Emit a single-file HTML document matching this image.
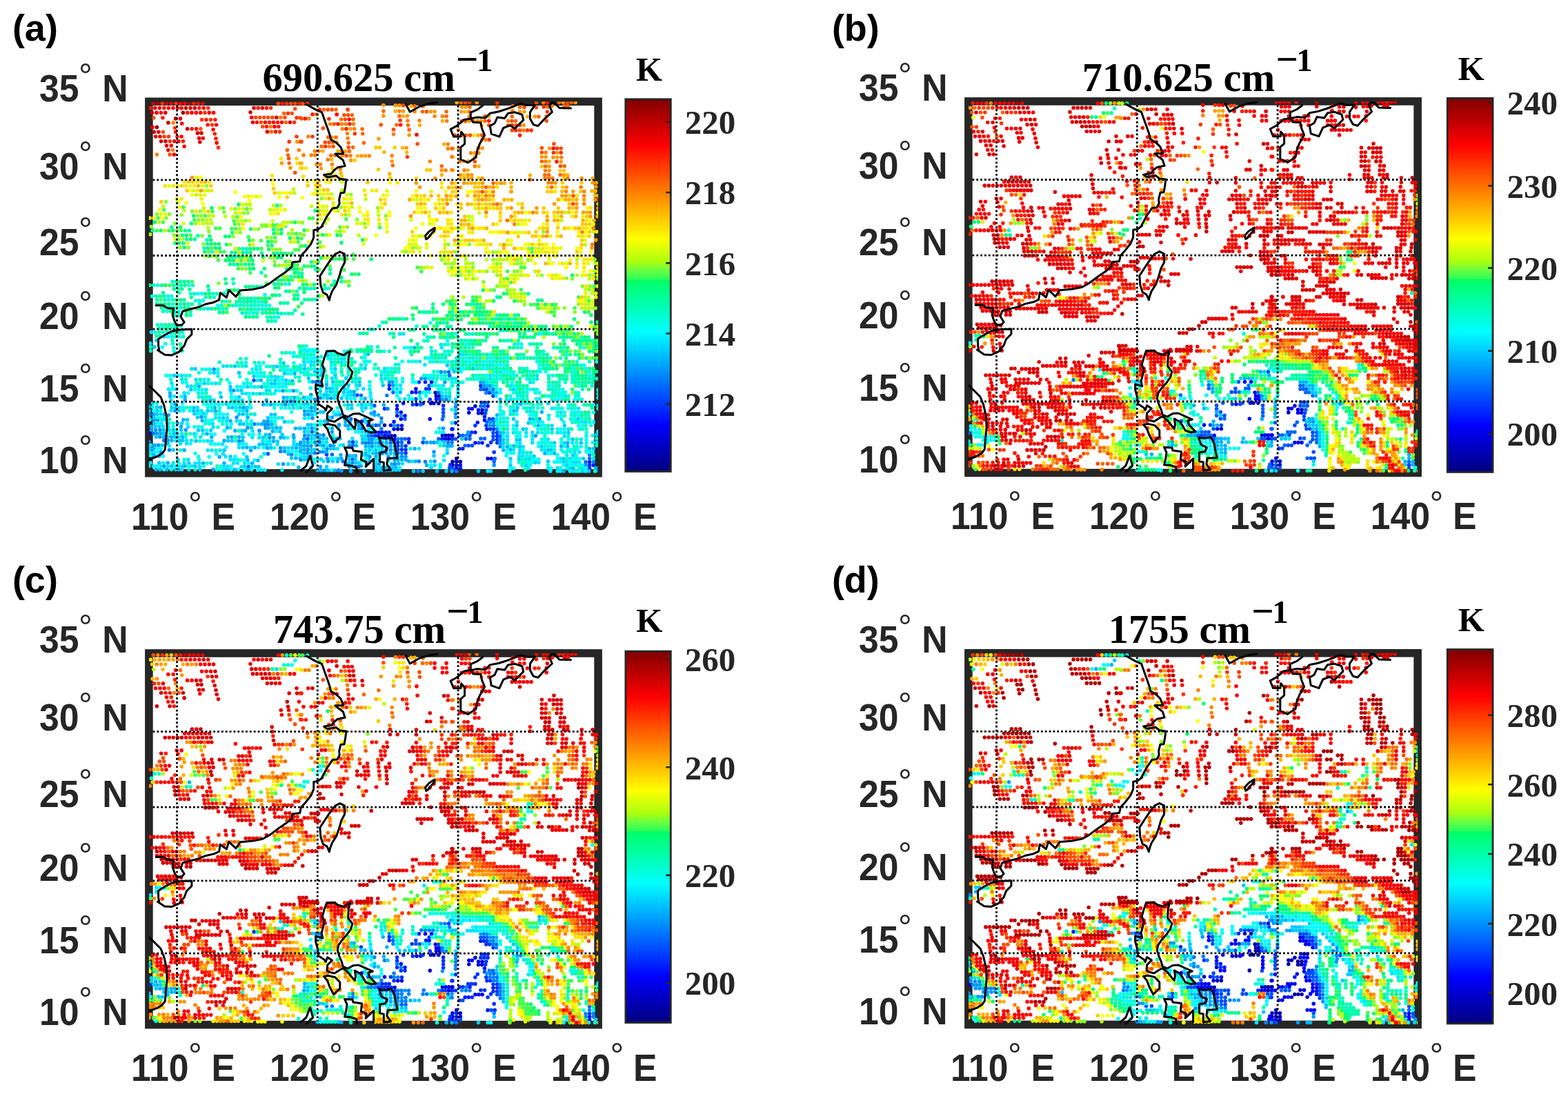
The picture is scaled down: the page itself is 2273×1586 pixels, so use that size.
<!DOCTYPE html>
<html lang="en"><head><meta charset="utf-8"><title>Brightness temperature maps</title>
<style>html,body{margin:0;padding:0;background:#fff}body{width:2273px;height:1586px;overflow:hidden}svg{display:block}.s{font-family:"Liberation Sans", Arial, Helvetica, sans-serif;font-weight:bold;font-size:52.5px;fill:#262626}.p{font-family:"Liberation Sans", Arial, Helvetica, sans-serif;font-weight:bold;font-size:54px;fill:#000}.t{font-family:"Liberation Serif", "Times New Roman", Times, serif;font-weight:bold;font-size:58.5px;fill:#000}.u{font-family:"Liberation Serif", "Times New Roman", Times, serif;font-weight:bold;font-size:46.8px;fill:#000}.k{font-family:"Liberation Serif", "Times New Roman", Times, serif;font-weight:bold;font-size:49px;fill:#000}.c{font-family:"Liberation Serif", "Times New Roman", Times, serif;font-weight:bold;font-size:49px;fill:#262626}.o{font-family:"Liberation Sans", Arial, Helvetica, sans-serif;font-weight:normal;font-size:49.5px;fill:#262626}.g{stroke:#000;stroke-width:2.8;stroke-dasharray:2.8 3.05;fill:none}.l{stroke:#000;stroke-width:3;fill:none;stroke-linejoin:round;stroke-linecap:round}.d{fill:none;stroke-width:5.6;stroke-linecap:round}</style></head><body>
<svg width="2273" height="1586" viewBox="0 0 2273 1586">
<defs><linearGradient id="jet" x1="0" y1="0" x2="0" y2="1"><stop offset="0" stop-color="#800000"/><stop offset="0.125" stop-color="#ff0000"/><stop offset="0.375" stop-color="#ffff00"/><stop offset="0.4373" stop-color="#aaff10"/><stop offset="0.46" stop-color="#69ff41"/><stop offset="0.485" stop-color="#28ff5a"/><stop offset="0.4851" stop-color="#00ff64"/><stop offset="0.625" stop-color="#00ffff"/><stop offset="0.875" stop-color="#0000ff"/><stop offset="1" stop-color="#000080"/></linearGradient>
<clipPath id="ax"><rect x="215.9" y="147.3" width="651.2" height="538.6"/></clipPath>
<g id="coast" class="l"><path d="M444.5 151.5L457.6 158.9L466.6 162.8L471.2 175.9L475.7 188.4L478.0 195.2L479.7 202.6L487.1 206.5L493.9 213.3L496.7 220.1L497.9 223.0L485.9 223.0L490.5 227.0L497.3 232.1L500.1 240.6L489.3 242.8L483.7 247.4L480.3 251.9L469.5 253.6L474.6 257.0L487.1 254.8L492.8 259.3L501.8 260.4L500.7 270.1L499.0 279.2L493.9 279.7L491.6 289.4L492.2 295.1L488.8 301.3L482.0 301.9L473.5 314.4L466.6 327.5M588.1 150.9L594.3 162.3L608.5 154.3L622.2 150.3L633.5 148.6M436.0 372.9L434.5 379.1L423.7 380.3L423.2 386.5L414.6 393.9L402.2 402.4L390.8 410.9L380.6 416.6L367.0 419.4L348.2 421.1L342.0 430.2L331.8 420.6L328.4 431.4L319.3 424.5L317.6 434.8L310.2 438.2L297.7 441.0L288.6 445.0L277.3 447.8L264.8 451.2L262.0 459.2L267.1 467.1L263.7 471.1L256.3 471.7L252.9 465.4L250.1 456.9L251.8 447.3L243.2 446.7L236.4 442.7L226.2 442.7M230.8 507.5L229.6 501.2L229.6 491.5L238.7 485.8L248.9 480.2L261.4 477.9L277.9 477.3L277.9 484.7L270.5 492.1L267.1 501.2L261.4 507.5M467.8 327.5L461.0 332.6L454.7 333.7L454.7 344.5L450.8 353.6L442.8 363.8L436.0 371.2M492.8 365.0L499.6 368.4L499.6 380.8L495.0 389.4L491.6 401.3L487.6 412.6L481.4 422.3L478.6 429.7L477.4 435.3L474.0 427.4L468.3 424.0L464.9 413.8L463.8 400.1L471.2 388.8L480.3 375.2L485.9 368.4L492.8 365.0M617.6 346.8L616.5 341.7L622.2 335.4L630.1 330.3L630.1 333.7L624.4 340.0L619.9 345.7L617.6 346.8M216.0 559.1L223.9 566.5L233.0 575.6L237.6 587.0L241.5 604.0L242.1 621.0L240.4 638.0L239.3 651.7L235.3 657.3L227.4 661.9L216.0 666.4M228.5 507.5L238.7 514.3L248.9 514.9L258.0 510.9L263.7 507.5M473.5 509.2L484.8 508.6L489.3 512.0L498.4 514.9L503.0 511.5L507.5 509.2L505.2 518.9L504.7 531.3L510.9 539.3L508.6 547.2L503.0 555.2L495.0 564.3L490.5 571.1L489.3 577.9L491.6 585.8L495.0 593.8L497.3 601.7L504.1 604.5L512.0 600.0L520.0 599.4L531.3 604.5L540.4 608.5L533.6 610.2L535.9 616.5L545.0 626.1L538.2 627.3L530.2 624.4L525.7 616.5L522.3 611.9L514.3 607.4L515.5 615.3L514.3 622.1L504.1 609.7L497.3 604.0M473.5 509.2L470.1 518.9L467.2 529.1L470.1 535.9L468.3 545.0L466.1 552.9L467.8 560.3L457.6 557.4L457.6 565.4L460.4 575.6L461.5 585.8L470.1 591.5L472.3 594.9L474.6 588.1L481.4 592.6L474.6 599.4L474.0 607.4L478.0 609.7L484.8 611.4L492.8 606.3L497.3 604.0M469.5 615.9L475.7 614.8L485.9 617.0L492.8 624.4L492.8 633.5L483.7 642.0L478.0 631.2L474.6 622.1L469.5 615.9M549.5 634.6L558.6 635.8L567.7 634.1L572.2 643.7L573.9 653.9L576.2 664.1L562.0 664.7L560.9 673.2L566.5 681.2L556.3 682.3L556.3 670.4L550.6 669.2L550.6 656.2L558.6 655.1L561.4 649.4L552.9 644.8L549.5 634.6M517.7 684.6L516.6 677.8L508.6 674.9L499.6 674.4L501.8 665.3L503.0 656.2L499.6 648.8L510.9 649.4L512.0 653.4L524.5 655.1L523.4 666.4L531.3 669.8L530.2 676.6L541.6 665.3L541.6 682.3M436.0 682.3L443.9 675.5L449.6 660.7L453.6 675.5L443.9 684.6M682.3 171.9L672.6 173.4L667.8 177.8L661.9 182.6L653.2 187.4L657.6 198.1L667.8 198.1L668.7 191.3L673.6 197.1L673.6 208.7L667.8 213.6L667.8 231.0L678.4 235.8L690.0 228.1L692.0 217.4L695.8 207.8L702.6 196.1L698.7 186.5L696.8 177.8L686.1 177.3L682.3 171.9M699.7 153.1L692.0 158.9L682.3 163.2L682.3 171.9L692.0 170.0L703.6 171.0L710.3 164.2L722.9 161.8L736.5 157.4L754.9 150.2L763.6 152.6L775.2 152.6L768.4 162.7L768.4 171.9L773.3 180.7L780.0 182.6L788.8 172.9L800.4 162.3L796.5 153.6L801.3 146.8L811.0 156.5L827.5 156.9M710.3 182.6L717.1 178.7L721.0 170.0L731.6 171.5L736.5 164.2L746.2 162.7L756.8 166.1L758.8 173.9L746.2 186.5L739.4 181.6L729.7 185.5L723.9 198.1L712.3 194.2L710.3 182.6"/></g>
<g id="grid" class="g">
<path d="M256.5 152.9V680.9"/>
<path d="M460.3 152.9V680.9"/>
<path d="M664.1 152.9V680.9"/>
<path d="M221.5 260.9H862.1"/>
<path d="M221.5 370.5H862.1"/>
<path d="M221.5 477.2H862.1"/>
<path d="M221.5 582.4H862.1"/>
</g>
</defs>
<rect width="2273" height="1586" fill="#fff"/>
<g transform="translate(0 0)">
<rect x="215.9" y="147.3" width="651.2" height="538.6" fill="none" stroke="#262626" stroke-width="11.6"/>
<g class="d" clip-path="url(#ax)"><path stroke="#000099" d="M698.6 598.9h0M557.5 616.5h0M576.7 622.1h0M582.4 622.1h0M661.7 664.7h0M656 669.2h0"/>
<path stroke="#0000b3" d="M632.4 574.5h0M646 631.2h0M572.2 631.8h0M667.4 669.2h0M656 674.4h0"/>
<path stroke="#0000cc" d="M631.2 569.4h0M636.9 574.5h0M635.8 584.7h0M688.9 588.7h0M699.1 594.3h0M641.4 631.2h0M650.5 631.2h0M655.1 631.2h0M650.2 636.3h0M655.1 636.3h0M707.1 664.7h0"/>
<path stroke="#0000e6" d="M625.6 554h0M624.4 584.7h0M679.8 598.3h0M581.3 607.4h0M623.3 607.4h0M656 631.2h0M712.2 664.7h0M661.7 669.2h0M661.7 678.9h0"/>
<path stroke="#0000ff" d="M602.9 563.7h0M629 584.7h0M604 586.4h0M575.6 593.2h0M581.3 597.7h0M575.6 602.8h0M587 602.8h0M702.5 609.1h0M566.5 616.5h0M571.1 622.1h0M655.1 622.1h0M554 626.7h0M216 628.4h0M557.7 631.8h0M567.4 631.8h0M645.4 636.3h0M592.6 641.4h0M688.9 642h0M656 682.9h0"/>
<path stroke="#0019ff" d="M616.5 554h0M564.3 563.7h0M597.2 568.8h0M602.9 568.8h0M632.4 579h0M584.7 584.7h0M613.1 584.7h0M575.6 588.1h0M707.1 588.7h0M679.8 592.6h0M684.4 592.6h0M693.5 594.3h0M693.5 598.9h0M702.5 604h0M524.5 610.8h0M571.1 611.4h0M692.3 612.5h0M660.5 613.1h0M533.6 616.5h0M582.4 617h0M656 622.1h0M705.9 622.1h0M549.5 626.7h0M559.2 626.7h0M688.9 626.7h0M548.1 631.8h0M562.6 631.8h0M640.6 636.3h0M572.2 636.9h0M699.1 642h0M670.8 650.5h0M854.6 669.8h0M661.7 674.4h0M667.4 674.4h0M860.3 674.4h0M667.4 678.9h0"/>
<path stroke="#0033ff" d="M607.4 554h0M564.3 558.6h0M696.9 559.4h0M617.6 563.7h0M622.2 563.7h0M709.7 569.4h0M715 574.1h0M623.3 579h0M636.9 579h0M642.6 588.1h0M557.5 592.6h0M688.9 617h0M704.8 617h0M710.9 622.1h0M715.8 622.1h0M564.3 626.7h0M683.8 626.7h0M720.7 627.3h0M543.3 631.8h0M720.7 632.4h0M592.6 636.3h0M656 636.3h0M566.2 636.9h0M720.7 637.5h0M511.5 640.9h0M576.7 641.4h0M711.6 641.4h0M720.7 642h0M707.1 646h0M576.7 646.5h0M588.1 646.5h0M666.2 650.5h0M582.4 651.7h0M588.1 651.7h0M716.2 655.6h0M588.1 656.8h0M473.5 659h0M652.8 673.8h0M854.6 674.4h0M854.6 678.9h0"/>
<path stroke="#004dff" d="M368.1 551.2h0M622.2 559.1h0M701.4 564.5h0M705.9 564.5h0M517.7 572.8h0M602.9 578.4h0M698 583.5h0M702.5 583.5h0M598.3 586.4h0M542.7 588.1h0M642.6 593.2h0M704.8 594.3h0M642.6 598.3h0M703.7 598.9h0M709.3 607.4h0M714.5 607.4h0M545 616.5h0M576.7 617h0M544.6 626.7h0M715 627.3h0M666.2 631.2h0M681 631.2h0M552.9 631.8h0M715 632.4h0M660.5 636.3h0M715 637.5h0M613.1 641.4h0M694 642h0M679.3 646h0M684.4 646h0M576.7 651.7h0M576.7 656.8h0M651.7 677.8h0M656 678.9h0"/>
<path stroke="#0066ff" d="M650.5 539.3h0M651.7 544.4h0M696.9 564.5h0M715 564.5h0M569.9 568.8h0M608.5 568.8h0M635.8 569.4h0M523.4 573.3h0M707.1 583.5h0M609.7 586.4h0M696.9 588.7h0M702 588.7h0M642.6 603.4h0M508.6 607.4h0M587 607.4h0M641.4 608h0M534.8 611.9h0M705.9 611.9h0M524.5 621.6h0M452.3 626.1h0M671.1 631.2h0M538.4 631.8h0M725.2 632.4h0M445.8 636.3h0M582 636.3h0M587.3 636.3h0M635.8 636.3h0M675.3 636.3h0M681 636.3h0M696.9 635.8h0M702.5 635.8h0M485.9 640.3h0M463.2 640.9h0M582.4 641.4h0M566.2 642h0M572.2 642h0M511.5 646h0M674.2 646h0M388.5 657.9h0M481.4 659h0M717.3 664.7h0M854.6 664.7h0M510.9 665.8h0M497.3 668.7h0M716.2 669.2h0M849 669.8h0M360.2 676.6h0"/>
<path stroke="#0080ff" d="M639.2 539.3h0M458.1 553.5h0M463.2 553.5h0M704.8 569.4h0M560.9 573.3h0M464.4 576.7h0M647.1 579h0M660.5 589.8h0M562 592.6h0M575.6 597.7h0M660.5 600h0M217.1 600.6h0M552.9 606.3h0M228.5 608.5h0M518.9 611.9h0M715.8 611.9h0M368.9 614.8h0M549.5 616.5h0M715.4 617h0M552.9 621.6h0M720.7 622.1h0M222.8 628.4h0M468.9 630.7h0M533.6 631.8h0M576.7 636.3h0M725.2 637.5h0M237.6 638.6h0M346.5 639.2h0M216 640.3h0M649.4 641.4h0M655.1 641.4h0M530.2 642h0M534.8 642h0M549.5 642h0M478.8 646h0M582.4 646.5h0M725.2 647.5h0M474 650.5h0M245.5 652.2h0M560.1 652.2h0M406.7 654.5h0M463.2 655.1h0M456.4 656.8h0M582.4 656.8h0M422.6 659h0M854.6 659.6h0M535.9 662.4h0M435.1 664.1h0M607.4 668.7h0M616.5 669.2h0M860.3 669.8h0M510.9 671h0M572.2 672.7h0M506.4 676.6h0M520 676.6h0M564.3 677.8h0M490.5 681.7h0M606.3 682.9h0M661.7 682.9h0"/>
<path stroke="#0099ff" d="M310.2 535.3h0M610.8 548.9h0M616.5 548.9h0M453 553.5h0M564.3 553.5h0M568.8 553.5h0M644.9 554h0M696.9 554.3h0M569.9 558.6h0M701.4 559.4h0M710.5 559.4h0M338.6 566h0M410.1 566.5h0M425.4 566.5h0M450.8 572.2h0M479.7 577.3h0M456.4 579h0M641.4 579h0M421.4 581.3h0M254.6 585.8h0M413.7 586.4h0M353 590.9h0M451.3 590.9h0M253.8 595.5h0M441.7 596h0M542.7 597.2h0M447 601.1h0M492.8 601.1h0M244.4 601.7h0M581.3 602.8h0M292 604.5h0M343.1 605.1h0M481.4 605.1h0M453 606.3h0M499.6 606.3h0M782 607.4h0M223.4 608.5h0M388.2 610.8h0M474.6 610.8h0M710.9 611.9h0M257.2 613.6h0M384 615.3h0M388.5 615.3h0M491.6 615.9h0M571.1 617h0M710.1 617h0M359 619.9h0M385.1 620.4h0M452.2 621h0M642.6 621h0M219.4 623.3h0M225.6 623.3h0M231.9 623.3h0M269.3 623.3h0M376 624.4h0M481.4 626.1h0M678.7 626.7h0M227.9 628.4h0M441.7 631.2h0M676.1 631.2h0M776.3 631.8h0M231.9 633.5h0M390.8 634.6h0M534.8 636.9h0M539.3 636.9h0M243.2 638.6h0M436 641.4h0M456.4 641.4h0M618.7 641.4h0M629 641.4h0M525.7 642h0M539.3 642h0M725.2 642.6h0M435.1 644.3h0M229.9 645.4h0M468.9 646h0M506.4 646h0M450.8 646.5h0M539.3 647.1h0M554 647.1h0M406.7 649.4h0M446.2 651.7h0M566.2 652.2h0M363.6 652.8h0M412.4 654.5h0M468.3 655.1h0M629 655.1h0M233 655.6h0M436 656.8h0M446.2 656.8h0M554 657.3h0M563.1 662.4h0M582.4 661.9h0M588.1 661.9h0M474.6 664.7h0M436 666.4h0M475.7 668.7h0M630.1 668.7h0M504.1 672.1h0M410.5 672.7h0M549.5 672.7h0M716.2 674.4h0M849 674.4h0M237.6 675.7h0M464.4 676.6h0M515.5 676.6h0M309.1 680.6h0M470.4 681.7h0M495 682.3h0M564.3 681.7h0M868.3 682.9h0"/>
<path stroke="#00b2ff" d="M601 504h0M533.6 513.2h0M456.4 538.1h0M644.9 539.3h0M427.1 541.6h0M378.3 551.2h0M423.7 552.3h0M701.4 554.3h0M473.5 557.4h0M465.5 558.6h0M705.9 559.4h0M288.6 559.9h0M379 560.8h0M473.5 563.1h0M513.2 567.7h0M580.2 568.8h0M714.6 569.4h0M719.6 569.4h0M246.6 569.9h0M513.2 572.8h0M246.6 574.5h0M268.2 575h0M411.2 576.2h0M426.6 576.2h0M440.5 576.2h0M529.1 577.9h0M725.2 579h0M268.2 579.6h0M386.3 580.1h0M426.6 581.3h0M660.5 584.7h0M381.7 586.4h0M392.4 586.4h0M754.8 585.8h0M556.3 587h0M216 589.2h0M233 590.4h0M311.3 590.9h0M357.9 595.5h0M744.5 595.5h0M312.5 596h0M451.5 596h0M785.4 597.2h0M538.2 599.4h0M223.4 600.6h0M238.1 600.6h0M441.7 601.1h0M542.7 601.7h0M548.4 601.7h0M720.7 601.7h0M359 605.1h0M660.5 605.1h0M216 605.7h0M768.4 607.4h0M265.9 608.5h0M293.2 609.7h0M334 610.2h0M382.9 610.8h0M500.7 611.4h0M507.5 611.9h0M552.9 611.9h0M379.5 614.8h0M393.6 615.3h0M500.7 616.5h0M520 616.5h0M524.5 616.5h0M540.4 616.5h0M505.2 617h0M780.3 617h0M219.4 618.2h0M262.5 618.2h0M329.5 619.9h0M389.7 620.4h0M401 620.4h0M428.3 621h0M441.4 621h0M481.4 621h0M520 621.6h0M340.9 624.4h0M355.6 624.4h0M395.3 625.5h0M534.8 626.7h0M539.7 626.7h0M725.2 627.3h0M233 628.4h0M300 629h0M390.8 630.1h0M425.4 630.7h0M447 631.2h0M457.6 631.2h0M463.2 630.7h0M237.6 633.5h0M248.2 633.5h0M264.8 633.5h0M306.8 633.5h0M335.9 633.5h0M346.5 633.5h0M396.5 634.6h0M406.7 634.6h0M426 634.6h0M440.5 636.3h0M463.2 635.8h0M488.2 635.8h0M492.8 635.8h0M614.2 635.8h0M560.1 636.9h0M248.9 638.6h0M325 638.9h0M351.6 639.2h0M396.5 639.7h0M446.2 641.4h0M506.4 640.9h0M624.4 641.4h0M554 642h0M560.1 642h0M822.9 642h0M243.2 643.1h0M224.5 645.4h0M458.7 645.4h0M483.7 646h0M516.6 646h0M436 646.5h0M440.9 646.5h0M445.8 646.5h0M530.2 647.1h0M566.2 647.1h0M572.2 647.1h0M648.3 646.5h0M651.7 646.5h0M655.1 646.5h0M735.5 647.5h0M744.5 646.5h0M813.8 647.1h0M822.9 647.1h0M357.9 648.8h0M369.2 648.8h0M387.4 649.4h0M429.4 649.4h0M222.4 650.5h0M601.2 650.5h0M854.6 650.5h0M436 651.7h0M441.1 651.7h0M572.2 652.2h0M740 651.7h0M267.1 652.6h0M729.8 652.6h0M435.1 654.5h0M473.5 655.1h0M530.2 657.3h0M545 657.3h0M549.5 657.3h0M560.1 657.3h0M572.2 657.3h0M789.9 657.3h0M803.6 657.3h0M418 657.9h0M223.9 660.2h0M493.9 659.6h0M531.3 659.6h0M230.8 661.3h0M506.4 660.7h0M515.5 660.7h0M318.2 662.4h0M450.8 661.9h0M545 662.4h0M428.8 664.1h0M495 664.7h0M446.2 666.4h0M576.7 666.4h0M582.4 666.4h0M588.1 666.4h0M359 667h0M373.8 667.5h0M572.2 667.5h0M489.3 668.7h0M592.6 668.7h0M602.5 668.7h0M535.9 669.8h0M243.2 671h0M294.3 671.5h0M325 671.5h0M365.8 671.5h0M577.9 672.1h0M567.7 672.7h0M618.7 674.4h0M523.4 675.5h0M268.2 675.7h0M432.8 677.2h0M450.8 677.8h0M554 677.8h0M573.9 677.8h0M863.7 678.3h0M830.8 678.9h0M226.2 680.6h0M242.1 680.6h0M259.1 680.6h0M340.2 680.6h0M359.6 680.6h0M460.4 681.7h0M465.4 681.7h0M485.5 681.7h0M543.8 681.7h0M554 681.7h0M508.6 682.9h0M527.9 682.9h0M633.5 682.9h0M655.1 682.9h0M817.2 682.9h0"/>
<path stroke="#00ccff" d="M226.8 493.2h0M223.9 502.9h0M666.2 514h0M475.2 514.9h0M411.2 526.2h0M648.3 529.6h0M340.3 530.8h0M401.6 531.3h0M529.1 534.2h0M656 534.4h0M686 534.4h0M283 534.7h0M441.4 534.7h0M465.5 534.7h0M485.9 534.7h0M658.3 538.7h0M310.2 540.4h0M346.5 540.4h0M412.4 541.6h0M252.3 544.4h0M465.5 543.8h0M485.9 543.8h0M368.1 545.5h0M447.4 548.4h0M501.8 548.4h0M399 551.2h0M414.6 551.2h0M482.5 553.5h0M521.1 553.5h0M296.2 555.7h0M393.4 556.3h0M398.6 556.3h0M460.4 558.6h0M505.2 558.6h0M521.1 558.6h0M555.2 558.6h0M663.9 559.7h0M334 560.8h0M358.9 560.8h0M478 563.1h0M255.7 564.3h0M499.6 563.7h0M710.5 564.5h0M744.5 564.5h0M276.7 564.8h0M334 565.4h0M349.9 566h0M464.4 567.1h0M479.1 567.7h0M508.6 567.7h0M498.4 568.8h0M377.2 570.8h0M470.1 572.2h0M474.6 572.8h0M641.4 574.5h0M646.6 574.5h0M651.7 574.5h0M320.4 575.6h0M346.5 575.6h0M416.3 576.2h0M474.6 577.3h0M495 577.3h0M449.6 579h0M304.9 580.1h0M411.2 581.3h0M794.5 584.7h0M328.4 585.8h0M424.4 586.4h0M441.1 585.8h0M446.2 585.8h0M456.4 585.8h0M524.5 586.4h0M538.2 586.4h0M504.7 587h0M509.8 587h0M227.4 590.4h0M248.9 590.9h0M254.3 590.9h0M281 590.9h0M336.9 590.9h0M347.7 590.9h0M358.3 590.9h0M436 590.9h0M456.4 590.9h0M530.2 591.5h0M750.2 590.9h0M509.8 592.1h0M216 595.5h0M227.9 595.5h0M259.9 595.5h0M280.7 595.5h0M286.4 595.5h0M301.1 595.5h0M660.5 594.9h0M749.1 594.9h0M446.6 596h0M456.4 596h0M464.4 597.2h0M468.9 597.2h0M294.9 599.4h0M281.8 600h0M227.9 600.6h0M346.5 600.6h0M352.2 600.6h0M393.1 601.1h0M398.7 601.1h0M452.3 601.1h0M485.9 601.1h0M489.3 601.1h0M286.4 605.1h0M223.4 605.7h0M323.8 605.7h0M388.5 605.7h0M504.1 607.4h0M529.1 607.4h0M744.5 607.4h0M772.9 607.4h0M838 607.4h0M271.6 608.5h0M412.4 611.4h0M470.1 610.8h0M766.1 613.1h0M223.9 613.6h0M263.7 613.6h0M347.7 614.8h0M353 614.8h0M374.2 614.8h0M446.2 615.9h0M451.1 615.9h0M749.1 617h0M818.3 617h0M225.1 618.2h0M230.8 618.2h0M364.7 619.9h0M395.3 620.4h0M406.7 620.4h0M433.9 621h0M436 621h0M505.2 621.6h0M758.2 622.1h0M800.2 622.1h0M237 623.3h0M251.2 623.3h0M262.5 623.3h0M287.5 623.8h0M293.6 623.8h0M305.7 623.8h0M351.1 624.4h0M405.6 625.5h0M441.7 626.1h0M530.2 626.1h0M729.8 627.3h0M824 627.3h0M237.6 628.4h0M251.8 628.4h0M256.9 628.4h0M281.8 629h0M385.1 630.1h0M409 630.1h0M864.9 630.1h0M452.3 631.2h0M226.2 633.5h0M242.9 633.5h0M253.5 633.5h0M330.6 633.5h0M352.2 634.1h0M381.7 634.4h0M411.8 634.6h0M451.1 636.3h0M468.3 635.8h0M473.5 635.8h0M483.7 635.8h0M669.6 636.3h0M525.7 636.9h0M549.5 636.9h0M729.8 637.5h0M749.1 637.5h0M753.6 637.5h0M830 636.9h0M260.3 638.6h0M264.8 638.6h0M284.1 639.2h0M330.6 638.9h0M336.3 638.9h0M402.2 639.7h0M441.1 641.4h0M633.5 641.4h0M643.7 640.9h0M544.4 642h0M803.6 642h0M818.3 642h0M842.2 642h0M729.8 642.6h0M376 644.3h0M381.3 644.3h0M386.6 644.3h0M430.5 644.3h0M235.3 645.4h0M464.4 645.4h0M497.3 645.4h0M643.7 646h0M534.8 647.1h0M549.5 647.1h0M560.1 647.1h0M753.6 647.5h0M785.4 647.1h0M352.2 648.8h0M392.5 649.4h0M412.4 649.4h0M423.7 649.4h0M435.1 649.4h0M217.1 650.5h0M479.1 650.5h0M484.2 650.5h0M860.3 650.5h0M251.2 652.2h0M451.3 651.7h0M456.4 651.7h0M535.9 652.2h0M545 652.2h0M554 652.2h0M794.5 652.2h0M799 652.2h0M325 652.8h0M441.1 656.8h0M451.3 656.8h0M540.4 657.3h0M566.2 657.3h0M648.3 656.8h0M830.8 660.2h0M510.9 660.7h0M629 660.7h0M774 661.3h0M334 661.9h0M357.9 662.4h0M445.8 661.9h0M572.2 662.4h0M422.6 664.1h0M489.9 664.7h0M534.8 664.7h0M740 664.7h0M817.2 664.7h0M845.6 664.7h0M258 666.4h0M441.1 666.4h0M465.5 665.8h0M506.4 665.8h0M515.5 665.8h0M752.5 665.8h0M766.6 665.8h0M549.5 667.5h0M482.5 668.7h0M794.5 668.7h0M817.2 669.2h0M776.1 670.4h0M230.8 671h0M506.4 671h0M515.5 671h0M520 671h0M273.9 671.5h0M545 672.7h0M821.7 674.4h0M740 674.9h0M762.7 674.9h0M248.9 675.7h0M264.8 675.7h0M283 676.1h0M354.5 676.6h0M369.8 676.6h0M374.9 676.6h0M473.5 676.6h0M510.9 676.6h0M545 677.8h0M559.7 677.8h0M568.8 677.8h0M625 677.8h0M826.3 678.9h0M231.9 680.6h0M254.6 680.6h0M289.8 680.6h0M329.8 680.6h0M568.8 681.2h0M573.9 681.2h0M579 681.2h0M475.4 681.7h0M548.9 681.7h0M599.5 682.9h0M613.1 682.9h0M647.1 682.9h0M693.5 682.9h0M711.6 682.9h0M844.4 682.9h0M853.5 682.9h0"/>
<path stroke="#00e5ff" d="M301.4 447.6h0M351.1 453.7h0M402.2 453.7h0M219.4 481.6h0M579.6 483.9h0M584.7 483.9h0M238.1 488.1h0M217.7 497.8h0M639.2 499.5h0M640.3 504h0M441.7 507.1h0M445.8 509.2h0M625.6 509.2h0M671.2 514h0M495 520h0M499.6 520h0M608.5 524h0M660.9 524.2h0M440.5 524.5h0M450.5 524.5h0M455.3 524.5h0M480.3 525.1h0M495 525.1h0M523.4 529.1h0M615.9 528.8h0M690.7 529.3h0M700.6 529.3h0M710.5 529.3h0M441.7 529.6h0M450.8 529.6h0M323.8 530.8h0M329.3 530.8h0M356.7 530.8h0M396.5 531.3h0M435.1 531.9h0M557.5 534.2h0M666 534.4h0M277.9 534.7h0M371.5 535.3h0M465.5 538.7h0M557.5 538.7h0M725.5 539.3h0M263.7 544.4h0M552.9 543.8h0M710.5 544.4h0M778.6 544.4h0M393.6 546.1h0M398.7 546.1h0M403.3 546.7h0M481.4 548.4h0M516 548.9h0M552.9 548.9h0M558.6 548.9h0M622.2 548.9h0M627.8 548.9h0M655.1 549.5h0M656 548.9h0M660.5 548.9h0M710.5 549.5h0M778.6 549.5h0M263.7 550.1h0M284.1 550.4h0M373.2 551.2h0M473.5 553.5h0M497.3 553.5h0M510.9 553.5h0M705.9 554.3h0M768.4 554.3h0M248.9 555.2h0M312.7 555.7h0M414.4 556.3h0M516.6 558.6h0M580.2 558.6h0M626.7 559.1h0M642.6 559.1h0M715 559.4h0M740 559.4h0M271.6 559.9h0M277.3 559.9h0M368.9 560.8h0M482.5 563.1h0M488.2 563.1h0M244.4 564.3h0M526.8 563.7h0M569.9 563.7h0M575.6 563.7h0M773.7 564.5h0M800.7 564.5h0M298.9 564.8h0M663.9 564.8h0M344.3 566h0M386.3 566h0M390.8 566h0M399.9 566.5h0M473.5 567.7h0M483.7 567.7h0M504.1 568.8h0M537 569.4h0M640.3 569.4h0M753.6 569.4h0M267.1 569.7h0M319.3 569.7h0M351.1 570.5h0M356.7 570.5h0M367 570.8h0M484.8 572.8h0M489.3 572.8h0M504.1 573.3h0M508.6 572.8h0M252.3 574.5h0M758.2 574.1h0M819.5 574.1h0M293.9 575.4h0M468.9 576.7h0M484.8 577.3h0M503 577.9h0M587 578.4h0M609.7 578.4h0M782 578.4h0M442.8 579h0M538.2 579h0M660.5 579h0M734.3 579h0M740 579h0M247.8 579.6h0M310.2 580.1h0M342 580.1h0M351.6 580.1h0M651.7 579.6h0M416.3 581.3h0M221.7 584.7h0M387.1 586.4h0M397.7 586.4h0M408.4 586.4h0M419.1 586.4h0M749.6 585.8h0M860.3 587h0M259.6 590.9h0M286.4 590.9h0M331.8 590.9h0M342 590.9h0M425.7 591.5h0M524.5 591.5h0M768.4 591.5h0M800.2 592.1h0M838.7 592.1h0M247.8 595.5h0M292 595.5h0M306.8 595.5h0M352.6 595.5h0M525.7 596h0M768.4 596.6h0M813.2 597.7h0M233 600.6h0M357.9 600.6h0M369.2 600.6h0M740 600.6h0M795.6 602.3h0M297.7 604.5h0M476.9 605.1h0M237.6 605.7h0M312.5 605.7h0M318.2 605.7h0M329.5 605.7h0M409 605.7h0M441.7 606.3h0M719.6 607.4h0M813.8 607.4h0M217.1 608.5h0M234.2 608.5h0M238.7 608.5h0M328.4 610.2h0M343.1 610.2h0M348.8 610.2h0M393.4 610.8h0M530.2 611.9h0M749.1 611.9h0M780.9 611.9h0M844.4 611.9h0M849 611.9h0M655.1 613.1h0M234.2 613.6h0M244.4 613.6h0M308.5 614.2h0M720.7 617h0M800.2 617h0M236.4 618.2h0M272.8 618.7h0M309.1 619.3h0M334 619.9h0M446.8 621h0M457.6 621h0M490.5 621h0M636.9 621h0M762.7 622.1h0M824 622.1h0M245.5 623.3h0M365.8 624.4h0M447 626.1h0M457.6 626.1h0M525.1 626.1h0M642.6 626.7h0M744.5 627.3h0M762.7 627.3h0M771.8 626.7h0M779.7 627.3h0M808.1 627.3h0M818.3 627.3h0M263.7 629h0M524.5 631.8h0M529.1 631.8h0M735.5 632.4h0M771.8 631.8h0M818.3 632.4h0M259.1 633.5h0M290.9 633.5h0M365.8 634.1h0M376 634.4h0M456.4 636.3h0M510.9 635.8h0M530.2 636.9h0M544.4 636.9h0M554 636.9h0M735.5 637.5h0M771.8 636.9h0M794.5 636.9h0M842.2 636.9h0M270.5 638.6h0M277.3 638.6h0M301.1 639.2h0M306.8 639.2h0M380.6 639.7h0M390.8 639.7h0M426 639.7h0M473.5 640.9h0M516.6 640.9h0M864.9 641.4h0M771.8 642h0M829.7 642h0M261.4 643.1h0M270.5 643.1h0M753.6 642.6h0M322.7 643.7h0M346.5 643.7h0M391.9 644.3h0M402.2 644.3h0M426 644.3h0M218.3 645.4h0M544.4 647.1h0M729.8 647.5h0M758.2 647.5h0M346.5 648.8h0M363.6 648.8h0M418 649.4h0M489.3 650.5h0M594.9 650.5h0M607.4 650.5h0M530.2 652.2h0M648.3 651.7h0M744.5 651.7h0M785.4 652.2h0M789.9 652.2h0M301.1 652.8h0M307.1 652.8h0M319 652.8h0M753.6 652.6h0M418 654.5h0M218.3 655.6h0M223.2 655.6h0M753.6 656.2h0M758.9 656.2h0M769.5 656.2h0M833.1 655.6h0M839.9 655.6h0M323.3 657.9h0M382.9 657.9h0M526.8 659.6h0M821.7 660.2h0M752.5 661.3h0M757.9 661.3h0M327.2 661.9h0M436 661.9h0M440.9 661.9h0M576.7 661.9h0M812.6 664.7h0M826.3 664.7h0M860.3 664.7h0M272.8 666.4h0M334 666.4h0M339.2 666.4h0M460.4 665.8h0M761.8 665.8h0M545 667.5h0M563.1 667.5h0M643.7 667.5h0M468.9 668.7h0M597.6 668.7h0M624.4 668.7h0M821.7 669.2h0M780.9 670.4h0M830.8 669.8h0M835.3 669.8h0M839.9 669.8h0M218.3 671h0M251.2 671h0M455.3 671h0M267.1 671.5h0M283 671.5h0M288.6 671.5h0M305.7 671.5h0M338.6 671.5h0M344.3 671.5h0M354.5 671.5h0M583.6 672.1h0M403.3 672.7h0M417.7 672.7h0M630.1 674.4h0M233 675.7h0M243.2 675.7h0M259.1 675.7h0M278.4 675.7h0M289.2 676.1h0M325 676.1h0M330.1 676.1h0M349.9 676.6h0M364.7 676.6h0M549.5 677.8h0M808.1 678.3h0M766.1 678.9h0M794.5 678.9h0M844.4 678.9h0M263.7 680.6h0M273.9 680.6h0M324.6 680.6h0M378.9 681.2h0M409 681.2h0M559.2 681.7h0M707.1 682.9h0M738.9 682.9h0M797.9 682.9h0M808.1 682.9h0M812.6 682.9h0M830.8 682.9h0"/>
<path stroke="#00ffff" d="M273.9 413.5h0M287 425.7h0M292.5 425.7h0M384 427.2h0M294.3 435.9h0M315.9 442.7h0M361.9 453.7h0M661.1 483.6h0M243.6 488.1h0M260.3 488.1h0M648.8 494.1h0M675.9 498.9h0M750.8 498.7h0M235.3 503.4h0M538.2 502.9h0M586.4 504h0M591.3 504h0M435.1 506.3h0M436 507.1h0M447.4 507.1h0M453 507.1h0M440.9 509.2h0M450.6 509.2h0M455.5 509.2h0M499.6 509.2h0M556.9 509.2h0M475.2 509.8h0M480 509.8h0M420.3 511.5h0M646.4 514.3h0M710.7 514h0M529.1 518.3h0M445.6 519.4h0M450.8 519.4h0M455.6 519.4h0M460.4 519.4h0M621.4 518.9h0M676.4 519.1h0M691.2 519.1h0M735.5 519.1h0M475.7 520h0M485.2 520h0M531.9 524h0M535.9 524h0M597.7 524h0M680.6 524.2h0M705.2 524.2h0M445.6 524.5h0M460.4 524.5h0M725.2 529.3h0M730.3 529.3h0M782 529.3h0M841.6 529.3h0M436 529.6h0M480.3 529.6h0M371.5 530.8h0M377.2 530.8h0M524.5 534.2h0M542.7 534.2h0M567.7 534.2h0M671 534.4h0M782 534.4h0M293.2 535.3h0M455.9 534.7h0M480.3 534.7h0M495 534.7h0M505.2 534.7h0M427.1 536.4h0M461.5 538.1h0M471.2 538.7h0M577.9 539.3h0M668.5 538.7h0M715.5 539.3h0M730.5 539.3h0M735.5 539.3h0M791.1 538.7h0M315.9 540.4h0M481.4 539.8h0M485.9 539.8h0M372.1 540.6h0M416.9 541.6h0M422 541.6h0M456.4 543.3h0M241 544.4h0M246.6 544.4h0M258 544.4h0M619.1 544.4h0M624 544.4h0M634.6 544.4h0M705.5 544.4h0M744.5 544.4h0M373.8 545.5h0M378.3 545.5h0M388.5 546.1h0M409 546.7h0M583.6 548.9h0M598.3 548.9h0M640.3 549.5h0M691.7 549.5h0M763.8 549.5h0M296.2 550.4h0M409.4 551.2h0M419.2 552.3h0M448.5 553.5h0M574.5 553.5h0M598.3 554h0M602.9 554h0M631.2 554h0M660.9 554.3h0M670.8 554.3h0M270.5 554.6h0M332.9 555.2h0M290.7 555.7h0M353.3 555.7h0M363.6 555.7h0M382.9 556.3h0M403.9 556.3h0M409.1 556.3h0M482.5 558.6h0M497.3 558.6h0M535.9 559.1h0M637.3 559.1h0M744.5 559.4h0M839.1 559.4h0M250.1 559.9h0M343.7 560.6h0M348.8 560.8h0M353.8 560.8h0M363.9 560.8h0M393.8 560.8h0M399 560.8h0M404.2 560.8h0M414.6 560.8h0M450.2 562.6h0M464.4 563.1h0M250.1 564.3h0M504.1 563.7h0M581.3 563.7h0M725.2 564.5h0M768.8 564.5h0M816 564.5h0M282.3 564.8h0M287.8 564.8h0M293.3 564.8h0M405 566.5h0M420.3 566.5h0M430.5 566.5h0M575.6 568.8h0M613.1 568.8h0M622.2 568.8h0M663.9 569.4h0M725.2 569.4h0M744.5 569.4h0M763.8 569.4h0M272.8 569.7h0M335.2 570.5h0M361.3 570.5h0M397.6 570.8h0M498.4 573.3h0M592.6 573.3h0M537 574.5h0M575.6 573.9h0M617.6 573.9h0M663.9 573.9h0M719.6 574.1h0M263.1 575h0M335.2 575.6h0M340.9 575.6h0M361.3 575.6h0M445.6 576.2h0M450.8 576.2h0M508.6 577.9h0M593.8 578.4h0M598.3 578.4h0M777.5 578.4h0M754.8 579h0M805.1 579h0M810 579h0M299.6 580.1h0M346.5 580.1h0M431.7 581.3h0M264.8 584.7h0M759.3 584.7h0M295.5 585.8h0M306.4 585.8h0M311.9 585.8h0M322.9 585.8h0M331.8 585.8h0M337.2 585.8h0M342.6 585.8h0M353.3 585.8h0M362.4 585.8h0M403.1 586.4h0M435.1 586.4h0M529.1 586.4h0M533.6 586.4h0M518.9 587h0M824 587h0M867.1 588.1h0M265 590.9h0M275.7 590.9h0M363.6 590.9h0M413.8 591.5h0M446.2 590.9h0M759.3 591.5h0M824 592.1h0M222.8 595.5h0M725.2 594.9h0M422.6 597.2h0M483.7 597.2h0M490.5 597.2h0M828.5 597.7h0M298.9 599.4h0M286.4 600h0M318.2 600.6h0M323.8 600.6h0M329.5 600.6h0M457.6 601.1h0M729.8 600.6h0M749.1 600.6h0M772.9 601.7h0M838.7 602.3h0M813.2 602.8h0M233 605.7h0M393.6 605.7h0M398.7 605.7h0M447.4 606.3h0M730.3 606.3h0M832.7 607.4h0M307.9 609.1h0M303.4 609.7h0M318.2 609.7h0M357.9 610.2h0M364.7 610.2h0M398.7 610.8h0M418 611.4h0M464.4 610.8h0M735.5 611.9h0M775.2 611.9h0M786.5 611.9h0M860.3 611.9h0M229.1 613.6h0M335.2 614.8h0M358.3 614.8h0M456.1 615.9h0M461 615.9h0M735.5 617h0M744.5 617h0M785.4 617h0M789.9 617h0M838.7 617h0M844.4 617h0M293.2 618.7h0M475.7 621h0M509.8 621.6h0M534.8 622.1h0M539.3 622.1h0M725.2 622.1h0M749.1 622.1h0M779.7 622.1h0M808.1 622.1h0M812.6 622.1h0M818.3 622.1h0M839.9 622.1h0M255.7 623.3h0M299.6 623.8h0M325.5 624.4h0M400.4 625.5h0M515.5 626.1h0M867.1 625.5h0M632.4 626.7h0M637.5 626.7h0M735.5 627.3h0M789.9 627.3h0M794.5 627.3h0M813.2 627.3h0M850.1 627.3h0M284.1 629h0M305.7 629.5h0M311.3 629.5h0M367 629.9h0M729.8 632.4h0M753.6 632.4h0M762.7 632.4h0M269.3 633.5h0M416.9 634.6h0M789.9 636.9h0M824 636.9h0M850.1 637.5h0M295.5 639.2h0M385.7 639.7h0M468.3 640.9h0M638 640.9h0M780.9 642h0M794.5 642h0M813.8 642h0M276.2 643.1h0M749.1 642.6h0M305.7 643.7h0M311.3 643.7h0M317 643.7h0M351.6 643.7h0M356.7 643.7h0M492.8 645.4h0M473.8 646h0M780.9 647.1h0M803.6 647.1h0M327.8 648.2h0M374.9 648.8h0M382.3 648.8h0M397.6 649.4h0M227.7 650.5h0M233 650.5h0M540.4 652.2h0M827.4 651.7h0M837.6 651.7h0M758.2 652.6h0M850.1 652.6h0M423.7 654.5h0M429.4 654.5h0M854.6 655.1h0M228.1 655.6h0M817.2 655.6h0M534.8 657.3h0M734.3 657.3h0M740 656.8h0M744.5 656.8h0M794.5 657.3h0M799 657.3h0M313.6 657.9h0M353.3 657.9h0M428.8 659h0M435.1 659h0M808.1 659.6h0M236.4 661.3h0M643.7 660.7h0M734.3 660.7h0M763.3 661.3h0M303.4 662.4h0M340.9 661.9h0M378.3 662.4h0M549.5 662.4h0M479.7 664.7h0M484.8 664.7h0M530.2 664.7h0M808.1 664.7h0M830.8 664.7h0M839.9 664.7h0M288.6 666.4h0M776.1 665.8h0M780.9 665.8h0M353.9 667h0M369.2 667h0M523.4 669.8h0M529.6 669.8h0M740 669.8h0M766.7 670.4h0M808.1 669.8h0M812.6 669.8h0M360.2 671.5h0M624.4 674.4h0M817.2 674.4h0M826.3 674.4h0M830.8 674.4h0M839.9 674.4h0M844.4 674.4h0M768.4 674.9h0M216 675.7h0M222.8 675.7h0M227.4 675.7h0M253.5 675.7h0M295.5 676.1h0M335.2 676.1h0M579 677.8h0M638 677.8h0M744.5 678.9h0M761.6 678.9h0M799 678.9h0M849 678.9h0M237.6 680.6h0M335 680.6h0M345.4 680.6h0M364.7 680.6h0M373.8 681.2h0M384 681.2h0M480.5 681.7h0M826.3 682.9h0M839.9 682.9h0M849 682.9h0"/>
<path stroke="#00ffe3" d="M300 347.9h0M421.7 401.1h0M250.1 408.3h0M413.8 411.7h0M228.5 413.5h0M256.9 413.5h0M445.6 418.3h0M276.2 425.7h0M243.2 429.4h0M248.9 429.4h0M283.5 435.9h0M327.5 437h0M375.1 437.4h0M250.1 440.8h0M342.6 442.7h0M374.7 442.7h0M385.5 442.7h0M390.8 442.7h0M262.1 446.1h0M323 447.6h0M369.6 448.4h0M242.1 451.2h0M413.1 454.6h0M720.1 456.9h0M403.3 459.7h0M584.2 462.3h0M399.3 465.4h0M623.9 468h0M643.3 468h0M262.5 472.2h0M550.1 472.6h0M604 473h0M710.5 473.4h0M247.8 475.6h0M535.9 477.6h0M643.7 478.5h0M730.4 479h0M242.1 479.6h0M225.1 481.6h0M264.8 481.9h0M648.4 484.1h0M685.3 484.1h0M781.3 483.9h0M786.3 483.9h0M249.1 488.1h0M614.8 494.1h0M239.8 498.3h0M250.6 498.3h0M649.4 499.5h0M755.9 498.7h0M443.9 501.7h0M656 504h0M679.6 504h0M755.9 504h0M846.7 504h0M517.7 507.1h0M538.2 507.1h0M252.3 509.2h0M264.2 508.6h0M436 509.2h0M644.9 509.2h0M426 511.5h0M529.1 513.2h0M436 514.3h0M445.6 514.3h0M455.3 514.3h0M820.6 514h0M485.1 514.9h0M495 514.9h0M504.1 514.9h0M425.4 516.6h0M435.1 516.6h0M465.5 517.1h0M626.3 518.9h0M641.1 518.9h0M671.5 519.1h0M710.9 519.1h0M715.8 519.1h0M753.6 519.1h0M527.9 524h0M583 524h0M592.6 524h0M685.5 524.2h0M700.3 524.2h0M710.1 524.2h0M778.6 524.2h0M836.5 524.2h0M500.1 525.1h0M514.3 525.1h0M623.3 524.5h0M628.6 524.5h0M639.2 524.5h0M644.5 524.5h0M649.8 524.5h0M655.1 524.5h0M356.7 525.7h0M381.7 525.7h0M426 526.2h0M577.9 528.5h0M530.2 529.1h0M665.9 529.3h0M675.8 529.3h0M720.1 529.3h0M816.4 529.3h0M846.7 529.3h0M485.4 529.6h0M345.8 530.8h0M386.3 531.3h0M406.7 531.3h0M416.9 531.3h0M430.5 531.9h0M562.6 534.2h0M700.9 534.4h0M705.9 534.4h0M763.8 534.4h0M833.1 534.4h0M298.9 535.3h0M304.5 535.3h0M315.9 535.3h0M365.8 535.3h0M377.2 535.3h0M450.8 534.7h0M470.1 534.7h0M514.3 534.7h0M652.8 534.7h0M411.8 536.4h0M416.9 536.4h0M422 536.4h0M435.1 536.4h0M552.9 538.7h0M634.6 538.7h0M768.1 538.7h0M783.1 538.7h0M828.5 539.3h0M288.6 540.2h0M304.5 540.4h0M436 539.8h0M441.1 539.8h0M446.2 539.8h0M366.7 540.6h0M377.5 540.6h0M382.9 540.6h0M441.7 543.3h0M451.5 543.3h0M269.3 544.4h0M275 544.4h0M460.4 543.8h0M496.2 543.8h0M505.2 543.8h0M545 543.8h0M558.6 543.8h0M640.3 544.4h0M690.5 544.4h0M720.5 544.4h0M740 544.4h0M768.4 544.4h0M801.3 544.4h0M821.7 544.4h0M854.9 544.4h0M315.9 545.5h0M347.7 546.1h0M428.3 546.7h0M473.5 548.9h0M563.1 548.9h0M568.5 548.9h0M677.6 549.5h0M705.8 549.5h0M715 549.5h0M724.9 549.5h0M729.8 549.5h0M773.5 549.5h0M302.3 550.4h0M329.5 550.6h0M357.9 550.6h0M393.8 551.2h0M404.2 551.2h0M583.6 553.5h0M655.1 554h0M656 554.3h0M742.3 554.3h0M829.7 554.3h0M264.8 554.6h0M301.7 555.7h0M307.2 555.7h0M388.1 556.3h0M492.4 558.6h0M656 559.4h0M795.6 559.4h0M800.7 559.4h0M388.5 560.8h0M409.4 560.8h0M517.7 563.7h0M635.8 564.3h0M640.3 564.3h0M646 564.3h0M651.7 564.3h0M719.6 564.5h0M749.1 564.5h0M763.8 564.5h0M778.6 564.5h0M867.1 565.4h0M646 569.4h0M782 569.4h0M805.8 569.4h0M810.4 569.4h0M814.9 569.4h0M819.5 568.8h0M838.7 569.4h0M293.2 569.9h0M382.3 570.8h0M608.5 573.9h0M740 574.1h0M750.2 574.1h0M796 574.1h0M810.2 574.1h0M814.9 574.1h0M834.2 574.1h0M304.5 575.4h0M431.7 576.2h0M867.1 576.7h0M514.3 577.9h0M523.4 577.9h0M579 578.4h0M744.5 579h0M750.2 579h0M814.9 579h0M833.1 579h0M838.2 579h0M843.3 579h0M336.3 580.1h0M362.4 580.1h0M227.4 584.7h0M763.8 584.7h0M248.9 585.8h0M300.9 585.8h0M317.4 585.8h0M436 585.8h0M499.6 587h0M221.7 590.4h0M301.1 590.4h0M306.8 590.4h0M725.2 589.8h0M740 590.4h0M318.2 590.9h0M397.6 591.5h0M407.8 591.5h0M419.7 591.5h0M431.7 591.5h0M441.1 590.9h0M489.3 591.5h0M538.2 591.5h0M744.5 590.9h0M779.7 591.5h0M786.5 591.5h0M805.1 592.1h0M810 592.1h0M814.9 592.1h0M833.8 592.1h0M655.1 593.8h0M275 595.5h0M342 595.5h0M347.3 595.5h0M740 595.5h0M318.2 596h0M729.8 597.2h0M818.3 597.7h0M833.1 597.7h0M837.6 597.7h0M842.9 597.7h0M860.3 597.7h0M290.9 599.4h0M725.2 600.6h0M768.4 601.7h0M848.6 602.3h0M808.1 602.8h0M228.5 605.7h0M403.9 605.7h0M725.2 606.3h0M795.6 607.4h0M827.4 607.4h0M843.3 607.4h0M298.3 609.7h0M322.7 610.2h0M720.7 611.9h0M817.2 611.9h0M271.6 614.2h0M297.7 614.2h0M303.4 614.2h0M322.7 614.8h0M328.9 614.8h0M398.7 615.3h0M465.5 615.3h0M725.2 617h0M730.3 617h0M775.2 617h0M856.9 617h0M244.4 618.2h0M251.2 618.2h0M281.8 618.7h0M287.5 618.7h0M315.9 619.3h0M744.5 622.1h0M520 626.1h0M749.1 627.3h0M753.6 627.3h0M785.4 627.3h0M294.3 629h0M351.1 629.5h0M361.3 629.9h0M376 629.5h0M482.5 631.2h0M859.2 631.2h0M749.1 632.4h0M283 633.5h0M785.4 636.9h0M813.8 636.9h0M254.6 638.6h0M859.2 641.4h0M785.4 642h0M789.9 642h0M850.1 642.6h0M245.5 646.5h0M740 646.5h0M789.9 647.1h0M794.5 647.1h0M799 647.1h0M818.3 647.1h0M836.5 647.1h0M842.2 647.5h0M468.9 650.5h0M549.5 652.2h0M803.6 652.2h0M813.8 652.2h0M822.9 652.2h0M735.5 652.6h0M850.1 655.1h0M859.2 655.1h0M827.4 655.6h0M283 657.3h0M218.3 660.2h0M835.3 660.2h0M287.5 661.9h0M835.3 664.7h0M344.3 666.4h0M455.3 665.8h0M771.3 665.8h0M348.8 667h0M826.3 669.2h0M752.5 670.4h0M771.4 670.4h0M803.6 669.8h0M237 671h0M424.9 672.7h0M638 673.8h0M794.5 673.8h0M835.3 674.4h0M273.3 675.7h0M320.4 675.7h0M812.6 678.3h0M740 678.9h0M821.7 678.9h0M248.3 680.6h0M314.3 680.6h0M319.5 680.6h0M354.5 680.6h0M835.3 682.9h0"/>
<path stroke="#00ffc8" d="M351.7 360.6h0M357.2 360.6h0M307.9 365h0M357.5 366.1h0M341.6 372.3h0M339 383.3h0M378.9 395.4h0M338.6 410.7h0M419.2 411.7h0M484.8 413.2h0M222.8 413.5h0M279.6 413.5h0M377.7 415.5h0M450.8 418.3h0M471.2 418.3h0M476.3 418.3h0M302.8 420.6h0M329.5 420.8h0M430.5 422.3h0M325 425.1h0M308.8 425.7h0M405 428h0M220.5 429.4h0M298.3 431h0M310.2 431h0M369 432.5h0M457.6 434.2h0M227.4 434.8h0M238.7 434.8h0M244.4 434.8h0M250.1 434.8h0M288.9 435.9h0M348.4 437.4h0M364.4 437.4h0M380.4 437.4h0M261.4 440.8h0M272.8 440.8h0M289.2 441h0M321.2 442.7h0M348 442.7h0M353.3 442.7h0M358.7 442.7h0M364 442.7h0M369.4 442.7h0M380.1 442.7h0M239.8 446.1h0M250.9 446.1h0M296 447.6h0M374.9 448.4h0M380.2 448.4h0M253.5 451.8h0M259.1 451.8h0M656 452.1h0M665.8 452.1h0M367.2 453.7h0M423.7 454.6h0M259.1 456.9h0M276.2 456.9h0M387.4 459.7h0M392.7 459.7h0M398 459.7h0M699.3 462.6h0M718.5 462.6h0M732.8 462.6h0M742.4 462.6h0M554.6 467.3h0M745.9 468.2h0M228.5 470.7h0M234.2 470.7h0M251.2 470.7h0M633.5 472.8h0M236.4 475.6h0M253.5 475.6h0M541 477.6h0M766.5 479h0M236.4 481.6h0M247.8 483h0M565.4 483.6h0M680.3 484.1h0M231.9 487h0M254.6 488.1h0M619.3 488.7h0M624.1 488.7h0M648.4 488.9h0M843 488.7h0M668.5 493.8h0M673.5 493.8h0M678.5 493.8h0M730.5 493.8h0M735.7 493.8h0M751.3 493.8h0M860 493.8h0M644.3 499.5h0M745.7 498.7h0M768.4 498.7h0M784.3 498.7h0M218.3 502.9h0M547.8 502.9h0M251.8 504h0M596.2 504h0M625 504h0M685.5 504h0M750.2 504h0M802.4 504h0M817.7 504h0M841 504h0M458.7 507.1h0M460.4 509.2h0M504.7 509.2h0M509.8 509.2h0M522.8 509.2h0M594.9 509.2h0M631.2 509.2h0M650 509.2h0M655.1 509.2h0M787.7 509.2h0M484.8 509.8h0M409 511.5h0M625.6 514.3h0M636 514.3h0M681.1 514h0M700.8 514h0M783.1 514h0M788.2 514h0M480.1 514.9h0M430.2 516.6h0M524.5 518.3h0M616.5 518.9h0M636.2 518.9h0M661.7 519.1h0M666.6 519.1h0M681.3 519.1h0M686.3 519.1h0M696.1 519.1h0M705.9 519.1h0M725.6 519.1h0M730.5 519.1h0M764.2 519.1h0M774 519.1h0M778.6 519.1h0M797.9 519.1h0M812.6 519.1h0M348.8 520h0M356.7 520h0M480.3 520h0M490.1 520h0M602.9 524h0M665.8 524.2h0M675.7 524.2h0M715 524.2h0M724.9 524.2h0M735.5 524.2h0M783.1 524.2h0M854.6 524.2h0M318.2 525.1h0M864.9 524.5h0M350.5 525.7h0M375.5 525.7h0M406.7 526.2h0M573.3 528.5h0M685.7 529.3h0M715 529.3h0M792.2 529.3h0M796.7 529.3h0M455.3 529.6h0M351.3 530.8h0M391.4 531.3h0M572.8 534.2h0M661 534.4h0M676 534.4h0M696 534.4h0M715.5 534.4h0M725.5 534.4h0M735.5 534.4h0M758.7 534.4h0M828.5 534.4h0M849 534.4h0M436 534.7h0M446.8 534.7h0M406.7 536.4h0M431.1 536.4h0M520 539.3h0M562 539.3h0M567.3 539.3h0M629 538.7h0M740 539.3h0M744.5 539.3h0M778.1 538.7h0M833.1 539.3h0M854.6 539.3h0M361.3 540.6h0M446.6 543.3h0M515.5 543.8h0M568.8 543.8h0M614.2 544.4h0M629 544.4h0M646 544.4h0M695.5 544.4h0M700.5 544.4h0M715.5 544.4h0M725.5 544.4h0M758.2 544.4h0M795.6 544.4h0M829.7 544.4h0M382.9 545.5h0M433.9 546.7h0M461.5 548.4h0M487.1 548.4h0M573.9 548.9h0M645.2 549.5h0M650.2 549.5h0M687 549.5h0M696.4 549.5h0M719.9 549.5h0M811.5 549.5h0M816.6 549.5h0M829.7 549.5h0M864.9 548.9h0M247.8 550.1h0M269.3 550.1h0M388.5 551.2h0M487.5 553.5h0M516 553.5h0M535.9 553.5h0M554 553.5h0M710.5 554.3h0M735.5 554.3h0M772.9 554.3h0M810.4 554.3h0M819.5 554.3h0M285.2 555.7h0M318.2 555.7h0M358.5 555.7h0M424.9 556.3h0M487.5 558.6h0M574.5 558.6h0M632 559.1h0M655.1 559.1h0M719.6 559.4h0M753.6 559.4h0M805.8 559.4h0M858 559.4h0M283 559.9h0M373.9 560.8h0M384 560.8h0M535.9 564.3h0M740 564.5h0M758.2 564.5h0M810.9 564.5h0M844.4 564.5h0M617.6 568.8h0M776.3 569.4h0M801.3 569.4h0M834.2 569.4h0M287.5 569.9h0M298.9 569.9h0M436 570.5h0M372.1 570.8h0M387.4 570.8h0M392.5 570.8h0M464.4 572.2h0M479.1 572.8h0M754.8 574.1h0M763.8 574.1h0M791.3 574.1h0M805.5 574.1h0M824 574.1h0M838.7 574.1h0M288.6 575.4h0M421.4 576.2h0M763.8 579h0M800.2 579h0M824 579h0M725.2 584.1h0M429.7 586.4h0M450.8 585.8h0M779.7 585.8h0M784.3 585.8h0M772.9 587h0M809.2 587h0M828.5 587h0M846.7 587h0M270.3 590.9h0M772.9 591.5h0M504.1 592.1h0M867.1 592.6h0M233 595.5h0M265.9 595.5h0M763.8 596.6h0M772.9 596.6h0M777.5 597.7h0M808.1 597.7h0M312.5 600.6h0M777.5 602.3h0M828.5 602.3h0M833.1 602.3h0M853.5 602.3h0M735.5 606.3h0M854.6 607.4h0M423.7 611.4h0M829.7 611.9h0M834.6 611.9h0M839.5 611.9h0M854.6 611.9h0M770.6 613.1h0M250.8 613.6h0M735.5 622.1h0M784.8 622.1h0M789.9 622.1h0M844.4 622.1h0M850.1 622.1h0M346.5 624.4h0M246.6 628.4h0M275.8 629h0M789.9 632.4h0M824 632.4h0M850.1 632.4h0M386.3 634.6h0M864.9 635.8h0M289.8 639.2h0M342 638.9h0M451.3 641.4h0M799 642h0M835.9 642h0M831.9 647.1h0M850.1 647.5h0M832.5 651.7h0M261.4 652.6h0M313 652.8h0M821.7 655.6h0M860.3 659.6h0M768.7 661.3h0M821.7 664.7h0M267.1 666.4h0M757.2 670.4h0M761.9 670.4h0M259.1 671h0M300 671.5h0M757 674.9h0M314.8 675.7h0M839.9 678.9h0M283 680.6h0M862.6 682.9h0"/>
<path stroke="#00ffac" d="M413.5 327.8h0M274.5 334.3h0M286.9 341.7h0M270.8 346.8h0M296 359.8h0M335.8 366.1h0M401.9 367.2h0M355.4 383.3h0M456.4 386h0M415.8 389.9h0M457.6 390.8h0M432.2 395.6h0M437.7 396.2h0M407.5 406h0M261.4 408.3h0M272.8 408.3h0M484.8 407.9h0M495 408.1h0M403 411.7h0M251.2 413.5h0M262.5 413.5h0M367 415.5h0M434.5 417.7h0M455.9 418.3h0M258 418.9h0M345.4 420.8h0M414.6 422.3h0M236.4 424.2h0M259.7 424.5h0M281.6 425.7h0M314.2 425.7h0M766.1 425.7h0M426.6 428h0M226.2 429.4h0M231.9 429.4h0M237.6 429.4h0M720.7 430.8h0M353 432.5h0M363.6 432.5h0M431.7 433.6h0M441.7 434.2h0M447 434.2h0M267.1 434.8h0M353.8 437.4h0M369.7 437.4h0M411.8 439.3h0M416.9 439.3h0M233 440.8h0M681.9 441.2h0M686.8 441.2h0M337.3 442.7h0M234.2 446.1h0M245.3 446.1h0M256.5 446.1h0M273.3 446.1h0M690.8 446.5h0M290.6 447.6h0M317.6 447.6h0M328.4 447.6h0M358.9 448.4h0M385.6 448.4h0M427.7 449.9h0M236.4 451.2h0M276.2 451.8h0M613 452.4h0M618 452.4h0M622.9 452.4h0M632.9 452.4h0M356.5 453.7h0M372.6 453.7h0M380.6 453.7h0M396.8 453.7h0M418.4 454.6h0M253.5 456.9h0M699.3 456.9h0M746.1 456.9h0M361.7 459.2h0M372.6 459.2h0M574.3 462.3h0M598.9 462.6h0M628.4 462.6h0M652.8 462.6h0M393.9 465.4h0M866 467.1h0M633.5 468h0M705.6 468.2h0M725.8 468.2h0M239.8 470.7h0M618.7 473.4h0M648.3 473.4h0M653.4 473.4h0M770.8 473.4h0M780.9 473.4h0M828.5 473.4h0M230.8 475.6h0M599.5 478.2h0M629 478.5h0M725.2 479h0M792.2 479h0M230.8 481.6h0M259.7 481.9h0M253.5 483h0M521.7 483.2h0M526.8 483.2h0M570.5 483.6h0M710.1 484.1h0M796.3 483.9h0M801.3 483.9h0M265.9 488.1h0M638.6 488.9h0M663.4 488.7h0M753.6 488.7h0M768.9 488.7h0M811.5 488.7h0M250.1 493.4h0M619.9 494.1h0M683.6 493.8h0M698.6 493.8h0M703.7 493.8h0M740.9 493.8h0M817.2 493.8h0M261.4 498.7h0M605.1 498.7h0M661 498.9h0M665.9 498.9h0M680.8 498.9h0M690.8 498.9h0M773.7 498.7h0M841.4 498.9h0M438.8 501.7h0M572.2 503.7h0M605.9 504h0M610.8 504h0M715.6 504h0M738.9 504h0M778.6 504h0M807.5 504h0M218.3 508.6h0M517.7 509.2h0M533 509.2h0M547.2 509.2h0M551.8 509.2h0M564.3 509.2h0M666.2 509.2h0M670.9 509.2h0M694.6 509.2h0M725.2 509.2h0M730.3 509.2h0M812.6 509.2h0M822.3 509.2h0M414.6 511.5h0M440.8 514.3h0M450.5 514.3h0M651.7 514.3h0M676.1 514h0M686 514h0M725.6 514h0M735.5 514h0M754.2 514h0M759.3 514h0M793.3 514h0M834.2 514h0M490.1 514.9h0M499.6 514.9h0M440.5 519.4h0M573.3 518.9h0M631.2 518.9h0M646 518.9h0M750.2 519.1h0M758.9 519.1h0M509.8 520h0M406.7 521.1h0M656 524.2h0M670.8 524.2h0M695.3 524.2h0M719.6 524.2h0M464.4 524.5h0M485.4 525.1h0M633.9 524.5h0M344.3 525.7h0M369.2 525.7h0M543.8 528.5h0M661 529.3h0M670.9 529.3h0M680.8 529.3h0M695.6 529.3h0M705.5 529.3h0M735.5 529.3h0M787.1 529.3h0M806.3 529.3h0M465.5 529.6h0M495 529.6h0M500.1 529.6h0M334.8 530.8h0M411.8 531.3h0M548.4 534.2h0M577.9 534.2h0M691 534.4h0M710.5 534.4h0M730.5 534.4h0M753.6 534.4h0M787.7 534.4h0M796.7 534.4h0M801.3 534.4h0M520 534.7h0M396.5 535.9h0M505.2 539.3h0M515.5 539.3h0M572.6 539.3h0M663.4 538.7h0M753.6 539.3h0M849 539.3h0M563.1 543.8h0M735.5 544.4h0M749.1 544.4h0M807 544.4h0M834.2 544.4h0M849.5 544.4h0M860.3 544.4h0M473.5 545h0M521.1 548.9h0M633.5 548.9h0M682.3 549.5h0M744.5 549.5h0M768.4 549.5h0M795.6 548.9h0M834.2 549.5h0M838.7 548.9h0M854.4 548.9h0M859.6 548.9h0M290.2 550.4h0M433.9 552.3h0M715 554.3h0M719.6 554.3h0M749.1 554.3h0M795.6 554.3h0M801.3 554.3h0M805.8 554.3h0M834.2 554.3h0M839.2 554.3h0M844.2 554.3h0M849.2 554.3h0M854.2 554.3h0M859.2 554.3h0M419.6 556.3h0M749.1 559.4h0M758.7 559.4h0M763.8 559.4h0M810.4 559.4h0M805.8 564.5h0M415.2 566.5h0M488.2 567.7h0M651.7 569.4h0M749.1 569.4h0M867.1 571.1h0M800.7 574.1h0M299.2 575.4h0M436 579h0M758.2 579h0M294.3 580.1h0M768.4 584.7h0M348 585.8h0M734.3 585.8h0M744.5 585.8h0M833.1 587h0M851.2 587h0M763.8 591.5h0M828.9 592.1h0M853.5 597.7h0M363.6 600.6h0M744.5 600.6h0M818.3 602.8h0M777.5 607.4h0M849 607.4h0M245.5 608h0M725.2 611.9h0M730.3 611.9h0M363.6 614.8h0M795 617h0M849 617h0M794.5 622.1h0M828.5 622.1h0M800.2 627.3h0M341.2 633.5h0M836.1 636.9h0M735.5 642.6h0M638 646h0M864.9 646h0M749.1 647.5h0M764.2 656.2h0M757 665.8h0M761.6 681.2h0"/>
<path stroke="#00ff90" d="M401.9 297.9h0M277.3 324h0M248.9 329.2h0M363.6 332h0M396.5 332.9h0M221.1 334.3h0M268.5 334.3h0M336.9 337.1h0M264.2 341.1h0M282.4 346.8h0M265.8 352.5h0M300.6 353.8h0M394.2 355.9h0M442.8 356.4h0M301.6 359.8h0M362.6 360.6h0M373.5 360.6h0M341.2 366.1h0M379.5 366.7h0M412.4 367.5h0M336.1 372.3h0M451.3 379.7h0M333.5 383.3h0M360.9 383.3h0M426 384.3h0M441.1 386h0M362 389.4h0M383.4 389.4h0M420.7 389.9h0M437.1 390.5h0M478.6 390.8h0M478.6 396.7h0M509.8 397.6h0M520 397.6h0M495 402.4h0M326.7 404.5h0M338 404.5h0M255.7 408.3h0M267.1 408.3h0M327.8 410.7h0M397.6 411.7h0M444.7 412.6h0M455.3 412.6h0M217.1 413.5h0M234.2 413.5h0M301.7 414.9h0M356.2 415.5h0M361.6 415.5h0M372.4 415.5h0M398.7 417.2h0M252.3 418.9h0M263.7 418.9h0M275 419.4h0M419.9 422.3h0M431.7 428h0M462.1 428.9h0M277.3 431h0M304.3 431h0M656 430.8h0M358.3 432.5h0M374.3 432.5h0M384.9 432.5h0M452.3 434.2h0M255.7 434.8h0M779.7 435.3h0M785.4 435.3h0M322.1 437h0M343.1 437.4h0M359.1 437.4h0M406.7 439.3h0M437.7 439.3h0M244.4 440.8h0M278.4 440.8h0M627.8 441h0M652.8 441h0M691.6 441.2h0M696.5 441.2h0M656 441.6h0M267.7 446.1h0M696.1 446.5h0M627.8 446.9h0M656 446.7h0M306.8 447.6h0M312.2 447.6h0M348.2 448.4h0M364.2 448.4h0M390.9 448.4h0M401.6 448.4h0M651.7 452.4h0M670.8 452.1h0M680.4 452.1h0M690.6 452.1h0M318.2 452.9h0M323.5 452.9h0M386 453.7h0M407.8 454.6h0M438.8 455.5h0M656 457.5h0M694.1 456.9h0M735.7 456.9h0M751.3 456.9h0M367.2 459.2h0M569.3 462.3h0M579.2 462.3h0M656 463.1h0M668.5 463.1h0M713.7 462.6h0M728 462.6h0M756.8 462.6h0M832.5 462.6h0M388.5 465.4h0M559.7 467.3h0M700.6 468.2h0M751 468.2h0M761.1 468.2h0M245.5 470.7h0M256.9 472.2h0M613.6 473.4h0M720.7 473.4h0M730.3 473.4h0M745.5 473.4h0M750.6 473.4h0M791.1 473.4h0M242.1 475.6h0M594.3 478.2h0M638.8 478.5h0M761.3 479h0M787.1 479h0M823.1 479h0M531.9 483.2h0M614.8 484.1h0M653.4 484.1h0M656 483.6h0M675.3 484.1h0M695.3 484.1h0M700.3 484.1h0M720.7 484.1h0M753.6 483.9h0M760.4 483.9h0M832.7 483.9h0M226.8 487h0M570.5 488.7h0M629 488.7h0M653.4 488.9h0M763.8 488.7h0M816.8 488.7h0M822 488.7h0M827.3 488.7h0M853.5 488.7h0M688.6 493.8h0M835.7 493.8h0M840.5 493.8h0M845.4 493.8h0M670.9 498.9h0M685.8 498.9h0M836.5 498.9h0M433.9 501.7h0M533 502.9h0M262.5 504h0M667.8 504h0M673.7 504h0M720.7 504h0M744.5 504h0M812.6 504h0M861.2 504h0M866 504h0M508.6 507.1h0M522.8 507.1h0M527.9 507.1h0M527.9 509.2h0M538.2 509.2h0M675.7 509.2h0M680.4 509.2h0M689.9 509.2h0M777.5 509.2h0M782.6 509.2h0M859.7 509.2h0M435.1 510.9h0M596.6 513.7h0M630.8 514.3h0M641.2 514.3h0M690.9 514h0M695.9 514h0M705.8 514h0M715.7 514h0M749.1 514h0M778.6 514h0M826.3 514h0M390.2 516h0M720.7 519.1h0M769.5 519.1h0M783.1 519.1h0M787.7 519.1h0M792.8 519.1h0M820.6 519.1h0M839.9 519.1h0M849.9 519.1h0M730.2 524.2h0M792.8 524.2h0M825.1 524.2h0M490.2 525.1h0M509.8 525.1h0M656 529.3h0M826.5 529.3h0M831.6 529.3h0M509.8 529.6h0M655.1 529.6h0M426 531.9h0M720.5 534.4h0M740 534.4h0M792.2 534.4h0M819.5 534.4h0M824 534.4h0M843.3 534.4h0M854.6 534.4h0M495 539.3h0M720.5 539.3h0M758.2 538.7h0M763.2 538.7h0M773.1 538.7h0M819.5 538.7h0M837.6 539.3h0M860.3 539.3h0M864.9 538.7h0M391.9 541h0M598.3 543.8h0M685.5 544.4h0M730.5 544.4h0M763.8 544.4h0M773.5 544.4h0M816.6 544.4h0M838.7 544.4h0M844.1 544.4h0M510.9 548.9h0M701.1 549.5h0M739.6 549.5h0M753.6 548.9h0M821.7 549.5h0M849.2 548.9h0M320.4 550.6h0M492.4 553.5h0M665.8 554.3h0M729.8 554.3h0M753.6 554.3h0M844 559.4h0M849 559.4h0M753.6 564.5h0M795.6 564.5h0M829.7 564.5h0M758.7 569.4h0M855.8 587h0M858 591.5h0M843.7 602.3h0M269.7 629h0"/>
<path stroke="#00ff75" d="M346 296.4h0M306.8 301.3h0M457 305.3h0M280.7 312.7h0M224.5 322.1h0M427.8 322.3h0M395.9 326.3h0M401.4 326.3h0M261.4 329.2h0M407.8 332.9h0M233 334.3h0M250.7 334.3h0M441.1 333.7h0M397 338.6h0M407.8 338.6h0M270.2 341.1h0M467.8 340.6h0M488.8 341.1h0M304 342.3h0M326.7 342.8h0M332.3 342.8h0M420.3 345.1h0M431.7 345.1h0M276.6 346.8h0M305.7 347.9h0M361.3 348.5h0M525.7 347.7h0M388.5 350.2h0M254 352.5h0M259.9 352.5h0M495 351.9h0M306.2 353.8h0M311.9 353.8h0M317.6 353.8h0M328.4 354.5h0M267.4 358.7h0M312.6 359.8h0M318.2 359.8h0M368 360.6h0M389.7 361.6h0M296.6 365h0M352.1 366.1h0M363 366.1h0M396.5 367.2h0M407.3 367.2h0M423.2 367.5h0M303.2 371.2h0M330.6 372.3h0M347.1 372.3h0M363.6 372.3h0M381.2 372.9h0M402.3 373.5h0M407.8 373.5h0M465.5 374h0M481.4 375.2h0M491.9 375.2h0M538.2 375.7h0M327.2 377.4h0M332.8 377.4h0M338.3 377.4h0M365.8 377.4h0M344.5 383.3h0M366.4 383.3h0M451.3 386h0M367.5 389.4h0M425.7 389.9h0M430.7 389.9h0M427.1 395.6h0M829.7 399h0M432.2 401.1h0M437.7 401.3h0M402.2 406h0M418.3 406h0M439.4 412.6h0M470.6 413.2h0M480.8 413.2h0M239.8 413.5h0M268.2 413.5h0M403.9 417.2h0M440.5 418.3h0M340.1 420.8h0M700.3 420.6h0M441.1 423.8h0M297.9 425.7h0M303.3 425.7h0M730.3 425.7h0M347.1 426.8h0M394.8 428h0M399.9 428h0M725.2 430.8h0M347.7 432.5h0M390.2 432.5h0M426.6 433.6h0M261.4 434.8h0M685.5 435.9h0M715.6 436.2h0M745.7 436.2h0M385.7 437.4h0M652.8 436.7h0M227.4 440.8h0M238.7 440.8h0M267.1 440.8h0M642.6 441h0M677 441.2h0M779.9 441.6h0M790.3 441.6h0M800.6 441.6h0M331.9 442.7h0M603.4 446.5h0M396.2 448.4h0M247.8 451.2h0M270.5 451.8h0M608 452.4h0M695.7 452.1h0M700.8 452.1h0M705.9 452.1h0M847.8 452.4h0M391.4 453.7h0M270.5 456.9h0M598.3 456.7h0M648.3 457.5h0M661.7 457.5h0M673 457.5h0M678.7 457.5h0M688.9 456.9h0M725.3 456.9h0M730.5 456.9h0M856.9 456.9h0M356.2 459.2h0M564.3 462.3h0M589.2 462.3h0M643 462.6h0M723.3 462.6h0M737.6 462.6h0M747.2 462.6h0M856.9 467.1h0M638.4 468h0M648.3 468h0M680.4 468.2h0M685.4 468.2h0M695.5 468.2h0M710.7 468.2h0M715.7 468.2h0M735.9 468.2h0M756 468.2h0M725.2 473.4h0M735.4 473.4h0M740.4 473.4h0M755.6 473.4h0M786 473.4h0M812.9 473.4h0M633.9 478.5h0M667.4 478.5h0M672.5 478.5h0M735.5 479h0M745.8 479h0M751 479h0M690.3 484.1h0M704.8 484.1h0M776.3 483.9h0M791.3 483.9h0M805.8 483.9h0M816.8 483.9h0M643.5 488.9h0M657.7 488.7h0M705.9 488.7h0M758.7 488.7h0M774 488.7h0M848.3 488.7h0M596 493.8h0M725.2 493.8h0M830.8 493.8h0M850.3 493.8h0M855.1 493.8h0M656 498.9h0M695.7 498.9h0M779 498.7h0M818.3 498.7h0M851.2 498.9h0M861.1 498.9h0M866 498.9h0M822.9 504h0M533 507.1h0M600.6 509.2h0M606.3 509.2h0M854.6 509.2h0M720.6 514h0M730.5 514h0M839.3 514h0M740 519.1h0M690.4 524.2h0M787.7 524.2h0M802.4 524.5h0M836.6 529.3h0M681 534.4h0M807 534.4h0M860.3 534.4h0M811.5 544.4h0M734.7 549.5h0M844 548.9h0M735.5 559.4h0M853.5 564.5h0M734.3 574.1h0M786.5 574.1h0M819.5 579h0M848.2 597.7h0M730.3 622.1h0"/>
<path stroke="#42ff50" d="M265.9 300.2h0M323.8 301.6h0M357.9 302.8h0M237.6 304.1h0M307.9 306.4h0M297.7 312.7h0M343.7 314.4h0M229.1 316.1h0M448.5 316.4h0M453.6 316.4h0M501.8 317.8h0M281.8 318.9h0M339.2 320h0M236.4 322.1h0M340.3 325.1h0M386.1 327.8h0M397 327.8h0M492.8 329.2h0M550.6 329.8h0M313 330.9h0M318.7 330.9h0M335.8 331.5h0M341.4 331.5h0M227 334.3h0M244.8 334.3h0M262.6 334.3h0M429.6 338.9h0M276.2 341.1h0M493.9 341.1h0M360.2 343.4h0M398.7 344.5h0M437.1 345.7h0M378.3 348.8h0M393.9 350.2h0M432.2 350.8h0M463.8 351.1h0M388.5 355.9h0M437.7 356.4h0M435.6 357h0M307.1 359.8h0M771.2 360.2h0M346.3 360.6h0M378.9 360.6h0M427.7 362.1h0M432.8 362.1h0M302.3 365h0M319.3 365h0M325 365h0M770.6 365.5h0M417.8 367.5h0M512 368.9h0M314.2 371.2h0M352.6 372.3h0M486.7 375.2h0M497.2 375.2h0M502.4 375.2h0M512.6 375.4h0M316.5 376.9h0M349.3 377.4h0M360.3 377.4h0M414.1 379.1h0M461.5 379.7h0M349.9 383.3h0M431.1 384.3h0M398.7 384.8h0M446.2 386h0M478 386h0M605.1 387.7h0M655.1 388.2h0M755.3 387.7h0M760.4 387.7h0M345.4 389.4h0M462.7 390.8h0M499 391.3h0M735.5 393.3h0M610.8 393.6h0M363 395.4h0M514.9 397.6h0M385.1 400.1h0M427 401.1h0M735.5 404.1h0M412.9 406h0M423.7 406h0M278.4 408.3h0M740.6 409.2h0M386.3 410.9h0M408.4 411.7h0M245.5 413.5h0M505.8 414h0M861.4 414.9h0M755.3 420h0M334.8 420.8h0M716.2 420.6h0M735.5 425.7h0M685.5 430.8h0M690.6 430.8h0M838.7 430.8h0M379.6 432.5h0M233 434.8h0M656 435.9h0M690.6 435.9h0M853.5 435.9h0M332.9 437h0M647.7 436.7h0M255.7 440.8h0M659.4 441.6h0M769.5 441.6h0M774.7 441.6h0M805.8 441.6h0M432.8 444.4h0M598.3 446.5h0M701.4 446.5h0M833.1 446.5h0M779.7 446.7h0M804.3 446.7h0M285.2 447.6h0M353.6 448.4h0M627.9 452.4h0M675.3 452.1h0M685.5 452.1h0M711.1 452.1h0M798.5 452.4h0M803.6 452.4h0M853.5 452.4h0M328.9 452.9h0M653.4 457.5h0M667.4 457.5h0M704.5 456.9h0M709.7 456.9h0M803.6 457.5h0M633.3 462.6h0M638.2 462.6h0M647.9 462.6h0M662.2 463.1h0M694.5 462.6h0M704.1 462.6h0M690.5 468.2h0M730.8 468.2h0M740.9 468.2h0M629 472.8h0M715.6 473.4h0M765.8 473.4h0M802.4 473.4h0M861.4 473.4h0M740.7 479h0M771.6 479h0M781.9 479h0M807 479h0M812.4 479h0M817.7 479h0M638.6 484.1h0M715.4 484.1h0M822.1 483.9h0M838 483.9h0M832.5 488.7h0M693.6 493.8h0M864.9 493.8h0M812.6 498.7h0M661.9 504h0M685.1 509.2h0M715 509.2h0M720.1 509.2h0M817.2 509.2h0M834.2 509.2h0M816 514h0M859.9 519.1h0M864.9 519.1h0M819.5 524.2h0M830.8 524.2h0M821.5 529.3h0M837.6 534.4h0M824 538.7h0M834.2 559.4h0"/>
<path stroke="#86ff2b" d="M299.6 269.5h0M508.6 282h0M466.1 287.7h0M240.4 292.6h0M493.9 300.2h0M547.8 301.3h0M340.9 302.8h0M462.5 305.3h0M278.4 306.4h0M290.2 306.4h0M325 307.5h0M353.2 308.7h0M359 308.7h0M227.4 310.4h0M245.5 310.4h0M263.1 311.5h0M501 311.5h0M286.4 312.7h0M292 312.7h0M559.2 312.7h0M241 316.1h0M517.7 318.3h0M287.8 318.9h0M293.8 318.9h0M356.2 320h0M422.3 322.3h0M438.3 322.9h0M253.5 324h0M283.2 324h0M528.7 324h0M346.2 325.1h0M379.5 326.3h0M384.9 326.3h0M406.9 326.3h0M380.6 327.8h0M219.4 328.6h0M503.5 329.2h0M347.1 331.5h0M374.9 332h0M402.2 332.9h0M256.7 334.3h0M302.8 335.4h0M493.3 335.2h0M787.7 336h0M348.2 337.1h0M402.4 338.6h0M418.6 338.9h0M424.1 338.9h0M435.1 338.9h0M252.3 341.1h0M440.5 340.6h0M472.9 340.6h0M293.2 341.7h0M338 342.8h0M387.4 344.5h0M393.1 344.5h0M259.2 346.8h0M367 348.5h0M664.5 348.5h0M399.3 350.2h0M294.9 353.8h0M680.4 354.2h0M334 354.5h0M361.9 354.7h0M650 354.5h0M463.8 357.6h0M261.4 358.7h0M273.3 358.7h0M598.3 359.1h0M766.1 360.2h0M400.6 361.6h0M406.1 361.6h0M588.7 364.7h0M659.4 365h0M715 365.5h0M644.3 371.2h0M358.1 372.3h0M391.4 373.5h0M396.9 373.5h0M862 376.3h0M640.3 376.5h0M715 376.5h0M750.2 376.5h0M765.5 376.9h0M398.2 379.1h0M419.7 379.1h0M645.4 382h0M655.1 382h0M685.5 382h0M750.2 382.2h0M755.9 382h0M720.7 382.6h0M404.1 384.8h0M420.3 384.8h0M610.2 387.7h0M685.5 387.7h0M350.9 389.4h0M356.5 389.4h0M435.6 389.9h0M665.8 393.3h0M680.6 393.3h0M705.9 393.3h0M745.7 393.3h0M750.2 393.3h0M661.9 398.8h0M667.8 398.8h0M720.7 399h0M785.4 399h0M855 399h0M411.2 401.1h0M416.5 401.1h0M685.9 404.1h0M730.6 404.1h0M821.2 403.5h0M829.7 404.1h0M866.6 404.1h0M438.3 407h0M500.4 408.1h0M505.8 408.1h0M700.8 408.7h0M317 410.7h0M720.7 414.9h0M844.4 414.9h0M855.8 414.9h0M735.5 420.3h0M854.1 420h0M710.9 420.6h0M425.2 422.3h0M755.9 425.7h0M761 425.7h0M695.7 430.8h0M661.1 435.9h0M750.6 436.2h0M755.5 436.2h0M701.4 441.2h0M838.7 441h0M760.4 441.6h0M818.3 446.5h0M863.2 446.7h0M833.1 452.4h0M684.9 462.6h0M708.9 462.6h0M752 462.6h0M761.6 462.6h0M720.7 468.2h0M837.6 467.7h0M760.7 473.4h0M823.3 473.4h0M861.4 478.5h0M756.1 479h0M828.5 479h0M866.6 479h0M643.5 484.1h0M811.5 483.9h0M827.4 483.9h0M866.6 484.1h0M837.8 488.7h0M802.4 498.7h0M846.3 498.9h0M856.2 498.9h0M851.5 504h0M856.3 504h0M735.5 509.2h0M763.8 509.2h0M827.4 509.2h0M839.9 509.2h0M864.9 509.2h0M844.4 514h0M701 519.1h0M745.1 519.1h0M805.8 519.1h0M844.9 519.1h0M854.9 519.1h0M797.9 524.2h0M801.3 529.3h0M811.4 529.3h0M710.5 539.3h0M844.4 539.3h0M829.7 569.4h0"/>
<path stroke="#bbff0d" d="M425.4 274.4h0M301.7 276.3h0M495.6 275.8h0M426.6 279.7h0M480.8 281.2h0M284.5 282.6h0M530.2 288.8h0M356.9 296.4h0M362.4 296.4h0M396.5 297.9h0M407.3 297.9h0M236.4 299h0M451.3 299h0M510.3 300.2h0M295.5 301.3h0M318.2 301.6h0M363.6 302.8h0M391.4 304.1h0M267.1 305.3h0M489.9 305.8h0M819.5 307.8h0M341.4 308.7h0M548.9 312.1h0M303.4 312.7h0M309.1 312.7h0M326.7 313.8h0M338 314.4h0M679 313.8h0M475.7 317.8h0M299.7 318.9h0M305.7 318.9h0M679.6 319.5h0M813.8 319.5h0M344.8 320h0M350.5 320h0M230.5 322.1h0M411.2 322.3h0M416.8 322.3h0M433.4 322.3h0M459.8 322.9h0M471.8 323.4h0M295 324h0M300.9 324h0M306.8 324h0M550.1 324.6h0M751.2 325.1h0M390.4 326.3h0M402.5 327.8h0M301.7 330.3h0M529.6 329.5h0M666.2 330.9h0M369.2 332h0M423.7 333.2h0M238.9 334.3h0M446.2 333.7h0M488.2 335.2h0M860.3 336h0M217.7 339.8h0M258.3 341.1h0M462.7 340.6h0M520 341.3h0M608.2 342.3h0M265 346.8h0M421.4 350.8h0M644.9 354.5h0M848.4 354.7h0M603.4 359.1h0M781.4 360.2h0M340.9 360.6h0M395.2 361.6h0M583.6 364.7h0M346.6 366.1h0M644.3 365.5h0M720.1 365.5h0M297.7 371.2h0M308.7 371.2h0M674.7 371.2h0M735.5 371.2h0M740.4 371.2h0M755.3 372.9h0M470.6 374h0M475.7 374h0M659.4 376.3h0M675.3 376.3h0M836.5 376.3h0M705.4 376.5h0M720.1 376.5h0M725.2 376.5h0M730.3 376.5h0M735.5 376.5h0M755.3 376.9h0M456.4 379.7h0M659.4 381.4h0M650.2 382h0M675.3 382h0M680.4 382h0M745.4 382.2h0M862.6 382h0M725.8 382.6h0M409.5 384.8h0M414.9 384.8h0M615.3 387.7h0M664.6 387.7h0M675.1 387.7h0M675.7 393.3h0M695.3 393.3h0M715.6 393.3h0M775.8 393.3h0M861.4 393.1h0M679.6 398.8h0M745.7 399h0M755.3 399h0M805.8 399h0M836.5 399h0M860.3 399h0M675.3 404.1h0M745.7 404.1h0M854.6 404.1h0M443.4 407h0M475.2 407.5h0M725.2 409.2h0M450 412.6h0M725.6 414.9h0M730.5 414.9h0M735.5 414.9h0M740.6 420.3h0M745.7 420.3h0M849 420h0M859.2 420h0M858.6 425.3h0M740.6 425.7h0M745.7 425.7h0M467.2 428.9h0M655.1 430.8h0M671.9 430.8h0M740.6 430.8h0M848.4 430.8h0M853.5 430.8h0M705.4 436.2h0M710.5 436.2h0M760.4 436.2h0M848.6 441h0M853.5 441h0M795.5 441.6h0M326.6 442.7h0M685.5 446.5h0M652.2 446.7h0M661.1 446.7h0M784.6 446.7h0M789.6 446.7h0M799.4 446.7h0M809.2 446.7h0M843.3 446.7h0M848.4 446.7h0M853.5 446.7h0M858.6 446.7h0M660.9 452.1h0M689.7 462.6h0M766.1 468.2h0M775.9 473.4h0M807.6 473.4h0M818.1 473.4h0M866.6 473.4h0M776.8 479h0M843.3 483.9h0M788.2 488.7h0M746.1 493.8h0"/>
<path stroke="#ddff06" d="M284.7 257.4h0M495 263.8h0M245.3 269.5h0M257.4 269.5h0M275.5 269.5h0M293.6 269.5h0M458.1 275.2h0M463.8 275.2h0M281.3 276.3h0M286.4 276.3h0M296.6 276.3h0M539.3 276.3h0M560.9 276.7h0M625 277.5h0M403.9 279.7h0M464.5 281.2h0M469.9 281.2h0M503 282h0M296.6 282.6h0M555.8 283.1h0M360.2 284.8h0M371.5 284.8h0M256.3 288.2h0M292 288.2h0M471.6 287.7h0M482.5 287.7h0M509.2 288.2h0M599.2 289.4h0M604.7 289.4h0M258 293.4h0M498.4 294.5h0M504.1 294.5h0M351.5 296.4h0M467.8 299.4h0M473.5 299.4h0M483.7 299h0M688.9 301.9h0M335.2 302.8h0M346.5 302.8h0M352.2 302.8h0M396.9 304.1h0M402.4 304.1h0M413.5 304.1h0M473.5 305.3h0M296.1 306.4h0M505.8 305.8h0M548.4 306.4h0M622.2 307.8h0M694.6 308.5h0M347.3 308.7h0M233.4 310.4h0M239.5 310.4h0M506.4 311.5h0M684.4 313.8h0M808.7 313.8h0M845 313.8h0M217.1 316.1h0M464.9 317.2h0M529.1 318.3h0M560.3 318.3h0M596 318.7h0M684.9 319.5h0M761.9 319.5h0M361.9 320h0M395.3 320.6h0M265.9 324h0M517.7 324h0M523.2 324h0M623.3 324.6h0M720.7 325.1h0M860.3 325.1h0M391.6 327.8h0M661.1 330.9h0M498.4 335.2h0M560.9 336h0M342.6 337.1h0M679.8 337.1h0M751.3 337.1h0M756.5 337.1h0M478 340.6h0M598.3 342.3h0M426 345.1h0M253.5 346.8h0M530.8 347h0M598.3 348.2h0M669.6 348.5h0M735.5 348.5h0M782 348.5h0M848.4 348.5h0M426.8 350.8h0M447.9 350.8h0M271.6 352.5h0M526.8 353.4h0M593.2 354.2h0M598.3 354.2h0M603.4 354.2h0M618.7 353.8h0M659.4 354.2h0M700.6 354.2h0M766.7 354.2h0M792.2 354.2h0M367 354.7h0M725.2 354.7h0M740.6 354.7h0M468.9 357.6h0M608.5 359.1h0M618.7 359.1h0M812.6 359.8h0M593.8 364.7h0M608.5 365h0M842.2 365h0M704.8 365.5h0M725.2 365.5h0M775.8 365.5h0M780.9 365.5h0M786 365.5h0M796.2 365.5h0M639.2 371.2h0M780.9 371.2h0M805.8 371.2h0M836.5 371.2h0M796.2 376.3h0M343.8 377.4h0M354.8 377.4h0M645.4 376.5h0M770.6 376.9h0M381.7 378h0M760.4 382h0M796.2 382h0M821.2 382h0M852.4 382h0M866.6 382h0M715.6 382.6h0M620.4 387.7h0M625.6 387.7h0M650.5 388.2h0M715.6 387.9h0M720.7 387.9h0M650.5 393.3h0M685.5 393.3h0M700.6 393.3h0M725.8 393.3h0M755.9 393.3h0M866.6 393.3h0M655.1 399h0M656 398.8h0M685.5 398.8h0M740.6 399h0M750.2 399h0M760.4 399h0M779.7 399h0M844.4 399h0M691.2 404.1h0M725.8 404.1h0M810.9 403.5h0M433.4 406.4h0M730.3 409.2h0M849 425.3h0M863.7 425.3h0M750.8 425.7h0M745.5 430.8h0M750.5 430.8h0M760.4 430.8h0M695.7 435.9h0M848.4 435.9h0M858.6 435.9h0M858.6 441h0M785.1 441.6h0M794.5 446.7h0M793.3 452.4h0M714.9 456.9h0M740.9 456.9h0"/>
<path stroke="#ffff00" d="M476.9 250.8h0M483.1 250.8h0M290.9 257.4h0M456.4 262.7h0M472.9 263.8h0M565.4 265h0M395.9 267.3h0M276.2 276.3h0M603.4 276.9h0M646 277.5h0M678.1 278h0M683.4 278h0M341.4 278.6h0M409.5 279.7h0M415.2 279.7h0M453.6 281.2h0M278.4 282.6h0M561.4 283.1h0M598.3 283.7h0M354.5 284.8h0M365.8 284.8h0M377.2 284.8h0M405 286h0M438.3 286.5h0M503.8 288.2h0M615.6 289.4h0M814.6 289.4h0M361.3 290.7h0M269.9 293.9h0M461.5 293.9h0M293.8 295.1h0M552.3 295.4h0M631.2 295.6h0M462.1 299.4h0M260.3 300.2h0M504.9 300.2h0M521.1 301h0M851.2 301.3h0M605.7 301.6h0M611.1 301.6h0M616.5 301.6h0M637.5 301.9h0M231.3 304.1h0M408 304.1h0M484.8 305.8h0M521.7 307h0M532.5 307h0M564.3 307.3h0M606 307.8h0M762.1 308.1h0M830 307.8h0M866.6 308.1h0M392.5 309.8h0M397.9 309.8h0M468.9 311h0M527.4 312.1h0M564.8 312.7h0M349.4 314.4h0M223.1 316.1h0M235 316.1h0M623.3 318.9h0M628.4 318.9h0M654.5 318.9h0M855.6 319.5h0M289.1 324h0M534.2 324h0M560.3 324.6h0M612.5 324.6h0M628.4 324.6h0M684.9 325.5h0M756.6 325.1h0M762.1 325.1h0M787.7 325.1h0M808.7 325.1h0M412.4 326.3h0M560.9 329.8h0M352.8 331.5h0M602.9 330.7h0M634.1 330.7h0M644.3 330.7h0M649.4 330.7h0M671.3 330.9h0M690.1 330.9h0M828.8 330.9h0M855.1 330.9h0M654.5 336h0M710.5 336.6h0M715.6 336.6h0M720.7 336.6h0M741.1 337.1h0M808.1 336.6h0M838.7 336.6h0M849 336.6h0M545.5 341.3h0M603.2 342.3h0M782 342.3h0M849 342.3h0M593.2 348.2h0M603.4 348.2h0M644.9 348.5h0M741.1 348.5h0M669.6 354.2h0M675 354.2h0M690.1 354.2h0M761.6 354.2h0M776.9 354.2h0M802.4 354.2h0M588.1 359.1h0M593.2 359.1h0M664.5 359.8h0M704.8 359.8h0M750.8 360.2h0M761 360.2h0M791.6 359.8h0M796.9 359.8h0M807.4 359.8h0M836.5 359.8h0M856.9 365h0M709.9 365.5h0M730.3 365.5h0M735.5 365.5h0M766.1 365.5h0M807 365.5h0M624.4 370.6h0M649.4 371.2h0M654.5 371.2h0M669.6 371.2h0M745.3 371.2h0M750.2 371.2h0M765.5 371.2h0M775.8 371.2h0M796.2 371.2h0M842.2 371.2h0M858.6 371.2h0M826.3 376.3h0M740.6 376.5h0M740.6 382.2h0M775.8 382h0M801.3 382h0M810.9 382h0M659.4 387.7h0M669.8 387.7h0M680.3 387.7h0M710.5 387.9h0M820.6 387.9h0M836.5 387.7h0M655.1 393.3h0M656 393.3h0M660.9 393.3h0M670.8 393.3h0M690.1 393.3h0M846.7 393.3h0M855.8 393.1h0M673.7 398.8h0M795.6 399h0M810.9 399h0M866.6 399h0M680.6 404.1h0M740.6 404.1h0M750.2 404.1h0M805.8 403.5h0M735.5 409.2h0M700.8 414.7h0M866.6 414.9h0M705.6 420.6h0M863.7 430.8h0M838.7 435.9h0M843.3 435.9h0M856.9 473.4h0"/>
<path stroke="#ffe500" d="M687.2 196.1h0M407.3 229.8h0M431.1 236.6h0M435.6 243.4h0M443.4 243.8h0M394.2 254.2h0M439.4 255.9h0M471.8 257h0M483.7 257h0M603.4 258.2h0M394.8 261h0M445.6 263.1h0M267.6 263.8h0M285.5 263.8h0M303.4 263.8h0M478.6 263.8h0M576.2 265h0M640.3 265.5h0M660 265.5h0M239.3 269.5h0M251.3 269.5h0M269.5 269.5h0M281.5 269.5h0M720.7 271.2h0M805.3 271.2h0M640.3 271.8h0M306.8 276.3h0M528.5 276h0M545.5 276.3h0M661.1 278h0M709.8 278h0M804.7 277.8h0M420.9 279.7h0M459 281.2h0M475.4 281.2h0M290.5 282.6h0M529.6 282.6h0M609.7 283.7h0M656 284.3h0M699 283.7h0M836.5 283.7h0M263.1 288.2h0M498.4 288.2h0M558 289.2h0M610.1 289.4h0M621 289.4h0M688.3 289.4h0M715 289.4h0M636.3 289.6h0M483.1 294.2h0M636.9 295.6h0M642.6 295.6h0M662.8 296h0M688.7 296h0M699.3 296h0M751.3 295.6h0M499.4 300.2h0M553.5 301.3h0M856.3 301.3h0M699.5 301.9h0M710 301.9h0M715.3 301.9h0M468 305.3h0M284.3 306.4h0M611.4 307.8h0M653.9 308.1h0M767.4 308.1h0M793.3 308.1h0M403.3 309.8h0M473.5 311h0M495.6 311.5h0M533 312.1h0M622.2 313.8h0M704.8 313.8h0M725.2 313.8h0M746.2 313.8h0M803.6 313.8h0M829.7 313.8h0M533.6 318.3h0M549.5 318.3h0M633.5 318.9h0M649.4 318.9h0M740.8 319.5h0M751.3 319.5h0M756.6 319.5h0M767.2 319.5h0M850.3 319.5h0M352.2 325.1h0M649.4 324.6h0M654.5 324.6h0M793.3 325.1h0M408 327.8h0M498.1 329.2h0M639.2 330.7h0M695.2 330.9h0M700.3 330.9h0M782 330.9h0M823.6 330.9h0M844.6 330.9h0M849.8 330.9h0M864.9 336h0M684.9 337.1h0M725.8 336.6h0M730.9 336.6h0M746.2 337.1h0M761.6 337.1h0M613.1 342.3h0M639.2 342.3h0M649.4 342.3h0M664.5 342.3h0M669.6 342.3h0M797.9 342.3h0M808.1 342.5h0M838.7 342.3h0M843.9 342.3h0M690.8 348.5h0M696.1 348.5h0M695.3 354.2h0M705.8 354.2h0M787.1 354.2h0M735.5 354.7h0M644.9 359.8h0M755.9 360.2h0M776.3 360.2h0M786.5 360.2h0M802.1 359.8h0M842.2 359.8h0M313.6 365h0M598.9 364.7h0M639.2 365.5h0M649.4 365.5h0M791.1 365.5h0M801.9 365.5h0M724.1 371.2h0M846.7 376.3h0M851.8 376.3h0M856.9 376.3h0M650.5 376.5h0M816 382h0M836.5 382h0M846.7 382h0M725.8 387.7h0M846.7 387.7h0M720.7 393.3h0M765.5 399h0M800.7 399h0M849.7 399h0M800.7 403.5h0M816 403.5h0M860.3 404.1h0M745.7 409.2h0M850.1 414.9h0M755.5 430.8h0M843.7 441h0M716.2 452.1h0"/>
<path stroke="#ffcc00" d="M545 213.9h0M550.6 213.9h0M572.2 213.9h0M656.6 227.5h0M430 229.8h0M514.3 232.4h0M785.4 241.1h0M437.7 243.8h0M482 244.2h0M548.4 245.7h0M618.7 246.3h0M623.9 246.3h0M812.1 247.2h0M817.7 247.2h0M672.8 253.6h0M495.6 255.3h0M565.4 257.8h0M667.4 258.2h0M693.5 258.2h0M817.2 258.2h0M462.1 262.7h0M273.6 263.8h0M279.6 263.8h0M291.5 263.8h0M533 264.4h0M815.5 265h0M843.3 265h0M694.3 265.5h0M446.2 269h0M457.6 269h0M263.4 269.5h0M305.7 269.5h0M688.3 271.2h0M693.7 271.2h0M793.9 271.2h0M815.5 271.5h0M656 271.8h0M396.5 273.5h0M469.5 275.2h0M475.2 275.2h0M271.1 276.3h0M841.6 277.5h0M656 278h0M688.7 278h0M793.9 277.8h0M799.3 277.8h0M398.2 279.7h0M604 283.7h0M615.3 283.7h0M635.8 283.7h0M652.8 283.7h0M678.1 283.7h0M825.7 283.7h0M867.1 283.7h0M416.3 286h0M551.8 289.2h0M709.7 289.4h0M830.6 289.4h0M642 289.6h0M653.4 289.6h0M736.3 289.6h0M233.6 292.6h0M558 295.4h0M605.1 295.6h0M615.9 295.6h0M668.5 296h0M683.4 296h0M704.6 296h0M709.9 296h0M757 295.6h0M825.1 295.6h0M867.1 295.6h0M631.8 301.9h0M643.2 301.9h0M668.5 301.9h0M694.2 301.9h0M720.5 301.9h0M725.8 301.9h0M735.5 301.6h0M788.2 301.6h0M809.2 301.6h0M830.5 301.6h0M302 306.4h0M500.1 305.8h0M600.6 307.8h0M643 308.1h0M725.2 308.1h0M746.2 308.1h0M788.2 308.1h0M803.6 307.8h0M824.7 307.8h0M835.3 307.8h0M463.2 311h0M673.6 313.8h0M850.4 313.8h0M746 319.5h0M725.2 319.8h0M674.4 325.5h0M715 325.1h0M844.4 325.1h0M849.7 325.1h0M855 325.1h0M808.7 330.3h0M654.5 330.7h0M656 330.9h0M679.8 330.9h0M787.7 330.9h0M793.3 330.9h0M818.3 330.9h0M834.1 330.9h0M597.7 336h0M644.3 336h0M649.4 336h0M776.9 336h0M854.6 336h0M629 336.6h0M766.7 337.1h0M623.3 342.3h0M644.3 342.3h0M771.8 342.3h0M776.9 342.3h0M854.1 342.3h0M751.3 342.8h0M674.9 348.5h0M680.2 348.5h0M685.5 348.5h0M843.3 348.5h0M664.5 354.2h0M711.1 354.2h0M771.8 354.2h0M782 354.2h0M843.3 354.7h0M836.5 365h0M654.5 365.5h0M770.6 371.2h0M745.4 376.5h0M866.6 387.7h0M780.9 393.3h0M725.8 399h0M843.3 430.8h0"/>
<path stroke="#ffb300" d="M662.2 148.4h0M596 153.7h0M573.3 161.1h0M674.7 162h0M584.7 168.2h0M708.8 168.5h0M764.4 169.1h0M641.4 175.3h0M608.5 181.6h0M698 182.1h0M692.9 196.1h0M643.7 209h0M583.6 214.2h0M467.8 219h0M489.9 219h0M556.9 220.5h0M589.8 220.7h0M518.3 226h0M480.8 231.3h0M672.5 233.8h0M796.2 234h0M435.6 236.6h0M437.1 236.6h0M694 241.1h0M656.6 246.8h0M678.1 246.8h0M493.9 250.8h0M564.8 251.9h0M640.3 253.6h0M768.4 254h0M822.9 253.6h0M477.7 257h0M672.8 258.2h0M678.3 258.2h0M859.2 258.2h0M297.4 263.8h0M741.1 265h0M677.9 265.5h0M683.4 265.5h0M688.8 265.5h0M720.5 265.5h0M731.5 265.5h0M463.2 269h0M287.6 269.5h0M699.1 271.2h0M709.9 271.2h0M741.1 271.5h0M650.5 271.8h0M814.9 277.5h0M858 276.9h0M863.2 276.9h0M693.9 278h0M704.5 278h0M862.6 283.1h0M625 283.7h0M693.7 283.7h0M709.7 283.7h0M477.1 287.7h0M593.8 289.4h0M693.7 289.4h0M704.4 289.4h0M809.2 289.4h0M819.9 289.4h0M825.2 289.4h0M835.9 289.4h0M647.7 289.6h0M730.9 289.6h0M741.7 289.6h0M509.8 294.5h0M610.5 295.6h0M678.1 296h0M694 296h0M725.8 296h0M757 301.3h0M704.7 301.9h0M825.1 301.6h0M616.8 307.8h0M637.5 308.1h0M648.4 308.1h0M751.5 308.1h0M756.8 308.1h0M778 308.1h0M808.9 307.8h0M814.2 307.8h0M850.7 307.8h0M793.3 313.8h0M813.8 313.8h0M834.8 313.8h0M866 313.8h0M669.1 319.5h0M674.4 319.5h0M803.6 319.5h0M808.7 319.5h0M845 319.5h0M860.9 319.5h0M669.1 325.5h0M679.6 325.5h0M705.4 330.9h0M839.3 330.9h0M787.1 342.3h0M813.2 342.5h0M701.4 348.5h0M730.3 359.8h0M745.7 360.2h0M791.1 382h0M826.3 382h0"/>
<path stroke="#ff9900" d="M691.2 148.4h0M816.3 148.4h0M834.2 148.4h0M555.8 152.6h0M573.3 152.9h0M579 152.9h0M669.6 155.2h0M675.3 155.2h0M584.7 161.1h0M624.2 161.7h0M630.1 161.7h0M669.1 162h0M753.6 162h0M759.9 162h0M555.8 167.9h0M590.4 168.2h0M775.2 169.1h0M691.8 175.3h0M697.4 175.3h0M680.4 175.6h0M759.3 181.6h0M507.9 186.7h0M593.2 195.7h0M481.4 199.1h0M548.9 201.1h0M698.6 202.6h0M430.5 205.4h0M488.2 206.3h0M589.2 214.2h0M656.6 215h0M699.1 214.7h0M796.7 215h0M495 219h0M500.7 219.2h0M807.8 221.3h0M688.3 221.8h0M496.2 225.8h0M524 226h0M529.6 226h0M785.4 227.5h0M791.1 227.5h0M801.9 228.1h0M807.8 228.1h0M508.6 232.4h0M568.2 233.8h0M678.1 233.8h0M813.2 234.3h0M408.4 236.6h0M458.7 238.3h0M796.2 241.1h0M420.9 243.4h0M465.5 244.2h0M640.3 246.8h0M796.2 247.2h0M667.4 253.6h0M678.3 253.6h0M683.8 253.6h0M817.5 253.6h0M278.4 257.4h0M683.8 258.2h0M699.1 258.2h0M843.3 258.2h0M630.7 258.5h0M603.4 265.3h0M805.3 265h0M859.2 265h0M864.3 265h0M655.1 265.5h0M672.5 265.5h0M699.7 265.5h0M726 265.5h0M608.5 271.5h0M715.3 271.2h0M821.2 271.5h0M863.7 270.7h0M661.7 271.8h0M667.4 271.8h0M291.5 276.3h0M830.8 277.5h0M741.1 277.8h0M647.1 283.7h0M661.7 284.3h0M688.3 283.7h0M715 283.7h0M814.9 283.7h0M820.3 283.7h0M699 289.4h0M846.7 289.4h0M862.6 289.4h0M715.2 296h0M803.6 295.6h0M835.9 295.6h0M741.1 301.6h0M778 301.6h0M835.9 301.6h0M867.1 301.9h0M845.6 307.8h0M855.8 307.8h0M595.5 313.2h0M741.1 313.8h0M855.8 313.8h0M793.3 319.5h0M684.9 330.9h0M793.3 336h0M736 337.1h0M792.2 342.3h0M659.4 348.5h0M863.7 347.9h0M730.3 354.7h0M858 359.3h0"/>
<path stroke="#ff8000" d="M787.7 148.4h0M613.1 154.3h0M743.4 153.7h0M800.2 153.7h0M579 161.1h0M742.8 160.6h0M601.2 161.7h0M630.1 168.5h0M641.4 168.5h0M680.4 168.8h0M406.9 170.2h0M447.9 171.9h0M590.9 175h0M608 174.7h0M647.7 175.3h0M686.1 175.3h0M736.6 175.3h0M251.2 177.9h0M478.6 179.8h0M495.6 179.8h0M501.3 179.8h0M512.6 179.8h0M392.2 183.6h0M496.2 186.7h0M513.8 186.7h0M759 188.9h0M503.5 193.5h0M570.5 194.6h0M670.2 196.1h0M446.8 198h0M504.1 200.3h0M704 202.6h0M649.4 209h0M477.4 212.2h0M649.4 215.4h0M665.1 215h0M250.6 217.6h0M433.4 217.6h0M456.4 219h0M462.1 219h0M791.1 221.1h0M682.7 221.8h0M694 221.8h0M227.4 224.1h0M440 224.9h0M451.3 224.9h0M457 224.9h0M485.4 225.3h0M508.1 225.8h0M535.3 226h0M568.2 225.8h0M655.1 227.3h0M688.3 228.1h0M813.8 228.1h0M475.2 231.3h0M623.3 234h0M790.8 234h0M464.4 238.3h0M481.4 238.3h0M688.3 241.1h0M493.3 244.9h0M655.1 246.5h0M646 246.8h0M673 246.8h0M790.5 247.2h0M789.9 258.2h0M795.3 258.2h0M800.7 258.2h0M822.9 258.2h0M795 265h0M800.2 265h0M842.2 271.2h0M820.6 277.5h0M846.7 277.5h0M715 278h0M704.4 283.7h0M846.7 283.7h0M648.3 295.6h0M846.7 295.6h0M704.8 307.8h0M772.7 308.1h0M745.7 325.1h0M860.3 330.9h0M843.9 336.6h0M858.6 354.2h0"/>
<path stroke="#ff6600" d="M668.3 148.4h0M810.4 148.4h0M828.2 148.4h0M601.2 153.7h0M818.3 153.7h0M823.4 153.7h0M681 155.2h0M720.7 154.9h0M753.6 155.4h0M793.9 154.9h0M469.2 158.9h0M487.1 158.9h0M555.8 161.1h0M612.5 161.7h0M647.1 161.7h0M680.4 162h0M411.8 164.3h0M458.7 165.7h0M510.3 166.8h0M579 168.2h0M647.1 168.5h0M792.2 168.5h0M742.3 168.8h0M780.9 169.1h0M494.5 173h0M512 173h0M703.1 175.3h0M747.4 175.3h0M414.5 177.2h0M575 181h0M591.5 181.6h0M736.6 181.6h0M525.1 187h0M593.2 188.1h0M664.5 188.6h0M393.4 190.9h0M525.7 193.8h0M675.9 196.1h0M475.7 199.1h0M487.1 199.1h0M482.5 206.3h0M505.2 207.1h0M527.4 207.1h0M466.1 212.2h0M511.5 213.6h0M655.1 215.4h0M416.3 217.6h0M506.4 219.2h0M417.5 224.7h0M479.7 225.3h0M666.8 233.8h0M785.4 234h0M419.2 236.6h0M569.4 239.7h0M640.3 240.8h0M790.8 241.1h0M818.3 240.8h0M789.9 253.6h0M795.6 253.6h0M812.1 253.6h0M768.4 260.4h0M715 265.5h0M704.5 271.2h0M799.6 271.2h0M720.5 296h0M735.5 319.5h0"/>
<path stroke="#ff4c00" d="M674.4 148.4h0M777.5 148.4h0M822.3 148.4h0M403.3 150h0M421.7 150h0M427.8 150h0M438.8 150.3h0M584.7 152.9h0M759.9 155.4h0M777.5 156h0M427.7 157.7h0M475.2 158.9h0M481.1 158.9h0M618.4 161.7h0M423.2 164.3h0M499 166.8h0M504.7 166.8h0M703.1 168.5h0M370.7 170.2h0M376.8 170.2h0M382.8 170.2h0M388.8 170.2h0M394.8 170.2h0M412.9 170.2h0M222.8 170.8h0M435.1 170.8h0M437.1 171.9h0M500.3 173h0M742 175.3h0M792.2 175.3h0M669.1 175.6h0M674.7 175.6h0M378.4 177.2h0M484.2 179.8h0M552.3 181h0M708.8 181.6h0M747.9 181.6h0M753.6 181.6h0M380.6 183.6h0M468.3 185.9h0M290.9 186.7h0M570.5 187.8h0M742.3 188.9h0M753.4 188.9h0M236.4 191.2h0M659.4 196.1h0M681.5 196.1h0M698.6 196.1h0M435.6 205.4h0M437.1 205.4h0M471.2 206.3h0M476.9 206.3h0M605.1 208.6h0M803 208.6h0M483.1 212.2h0M505.2 213.6h0M785.4 214.5h0M693.5 214.7h0M813.2 215h0M785.4 221.1h0M246.1 224.1h0M502.1 225.8h0M418.6 229.8h0M688.3 234.3h0M812.6 240.8h0M427.7 250.2h0M699.2 278h0M831.1 283.7h0M830.5 295.6h0"/>
<path stroke="#ff3300" d="M680.4 148.4h0M720.7 148.4h0M235.3 150h0M255.2 150h0M415.5 150h0M445.6 150.3h0M788.2 154.9h0M301.7 156.6h0M392.5 156.6h0M463.2 158.9h0M504.1 158.9h0M793.3 162h0M297 163.4h0M417.5 164.3h0M430 170.8h0M476.9 172.2h0M292.6 173.6h0M305.5 173.6h0M580.2 174.5h0M426.6 177.2h0M307.4 181h0M742.3 181.6h0M253.5 185.5h0M747.8 188.9h0M764.5 188.9h0M770.1 188.9h0M405.6 190.9h0M514.3 193.8h0M238.1 198h0M244.4 198h0M430 198h0M453 198h0M709.3 202.6h0M246.3 204.8h0M419.2 205.4h0M471.8 212.2h0M316.5 213.9h0M807.7 215h0M802.4 221.3h0M813.2 221.3h0M590.4 227.5h0M867.7 289.4h0"/>
<path stroke="#ff1a00" d="M793.3 148.4h0M280.9 150h0M409.4 150h0M433.9 150h0M218.3 156.6h0M237.9 156.6h0M288.8 156.6h0M374.2 156.6h0M386.4 156.6h0M271.7 163.4h0M453 165.7h0M235.9 170.8h0M442.5 171.9h0M299 173.6h0M311.9 173.6h0M708.8 175.3h0M390.5 177.2h0M402.5 177.2h0M489.9 179.8h0M506.9 179.8h0M301.1 181h0M580.7 181h0M386.4 183.6h0M403.9 183.6h0M278.1 186.7h0M502 186.7h0M254.6 191.2h0M399.5 190.9h0M311.3 194h0M753.6 196.1h0M256.9 198h0M313 200.8h0M265.4 204.8h0M807 234.3h0"/>
<path stroke="#ff0000" d="M261.6 150h0M268 150h0M287.3 150h0M244.4 156.6h0M250.9 156.6h0M257.4 156.6h0M263.1 156.6h0M295.3 156.6h0M233.4 163.4h0M278 163.4h0M284.3 163.4h0M290.7 163.4h0M303.3 163.4h0M309.6 163.4h0M488.2 165.9h0M364.7 170.2h0M506.2 173h0M372.4 177.2h0M384.4 177.2h0M396.5 177.2h0M408.5 177.2h0M263.7 179.1h0M313.6 181h0M221.1 184.4h0M398 183.6h0M284.5 186.7h0M309.1 187.8h0M604 195.2h0M263.1 198h0M294.3 200.3h0M259 204.8h0M314.2 207.1h0M248.3 211.1h0M267.1 212.2h0M802.2 215h0M252.3 224.1h0"/>
<path stroke="#e60000" d="M248.3 150h0M293.8 150h0M224.8 156.6h0M231.3 156.6h0M276 156.6h0M368.1 156.6h0M380.3 156.6h0M227 163.4h0M239.8 163.4h0M400.9 170.2h0M261.4 171.9h0M366.4 177.2h0M420.5 177.2h0M229.9 191.2h0M387.4 190.9h0M286.4 192.9h0M292 192.9h0M225.6 198h0M231.9 198h0M288.6 200.3h0M252.7 204.8h0M289.8 206h0M241.5 211.1h0M243.8 217.6h0"/>
<path stroke="#cc0000" d="M222.2 150h0M241.8 150h0M269.5 156.6h0M282.4 156.6h0M220.5 163.4h0M363 162.8h0M243.8 177.9h0M271.6 186.7h0M223.4 191.2h0M233.6 204.8h0M240 204.8h0"/>
<path stroke="#b30000" d="M228.8 150h0M274.5 150h0M254.6 171.9h0"/>
<path stroke="#990000" d="M265.4 163.4h0M227.4 184.4h0"/></g>
<use href="#grid"/><use href="#coast" clip-path="url(#ax)"/>
<text class="s" transform="translate(114.6 146.7) scale(0.985 1.045)" text-anchor="end">35</text>
<text class="o" x="114.1" y="126.8">°</text>
<text class="s" transform="translate(148.3 146.7) scale(0.985 1.045)">N</text>
<text class="s" transform="translate(114.6 259.7) scale(0.985 1.045)" text-anchor="end">30</text>
<text class="o" x="114.1" y="239.8">°</text>
<text class="s" transform="translate(148.3 259.7) scale(0.985 1.045)">N</text>
<text class="s" transform="translate(114.6 370) scale(0.985 1.045)" text-anchor="end">25</text>
<text class="o" x="114.1" y="350.1">°</text>
<text class="s" transform="translate(148.3 370) scale(0.985 1.045)">N</text>
<text class="s" transform="translate(114.6 476.8) scale(0.985 1.045)" text-anchor="end">20</text>
<text class="o" x="114.1" y="456.9">°</text>
<text class="s" transform="translate(148.3 476.8) scale(0.985 1.045)">N</text>
<text class="s" transform="translate(114.6 581.8) scale(0.985 1.045)" text-anchor="end">15</text>
<text class="o" x="114.1" y="561.9">°</text>
<text class="s" transform="translate(148.3 581.8) scale(0.985 1.045)">N</text>
<text class="s" transform="translate(114.6 685.8) scale(0.985 1.045)" text-anchor="end">10</text>
<text class="o" x="114.1" y="665.9">°</text>
<text class="s" transform="translate(148.3 685.8) scale(0.985 1.045)">N</text>
<text class="s" transform="translate(273.5 767.5) scale(0.985 1.045)" text-anchor="end">110</text>
<text class="o" x="273.1" y="747.6">°</text>
<text class="s" transform="translate(306.6 767.5) scale(0.985 1.045)">E</text>
<text class="s" transform="translate(477.3 767.5) scale(0.985 1.045)" text-anchor="end">120</text>
<text class="o" x="476.9" y="747.6">°</text>
<text class="s" transform="translate(510.4 767.5) scale(0.985 1.045)">E</text>
<text class="s" transform="translate(681.1 767.5) scale(0.985 1.045)" text-anchor="end">130</text>
<text class="o" x="680.7" y="747.6">°</text>
<text class="s" transform="translate(714.2 767.5) scale(0.985 1.045)">E</text>
<text class="s" transform="translate(884.9 767.5) scale(0.985 1.045)" text-anchor="end">140</text>
<text class="o" x="884.5" y="747.6">°</text>
<text class="s" transform="translate(918 767.5) scale(0.985 1.045)">E</text>
</g>
<text class="p" x="17.9" y="59.3">(a)</text>
<text class="t" x="547.4" y="132.2" text-anchor="middle">690.625 cm<tspan class="u" dy="-26.8" dx="1.2" style="font-size:57px">−</tspan><tspan class="u" dy="-2.3" dx="-2.6">1</tspan></text>
<rect x="906.8" y="143.8" width="65.5" height="539.7" fill="url(#jet)" stroke="#262626" stroke-width="2.8"/>
<path d="M972.3 177h-7M972.3 279h-7M972.3 381.4h-7M972.3 483.5h-7M972.3 585.9h-7" stroke="#262626" stroke-width="2.6" fill="none"/>
<text class="c" x="992.8" y="194.4">220</text>
<text class="c" x="992.8" y="296.4">218</text>
<text class="c" x="992.8" y="398.8">216</text>
<text class="c" x="992.8" y="500.9">214</text>
<text class="c" x="992.8" y="603.3">212</text>
<text class="k" x="941" y="116.5" text-anchor="middle">K</text>
<g transform="translate(1188 -0.4)">
<rect x="215.9" y="147.3" width="651.2" height="538.6" fill="none" stroke="#262626" stroke-width="11.6"/>
<g class="d" clip-path="url(#ax)"><path stroke="#0000cc" d="M679.8 598.3h0"/>
<path stroke="#0000e6" d="M636.9 574.5h0M624.4 584.7h0M629 584.7h0M635.8 584.7h0M688.9 588.7h0M679.8 592.6h0M684.4 592.6h0M693.5 594.3h0M699.1 594.3h0M693.5 598.9h0M698.6 598.9h0M557.5 616.5h0M576.7 622.1h0M582.4 622.1h0M641.4 631.2h0M646 631.2h0M655.1 631.2h0M656 631.2h0M650.2 636.3h0M655.1 636.3h0M688.9 642h0M694 642h0M699.1 642h0M667.4 669.2h0M667.4 674.4h0"/>
<path stroke="#0000ff" d="M616.5 554h0M625.6 554h0M631.2 569.4h0M632.4 574.5h0M632.4 579h0M636.9 579h0M604 586.4h0M623.3 607.4h0M655.1 622.1h0M650.5 631.2h0M572.2 631.8h0M661.7 664.7h0M656 669.2h0M656 674.4h0"/>
<path stroke="#0033ff" d="M666.2 650.5h0M854.6 674.4h0"/>
<path stroke="#004dff" d="M650.5 539.3h0M607.4 554h0M602.9 563.7h0M622.2 563.7h0M705.9 564.5h0M597.2 568.8h0M602.9 568.8h0M623.3 579h0M698 583.5h0M702.5 583.5h0M613.1 584.7h0M598.3 586.4h0M609.7 586.4h0M575.6 588.1h0M642.6 588.1h0M696.9 588.7h0M707.1 588.7h0M575.6 593.2h0M581.3 597.7h0M642.6 598.3h0M703.7 598.9h0M587 602.8h0M702.5 604h0M581.3 607.4h0M702.5 609.1h0M524.5 610.8h0M660.5 613.1h0M566.5 616.5h0M582.4 617h0M688.9 617h0M704.8 617h0M571.1 622.1h0M705.9 622.1h0M710.9 622.1h0M564.3 626.7h0M715 627.3h0M681 631.2h0M552.9 631.8h0M557.7 631.8h0M640.6 636.3h0M645.4 636.3h0M656 636.3h0M660.5 636.3h0M696.9 635.8h0M715 637.5h0M679.3 646h0M684.4 646h0M670.8 650.5h0M716.2 655.6h0M712.2 664.7h0M717.3 664.7h0M661.7 669.2h0M661.7 678.9h0M854.6 678.9h0M656 682.9h0"/>
<path stroke="#0066ff" d="M368.1 551.2h0M564.3 558.6h0M622.2 559.1h0M696.9 559.4h0M701.4 559.4h0M564.3 563.7h0M617.6 563.7h0M696.9 564.5h0M701.4 564.5h0M608.5 568.8h0M635.8 569.4h0M704.8 569.4h0M709.7 569.4h0M523.4 573.3h0M715 574.1h0M707.1 583.5h0M584.7 584.7h0M702 588.7h0M642.6 593.2h0M704.8 594.3h0M575.6 602.8h0M642.6 603.4h0M587 607.4h0M692.3 612.5h0M656 622.1h0M554 626.7h0M559.2 626.7h0M678.7 626.7h0M683.8 626.7h0M688.9 626.7h0M720.7 627.3h0M216 628.4h0M666.2 631.2h0M671.1 631.2h0M548.1 631.8h0M562.6 631.8h0M567.4 631.8h0M715 632.4h0M720.7 632.4h0M702.5 635.8h0M572.2 636.9h0M720.7 637.5h0M711.6 641.4h0M720.7 642h0M674.2 646h0M707.1 646h0M707.1 664.7h0M854.6 669.8h0M652.8 673.8h0M661.7 674.4h0M651.7 677.8h0M656 678.9h0M667.4 678.9h0"/>
<path stroke="#0099ff" d="M641.4 574.5h0M754.8 585.8h0M715.8 611.9h0"/>
<path stroke="#00b2ff" d="M639.2 539.3h0M651.7 544.4h0M616.5 548.9h0M622.2 548.9h0M655.1 549.5h0M463.2 553.5h0M696.9 554.3h0M701.4 554.3h0M705.9 554.3h0M710.5 559.4h0M715 559.4h0M569.9 563.7h0M715 564.5h0M569.9 568.8h0M719.6 574.1h0M641.4 579h0M542.7 588.1h0M660.5 589.8h0M557.5 592.6h0M660.5 594.9h0M575.6 597.7h0M660.5 600h0M709.3 607.4h0M714.5 607.4h0M641.4 608h0M571.1 611.4h0M710.9 611.9h0M571.1 617h0M576.7 617h0M720.7 622.1h0M544.6 626.7h0M549.5 626.7h0M676.1 631.2h0M533.6 631.8h0M538.4 631.8h0M543.3 631.8h0M576.7 636.3h0M582 636.3h0M566.2 636.9h0M511.5 640.9h0M576.7 641.4h0M582.4 641.4h0M613.1 641.4h0M655.1 641.4h0M572.2 642h0M511.5 646h0M576.7 646.5h0M588.1 646.5h0M651.7 646.5h0M655.1 646.5h0M725.2 647.5h0M588.1 651.7h0M588.1 656.8h0M481.4 659h0M854.6 659.6h0M854.6 664.7h0M849 669.8h0M860.3 669.8h0M860.3 674.4h0"/>
<path stroke="#00ccff" d="M644.9 539.3h0M610.8 548.9h0M627.8 548.9h0M458.1 553.5h0M564.3 553.5h0M569.9 558.6h0M705.9 559.4h0M710.5 564.5h0M714.6 569.4h0M719.6 569.4h0M602.9 578.4h0M647.1 579h0M660.5 584.7h0M581.3 602.8h0M660.5 605.1h0M705.9 611.9h0M533.6 616.5h0M710.1 617h0M715.4 617h0M720.7 617h0M552.9 621.6h0M715.8 622.1h0M725.2 627.3h0M725.2 632.4h0M587.3 636.3h0M592.6 636.3h0M614.2 635.8h0M635.8 636.3h0M669.6 636.3h0M675.3 636.3h0M725.2 637.5h0M592.6 641.4h0M618.7 641.4h0M725.2 642.6h0M582.4 646.5h0M576.7 651.7h0M582.4 651.7h0M582.4 656.8h0M473.5 659h0M716.2 669.2h0M849 674.4h0M661.7 682.9h0"/>
<path stroke="#00e5ff" d="M681 636.3h0M649.4 641.4h0M506.4 646h0M647.1 682.9h0"/>
<path stroke="#00ffff" d="M217.7 497.8h0M656 534.4h0M782 534.4h0M658.3 538.7h0M663.4 538.7h0M660.5 548.9h0M460.4 558.6h0M555.2 558.6h0M508.6 567.7h0M744.5 569.4h0M450.8 572.2h0M750.2 574.1h0M450.8 576.2h0M523.4 577.9h0M529.1 577.9h0M579 578.4h0M538.2 579h0M744.5 579h0M750.2 579h0M749.6 585.8h0M750.2 590.9h0M562 592.6h0M749.1 594.9h0M542.7 597.2h0M217.1 600.6h0M223.4 608.5h0M534.8 611.9h0M720.7 611.9h0M540.4 616.5h0M545 616.5h0M549.5 616.5h0M219.4 623.3h0M441.7 626.1h0M222.8 628.4h0M441.7 631.2h0M729.8 632.4h0M226.2 633.5h0M237.6 633.5h0M242.9 633.5h0M440.5 636.3h0M560.1 636.9h0M729.8 637.5h0M243.2 638.6h0M248.9 638.6h0M254.6 638.6h0M216 640.3h0M554 642h0M560.1 642h0M566.2 642h0M229.9 645.4h0M458.7 645.4h0M464.4 645.4h0M560.1 647.1h0M601.2 650.5h0M566.2 652.2h0M572.2 652.2h0M729.8 652.6h0M463.2 655.1h0M566.2 657.3h0M545 662.4h0M582.4 661.9h0M504.1 672.1h0M490.5 681.7h0M693.5 682.9h0"/>
<path stroke="#00ffe3" d="M274.5 334.3h0M782 529.3h0M652.8 534.7h0M406.7 536.4h0M456.4 538.1h0M656 548.9h0M453 553.5h0M710.5 554.3h0M465.5 558.6h0M719.6 559.4h0M464.4 563.1h0M719.6 564.5h0M513.2 567.7h0M622.2 568.8h0M560.9 573.3h0M663.9 573.9h0M587 578.4h0M593.8 578.4h0M556.3 587h0M542.7 601.7h0M548.4 601.7h0M720.7 601.7h0M719.6 607.4h0M219.4 618.2h0M225.6 623.3h0M231.9 623.3h0M729.8 627.3h0M227.9 628.4h0M233 628.4h0M447 631.2h0M231.9 633.5h0M248.2 633.5h0M445.8 636.3h0M554 636.9h0M237.6 638.6h0M549.5 642h0M243.2 643.1h0M729.8 642.6h0M235.3 645.4h0M554 647.1h0M566.2 647.1h0M572.2 647.1h0M729.8 647.5h0M594.9 650.5h0M607.4 650.5h0M468.3 655.1h0M572.2 657.3h0M576.7 656.8h0M588.1 661.9h0M716.2 674.4h0M863.7 678.3h0M460.4 681.7h0M495 682.3h0M655.1 682.9h0"/>
<path stroke="#00ffc8" d="M427.7 157.7h0M858.6 425.3h0M614.8 484.1h0M665.9 529.3h0M655.1 529.6h0M666 534.4h0M558.6 543.8h0M640.3 544.4h0M646 544.4h0M685.5 544.4h0M700.5 544.4h0M487.1 548.4h0M501.8 548.4h0M558.6 548.9h0M633.5 548.9h0M677.6 549.5h0M701.1 549.5h0M705.8 549.5h0M554 553.5h0M602.9 554h0M626.7 559.1h0M735.5 559.4h0M450.2 562.6h0M725.2 564.5h0M740 564.5h0M613.1 568.8h0M592.6 573.3h0M537 574.5h0M456.4 579h0M660.5 579h0M725.2 579h0M533.6 586.4h0M538.2 591.5h0M538.2 599.4h0M552.9 611.9h0M770.6 613.1h0M725.2 622.1h0M758.2 622.1h0M253.5 633.5h0M451.1 636.3h0M351.6 639.2h0M539.3 642h0M544.4 642h0M554 652.2h0M560.1 652.2h0M734.3 660.7h0M484.8 664.7h0M845.6 664.7h0M862.6 682.9h0"/>
<path stroke="#00ffac" d="M423.2 164.3h0M400.9 170.2h0M464.9 317.2h0M765.5 376.9h0M226.8 487h0M231.9 487h0M226.8 493.2h0M656 529.3h0M661 529.3h0M670.9 529.3h0M648.3 529.6h0M661 534.4h0M671 534.4h0M676 534.4h0M681 534.4h0M686 534.4h0M455.9 534.7h0M461.5 538.1h0M668.5 538.7h0M710.5 539.3h0M695.5 544.4h0M552.9 548.9h0M650.2 549.5h0M682.3 549.5h0M687 549.5h0M691.7 549.5h0M696.4 549.5h0M568.8 553.5h0M729.8 554.3h0M537 569.4h0M617.6 568.8h0M640.3 569.4h0M663.9 569.4h0M725.2 569.4h0M575.6 573.9h0M646.6 574.5h0M464.4 576.7h0M598.3 578.4h0M456.4 585.8h0M529.1 586.4h0M538.2 586.4h0M456.4 590.9h0M530.2 591.5h0M759.3 591.5h0M768.4 601.7h0M768.4 607.4h0M772.9 607.4h0M228.5 608.5h0M518.9 611.9h0M530.2 611.9h0M655.1 613.1h0M766.1 613.1h0M524.5 616.5h0M725.2 617h0M539.7 626.7h0M529.1 631.8h0M549.5 636.9h0M218.3 645.4h0M544.4 647.1h0M549.5 647.1h0M735.5 647.5h0M549.5 657.3h0M554 657.3h0M560.1 657.3h0M734.3 657.3h0M549.5 662.4h0M576.7 661.9h0M479.7 664.7h0M588.1 666.4h0M643.7 667.5h0M821.7 678.9h0M465.4 681.7h0M470.4 681.7h0M707.1 682.9h0M711.6 682.9h0"/>
<path stroke="#00ff90" d="M276.2 341.1h0M770.6 365.5h0M665.8 524.2h0M633.9 524.5h0M639.2 524.5h0M649.8 524.5h0M685.7 529.3h0M690.7 529.3h0M705.9 534.4h0M787.7 534.4h0M725.5 539.3h0M690.5 544.4h0M705.5 544.4h0M778.6 544.4h0M409 546.7h0M583.6 548.9h0M710.5 549.5h0M729.8 549.5h0M656 554.3h0M535.9 564.3h0M575.6 563.7h0M744.5 564.5h0M646 569.4h0M805.5 574.1h0M725.2 584.1h0M809.2 587h0M772.9 596.6h0M772.9 601.7h0M552.9 606.3h0M838.7 617h0M867.1 625.5h0M779.7 627.3h0M785.4 636.9h0M842.2 636.9h0M436 641.4h0M624.4 641.4h0M780.9 642h0M648.3 646.5h0M850.1 652.6h0M850.1 655.1h0M474.6 664.7h0M460.4 665.8h0M633.5 682.9h0"/>
<path stroke="#00ff75" d="M415.5 150h0M445.6 150.3h0M411.8 164.3h0M394.8 170.2h0M463.2 311h0M468.9 311h0M453.6 316.4h0M224.5 322.1h0M230.5 322.1h0M459.8 322.9h0M219.4 328.6h0M441.1 333.7h0M446.2 333.7h0M435.1 338.9h0M270.2 341.1h0M440.5 340.6h0M766.1 365.5h0M755.3 387.7h0M633.9 478.5h0M238.1 488.1h0M656 524.2h0M660.9 524.2h0M440.5 524.5h0M623.3 524.5h0M644.5 524.5h0M655.1 524.5h0M615.9 528.8h0M675.8 529.3h0M680.8 529.3h0M700.6 529.3h0M705.5 529.3h0M710.5 529.3h0M787.1 529.3h0M441.7 529.6h0M691 534.4h0M696 534.4h0M700.9 534.4h0M710.5 534.4h0M792.2 534.4h0M450.8 534.7h0M505.2 539.3h0M552.9 538.7h0M557.5 538.7h0M634.6 538.7h0M715.5 539.3h0M720.5 539.3h0M791.1 538.7h0M412.4 541.6h0M456.4 543.3h0M552.9 543.8h0M598.3 543.8h0M614.2 544.4h0M619.1 544.4h0M629 544.4h0M710.5 544.4h0M715.5 544.4h0M735.5 544.4h0M768.4 544.4h0M773.5 544.4h0M403.3 546.7h0M598.3 548.9h0M640.3 549.5h0M715 549.5h0M734.7 549.5h0M419.2 552.3h0M583.6 553.5h0M598.3 554h0M631.2 554h0M660.9 554.3h0M665.8 554.3h0M670.8 554.3h0M715 554.3h0M742.3 554.3h0M535.9 559.1h0M580.2 558.6h0M632 559.1h0M637.3 559.1h0M642.6 559.1h0M740 559.4h0M581.3 563.7h0M646 564.3h0M663.9 564.8h0M575.6 568.8h0M580.2 568.8h0M651.7 569.4h0M749.1 569.4h0M508.6 572.8h0M734.3 574.1h0M740 574.1h0M754.8 574.1h0M479.7 577.3h0M609.7 578.4h0M734.3 579h0M800.2 579h0M805.1 579h0M810 579h0M759.3 584.7h0M794.5 584.7h0M744.5 585.8h0M768.4 591.5h0M725.2 594.9h0M763.8 596.6h0M768.4 596.6h0M749.1 600.6h0M504.1 607.4h0M508.6 607.4h0M832.7 607.4h0M838 607.4h0M725.2 611.9h0M749.1 611.9h0M829.7 611.9h0M520 616.5h0M730.3 617h0M749.1 617h0M780.3 617h0M844.4 617h0M225.1 618.2h0M636.9 621h0M524.5 621.6h0M730.3 622.1h0M749.1 622.1h0M779.7 622.1h0M447 626.1h0M452.3 626.1h0M632.4 626.7h0M637.5 626.7h0M642.6 626.7h0M524.5 631.8h0M735.5 632.4h0M259.1 633.5h0M456.4 636.3h0M539.3 636.9h0M544.4 636.9h0M735.5 637.5h0M260.3 638.6h0M506.4 640.9h0M629 641.4h0M822.9 642h0M735.5 642.6h0M516.6 646h0M436 646.5h0M450.8 646.5h0M539.3 647.1h0M780.9 647.1h0M822.9 647.1h0M451.3 651.7h0M540.4 652.2h0M545 652.2h0M549.5 652.2h0M648.3 651.7h0M789.9 652.2h0M735.5 652.6h0M473.5 655.1h0M540.4 657.3h0M545 657.3h0M648.3 656.8h0M493.9 659.6h0M506.4 660.7h0M450.8 661.9h0M563.1 662.4h0M572.2 662.4h0M489.9 664.7h0M495 664.7h0M455.3 665.8h0M465.5 665.8h0M576.7 666.4h0M582.4 666.4h0M572.2 667.5h0M455.3 671h0M506.4 671h0M821.7 674.4h0M432.8 677.2h0M464.4 676.6h0M450.8 677.8h0M475.4 681.7h0M480.5 681.7h0M485.5 681.7h0M508.6 682.9h0M853.5 682.9h0"/>
<path stroke="#42ff50" d="M417.5 164.3h0M765.5 371.2h0M770.6 376.9h0M760.4 387.7h0M629 478.5h0M628.6 524.5h0M695.6 529.3h0M629 538.7h0M783.1 538.7h0M416.9 541.6h0M624 544.4h0M634.6 544.4h0M720.5 544.4h0M725.5 544.4h0M730.5 544.4h0M645.2 549.5h0M719.9 549.5h0M724.9 549.5h0M719.6 554.3h0M735.5 554.3h0M663.9 559.7h0M651.7 564.3h0M617.6 573.9h0M800.7 574.1h0M754.8 579h0M725.2 589.8h0M451.3 590.9h0M763.8 591.5h0M529.1 607.4h0M827.4 607.4h0M834.6 611.9h0M844.4 611.9h0M520 621.6h0M457.6 626.1h0M534.8 626.7h0M735.5 627.3h0M864.9 630.1h0M452.3 631.2h0M776.3 631.8h0M446.2 641.4h0M261.4 643.1h0M435.1 644.3h0M440.9 646.5h0M441.1 651.7h0M446.2 651.7h0M785.4 652.2h0M769.5 656.2h0M456.4 656.8h0M789.9 657.3h0M860.3 664.7h0M473.5 676.6h0M226.2 680.6h0M817.2 682.9h0"/>
<path stroke="#86ff2b" d="M421.7 150h0M867.1 283.7h0M867.7 289.4h0M793.3 313.8h0M761.9 319.5h0M793.3 319.5h0M283.2 324h0M289.1 324h0M423.7 333.2h0M751.3 342.8h0M307.1 359.8h0M312.6 359.8h0M755.3 372.9h0M755.3 376.9h0M750.2 399h0M403.9 417.2h0M643.3 468h0M648.3 468h0M596 493.8h0M614.8 494.1h0M218.3 502.9h0M586.4 504h0M631.2 509.2h0M676.1 514h0M646 518.9h0M602.9 524h0M670.8 524.2h0M675.7 524.2h0M715 529.3h0M557.5 534.2h0M505.2 534.7h0M730.5 539.3h0M735.5 539.3h0M515.5 543.8h0M545 543.8h0M739.6 549.5h0M535.9 553.5h0M655.1 554h0M487.5 558.6h0M574.5 558.6h0M744.5 559.4h0M479.1 567.7h0M513.2 572.8h0M517.7 572.8h0M786.5 574.1h0M810.2 574.1h0M440.5 576.2h0M442.8 579h0M758.2 579h0M819.5 579h0M779.7 585.8h0M779.7 591.5h0M786.5 591.5h0M785.4 597.2h0M818.3 597.7h0M744.5 600.6h0M843.3 607.4h0M507.5 611.9h0M730.3 611.9h0M735.5 611.9h0M775.2 611.9h0M839.5 611.9h0M849 617h0M534.8 622.1h0M539.3 622.1h0M762.7 622.1h0M839.9 622.1h0M844.4 622.1h0M753.6 632.4h0M836.1 636.9h0M451.3 641.4h0M525.7 642h0M785.4 642h0M430.5 644.3h0M224.5 645.4h0M483.7 646h0M753.6 647.5h0M758.2 647.5h0M456.4 651.7h0M794.5 652.2h0M758.2 652.6h0M839.9 655.6h0M436 656.8h0M435.1 659h0M860.3 659.6h0M643.7 660.7h0M545 667.5h0M549.5 667.5h0M497.3 668.7h0M602.5 668.7h0M766.7 670.4h0M780.9 670.4h0M638 673.8h0M222.8 675.7h0M510.9 676.6h0"/>
<path stroke="#bbff0d" d="M433.9 150h0M438.8 150.3h0M463.2 158.9h0M475.2 231.3h0M467.8 299.4h0M468 305.3h0M281.8 318.9h0M756.6 319.5h0M471.8 323.4h0M295 324h0M787.7 325.1h0M407.8 338.6h0M797.9 342.3h0M378.3 348.8h0M399.3 350.2h0M362.6 360.6h0M368 360.6h0M760.4 382h0M750.2 393.3h0M755.9 393.3h0M755.3 399h0M398.7 417.2h0M638.2 462.6h0M715.6 473.4h0M638.8 478.5h0M619.3 488.7h0M638.6 488.9h0M643.5 488.9h0M648.4 488.9h0M653.4 488.9h0M605.1 498.7h0M591.3 504h0M601 504h0M625 504h0M625.6 509.2h0M625.6 514.3h0M651.7 514.3h0M816 514h0M573.3 518.9h0M616.5 518.9h0M626.3 518.9h0M631.2 518.9h0M636.2 518.9h0M661.7 519.1h0M608.5 524h0M680.6 524.2h0M685.5 524.2h0M690.4 524.2h0M695.3 524.2h0M700.3 524.2h0M705.2 524.2h0M710.1 524.2h0M445.6 524.5h0M500.1 529.6h0M562.6 534.2h0M715.5 534.4h0M763.2 538.7h0M768.1 538.7h0M773.1 538.7h0M778.1 538.7h0M819.5 538.7h0M824 538.7h0M485.9 543.8h0M740 544.4h0M393.6 546.1h0M516 548.9h0M568.5 548.9h0M744.5 549.5h0M357.9 550.6h0M373.2 551.2h0M644.9 554h0M749.1 554.3h0M516.6 558.6h0M749.1 559.4h0M749.1 564.5h0M473.5 567.7h0M753.6 569.4h0M470.1 572.2h0M608.5 573.9h0M651.7 574.5h0M791.3 574.1h0M796 574.1h0M814.9 574.1h0M445.6 576.2h0M468.9 576.7h0M474.6 577.3h0M495 577.3h0M777.5 578.4h0M782 578.4h0M449.6 579h0M740 579h0M814.9 579h0M351.6 580.1h0M446.2 585.8h0M450.8 585.8h0M524.5 586.4h0M784.3 585.8h0M489.3 591.5h0M744.5 590.9h0M810 592.1h0M814.9 592.1h0M824 592.1h0M655.1 593.8h0M744.5 595.5h0M451.5 596h0M456.4 596h0M525.7 596h0M828.5 602.3h0M833.1 602.3h0M223.4 605.7h0M499.6 606.3h0M725.2 606.3h0M730.3 606.3h0M735.5 617h0M744.5 617h0M775.2 617h0M856.9 617h0M230.8 618.2h0M385.1 620.4h0M735.5 622.1h0M784.8 622.1h0M824 622.1h0M237 623.3h0M376 624.4h0M520 626.1h0M749.1 627.3h0M753.6 627.3h0M762.7 627.3h0M785.4 627.3h0M824 627.3h0M237.6 628.4h0M294.3 629h0M457.6 631.2h0M762.7 632.4h0M850.1 632.4h0M473.5 635.8h0M864.9 635.8h0M525.7 636.9h0M534.8 636.9h0M753.6 637.5h0M824 636.9h0M830 636.9h0M850.1 637.5h0M456.4 641.4h0M463.2 640.9h0M468.3 640.9h0M633.5 641.4h0M534.8 642h0M842.2 642h0M426 644.3h0M492.8 645.4h0M497.3 645.4h0M445.8 646.5h0M534.8 647.1h0M785.4 647.1h0M842.2 647.5h0M429.4 649.4h0M435.1 649.4h0M222.4 650.5h0M233 650.5h0M436 651.7h0M822.9 652.2h0M753.6 652.6h0M429.4 654.5h0M435.1 654.5h0M753.6 656.2h0M758.9 656.2h0M764.2 656.2h0M446.2 656.8h0M451.3 656.8h0M794.5 657.3h0M510.9 660.7h0M515.5 660.7h0M757.9 661.3h0M763.3 661.3h0M768.7 661.3h0M774 661.3h0M440.9 661.9h0M445.8 661.9h0M334 666.4h0M446.2 666.4h0M506.4 665.8h0M761.8 665.8h0M766.6 665.8h0M771.3 665.8h0M776.1 665.8h0M780.9 665.8h0M563.1 667.5h0M592.6 668.7h0M597.6 668.7h0M761.9 670.4h0M771.4 670.4h0M776.1 670.4h0M510.9 671h0M817.2 674.4h0M839.9 674.4h0M349.9 676.6h0M506.4 676.6h0M740 678.9h0M849 678.9h0"/>
<path stroke="#ddff06" d="M429.6 338.9h0M347.7 432.5h0M596.2 504h0M621.4 518.9h0M641.1 518.9h0M792.2 529.3h0M548.4 534.2h0M428.3 546.7h0M505.2 558.6h0M640.3 564.3h0M479.1 572.8h0M216 595.5h0M725.2 600.6h0M729.8 600.6h0M744.5 607.4h0M786.5 611.9h0M818.3 617h0M441.4 621h0M828.5 622.1h0M525.1 626.1h0M749.1 632.4h0M824 632.4h0M441.1 641.4h0M473.5 640.9h0M217.1 650.5h0M441.1 656.8h0M436 661.9h0M830.8 664.7h0M510.9 665.8h0M762.7 674.9h0M826.3 682.9h0"/>
<path stroke="#ffff00" d="M412.9 170.2h0M222.8 170.8h0M496.2 186.7h0M556.9 220.5h0M867.1 295.6h0M402.4 338.6h0M393.9 350.2h0M775.8 382h0M775.8 393.3h0M353 432.5h0M661.1 483.6h0M639.2 499.5h0M649.4 499.5h0M529.1 513.2h0M646.4 514.3h0M676.4 519.1h0M597.7 524h0M720.1 529.3h0M796.7 534.4h0M572.6 539.3h0M773.5 549.5h0M778.6 549.5h0M795.6 554.3h0M478 563.1h0M517.7 563.7h0M768.8 564.5h0M758.7 569.4h0M758.2 574.1h0M763.8 584.7h0M768.4 584.7h0M740 590.4h0M795.6 602.3h0M817.2 611.9h0M481.4 621h0M744.5 622.1h0M789.9 622.1h0M355.6 624.4h0M530.2 626.1h0M771.8 631.8h0M818.3 632.4h0M749.1 637.5h0M530.2 642h0M835.9 642h0M468.9 646h0M245.5 646.5h0M740 646.5h0M744.5 646.5h0M850.1 647.5h0M423.7 649.4h0M227.7 650.5h0M251.2 652.2h0M740 651.7h0M799 652.2h0M827.4 651.7h0M423.7 654.5h0M744.5 656.8h0M428.8 659h0M482.5 668.7h0M607.4 668.7h0M740 669.8h0M803.6 669.8h0M835.3 669.8h0M577.9 672.1h0M740 674.9h0M227.4 675.7h0M808.1 678.3h0M761.6 678.9h0M766.1 678.9h0M231.9 680.6h0"/>
<path stroke="#ffe500" d="M533 264.4h0M290.5 282.6h0M684.4 313.8h0M236.4 322.1h0M808.7 330.3h0M766.7 337.1h0M326.7 342.8h0M393.1 344.5h0M672.5 478.5h0M243.6 488.1h0M644.3 499.5h0M640.3 504h0M641.2 514.3h0M666.2 514h0M671.2 514h0M778.6 514h0M666.6 519.1h0M671.5 519.1h0M681.3 519.1h0M436 529.6h0M435.1 531.9h0M720.5 534.4h0M725.5 534.4h0M758.7 534.4h0M763.8 534.4h0M758.2 538.7h0M451.5 543.3h0M763.8 544.4h0M510.9 548.9h0M423.7 552.3h0M516 553.5h0M574.5 553.5h0M358.5 555.7h0M753.6 559.4h0M473.5 563.1h0M753.6 564.5h0M758.2 564.5h0M805.8 564.5h0M763.8 569.4h0M801.3 569.4h0M834.2 569.4h0M838.7 569.4h0M651.7 579.6h0M301.1 590.4h0M524.5 591.5h0M772.9 591.5h0M828.9 592.1h0M740 595.5h0M464.4 597.2h0M729.8 597.2h0M740 600.6h0M216 605.7h0M735.5 606.3h0M777.5 607.4h0M780.9 611.9h0M384 615.3h0M785.4 617h0M428.3 621h0M433.9 621h0M642.6 621h0M481.4 626.1h0M744.5 627.3h0M396.5 634.6h0M426 634.6h0M468.3 635.8h0M771.8 636.9h0M426 639.7h0M516.6 640.9h0M771.8 642h0M818.3 642h0M749.1 642.6h0M850.1 642.6h0M478.8 646h0M749.1 647.5h0M789.9 647.1h0M818.3 647.1h0M740 656.8h0M752.5 661.3h0M740 664.7h0M839.9 664.7h0M441.1 666.4h0M515.5 665.8h0M757 665.8h0M468.9 668.7h0M475.7 668.7h0M489.3 668.7h0M794.5 668.7h0M325 671.5h0M572.2 672.7h0M794.5 673.8h0M768.4 674.9h0M638 677.8h0M812.6 678.3h0M794.5 678.9h0M283 680.6h0M289.8 680.6h0M738.9 682.9h0"/>
<path stroke="#ffcc00" d="M406.9 170.2h0M662.2 463.1h0M710.5 473.4h0M216 589.2h0M828.5 597.7h0M771.8 626.7h0M829.7 642h0M753.6 642.6h0M799 657.3h0M435.1 664.1h0"/>
<path stroke="#ffb300" d="M579 161.1h0M580.2 174.5h0M481.4 199.1h0M495.6 255.3h0M471.8 257h0M463.8 275.2h0M503 282h0M416.3 286h0M503.8 288.2h0M269.9 293.9h0M483.1 294.2h0M855.8 313.8h0M767.2 319.5h0M803.6 319.5h0M339.2 320h0M427.8 322.3h0M432.2 350.8h0M318.2 359.8h0M761 360.2h0M786 365.5h0M854.1 420h0M358.3 432.5h0M648.3 473.4h0M648.4 484.1h0M657.7 488.7h0M685.8 498.9h0M695.7 498.9h0M750.8 498.7h0M755.9 498.7h0M605.9 504h0M670.9 509.2h0M630.8 514.3h0M705.8 514h0M686.3 519.1h0M750.2 519.1h0M778.6 519.1h0M725.2 529.3h0M735.5 529.3h0M735.5 534.4h0M495 534.7h0M740 539.3h0M568.8 543.8h0M829.7 544.4h0M563.1 548.9h0M487.5 553.5h0M510.9 553.5h0M772.9 554.3h0M829.7 554.3h0M353.3 555.7h0M521.1 558.6h0M656 559.4h0M526.8 563.7h0M773.7 564.5h0M844.4 564.5h0M776.3 569.4h0M782 569.4h0M810.4 569.4h0M464.4 572.2h0M474.6 572.8h0M800.2 592.1h0M782 607.4h0M849 607.4h0M347.7 614.8h0M353 614.8h0M491.6 615.9h0M236.4 618.2h0M359 619.9h0M457.6 621h0M490.5 621h0M365.8 624.4h0M789.9 627.3h0M376 634.4h0M530.2 636.9h0M396.5 639.7h0M402.2 639.7h0M473.8 646h0M836.5 647.1h0M418 649.4h0M468.9 650.5h0M530.2 652.2h0M744.5 651.7h0M412.4 654.5h0M418 654.5h0M821.7 655.6h0M808.1 659.6h0M835.3 660.2h0M422.6 664.1h0M428.8 664.1h0M812.6 669.8h0M583.6 672.1h0M549.5 672.7h0M567.7 672.7h0M757 674.9h0M325 676.1h0M515.5 676.6h0M559.7 677.8h0M579 677.8h0M744.5 678.9h0M799 678.9h0M573.9 681.2h0"/>
<path stroke="#ff9900" d="M427.8 150h0M218.3 156.6h0M469.2 158.9h0M573.3 161.1h0M584.7 161.1h0M579 168.2h0M584.7 168.2h0M430 170.8h0M435.1 170.8h0M437.1 171.9h0M550.6 213.9h0M535.3 226h0M431.1 236.6h0M465.5 244.2h0M472.9 263.8h0M495 263.8h0M495.6 275.8h0M528.5 276h0M508.6 282h0M862.6 289.4h0M483.7 299h0M688.9 301.9h0M694.2 301.9h0M867.1 301.9h0M462.5 305.3h0M694.6 308.5h0M855.8 307.8h0M280.7 312.7h0M679 313.8h0M803.6 313.8h0M448.5 316.4h0M433.4 322.3h0M277.3 324h0M374.9 332h0M407.8 332.9h0M268.5 334.3h0M336.9 337.1h0M397 338.6h0M424.1 338.9h0M264.2 341.1h0M854.1 342.3h0M332.3 342.8h0M398.7 344.5h0M431.7 345.1h0M437.1 345.7h0M317.6 353.8h0M328.4 354.5h0M367 354.7h0M755.9 360.2h0M357.2 360.6h0M735.5 365.5h0M780.9 365.5h0M791.1 365.5h0M363.6 372.3h0M755.9 382h0M740.6 399h0M403 411.7h0M408.4 411.7h0M413.8 411.7h0M384 427.2h0M394.8 428h0M379.6 432.5h0M294.3 435.9h0M656 463.1h0M629 472.8h0M633.5 472.8h0M230.8 481.6h0M653.4 484.1h0M249.1 488.1h0M624.1 488.7h0M629 488.7h0M774 488.7h0M698.6 493.8h0M239.8 498.3h0M675.9 498.9h0M680.8 498.9h0M690.8 498.9h0M768.4 498.7h0M661.9 504h0M556.9 509.2h0M650 509.2h0M655.1 509.2h0M666.2 509.2h0M812.6 509.2h0M636 514.3h0M681.1 514h0M686 514h0M445.6 519.4h0M691.2 519.1h0M696.1 519.1h0M745.1 519.1h0M783.1 519.1h0M715 524.2h0M778.6 524.2h0M730.3 529.3h0M542.7 534.2h0M567.7 534.2h0M730.5 534.4h0M753.6 534.4h0M801.3 534.4h0M807 534.4h0M819.5 534.4h0M446.8 534.7h0M396.5 535.9h0M562 539.3h0M567.3 539.3h0M422 541.6h0M744.5 544.4h0M758.2 544.4h0M801.3 544.4h0M368.1 545.5h0M433.9 546.7h0M461.5 548.4h0M481.4 548.4h0M768.4 549.5h0M393.8 551.2h0M768.4 554.3h0M801.3 554.3h0M363.6 555.7h0M655.1 559.1h0M758.7 559.4h0M763.8 559.4h0M795.6 559.4h0M800.7 559.4h0M805.8 559.4h0M834.2 559.4h0M839.1 559.4h0M858 559.4h0M635.8 564.3h0M763.8 564.5h0M778.6 564.5h0M800.7 564.5h0M810.9 564.5h0M816 564.5h0M829.7 564.5h0M464.4 567.1h0M805.8 569.4h0M361.3 570.5h0M436 570.5h0M763.8 574.1h0M436 579h0M763.8 579h0M734.3 585.8h0M504.7 587h0M509.8 587h0M824 587h0M358.3 590.9h0M504.1 592.1h0M805.1 592.1h0M446.6 596h0M468.9 597.2h0M813.2 597.7h0M818.3 602.8h0M217.1 608.5h0M234.2 608.5h0M860.3 611.9h0M223.9 613.6h0M436 621h0M446.8 621h0M509.8 621.6h0M812.6 622.1h0M850.1 622.1h0M515.5 626.1h0M813.2 627.3h0M818.3 627.3h0M850.1 627.3h0M246.6 628.4h0M482.5 631.2h0M859.2 631.2h0M789.9 632.4h0M813.8 636.9h0M402.2 644.3h0M530.2 647.1h0M794.5 647.1h0M813.8 647.1h0M484.2 650.5h0M489.3 650.5h0M803.6 652.2h0M813.8 652.2h0M827.4 655.6h0M833.1 655.6h0M803.6 657.3h0M422.6 659h0M830.8 660.2h0M835.3 664.7h0M339.2 666.4h0M436 666.4h0M752.5 665.8h0M752.5 670.4h0M830.8 669.8h0M515.5 671h0M338.6 671.5h0M545 672.7h0M330.1 676.1h0M354.5 676.6h0M564.3 677.8h0M844.4 678.9h0M354.5 680.6h0M364.7 680.6h0M373.8 681.2h0M378.9 681.2h0M384 681.2h0M568.8 681.2h0M579 681.2h0M761.6 681.2h0M797.9 682.9h0M812.6 682.9h0M844.4 682.9h0M868.3 682.9h0"/>
<path stroke="#ff8000" d="M248.3 150h0M555.8 167.9h0M469.5 275.2h0M643 308.1h0M866 313.8h0M340.3 325.1h0M793.3 325.1h0M782 330.9h0M396.5 332.9h0M761.6 337.1h0M367 348.5h0M426.8 350.8h0M633.3 462.6h0M643 462.6h0M668.5 463.1h0M695.5 468.2h0M720.7 473.4h0M643.5 484.1h0M665.9 498.9h0M656 504h0M675.7 509.2h0M774 519.1h0M783.1 524.2h0M500.1 525.1h0M426 526.2h0M401.6 531.3h0M430.5 531.9h0M391.9 541h0M573.9 548.9h0M821.7 549.5h0M753.6 554.3h0M473.5 557.4h0M499.6 563.7h0M795.6 564.5h0M430.5 566.5h0M829.7 569.4h0M819.5 574.1h0M431.7 581.3h0M509.8 592.1h0M833.8 592.1h0M223.4 600.6h0M457.6 601.1h0M228.5 605.7h0M441.7 606.3h0M849 611.9h0M800.2 627.3h0M813.8 642h0M392.5 649.4h0M388.5 657.9h0M236.4 661.3h0M808.1 664.7h0M757.2 670.4h0M808.1 669.8h0M844.4 674.4h0M233 675.7h0M309.1 680.6h0M409 681.2h0"/>
<path stroke="#ff6600" d="M224.8 156.6h0M265.4 163.4h0M453 165.7h0M570.5 187.8h0M256.9 198h0M466.1 212.2h0M495 219h0M485.4 225.3h0M508.1 225.8h0M529.6 226h0M480.8 231.3h0M481.4 238.3h0M548.4 245.7h0M493.9 250.8h0M630.7 258.5h0M463.2 269h0M688.3 271.2h0M453.6 281.2h0M284.5 282.6h0M529.6 282.6h0M482.5 287.7h0M509.2 288.2h0M401.9 297.9h0M462.1 299.4h0M402.4 304.1h0M484.8 305.8h0M866.6 308.1h0M229.1 316.1h0M293.8 318.9h0M679.6 319.5h0M684.9 319.5h0M860.3 325.1h0M412.4 326.3h0M386.1 327.8h0M221.1 334.3h0M388.5 350.2h0M388.5 355.9h0M437.7 356.4h0M745.7 360.2h0M750.8 360.2h0M766.1 360.2h0M776.3 360.2h0M863.7 425.3h0M853.5 435.9h0M322.1 437h0M652.8 462.6h0M633.5 468h0M690.5 468.2h0M667.4 478.5h0M638.6 484.1h0M254.6 488.1h0M648.8 494.1h0M673.5 493.8h0M678.5 493.8h0M693.6 493.8h0M703.7 493.8h0M250.6 498.3h0M661 498.9h0M670.9 498.9h0M745.7 498.7h0M673.7 504h0M679.6 504h0M720.7 504h0M564.3 509.2h0M680.4 509.2h0M689.9 509.2h0M700.8 514h0M710.7 514h0M701 519.1h0M710.9 519.1h0M715.8 519.1h0M820.6 519.1h0M475.7 520h0M730.2 524.2h0M735.5 524.2h0M796.7 529.3h0M426 531.9h0M744.5 539.3h0M753.6 539.3h0M460.4 543.8h0M563.1 543.8h0M807 544.4h0M521.1 548.9h0M763.8 549.5h0M816.6 549.5h0M492.4 553.5h0M834.2 554.3h0M810.4 559.4h0M844 559.4h0M343.7 560.6h0M338.6 566h0M410.1 566.5h0M484.8 572.8h0M833.1 579h0M499.6 587h0M772.9 587h0M860.3 587h0M867.1 588.1h0M446.2 590.9h0M306.8 595.5h0M777.5 597.7h0M833.1 597.7h0M447 601.1h0M452.3 601.1h0M447.4 606.3h0M453 606.3h0M379.5 614.8h0M465.5 615.3h0M364.7 619.9h0M389.7 620.4h0M395.3 625.5h0M794.5 627.3h0M256.9 628.4h0M365.8 634.1h0M390.8 634.6h0M406.7 634.6h0M483.7 635.8h0M789.9 636.9h0M485.9 640.3h0M794.5 642h0M270.5 643.1h0M406.7 649.4h0M412.4 649.4h0M406.7 654.5h0M534.8 657.3h0M230.8 661.3h0M318.2 662.4h0M535.9 662.4h0M344.3 666.4h0M373.8 667.5h0M616.5 669.2h0M344.3 671.5h0M410.5 672.7h0M424.9 672.7h0M554 677.8h0M839.9 678.9h0M335 680.6h0M340.2 680.6h0M345.4 680.6h0M359.6 680.6h0M543.8 681.7h0M527.9 682.9h0M808.1 682.9h0M830.8 682.9h0"/>
<path stroke="#ff4c00" d="M409.4 150h0M601.2 153.7h0M237.9 156.6h0M244.4 156.6h0M220.5 163.4h0M233.4 163.4h0M235.9 170.8h0M414.5 177.2h0M495.6 179.8h0M580.7 181h0M698 182.1h0M221.1 184.4h0M670.2 196.1h0M687.2 196.1h0M524 226h0M514.3 232.4h0M462.1 262.7h0M478.6 263.8h0M446.2 269h0M608.5 271.5h0M688.7 278h0M480.8 281.2h0M278.4 282.6h0M615.3 283.7h0M825.2 289.4h0M498.4 294.5h0M683.4 296h0M699.3 296h0M265.9 300.2h0M267.1 305.3h0M803.6 307.8h0M473.5 311h0M628.4 318.9h0M633.5 318.9h0M855.6 319.5h0M344.8 320h0M422.3 322.3h0M335.8 331.5h0M787.7 330.9h0M369.2 332h0M402.2 332.9h0M854.6 336h0M418.6 338.9h0M387.4 344.5h0M525.7 347.7h0M766.7 354.2h0M361.9 354.7h0M394.2 355.9h0M512 368.9h0M735.5 371.2h0M750.2 371.2h0M780.9 371.2h0M796.2 371.2h0M502.4 375.2h0M735.5 376.5h0M499 391.3h0M745.7 399h0M866.6 399h0M740.6 404.1h0M297.9 425.7h0M310.2 431h0M374.3 432.5h0M288.9 435.9h0M327.5 437h0M332.9 437h0M661.7 457.5h0M647.9 462.6h0M704.1 462.6h0M866 467.1h0M623.9 468h0M638.4 468h0M680.4 468.2h0M685.4 468.2h0M700.6 468.2h0M613.6 473.4h0M618.7 473.4h0M594.3 478.2h0M599.5 478.2h0M725.2 479h0M225.1 481.6h0M715.4 484.1h0M720.7 484.1h0M760.4 483.9h0M805.8 483.9h0M753.6 488.7h0M758.7 488.7h0M788.2 488.7h0M619.9 494.1h0M688.6 493.8h0M730.5 493.8h0M735.7 493.8h0M572.2 503.7h0M610.8 504h0M667.8 504h0M715.6 504h0M841 504h0M594.9 509.2h0M644.9 509.2h0M685.1 509.2h0M694.6 509.2h0M455.3 514.3h0M690.9 514h0M715.7 514h0M430.2 516.6h0M524.5 518.3h0M440.5 519.4h0M705.9 519.1h0M730.5 519.1h0M740 519.1h0M787.7 524.2h0M577.9 534.2h0M740 534.4h0M828.5 539.3h0M505.2 543.8h0M821.7 544.4h0M473.5 545h0M373.8 545.5h0M388.5 546.1h0M795.6 548.9h0M829.7 549.5h0M473.5 553.5h0M521.1 553.5h0M849.2 554.3h0M854.2 554.3h0M849 559.4h0M504.1 563.7h0M867.1 565.4h0M344.3 566h0M483.7 567.7h0M814.9 569.4h0M867.1 571.1h0M838.7 574.1h0M484.8 577.3h0M867.1 576.7h0M441.1 585.8h0M828.5 587h0M867.1 592.6h0M290.9 599.4h0M777.5 602.3h0M838.7 602.3h0M297.7 604.5h0M813.8 607.4h0M464.4 610.8h0M854.6 611.9h0M388.5 615.3h0M505.2 617h0M452.2 621h0M475.7 621h0M818.3 622.1h0M245.5 623.3h0M255.7 623.3h0M251.8 628.4h0M376 629.5h0M409 630.1h0M386.3 634.6h0M411.8 634.6h0M463.2 635.8h0M803.6 642h0M831.9 647.1h0M397.6 649.4h0M245.5 652.2h0M535.9 652.2h0M837.6 651.7h0M353.3 657.9h0M382.9 657.9h0M418 657.9h0M357.9 662.4h0M534.8 664.7h0M348.8 667h0M624.4 668.7h0M817.2 669.2h0M821.7 669.2h0M839.9 669.8h0M230.8 671h0M237 671h0M403.3 672.7h0M417.7 672.7h0M624.4 674.4h0M216 675.7h0M335.2 676.1h0M360.2 676.6h0M545 677.8h0M549.5 677.8h0M573.9 677.8h0M237.6 680.6h0M242.1 680.6h0M314.3 680.6h0M548.9 681.7h0M554 681.7h0M564.3 681.7h0"/>
<path stroke="#ff3300" d="M241.8 150h0M573.3 152.9h0M596 153.7h0M613.1 154.3h0M231.3 156.6h0M250.9 156.6h0M239.8 163.4h0M278 163.4h0M284.3 163.4h0M408.5 177.2h0M263.7 179.1h0M501.3 179.8h0M552.3 181h0M591.5 181.6h0M227.4 184.4h0M254.6 191.2h0M570.5 194.6h0M471.2 206.3h0M572.2 213.9h0M655.1 215.4h0M456.4 219h0M489.9 219h0M518.3 226h0M508.6 232.4h0M568.2 233.8h0M796.2 234h0M437.1 236.6h0M672.8 258.2h0M805.3 265h0M457.6 269h0M709.9 271.2h0M805.3 271.2h0M458.1 275.2h0M475.2 275.2h0M271.1 276.3h0M683.4 278h0M459 281.2h0M464.5 281.2h0M475.4 281.2h0M862.6 283.1h0M625 283.7h0M699 283.7h0M292 288.2h0M477.1 287.7h0M498.4 288.2h0M819.9 289.4h0M688.7 296h0M694 296h0M704.6 296h0M709.9 296h0M803.6 295.6h0M510.3 300.2h0M643.2 301.9h0M668.5 301.9h0M699.5 301.9h0M704.7 301.9h0M809.2 301.6h0M825.1 301.6h0M830.5 301.6h0M408 304.1h0M278.4 306.4h0M637.5 308.1h0M648.4 308.1h0M704.8 307.8h0M746.2 308.1h0M778 308.1h0M824.7 307.8h0M845.6 307.8h0M341.4 308.7h0M263.1 311.5h0M338 314.4h0M349.4 314.4h0M673.6 313.8h0M808.7 313.8h0M813.8 313.8h0M223.1 316.1h0M299.7 318.9h0M654.5 318.9h0M669.1 319.5h0M674.4 319.5h0M860.9 319.5h0M395.3 320.6h0M416.8 322.3h0M438.3 322.9h0M628.4 324.6h0M674.4 325.5h0M679.6 325.5h0M849.7 325.1h0M855 325.1h0M384.9 326.3h0M390.4 326.3h0M380.6 327.8h0M391.6 327.8h0M413.5 327.8h0M550.6 329.8h0M341.4 331.5h0M352.8 331.5h0M776.9 336h0M787.7 336h0M736 337.1h0M741.1 337.1h0M746.2 337.1h0M756.5 337.1h0M613.1 342.3h0M776.9 342.3h0M787.1 342.3h0M338 342.8h0M360.2 343.4h0M735.5 348.5h0M741.1 348.5h0M447.9 350.8h0M311.9 353.8h0M761.6 354.2h0M442.8 356.4h0M435.6 357h0M301.6 359.8h0M664.5 359.8h0M704.8 359.8h0M351.7 360.6h0M389.7 361.6h0M659.4 365h0M346.6 366.1h0M352.1 366.1h0M357.5 366.1h0M654.5 365.5h0M730.3 365.5h0M775.8 365.5h0M796.2 365.5h0M379.5 366.7h0M724.1 371.2h0M740.4 371.2h0M770.6 371.2h0M775.8 371.2h0M680.4 382h0M685.5 382h0M720.7 382.6h0M725.8 382.6h0M866.6 393.3h0M760.4 399h0M432.2 401.1h0M730.6 404.1h0M745.7 404.1h0M484.8 407.9h0M397.6 411.7h0M419.2 411.7h0M455.3 412.6h0M434.5 417.7h0M440.5 418.3h0M455.9 418.3h0M471.2 418.3h0M252.3 418.9h0M414.6 422.3h0M430.5 422.3h0M441.1 423.8h0M303.3 425.7h0M347.1 426.8h0M431.7 428h0M248.9 429.4h0M298.3 431h0M848.4 430.8h0M363.6 432.5h0M384.9 432.5h0M390.2 432.5h0M431.7 433.6h0M441.7 434.2h0M283.5 435.9h0M715.6 436.2h0M375.1 437.4h0M267.1 440.8h0M272.8 440.8h0M385.5 442.7h0M696.1 446.5h0M401.6 448.4h0M680.4 452.1h0M396.8 453.7h0M402.2 453.7h0M678.7 457.5h0M628.4 462.6h0M684.9 462.6h0M705.6 468.2h0M710.7 468.2h0M715.7 468.2h0M720.7 468.2h0M604 473h0M653.4 473.4h0M725.2 473.4h0M730.4 479h0M656 483.6h0M704.8 484.1h0M710.1 484.1h0M753.6 483.9h0M705.9 488.7h0M683.6 493.8h0M740.9 493.8h0M746.1 493.8h0M656 498.9h0M807.5 504h0M846.7 504h0M606.3 509.2h0M725.2 509.2h0M834.2 509.2h0M533.6 513.2h0M720.6 514h0M783.1 514h0M435.1 516.6h0M450.8 519.4h0M720.7 519.1h0M769.5 519.1h0M499.6 520h0M724.9 524.2h0M543.8 528.5h0M573.3 528.5h0M480.3 529.6h0M524.5 534.2h0M529.1 534.2h0M572.8 534.2h0M824 534.4h0M371.5 535.3h0M441.4 534.7h0M520 539.3h0M577.9 539.3h0M446.2 539.8h0M481.4 539.8h0M485.9 539.8h0M427.1 541.6h0M496.2 543.8h0M834.2 544.4h0M811.5 549.5h0M378.3 551.2h0M810.4 554.3h0M839.2 554.3h0M844.2 554.3h0M482.5 563.1h0M488.2 563.1h0M287.8 564.8h0M415.2 566.5h0M425.4 566.5h0M488.2 567.7h0M504.1 568.8h0M819.5 568.8h0M834.2 574.1h0M346.5 575.6h0M361.3 575.6h0M416.3 576.2h0M426.6 576.2h0M431.7 576.2h0M508.6 577.9h0M514.3 577.9h0M346.5 580.1h0M426.6 581.3h0M435.1 586.4h0M846.7 587h0M838.7 592.1h0M301.1 595.5h0M441.7 596h0M294.9 599.4h0M298.9 599.4h0M318.2 600.6h0M441.7 601.1h0M485.9 601.1h0M489.3 601.1h0M292 604.5h0M795.6 607.4h0M854.6 607.4h0M307.9 609.1h0M382.9 610.8h0M470.1 610.8h0M229.1 613.6h0M308.5 614.2h0M398.7 615.3h0M446.2 615.9h0M395.3 620.4h0M505.2 621.6h0M794.5 622.1h0M808.1 622.1h0M325.5 624.4h0M351.1 624.4h0M400.4 625.5h0M405.6 625.5h0M300 629h0M351.1 629.5h0M390.8 630.1h0M425.4 630.7h0M463.2 630.7h0M381.7 634.4h0M416.9 634.6h0M492.8 635.8h0M510.9 635.8h0M859.2 641.4h0M864.9 641.4h0M356.7 643.7h0M799 647.1h0M346.5 648.8h0M363.6 648.8h0M387.4 649.4h0M474 650.5h0M479.1 650.5h0M860.3 650.5h0M832.5 651.7h0M261.4 652.6h0M267.1 652.6h0M629 655.1h0M854.6 655.1h0M859.2 655.1h0M218.3 655.6h0M228.1 655.6h0M233 655.6h0M817.2 655.6h0M526.8 659.6h0M629 660.7h0M327.2 661.9h0M378.3 662.4h0M530.2 664.7h0M826.3 664.7h0M258 666.4h0M630.1 668.7h0M535.9 669.8h0M218.3 671h0M243.2 671h0M520 671h0M618.7 674.4h0M630.1 674.4h0M835.3 674.4h0M278.4 675.7h0M314.8 675.7h0M320.4 675.7h0M568.8 677.8h0M248.3 680.6h0M273.9 680.6h0M319.5 680.6h0M559.2 681.7h0"/>
<path stroke="#ff1a00" d="M691.2 148.4h0M822.3 148.4h0M222.2 150h0M579 152.9h0M257.4 156.6h0M555.8 161.1h0M612.5 161.7h0M618.4 161.7h0M624.2 161.7h0M271.7 163.4h0M590.4 168.2h0M703.1 168.5h0M780.9 169.1h0M388.8 170.2h0M261.4 171.9h0M442.5 171.9h0M447.9 171.9h0M494.5 173h0M500.3 173h0M697.4 175.3h0M792.2 175.3h0M396.5 177.2h0M489.9 179.8h0M575 181h0M753.6 181.6h0M502 186.7h0M593.2 188.1h0M229.9 191.2h0M503.5 193.5h0M593.2 195.7h0M692.9 196.1h0M244.4 198h0M475.7 199.1h0M487.1 199.1h0M548.9 201.1h0M252.7 204.8h0M527.4 207.1h0M477.4 212.2h0M483.1 212.2h0M545 213.9h0M656.6 215h0M665.1 215h0M250.6 217.6h0M682.7 221.8h0M451.3 224.9h0M479.7 225.3h0M568.2 225.8h0M590.4 227.5h0M801.9 228.1h0M435.6 236.6h0M464.4 238.3h0M569.4 239.7h0M437.7 243.8h0M493.3 244.9h0M655.1 246.5h0M656.6 246.8h0M427.7 250.2h0M564.8 251.9h0M667.4 253.6h0M439.4 255.9h0M477.7 257h0M483.7 257h0M667.4 258.2h0M394.8 261h0M456.4 262.7h0M677.9 265.5h0M656 271.8h0M667.4 271.8h0M276.2 276.3h0M625 277.5h0M858 276.9h0M863.2 276.9h0M699.2 278h0M704.5 278h0M709.8 278h0M804.7 277.8h0M415.2 279.7h0M426.6 279.7h0M469.9 281.2h0M296.6 282.6h0M678.1 283.7h0M693.7 283.7h0M704.4 283.7h0M709.7 283.7h0M836.5 283.7h0M405 286h0M615.6 289.4h0M688.3 289.4h0M699 289.4h0M814.6 289.4h0M830.6 289.4h0M504.1 294.5h0M356.9 296.4h0M610.5 295.6h0M615.9 295.6h0M631.2 295.6h0M662.8 296h0M678.1 296h0M715.2 296h0M830.5 295.6h0M396.5 297.9h0M407.3 297.9h0M451.3 299h0M473.5 299.4h0M493.9 300.2h0M499.4 300.2h0M521.1 301h0M547.8 301.3h0M851.2 301.3h0M856.3 301.3h0M611.1 301.6h0M637.5 301.9h0M710 301.9h0M715.3 301.9h0M335.2 302.8h0M237.6 304.1h0M413.5 304.1h0M457 305.3h0M473.5 305.3h0M290.2 306.4h0M505.8 305.8h0M606 307.8h0M622.2 307.8h0M793.3 308.1h0M808.9 307.8h0M814.2 307.8h0M830 307.8h0M347.3 308.7h0M353.2 308.7h0M227.4 310.4h0M403.3 309.8h0M292 312.7h0M297.7 312.7h0M343.7 314.4h0M622.2 313.8h0M829.7 313.8h0M834.8 313.8h0M850.4 313.8h0M217.1 316.1h0M501.8 317.8h0M287.8 318.9h0M649.4 318.9h0M751.3 319.5h0M808.7 319.5h0M813.8 319.5h0M350.5 320h0M725.2 319.8h0M411.2 322.3h0M265.9 324h0M300.9 324h0M654.5 324.6h0M684.9 325.5h0M808.7 325.1h0M379.5 326.3h0M395.9 326.3h0M401.4 326.3h0M397 327.8h0M402.5 327.8h0M408 327.8h0M492.8 329.2h0M318.7 330.9h0M602.9 330.7h0M634.1 330.7h0M649.4 330.7h0M654.5 330.7h0M656 330.9h0M793.3 330.9h0M860.3 330.9h0M227 334.3h0M256.7 334.3h0M597.7 336h0M860.3 336h0M342.6 337.1h0M348.2 337.1h0M751.3 337.1h0M808.1 336.6h0M217.7 339.8h0M603.2 342.3h0M608.2 342.3h0M782 342.3h0M792.2 342.3h0M813.2 342.5h0M426 345.1h0M265 346.8h0M270.8 346.8h0M361.3 348.5h0M659.4 348.5h0M664.5 348.5h0M782 348.5h0M526.8 353.4h0M593.2 354.2h0M598.3 354.2h0M659.4 354.2h0M664.5 354.2h0M680.4 354.2h0M690.1 354.2h0M695.3 354.2h0M771.8 354.2h0M782 354.2h0M787.1 354.2h0M334 354.5h0M650 354.5h0M593.2 359.1h0M644.9 359.8h0M771.2 360.2h0M781.4 360.2h0M786.5 360.2h0M373.5 360.6h0M378.9 360.6h0M395.2 361.6h0M313.6 365h0M319.3 365h0M608.5 365h0M363 366.1h0M704.8 365.5h0M709.9 365.5h0M715 365.5h0M720.1 365.5h0M314.2 371.2h0M745.3 371.2h0M352.6 372.3h0M358.1 372.3h0M491.9 375.2h0M497.2 375.2h0M659.4 376.3h0M796.2 376.3h0M846.7 376.3h0M360.3 377.4h0M715 376.5h0M730.3 376.5h0M745.4 376.5h0M750.2 376.5h0M750.2 382.2h0M366.4 383.3h0M478 386h0M675.1 387.7h0M680.3 387.7h0M685.5 387.7h0M725.8 387.7h0M415.8 389.9h0M478.6 390.8h0M685.5 393.3h0M695.3 393.3h0M700.6 393.3h0M725.8 393.3h0M745.7 393.3h0M861.4 393.1h0M432.2 395.6h0M478.6 396.7h0M725.8 399h0M411.2 401.1h0M416.5 401.1h0M427 401.1h0M437.7 401.3h0M725.8 404.1h0M407.5 406h0M438.3 407h0M475.2 407.5h0M317 410.7h0M470.6 413.2h0M480.8 413.2h0M377.7 415.5h0M445.6 418.3h0M450.8 418.3h0M859.2 420h0M419.9 422.3h0M849 425.3h0M276.2 425.7h0M287 425.7h0M314.2 425.7h0M399.9 428h0M426.6 428h0M277.3 431h0M304.3 431h0M750.5 430.8h0M853.5 430.8h0M863.7 430.8h0M369 432.5h0M261.4 434.8h0M267.1 434.8h0M710.5 436.2h0M745.7 436.2h0M858.6 435.9h0M343.1 437.4h0M369.7 437.4h0M380.4 437.4h0M406.7 439.3h0M411.8 439.3h0M261.4 440.8h0M278.4 440.8h0M652.8 441h0M858.6 441h0M659.4 441.6h0M331.9 442.7h0M390.8 442.7h0M262.1 446.1h0M685.5 446.5h0M652.2 446.7h0M369.6 448.4h0M618 452.4h0M651.7 452.4h0M665.8 452.1h0M670.8 452.1h0M675.3 452.1h0M685.5 452.1h0M690.6 452.1h0M695.7 452.1h0M700.8 452.1h0M705.9 452.1h0M798.5 452.4h0M386 453.7h0M407.8 454.6h0M413.1 454.6h0M648.3 457.5h0M656 457.5h0M688.9 456.9h0M694.1 456.9h0M709.7 456.9h0M714.9 456.9h0M689.7 462.6h0M699.3 462.6h0M708.9 462.6h0M713.7 462.6h0M742.4 462.6h0M747.2 462.6h0M752 462.6h0M730.8 468.2h0M735.9 468.2h0M740.9 468.2h0M751 468.2h0M766.1 468.2h0M730.3 473.4h0M735.4 473.4h0M740.4 473.4h0M750.6 473.4h0M755.6 473.4h0M760.7 473.4h0M765.8 473.4h0M643.7 478.5h0M735.5 479h0M740.7 479h0M745.8 479h0M751 479h0M771.6 479h0M823.1 479h0M219.4 481.6h0M236.4 481.6h0M247.8 483h0M565.4 483.6h0M584.7 483.9h0M675.3 484.1h0M700.3 484.1h0M786.3 483.9h0M791.3 483.9h0M796.3 483.9h0M801.3 483.9h0M811.5 483.9h0M570.5 488.7h0M663.4 488.7h0M763.8 488.7h0M768.9 488.7h0M811.5 488.7h0M816.8 488.7h0M250.1 493.4h0M668.5 493.8h0M725.2 493.8h0M751.3 493.8h0M830.8 493.8h0M773.7 498.7h0M779 498.7h0M836.5 498.9h0M223.9 502.9h0M235.3 503.4h0M685.5 504h0M755.9 504h0M778.6 504h0M551.8 509.2h0M600.6 509.2h0M715 509.2h0M720.1 509.2h0M782.6 509.2h0M787.7 509.2h0M817.2 509.2h0M864.9 509.2h0M450.5 514.3h0M695.9 514h0M725.6 514h0M788.2 514h0M820.6 514h0M425.4 516.6h0M529.1 518.3h0M735.5 519.1h0M753.6 519.1h0M764.2 519.1h0M787.7 519.1h0M792.8 519.1h0M719.6 524.2h0M797.9 524.2h0M450.5 524.5h0M480.3 525.1h0M577.9 528.5h0M530.2 529.1h0M455.3 529.6h0M345.8 530.8h0M828.5 534.4h0M833.1 534.4h0M837.6 534.4h0M365.8 535.3h0M436 534.7h0M480.3 534.7h0M514.3 534.7h0M520 534.7h0M427.1 536.4h0M431.1 536.4h0M465.5 538.7h0M495 539.3h0M833.1 539.3h0M361.3 540.6h0M441.7 543.3h0M465.5 543.8h0M749.1 544.4h0M795.6 544.4h0M811.5 544.4h0M816.6 544.4h0M838.7 544.4h0M854.9 544.4h0M398.7 546.1h0M473.5 548.9h0M753.6 548.9h0M834.2 549.5h0M844 548.9h0M854.4 548.9h0M859.6 548.9h0M864.9 548.9h0M482.5 553.5h0M805.8 554.3h0M819.5 554.3h0M859.2 554.3h0M482.5 558.6h0M348.8 560.8h0M414.6 560.8h0M255.7 564.3h0M293.3 564.8h0M349.9 566h0M405 566.5h0M420.3 566.5h0M498.4 568.8h0M272.8 569.7h0M287.5 569.9h0M293.2 569.9h0M372.1 570.8h0M489.3 572.8h0M498.4 573.3h0M246.6 574.5h0M824 574.1h0M268.2 575h0M320.4 575.6h0M411.2 576.2h0M421.4 576.2h0M503 577.9h0M843.3 579h0M416.3 581.3h0M421.4 581.3h0M264.8 584.7h0M353.3 585.8h0M387.1 586.4h0M419.1 586.4h0M429.7 586.4h0M518.9 587h0M833.1 587h0M851.2 587h0M221.7 590.4h0M306.8 590.4h0M353 590.9h0M419.7 591.5h0M431.7 591.5h0M436 590.9h0M441.1 590.9h0M222.8 595.5h0M292 595.5h0M357.9 595.5h0M483.7 597.2h0M490.5 597.2h0M853.5 597.7h0M398.7 601.1h0M843.7 602.3h0M813.2 602.8h0M476.9 605.1h0M388.5 605.7h0M398.7 605.7h0M318.2 609.7h0M393.4 610.8h0M398.7 610.8h0M412.4 611.4h0M418 611.4h0M423.7 611.4h0M474.6 610.8h0M500.7 611.4h0M358.3 614.8h0M393.6 615.3h0M456.1 615.9h0M461 615.9h0M500.7 616.5h0M800.2 617h0M281.8 618.7h0M287.5 618.7h0M401 620.4h0M406.7 620.4h0M800.2 622.1h0M340.9 624.4h0M808.1 627.3h0M284.1 629h0M361.3 629.9h0M367 629.9h0M385.1 630.1h0M468.9 630.7h0M283 633.5h0M306.8 633.5h0M352.2 634.1h0M488.2 635.8h0M794.5 636.9h0M264.8 638.6h0M284.1 639.2h0M289.8 639.2h0M301.1 639.2h0M306.8 639.2h0M325 638.9h0M346.5 639.2h0M380.6 639.7h0M643.7 640.9h0M789.9 642h0M351.6 643.7h0M376 644.3h0M386.6 644.3h0M391.9 644.3h0M864.9 646h0M803.6 647.1h0M357.9 648.8h0M369.2 648.8h0M374.9 648.8h0M854.6 650.5h0M283 657.3h0M530.2 657.3h0M323.3 657.9h0M218.3 660.2h0M223.9 660.2h0M531.3 659.6h0M821.7 660.2h0M287.5 661.9h0M334 661.9h0M812.6 664.7h0M353.9 667h0M529.6 669.8h0M251.2 671h0M259.1 671h0M273.9 671.5h0M354.5 671.5h0M826.3 674.4h0M237.6 675.7h0M243.2 675.7h0M248.9 675.7h0M273.3 675.7h0M374.9 676.6h0M520 676.6h0M826.3 678.9h0M324.6 680.6h0M329.8 680.6h0M599.5 682.9h0M606.3 682.9h0M613.1 682.9h0M849 682.9h0"/>
<path stroke="#ff0000" d="M668.3 148.4h0M674.4 148.4h0M680.4 148.4h0M787.7 148.4h0M816.3 148.4h0M828.2 148.4h0M228.8 150h0M235.3 150h0M255.2 150h0M261.6 150h0M403.3 150h0M555.8 152.6h0M584.7 152.9h0M818.3 153.7h0M823.4 153.7h0M675.3 155.2h0M681 155.2h0M753.6 155.4h0M788.2 154.9h0M793.9 154.9h0M263.1 156.6h0M269.5 156.6h0M276 156.6h0M282.4 156.6h0M475.2 158.9h0M487.1 158.9h0M504.1 158.9h0M742.8 160.6h0M601.2 161.7h0M630.1 161.7h0M669.1 162h0M674.7 162h0M753.6 162h0M297 163.4h0M458.7 165.7h0M499 166.8h0M630.1 168.5h0M641.4 168.5h0M792.2 168.5h0M742.3 168.8h0M775.2 169.1h0M254.6 171.9h0M506.2 173h0M512 173h0M292.6 173.6h0M299 173.6h0M590.9 175h0M608 174.7h0M641.4 175.3h0M647.7 175.3h0M691.8 175.3h0M703.1 175.3h0M708.8 175.3h0M736.6 175.3h0M742 175.3h0M747.4 175.3h0M669.1 175.6h0M674.7 175.6h0M680.4 175.6h0M402.5 177.2h0M420.5 177.2h0M426.6 177.2h0M243.8 177.9h0M478.6 179.8h0M484.2 179.8h0M506.9 179.8h0M608.5 181.6h0M708.8 181.6h0M736.6 181.6h0M742.3 181.6h0M747.9 181.6h0M403.9 183.6h0M253.5 185.5h0M468.3 185.9h0M271.6 186.7h0M278.1 186.7h0M507.9 186.7h0M309.1 187.8h0M747.8 188.9h0M759 188.9h0M292 192.9h0M514.3 193.8h0M525.7 193.8h0M659.4 196.1h0M681.5 196.1h0M238.1 198h0M263.1 198h0M504.1 200.3h0M313 200.8h0M698.6 202.6h0M709.3 202.6h0M240 204.8h0M246.3 204.8h0M259 204.8h0M435.6 205.4h0M437.1 205.4h0M476.9 206.3h0M505.2 207.1h0M605.1 208.6h0M511.5 213.6h0M583.6 214.2h0M589.2 214.2h0M693.5 214.7h0M243.8 217.6h0M467.8 219h0M506.4 219.2h0M589.8 220.7h0M791.1 221.1h0M688.3 221.8h0M694 221.8h0M440 224.9h0M496.2 225.8h0M502.1 225.8h0M655.1 227.3h0M656.6 227.5h0M407.3 229.8h0M418.6 229.8h0M430 229.8h0M666.8 233.8h0M672.5 233.8h0M678.1 233.8h0M688.3 234.3h0M419.2 236.6h0M688.3 241.1h0M694 241.1h0M796.2 241.1h0M420.9 243.4h0M482 244.2h0M640.3 246.8h0M646 246.8h0M476.9 250.8h0M640.3 253.6h0M672.8 253.6h0M683.8 253.6h0M768.4 254h0M817.5 253.6h0M284.7 257.4h0M678.3 258.2h0M693.5 258.2h0M699.1 258.2h0M800.7 258.2h0M843.3 258.2h0M768.4 260.4h0M445.6 263.1h0M267.6 263.8h0M741.1 265h0M815.5 265h0M640.3 265.5h0M660 265.5h0M672.5 265.5h0M688.8 265.5h0M699.7 265.5h0M726 265.5h0M269.5 269.5h0M281.5 269.5h0M293.6 269.5h0M720.7 271.2h0M815.5 271.5h0M640.3 271.8h0M650.5 271.8h0M425.4 274.4h0M281.3 276.3h0M296.6 276.3h0M539.3 276.3h0M545.5 276.3h0M560.9 276.7h0M846.7 277.5h0M661.1 278h0M678.1 278h0M693.9 278h0M715 278h0M403.9 279.7h0M409.5 279.7h0M420.9 279.7h0M555.8 283.1h0M604 283.7h0M635.8 283.7h0M661.7 284.3h0M688.3 283.7h0M814.9 283.7h0M820.3 283.7h0M825.7 283.7h0M831.1 283.7h0M846.7 283.7h0M354.5 284.8h0M360.2 284.8h0M365.8 284.8h0M371.5 284.8h0M438.3 286.5h0M471.6 287.7h0M558 289.2h0M621 289.4h0M693.7 289.4h0M715 289.4h0M809.2 289.4h0M846.7 289.4h0M636.3 289.6h0M642 289.6h0M647.7 289.6h0M240.4 292.6h0M509.8 294.5h0M293.8 295.1h0M552.3 295.4h0M558 295.4h0M351.5 296.4h0M668.5 296h0M720.5 296h0M825.1 295.6h0M846.7 295.6h0M236.4 299h0M260.3 300.2h0M504.9 300.2h0M295.5 301.3h0M318.2 301.6h0M605.7 301.6h0M788.2 301.6h0M835.9 301.6h0M340.9 302.8h0M346.5 302.8h0M352.2 302.8h0M357.9 302.8h0M231.3 304.1h0M396.9 304.1h0M284.3 306.4h0M296.1 306.4h0M489.9 305.8h0M532.5 307h0M325 307.5h0M611.4 307.8h0M653.9 308.1h0M725.2 308.1h0M767.4 308.1h0M772.7 308.1h0M788.2 308.1h0M819.5 307.8h0M835.3 307.8h0M850.7 307.8h0M233.4 310.4h0M245.5 310.4h0M397.9 309.8h0M506.4 311.5h0M533 312.1h0M548.9 312.1h0M286.4 312.7h0M326.7 313.8h0M704.8 313.8h0M725.2 313.8h0M746.2 313.8h0M235 316.1h0M475.7 317.8h0M529.1 318.3h0M533.6 318.3h0M549.5 318.3h0M623.3 318.9h0M735.5 319.5h0M746 319.5h0M845 319.5h0M850.3 319.5h0M356.2 320h0M253.5 324h0M528.7 324h0M534.2 324h0M352.2 325.1h0M550.1 324.6h0M612.5 324.6h0M623.3 324.6h0M669.1 325.5h0M715 325.1h0M720.7 325.1h0M745.7 325.1h0M751.2 325.1h0M756.6 325.1h0M762.1 325.1h0M406.9 326.3h0M248.9 329.2h0M261.4 329.2h0M529.6 329.5h0M313 330.9h0M347.1 331.5h0M639.2 330.7h0M679.8 330.9h0M690.1 330.9h0M700.3 330.9h0M705.4 330.9h0M834.1 330.9h0M844.6 330.9h0M849.8 330.9h0M363.6 332h0M233 334.3h0M238.9 334.3h0M262.6 334.3h0M488.2 335.2h0M493.3 335.2h0M644.3 336h0M649.4 336h0M654.5 336h0M793.3 336h0M864.9 336h0M715.6 336.6h0M725.8 336.6h0M849 336.6h0M462.7 340.6h0M520 341.3h0M286.9 341.7h0M598.3 342.3h0M669.6 342.3h0M771.8 342.3h0M849 342.3h0M420.3 345.1h0M259.2 346.8h0M282.4 346.8h0M530.8 347h0M305.7 347.9h0M603.4 348.2h0M669.6 348.5h0M696.1 348.5h0M848.4 348.5h0M421.4 350.8h0M271.6 352.5h0M306.2 353.8h0M603.4 354.2h0M705.8 354.2h0M711.1 354.2h0M776.9 354.2h0M735.5 354.7h0M740.6 354.7h0M848.4 354.7h0M588.1 359.1h0M598.3 359.1h0M603.4 359.1h0M608.5 359.1h0M618.7 359.1h0M730.3 359.8h0M791.6 359.8h0M796.9 359.8h0M807.4 359.8h0M812.6 359.8h0M346.3 360.6h0M400.6 361.6h0M406.1 361.6h0M432.8 362.1h0M842.2 365h0M341.2 366.1h0M649.4 365.5h0M725.2 365.5h0M807 365.5h0M401.9 367.2h0M407.3 367.2h0M412.4 367.5h0M644.3 371.2h0M649.4 371.2h0M654.5 371.2h0M842.2 371.2h0M336.1 372.3h0M341.6 372.3h0M381.2 372.9h0M391.4 373.5h0M396.9 373.5h0M407.8 373.5h0M470.6 374h0M475.7 374h0M486.7 375.2h0M512.6 375.4h0M675.3 376.3h0M836.5 376.3h0M856.9 376.3h0M316.5 376.9h0M332.8 377.4h0M338.3 377.4h0M343.8 377.4h0M354.8 377.4h0M365.8 377.4h0M650.5 376.5h0M705.4 376.5h0M720.1 376.5h0M725.2 376.5h0M740.6 376.5h0M381.7 378h0M398.2 379.1h0M650.2 382h0M675.3 382h0M745.4 382.2h0M791.1 382h0M796.2 382h0M810.9 382h0M826.3 382h0M852.4 382h0M866.6 382h0M339 383.3h0M355.4 383.3h0M715.6 382.6h0M398.7 384.8h0M404.1 384.8h0M414.9 384.8h0M420.3 384.8h0M451.3 386h0M659.4 387.7h0M669.8 387.7h0M720.7 387.9h0M820.6 387.9h0M846.7 387.7h0M866.6 387.7h0M362 389.4h0M367.5 389.4h0M383.4 389.4h0M420.7 389.9h0M425.7 389.9h0M437.1 390.5h0M457.6 390.8h0M462.7 390.8h0M670.8 393.3h0M675.7 393.3h0M680.6 393.3h0M690.1 393.3h0M735.5 393.3h0M780.9 393.3h0M846.7 393.3h0M427.1 395.6h0M437.7 396.2h0M667.8 398.8h0M673.7 398.8h0M765.5 399h0M805.8 399h0M810.9 399h0M829.7 399h0M385.1 400.1h0M421.7 401.1h0M735.5 404.1h0M750.2 404.1h0M829.7 404.1h0M866.6 404.1h0M412.9 406h0M418.3 406h0M423.7 406h0M433.4 406.4h0M443.4 407h0M272.8 408.3h0M495 408.1h0M725.2 409.2h0M730.3 409.2h0M735.5 409.2h0M386.3 410.9h0M439.4 412.6h0M484.8 413.2h0M222.8 413.5h0M228.5 413.5h0M234.2 413.5h0M239.8 413.5h0M251.2 413.5h0M268.2 413.5h0M273.9 413.5h0M361.6 415.5h0M372.4 415.5h0M844.4 414.9h0M850.1 414.9h0M476.3 418.3h0M258 418.9h0M263.7 418.9h0M275 419.4h0M745.7 420.3h0M849 420h0M302.8 420.6h0M329.5 420.8h0M334.8 420.8h0M340.1 420.8h0M345.4 420.8h0M425.2 422.3h0M236.4 424.2h0M259.7 424.5h0M325 425.1h0M281.6 425.7h0M292.5 425.7h0M766.1 425.7h0M405 428h0M220.5 429.4h0M231.9 429.4h0M237.6 429.4h0M243.2 429.4h0M462.1 428.9h0M740.6 430.8h0M745.5 430.8h0M843.3 430.8h0M426.6 433.6h0M457.6 434.2h0M238.7 434.8h0M244.4 434.8h0M690.6 435.9h0M750.6 436.2h0M760.4 436.2h0M838.7 435.9h0M848.4 435.9h0M348.4 437.4h0M353.8 437.4h0M359.1 437.4h0M364.4 437.4h0M385.7 437.4h0M647.7 436.7h0M416.9 439.3h0M437.7 439.3h0M244.4 440.8h0M255.7 440.8h0M289.2 441h0M686.8 441.2h0M696.5 441.2h0M701.4 441.2h0M769.5 441.6h0M774.7 441.6h0M790.3 441.6h0M795.5 441.6h0M315.9 442.7h0M321.2 442.7h0M326.6 442.7h0M342.6 442.7h0M348 442.7h0M353.3 442.7h0M364 442.7h0M369.4 442.7h0M374.7 442.7h0M380.1 442.7h0M432.8 444.4h0M250.9 446.1h0M267.7 446.1h0M690.8 446.5h0M701.4 446.5h0M627.8 446.9h0M656 446.7h0M784.6 446.7h0M794.5 446.7h0M804.3 446.7h0M809.2 446.7h0M863.2 446.7h0M290.6 447.6h0M323 447.6h0M353.6 448.4h0M358.9 448.4h0M364.2 448.4h0M374.9 448.4h0M380.2 448.4h0M385.6 448.4h0M390.9 448.4h0M396.2 448.4h0M427.7 449.9h0M242.1 451.2h0M253.5 451.8h0M608 452.4h0M613 452.4h0M632.9 452.4h0M656 452.1h0M660.9 452.1h0M711.1 452.1h0M716.2 452.1h0M793.3 452.4h0M361.9 453.7h0M367.2 453.7h0M372.6 453.7h0M391.4 453.7h0M418.4 454.6h0M423.7 454.6h0M653.4 457.5h0M667.4 457.5h0M673 457.5h0M699.3 456.9h0M704.5 456.9h0M725.3 456.9h0M730.5 456.9h0M735.7 456.9h0M740.9 456.9h0M746.1 456.9h0M751.3 456.9h0M803.6 457.5h0M584.2 462.3h0M589.2 462.3h0M598.9 462.6h0M694.5 462.6h0M718.5 462.6h0M723.3 462.6h0M728 462.6h0M732.8 462.6h0M737.6 462.6h0M756.8 462.6h0M388.5 465.4h0M725.8 468.2h0M745.9 468.2h0M756 468.2h0M761.1 468.2h0M239.8 470.7h0M262.5 472.2h0M745.5 473.4h0M770.8 473.4h0M775.9 473.4h0M780.9 473.4h0M807.6 473.4h0M812.9 473.4h0M818.1 473.4h0M828.5 473.4h0M866.6 473.4h0M861.4 478.5h0M756.1 479h0M761.3 479h0M766.5 479h0M781.9 479h0M787.1 479h0M792.2 479h0M817.7 479h0M866.6 479h0M259.7 481.9h0M253.5 483h0M570.5 483.6h0M579.6 483.9h0M680.3 484.1h0M690.3 484.1h0M695.3 484.1h0M776.3 483.9h0M781.3 483.9h0M816.8 483.9h0M827.4 483.9h0M832.7 483.9h0M838 483.9h0M843.3 483.9h0M260.3 488.1h0M265.9 488.1h0M832.5 488.7h0M817.2 493.8h0M860 493.8h0M261.4 498.7h0M784.3 498.7h0M802.4 498.7h0M841.4 498.9h0M846.3 498.9h0M851.2 498.9h0M251.8 504h0M262.5 504h0M738.9 504h0M744.5 504h0M750.2 504h0M802.4 504h0M812.6 504h0M817.7 504h0M822.9 504h0M851.5 504h0M861.2 504h0M447.4 507.1h0M499.6 509.2h0M527.9 509.2h0M533 509.2h0M538.2 509.2h0M730.3 509.2h0M735.5 509.2h0M777.5 509.2h0M827.4 509.2h0M839.9 509.2h0M859.7 509.2h0M475.2 509.8h0M480 509.8h0M484.8 509.8h0M436 514.3h0M440.8 514.3h0M445.6 514.3h0M730.5 514h0M735.5 514h0M749.1 514h0M754.2 514h0M759.3 514h0M793.3 514h0M826.3 514h0M834.2 514h0M844.4 514h0M480.1 514.9h0M490.1 514.9h0M499.6 514.9h0M504.1 514.9h0M465.5 517.1h0M455.6 519.4h0M725.6 519.1h0M758.9 519.1h0M797.9 519.1h0M805.8 519.1h0M812.6 519.1h0M839.9 519.1h0M844.9 519.1h0M849.9 519.1h0M859.9 519.1h0M864.9 519.1h0M485.2 520h0M490.1 520h0M495 520h0M406.7 521.1h0M583 524h0M592.6 524h0M792.8 524.2h0M819.5 524.2h0M830.8 524.2h0M836.5 524.2h0M854.6 524.2h0M455.3 524.5h0M460.4 524.5h0M464.4 524.5h0M495 525.1h0M509.8 525.1h0M514.3 525.1h0M802.4 524.5h0M344.3 525.7h0M406.7 526.2h0M411.2 526.2h0M523.4 529.1h0M801.3 529.3h0M806.3 529.3h0M811.4 529.3h0M821.5 529.3h0M831.6 529.3h0M836.6 529.3h0M846.7 529.3h0M450.8 529.6h0M485.4 529.6h0M495 529.6h0M509.8 529.6h0M334.8 530.8h0M351.3 530.8h0M356.7 530.8h0M406.7 531.3h0M411.8 531.3h0M843.3 534.4h0M854.6 534.4h0M377.2 535.3h0M485.9 534.7h0M411.8 536.4h0M422 536.4h0M435.1 536.4h0M471.2 538.7h0M515.5 539.3h0M837.6 539.3h0M844.4 539.3h0M864.9 538.7h0M346.5 540.4h0M436 539.8h0M441.1 539.8h0M366.7 540.6h0M372.1 540.6h0M382.9 540.6h0M446.6 543.3h0M844.1 544.4h0M860.3 544.4h0M347.7 546.1h0M447.4 548.4h0M838.7 548.9h0M849.2 548.9h0M247.8 550.1h0M263.7 550.1h0M269.3 550.1h0M290.2 550.4h0M296.2 550.4h0M302.3 550.4h0M329.5 550.6h0M388.5 551.2h0M399 551.2h0M404.2 551.2h0M409.4 551.2h0M414.6 551.2h0M433.9 552.3h0M448.5 553.5h0M264.8 554.6h0M270.5 554.6h0M332.9 555.2h0M414.4 556.3h0M492.4 558.6h0M497.3 558.6h0M271.6 559.9h0M277.3 559.9h0M288.6 559.9h0M334 560.8h0M353.8 560.8h0M358.9 560.8h0M368.9 560.8h0M379 560.8h0M388.5 560.8h0M399 560.8h0M404.2 560.8h0M244.4 564.3h0M853.5 564.5h0M276.7 564.8h0M386.3 566h0M390.8 566h0M399.9 566.5h0M267.1 569.7h0M319.3 569.7h0M351.1 570.5h0M356.7 570.5h0M367 570.8h0M377.2 570.8h0M392.5 570.8h0M397.6 570.8h0M504.1 573.3h0M252.3 574.5h0M288.6 575.4h0M293.9 575.4h0M335.2 575.6h0M340.9 575.6h0M824 579h0M838.2 579h0M247.8 579.6h0M268.2 579.6h0M299.6 580.1h0M310.2 580.1h0M336.3 580.1h0M342 580.1h0M362.4 580.1h0M386.3 580.1h0M411.2 581.3h0M221.7 584.7h0M248.9 585.8h0M295.5 585.8h0M300.9 585.8h0M311.9 585.8h0M328.4 585.8h0M331.8 585.8h0M337.2 585.8h0M342.6 585.8h0M348 585.8h0M362.4 585.8h0M392.4 586.4h0M413.7 586.4h0M424.4 586.4h0M436 585.8h0M855.8 587h0M227.4 590.4h0M233 590.4h0M248.9 590.9h0M254.3 590.9h0M270.3 590.9h0M275.7 590.9h0M281 590.9h0M286.4 590.9h0M331.8 590.9h0M347.7 590.9h0M363.6 590.9h0M425.7 591.5h0M858 591.5h0M227.9 595.5h0M265.9 595.5h0M275 595.5h0M280.7 595.5h0M286.4 595.5h0M347.3 595.5h0M318.2 596h0M808.1 597.7h0M837.6 597.7h0M848.2 597.7h0M860.3 597.7h0M281.8 600h0M286.4 600h0M227.9 600.6h0M233 600.6h0M238.1 600.6h0M393.1 601.1h0M492.8 601.1h0M244.4 601.7h0M848.6 602.3h0M808.1 602.8h0M343.1 605.1h0M359 605.1h0M481.4 605.1h0M233 605.7h0M237.6 605.7h0M318.2 605.7h0M329.5 605.7h0M393.6 605.7h0M403.9 605.7h0M409 605.7h0M265.9 608.5h0M293.2 609.7h0M298.3 609.7h0M303.4 609.7h0M322.7 610.2h0M328.4 610.2h0M388.2 610.8h0M234.2 613.6h0M257.2 613.6h0M263.7 613.6h0M271.6 614.2h0M297.7 614.2h0M328.9 614.8h0M363.6 614.8h0M368.9 614.8h0M374.2 614.8h0M451.1 615.9h0M789.9 617h0M795 617h0M244.4 618.2h0M262.5 618.2h0M272.8 618.7h0M293.2 618.7h0M309.1 619.3h0M315.9 619.3h0M251.2 623.3h0M262.5 623.3h0M287.5 623.8h0M293.6 623.8h0M346.5 624.4h0M275.8 629h0M305.7 629.5h0M311.3 629.5h0M264.8 633.5h0M290.9 633.5h0M346.5 633.5h0M295.5 639.2h0M330.6 638.9h0M342 638.9h0M385.7 639.7h0M390.8 639.7h0M638 640.9h0M799 642h0M276.2 643.1h0M311.3 643.7h0M322.7 643.7h0M346.5 643.7h0M381.3 644.3h0M643.7 646h0M352.2 648.8h0M382.3 648.8h0M363.6 652.8h0M223.2 655.6h0M303.4 662.4h0M340.9 661.9h0M817.2 664.7h0M821.7 664.7h0M267.1 666.4h0M272.8 666.4h0M359 667h0M369.2 667h0M826.3 669.2h0M523.4 669.8h0M283 671.5h0M288.6 671.5h0M294.3 671.5h0M305.7 671.5h0M523.4 675.5h0M259.1 675.7h0M264.8 675.7h0M364.7 676.6h0M625 677.8h0M830.8 678.9h0M254.6 680.6h0M263.7 680.6h0M835.3 682.9h0M839.9 682.9h0"/>
<path stroke="#e60000" d="M662.2 148.4h0M777.5 148.4h0M793.3 148.4h0M810.4 148.4h0M834.2 148.4h0M268 150h0M274.5 150h0M280.9 150h0M293.8 150h0M743.4 153.7h0M800.2 153.7h0M669.6 155.2h0M720.7 154.9h0M759.9 155.4h0M777.5 156h0M368.1 156.6h0M374.2 156.6h0M392.5 156.6h0M647.1 161.7h0M680.4 162h0M759.9 162h0M793.3 162h0M227 163.4h0M290.7 163.4h0M303.3 163.4h0M309.6 163.4h0M363 162.8h0M504.7 166.8h0M510.3 166.8h0M647.1 168.5h0M708.8 168.5h0M680.4 168.8h0M764.4 169.1h0M364.7 170.2h0M370.7 170.2h0M376.8 170.2h0M382.8 170.2h0M476.9 172.2h0M311.9 173.6h0M686.1 175.3h0M366.4 177.2h0M390.5 177.2h0M251.2 177.9h0M301.1 181h0M307.4 181h0M313.6 181h0M759.3 181.6h0M398 183.6h0M284.5 186.7h0M290.9 186.7h0M513.8 186.7h0M664.5 188.6h0M742.3 188.9h0M753.4 188.9h0M764.5 188.9h0M770.1 188.9h0M223.4 191.2h0M236.4 191.2h0M387.4 190.9h0M393.4 190.9h0M399.5 190.9h0M405.6 190.9h0M286.4 192.9h0M311.3 194h0M604 195.2h0M675.9 196.1h0M698.6 196.1h0M753.6 196.1h0M225.6 198h0M231.9 198h0M430 198h0M446.8 198h0M453 198h0M288.6 200.3h0M294.3 200.3h0M704 202.6h0M233.6 204.8h0M265.4 204.8h0M289.8 206h0M482.5 206.3h0M488.2 206.3h0M314.2 207.1h0M649.4 209h0M803 208.6h0M241.5 211.1h0M248.3 211.1h0M267.1 212.2h0M471.8 212.2h0M316.5 213.9h0M505.2 213.6h0M785.4 214.5h0M649.4 215.4h0M699.1 214.7h0M796.7 215h0M802.2 215h0M416.3 217.6h0M433.4 217.6h0M462.1 219h0M500.7 219.2h0M785.4 221.1h0M807.8 221.3h0M813.2 221.3h0M227.4 224.1h0M252.3 224.1h0M417.5 224.7h0M457 224.9h0M688.3 228.1h0M791.1 227.5h0M807.8 228.1h0M813.8 228.1h0M623.3 234h0M785.4 234h0M813.2 234.3h0M458.7 238.3h0M640.3 240.8h0M812.6 240.8h0M818.3 240.8h0M435.6 243.4h0M443.4 243.8h0M618.7 246.3h0M623.9 246.3h0M673 246.8h0M678.1 246.8h0M790.5 247.2h0M796.2 247.2h0M812.1 247.2h0M817.7 247.2h0M483.1 250.8h0M394.2 254.2h0M678.3 253.6h0M789.9 253.6h0M795.6 253.6h0M812.1 253.6h0M278.4 257.4h0M290.9 257.4h0M565.4 257.8h0M603.4 258.2h0M683.8 258.2h0M789.9 258.2h0M817.2 258.2h0M285.5 263.8h0M291.5 263.8h0M297.4 263.8h0M303.4 263.8h0M565.4 265h0M603.4 265.3h0M795 265h0M800.2 265h0M843.3 265h0M859.2 265h0M864.3 265h0M655.1 265.5h0M683.4 265.5h0M694.3 265.5h0M715 265.5h0M720.5 265.5h0M731.5 265.5h0M395.9 267.3h0M239.3 269.5h0M251.3 269.5h0M263.4 269.5h0M275.5 269.5h0M287.6 269.5h0M299.6 269.5h0M305.7 269.5h0M693.7 271.2h0M704.5 271.2h0M715.3 271.2h0M741.1 271.5h0M793.9 271.2h0M821.2 271.5h0M842.2 271.2h0M863.7 270.7h0M661.7 271.8h0M396.5 273.5h0M286.4 276.3h0M291.5 276.3h0M301.7 276.3h0M306.8 276.3h0M603.4 276.9h0M646 277.5h0M814.9 277.5h0M820.6 277.5h0M830.8 277.5h0M841.6 277.5h0M656 278h0M741.1 277.8h0M793.9 277.8h0M799.3 277.8h0M341.4 278.6h0M398.2 279.7h0M561.4 283.1h0M598.3 283.7h0M609.7 283.7h0M647.1 283.7h0M652.8 283.7h0M656 284.3h0M715 283.7h0M377.2 284.8h0M256.3 288.2h0M263.1 288.2h0M466.1 287.7h0M530.2 288.8h0M551.8 289.2h0M593.8 289.4h0M599.2 289.4h0M604.7 289.4h0M610.1 289.4h0M704.4 289.4h0M709.7 289.4h0M835.9 289.4h0M653.4 289.6h0M730.9 289.6h0M736.3 289.6h0M741.7 289.6h0M361.3 290.7h0M233.6 292.6h0M258 293.4h0M461.5 293.9h0M346 296.4h0M362.4 296.4h0M605.1 295.6h0M636.9 295.6h0M642.6 295.6h0M648.3 295.6h0M725.8 296h0M751.3 295.6h0M757 295.6h0M835.9 295.6h0M306.8 301.3h0M553.5 301.3h0M757 301.3h0M323.8 301.6h0M616.5 301.6h0M631.8 301.9h0M720.5 301.9h0M725.8 301.9h0M741.1 301.6h0M778 301.6h0M363.6 302.8h0M391.4 304.1h0M500.1 305.8h0M548.4 306.4h0M521.7 307h0M564.3 307.3h0M616.8 307.8h0M751.5 308.1h0M756.8 308.1h0M762.1 308.1h0M359 308.7h0M239.5 310.4h0M392.5 309.8h0M495.6 311.5h0M501 311.5h0M303.4 312.7h0M309.1 312.7h0M559.2 312.7h0M564.8 312.7h0M741.1 313.8h0M845 313.8h0M241 316.1h0M517.7 318.3h0M560.3 318.3h0M305.7 318.9h0M596 318.7h0M361.9 320h0M306.8 324h0M523.2 324h0M346.2 325.1h0M560.3 324.6h0M649.4 324.6h0M844.4 325.1h0M498.1 329.2h0M503.5 329.2h0M301.7 330.3h0M560.9 329.8h0M644.3 330.7h0M661.1 330.9h0M666.2 330.9h0M671.3 330.9h0M684.9 330.9h0M695.2 330.9h0M818.3 330.9h0M823.6 330.9h0M839.3 330.9h0M855.1 330.9h0M244.8 334.3h0M250.7 334.3h0M302.8 335.4h0M498.4 335.2h0M720.7 336.6h0M838.7 336.6h0M843.9 336.6h0M252.3 341.1h0M258.3 341.1h0M467.8 340.6h0M472.9 340.6h0M478 340.6h0M493.9 341.1h0M545.5 341.3h0M293.2 341.7h0M304 342.3h0M623.3 342.3h0M808.1 342.5h0M838.7 342.3h0M843.9 342.3h0M276.6 346.8h0M300 347.9h0M593.2 348.2h0M598.3 348.2h0M644.9 348.5h0M674.9 348.5h0M680.2 348.5h0M685.5 348.5h0M690.8 348.5h0M701.4 348.5h0M843.3 348.5h0M863.7 347.9h0M463.8 351.1h0M254 352.5h0M259.9 352.5h0M265.8 352.5h0M495 351.9h0M618.7 353.8h0M669.6 354.2h0M675 354.2h0M700.6 354.2h0M792.2 354.2h0M802.4 354.2h0M644.9 354.5h0M730.3 354.7h0M843.3 354.7h0M273.3 358.7h0M296 359.8h0M802.1 359.8h0M836.5 359.8h0M842.2 359.8h0M340.9 360.6h0M427.7 362.1h0M296.6 365h0M302.3 365h0M325 365h0M583.6 364.7h0M588.7 364.7h0M598.9 364.7h0M335.8 366.1h0M639.2 365.5h0M644.3 365.5h0M801.9 365.5h0M396.5 367.2h0M423.2 367.5h0M297.7 371.2h0M303.2 371.2h0M308.7 371.2h0M639.2 371.2h0M669.6 371.2h0M674.7 371.2h0M805.8 371.2h0M836.5 371.2h0M858.6 371.2h0M330.6 372.3h0M347.1 372.3h0M402.3 373.5h0M465.5 374h0M481.4 375.2h0M538.2 375.7h0M826.3 376.3h0M851.8 376.3h0M862 376.3h0M327.2 377.4h0M349.3 377.4h0M414.1 379.1h0M419.7 379.1h0M461.5 379.7h0M659.4 381.4h0M645.4 382h0M655.1 382h0M740.6 382.2h0M801.3 382h0M821.2 382h0M836.5 382h0M846.7 382h0M862.6 382h0M344.5 383.3h0M349.9 383.3h0M360.9 383.3h0M426 384.3h0M431.1 384.3h0M409.5 384.8h0M441.1 386h0M446.2 386h0M456.4 386h0M605.1 387.7h0M610.2 387.7h0M620.4 387.7h0M650.5 388.2h0M655.1 388.2h0M664.6 387.7h0M710.5 387.9h0M836.5 387.7h0M345.4 389.4h0M356.5 389.4h0M430.7 389.9h0M650.5 393.3h0M655.1 393.3h0M656 393.3h0M660.9 393.3h0M665.8 393.3h0M705.9 393.3h0M715.6 393.3h0M720.7 393.3h0M855.8 393.1h0M610.8 393.6h0M363 395.4h0M378.9 395.4h0M509.8 397.6h0M514.9 397.6h0M520 397.6h0M655.1 399h0M679.6 398.8h0M685.5 398.8h0M720.7 399h0M779.7 399h0M785.4 399h0M795.6 399h0M800.7 399h0M836.5 399h0M849.7 399h0M855 399h0M860.3 399h0M495 402.4h0M338 404.5h0M675.3 404.1h0M691.2 404.1h0M805.8 403.5h0M810.9 403.5h0M816 403.5h0M402.2 406h0M261.4 408.3h0M278.4 408.3h0M505.8 408.1h0M700.8 408.7h0M740.6 409.2h0M745.7 409.2h0M327.8 410.7h0M338.6 410.7h0M444.7 412.6h0M450 412.6h0M217.1 413.5h0M245.5 413.5h0M256.9 413.5h0M262.5 413.5h0M279.6 413.5h0M301.7 414.9h0M367 415.5h0M700.8 414.7h0M720.7 414.9h0M725.6 414.9h0M730.5 414.9h0M855.8 414.9h0M861.4 414.9h0M866.6 414.9h0M735.5 420.3h0M740.6 420.3h0M755.3 420h0M700.3 420.6h0M710.9 420.6h0M308.8 425.7h0M730.3 425.7h0M735.5 425.7h0M740.6 425.7h0M745.7 425.7h0M750.8 425.7h0M226.2 429.4h0M467.2 428.9h0M656 430.8h0M671.9 430.8h0M685.5 430.8h0M690.6 430.8h0M695.7 430.8h0M720.7 430.8h0M725.2 430.8h0M755.5 430.8h0M760.4 430.8h0M447 434.2h0M452.3 434.2h0M227.4 434.8h0M233 434.8h0M250.1 434.8h0M255.7 434.8h0M779.7 435.3h0M785.4 435.3h0M656 435.9h0M661.1 435.9h0M685.5 435.9h0M695.7 435.9h0M705.4 436.2h0M755.5 436.2h0M843.3 435.9h0M652.8 436.7h0M227.4 440.8h0M233 440.8h0M238.7 440.8h0M250.1 440.8h0M642.6 441h0M677 441.2h0M681.9 441.2h0M691.6 441.2h0M843.7 441h0M848.6 441h0M853.5 441h0M656 441.6h0M760.4 441.6h0M779.9 441.6h0M785.1 441.6h0M800.6 441.6h0M337.3 442.7h0M358.7 442.7h0M234.2 446.1h0M239.8 446.1h0M245.3 446.1h0M256.5 446.1h0M273.3 446.1h0M598.3 446.5h0M603.4 446.5h0M818.3 446.5h0M833.1 446.5h0M661.1 446.7h0M789.6 446.7h0M799.4 446.7h0M843.3 446.7h0M848.4 446.7h0M858.6 446.7h0M285.2 447.6h0M296 447.6h0M301.4 447.6h0M306.8 447.6h0M312.2 447.6h0M317.6 447.6h0M328.4 447.6h0M348.2 448.4h0M236.4 451.2h0M259.1 451.8h0M270.5 451.8h0M276.2 451.8h0M622.9 452.4h0M627.9 452.4h0M803.6 452.4h0M833.1 452.4h0M847.8 452.4h0M853.5 452.4h0M318.2 452.9h0M328.9 452.9h0M351.1 453.7h0M380.6 453.7h0M253.5 456.9h0M259.1 456.9h0M270.5 456.9h0M598.3 456.7h0M720.1 456.9h0M856.9 456.9h0M356.2 459.2h0M361.7 459.2h0M367.2 459.2h0M372.6 459.2h0M387.4 459.7h0M398 459.7h0M403.3 459.7h0M564.3 462.3h0M569.3 462.3h0M574.3 462.3h0M579.2 462.3h0M761.6 462.6h0M832.5 462.6h0M393.9 465.4h0M399.3 465.4h0M554.6 467.3h0M837.6 467.7h0M234.2 470.7h0M245.5 470.7h0M251.2 470.7h0M786 473.4h0M791.1 473.4h0M802.4 473.4h0M823.3 473.4h0M856.9 473.4h0M236.4 475.6h0M242.1 475.6h0M253.5 475.6h0M535.9 477.6h0M776.8 479h0M807 479h0M812.4 479h0M828.5 479h0M242.1 479.6h0M526.8 483.2h0M531.9 483.2h0M685.3 484.1h0M866.6 484.1h0M822 488.7h0M827.3 488.7h0M837.8 488.7h0M835.7 493.8h0M840.5 493.8h0M845.4 493.8h0M864.9 493.8h0M812.6 498.7h0M818.3 498.7h0M856.2 498.9h0M861.1 498.9h0M866 498.9h0M438.8 501.7h0M443.9 501.7h0M533 502.9h0M538.2 502.9h0M547.8 502.9h0M856.3 504h0M866 504h0M435.1 506.3h0M436 507.1h0M458.7 507.1h0M508.6 507.1h0M522.8 507.1h0M533 507.1h0M218.3 508.6h0M264.2 508.6h0M440.9 509.2h0M445.8 509.2h0M450.6 509.2h0M455.5 509.2h0M460.4 509.2h0M504.7 509.2h0M509.8 509.2h0M517.7 509.2h0M522.8 509.2h0M547.2 509.2h0M763.8 509.2h0M822.3 509.2h0M414.6 511.5h0M420.3 511.5h0M435.1 510.9h0M596.6 513.7h0M839.3 514h0M475.2 514.9h0M485.1 514.9h0M495 514.9h0M390.2 516h0M460.4 519.4h0M854.9 519.1h0M348.8 520h0M356.7 520h0M480.3 520h0M509.8 520h0M527.9 524h0M531.9 524h0M535.9 524h0M825.1 524.2h0M318.2 525.1h0M485.4 525.1h0M490.2 525.1h0M864.9 524.5h0M350.5 525.7h0M369.2 525.7h0M375.5 525.7h0M381.7 525.7h0M816.4 529.3h0M826.5 529.3h0M841.6 529.3h0M465.5 529.6h0M323.8 530.8h0M329.3 530.8h0M340.3 530.8h0M371.5 530.8h0M377.2 530.8h0M386.3 531.3h0M391.4 531.3h0M416.9 531.3h0M849 534.4h0M860.3 534.4h0M283 534.7h0M293.2 535.3h0M298.9 535.3h0M304.5 535.3h0M315.9 535.3h0M465.5 534.7h0M470.1 534.7h0M416.9 536.4h0M849 539.3h0M854.6 539.3h0M860.3 539.3h0M288.6 540.2h0M304.5 540.4h0M310.2 540.4h0M315.9 540.4h0M377.5 540.6h0M241 544.4h0M246.6 544.4h0M252.3 544.4h0M258 544.4h0M263.7 544.4h0M269.3 544.4h0M275 544.4h0M849.5 544.4h0M315.9 545.5h0M378.3 545.5h0M382.9 545.5h0M284.1 550.4h0M320.4 550.6h0M497.3 553.5h0M248.9 555.2h0M285.2 555.7h0M290.7 555.7h0M296.2 555.7h0M301.7 555.7h0M307.2 555.7h0M312.7 555.7h0M318.2 555.7h0M382.9 556.3h0M388.1 556.3h0M393.4 556.3h0M398.6 556.3h0M403.9 556.3h0M409.1 556.3h0M419.6 556.3h0M250.1 559.9h0M283 559.9h0M363.9 560.8h0M373.9 560.8h0M384 560.8h0M393.8 560.8h0M409.4 560.8h0M250.1 564.3h0M282.3 564.8h0M298.9 564.8h0M334 565.4h0M246.6 569.9h0M298.9 569.9h0M335.2 570.5h0M382.3 570.8h0M387.4 570.8h0M263.1 575h0M299.2 575.4h0M304.5 575.4h0M294.3 580.1h0M304.9 580.1h0M227.4 584.7h0M254.6 585.8h0M306.4 585.8h0M317.4 585.8h0M381.7 586.4h0M397.7 586.4h0M403.1 586.4h0M408.4 586.4h0M259.6 590.9h0M265 590.9h0M318.2 590.9h0M336.9 590.9h0M342 590.9h0M397.6 591.5h0M407.8 591.5h0M413.8 591.5h0M233 595.5h0M247.8 595.5h0M253.8 595.5h0M259.9 595.5h0M342 595.5h0M352.6 595.5h0M312.5 596h0M422.6 597.2h0M842.9 597.7h0M312.5 600.6h0M323.8 600.6h0M329.5 600.6h0M352.2 600.6h0M357.9 600.6h0M369.2 600.6h0M853.5 602.3h0M286.4 605.1h0M312.5 605.7h0M323.8 605.7h0M245.5 608h0M238.7 608.5h0M334 610.2h0M364.7 610.2h0M244.4 613.6h0M250.8 613.6h0M303.4 614.2h0M322.7 614.8h0M335.2 614.8h0M251.2 618.2h0M329.5 619.9h0M334 619.9h0M269.3 623.3h0M305.7 623.8h0M263.7 629h0M269.7 629h0M281.8 629h0M269.3 633.5h0M330.6 633.5h0M335.9 633.5h0M270.5 638.6h0M277.3 638.6h0M336.3 638.9h0M305.7 643.7h0M317 643.7h0M638 646h0M301.1 652.8h0M307.1 652.8h0M313 652.8h0M319 652.8h0M313.6 657.9h0M288.6 666.4h0M267.1 671.5h0M300 671.5h0M360.2 671.5h0M365.8 671.5h0M830.8 674.4h0M253.5 675.7h0M283 676.1h0M289.2 676.1h0M369.8 676.6h0M259.1 680.6h0"/>
<path stroke="#cc0000" d="M720.7 148.4h0M288.8 156.6h0M295.3 156.6h0M301.7 156.6h0M380.3 156.6h0M386.4 156.6h0M481.1 158.9h0M488.2 165.9h0M305.5 173.6h0M372.4 177.2h0M378.4 177.2h0M384.4 177.2h0M512.6 179.8h0M380.6 183.6h0M386.4 183.6h0M525.1 187h0M419.2 205.4h0M430.5 205.4h0M643.7 209h0M807.7 215h0M813.2 215h0M802.4 221.3h0M246.1 224.1h0M785.4 227.5h0M790.8 234h0M807 234.3h0M408.4 236.6h0M785.4 241.1h0M790.8 241.1h0M822.9 253.6h0M795.3 258.2h0M822.9 258.2h0M859.2 258.2h0M273.6 263.8h0M279.6 263.8h0M576.2 265h0M245.3 269.5h0M257.4 269.5h0M699.1 271.2h0M799.6 271.2h0M735.5 301.6h0M302 306.4h0M307.9 306.4h0M600.6 307.8h0M527.4 312.1h0M595.5 313.2h0M740.8 319.5h0M517.7 324h0M828.8 330.9h0M560.9 336h0M629 336.6h0M679.8 337.1h0M684.9 337.1h0M710.5 336.6h0M730.9 336.6h0M488.8 341.1h0M639.2 342.3h0M644.3 342.3h0M649.4 342.3h0M664.5 342.3h0M253.5 346.8h0M294.9 353.8h0M300.6 353.8h0M858.6 354.2h0M725.2 354.7h0M463.8 357.6h0M468.9 357.6h0M261.4 358.7h0M267.4 358.7h0M858 359.3h0M307.9 365h0M593.8 364.7h0M836.5 365h0M856.9 365h0M417.8 367.5h0M624.4 370.6h0M640.3 376.5h0M645.4 376.5h0M451.3 379.7h0M456.4 379.7h0M816 382h0M333.5 383.3h0M615.3 387.7h0M625.6 387.7h0M715.6 387.9h0M350.9 389.4h0M435.6 389.9h0M656 398.8h0M661.9 398.8h0M844.4 399h0M326.7 404.5h0M680.6 404.1h0M685.9 404.1h0M800.7 403.5h0M821.2 403.5h0M854.6 404.1h0M860.3 404.1h0M250.1 408.3h0M255.7 408.3h0M267.1 408.3h0M500.4 408.1h0M505.8 414h0M356.2 415.5h0M735.5 414.9h0M705.6 420.6h0M716.2 420.6h0M755.9 425.7h0M761 425.7h0M655.1 430.8h0M838.7 430.8h0M627.8 441h0M838.7 441h0M805.8 441.6h0M779.7 446.7h0M853.5 446.7h0M247.8 451.2h0M323.5 452.9h0M356.5 453.7h0M438.8 455.5h0M276.2 456.9h0M392.7 459.7h0M559.7 467.3h0M856.9 467.1h0M228.5 470.7h0M256.9 472.2h0M550.1 472.6h0M861.4 473.4h0M230.8 475.6h0M247.8 475.6h0M541 477.6h0M264.8 481.9h0M521.7 483.2h0M822.1 483.9h0M843 488.7h0M848.3 488.7h0M853.5 488.7h0M850.3 493.8h0M855.1 493.8h0M433.9 501.7h0M441.7 507.1h0M453 507.1h0M517.7 507.1h0M527.9 507.1h0M538.2 507.1h0M252.3 509.2h0M436 509.2h0M854.6 509.2h0M409 511.5h0M426 511.5h0M356.7 525.7h0M396.5 531.3h0M277.9 534.7h0M310.2 535.3h0M424.9 556.3h0M322.9 585.8h0M311.3 590.9h0M346.5 600.6h0M363.6 600.6h0M271.6 608.5h0M343.1 610.2h0M348.8 610.2h0M357.9 610.2h0M299.6 623.8h0M327.8 648.2h0M325 652.8h0M268.2 675.7h0M295.5 676.1h0"/>
<path stroke="#b30000" d="M287.3 150h0M392.2 183.6h0M341.2 633.5h0"/></g>
<use href="#grid"/><use href="#coast" clip-path="url(#ax)"/>
<text class="s" transform="translate(114.6 146.7) scale(0.985 1.045)" text-anchor="end">35</text>
<text class="o" x="114.1" y="126.8">°</text>
<text class="s" transform="translate(148.3 146.7) scale(0.985 1.045)">N</text>
<text class="s" transform="translate(114.6 259.7) scale(0.985 1.045)" text-anchor="end">30</text>
<text class="o" x="114.1" y="239.8">°</text>
<text class="s" transform="translate(148.3 259.7) scale(0.985 1.045)">N</text>
<text class="s" transform="translate(114.6 370) scale(0.985 1.045)" text-anchor="end">25</text>
<text class="o" x="114.1" y="350.1">°</text>
<text class="s" transform="translate(148.3 370) scale(0.985 1.045)">N</text>
<text class="s" transform="translate(114.6 476.8) scale(0.985 1.045)" text-anchor="end">20</text>
<text class="o" x="114.1" y="456.9">°</text>
<text class="s" transform="translate(148.3 476.8) scale(0.985 1.045)">N</text>
<text class="s" transform="translate(114.6 581.8) scale(0.985 1.045)" text-anchor="end">15</text>
<text class="o" x="114.1" y="561.9">°</text>
<text class="s" transform="translate(148.3 581.8) scale(0.985 1.045)">N</text>
<text class="s" transform="translate(114.6 685.8) scale(0.985 1.045)" text-anchor="end">10</text>
<text class="o" x="114.1" y="665.9">°</text>
<text class="s" transform="translate(148.3 685.8) scale(0.985 1.045)">N</text>
<text class="s" transform="translate(273.5 767.5) scale(0.985 1.045)" text-anchor="end">110</text>
<text class="o" x="273.1" y="747.6">°</text>
<text class="s" transform="translate(306.6 767.5) scale(0.985 1.045)">E</text>
<text class="s" transform="translate(477.3 767.5) scale(0.985 1.045)" text-anchor="end">120</text>
<text class="o" x="476.9" y="747.6">°</text>
<text class="s" transform="translate(510.4 767.5) scale(0.985 1.045)">E</text>
<text class="s" transform="translate(681.1 767.5) scale(0.985 1.045)" text-anchor="end">130</text>
<text class="o" x="680.7" y="747.6">°</text>
<text class="s" transform="translate(714.2 767.5) scale(0.985 1.045)">E</text>
<text class="s" transform="translate(884.9 767.5) scale(0.985 1.045)" text-anchor="end">140</text>
<text class="o" x="884.5" y="747.6">°</text>
<text class="s" transform="translate(918 767.5) scale(0.985 1.045)">E</text>
</g>
<text class="p" x="1205.9" y="58.9">(b)</text>
<text class="t" x="1735.7" y="131.8" text-anchor="middle">710.625 cm<tspan class="u" dy="-26.8" dx="1.2" style="font-size:57px">−</tspan><tspan class="u" dy="-2.3" dx="-2.6">1</tspan></text>
<rect x="2098.2" y="142.4" width="65.8" height="542" fill="url(#jet)" stroke="#262626" stroke-width="2.8"/>
<path d="M2164 148.7h-7M2164 269.2h-7M2164 388.5h-7M2164 508.6h-7M2164 628.8h-7" stroke="#262626" stroke-width="2.6" fill="none"/>
<text class="c" x="2184.5" y="166.1">240</text>
<text class="c" x="2184.5" y="286.6">230</text>
<text class="c" x="2184.5" y="405.9">220</text>
<text class="c" x="2184.5" y="526">210</text>
<text class="c" x="2184.5" y="646.2">200</text>
<text class="k" x="2132.6" y="115.5" text-anchor="middle">K</text>
<g transform="translate(0 799.7)">
<rect x="215.9" y="147.3" width="651.2" height="538.6" fill="none" stroke="#262626" stroke-width="11.6"/>
<g class="d" clip-path="url(#ax)"><path stroke="#0000cc" d="M636.9 579h0M629 584.7h0M623.3 607.4h0M656 669.2h0"/>
<path stroke="#0000e6" d="M616.5 554h0M632.4 574.5h0M636.9 574.5h0M632.4 579h0M624.4 584.7h0M604 586.4h0M688.9 588.7h0M679.8 592.6h0M693.5 594.3h0M699.1 594.3h0M679.8 598.3h0M693.5 598.9h0M698.6 598.9h0M557.5 616.5h0M576.7 622.1h0M582.4 622.1h0M655.1 622.1h0M641.4 631.2h0M650.5 631.2h0M655.1 631.2h0M656 631.2h0M572.2 631.8h0M650.2 636.3h0M655.1 636.3h0M688.9 642h0M694 642h0M699.1 642h0M661.7 664.7h0M667.4 669.2h0M656 674.4h0M667.4 674.4h0"/>
<path stroke="#0000ff" d="M625.6 554h0M631.2 569.4h0M635.8 584.7h0M684.4 592.6h0M646 631.2h0"/>
<path stroke="#0019ff" d="M607.4 554h0M617.6 563.7h0M622.2 563.7h0M696.9 564.5h0M609.7 586.4h0M642.6 588.1h0M581.3 597.7h0M587 602.8h0M702.5 604h0M524.5 610.8h0M554 626.7h0M681 631.2h0M562.6 631.8h0M715 632.4h0M674.2 646h0M679.3 646h0M707.1 664.7h0M661.7 674.4h0M854.6 674.4h0M656 678.9h0M854.6 678.9h0M656 682.9h0"/>
<path stroke="#0033ff" d="M650.5 539.3h0M368.1 551.2h0M564.3 558.6h0M622.2 559.1h0M564.3 563.7h0M701.4 564.5h0M705.9 564.5h0M597.2 568.8h0M635.8 569.4h0M704.8 569.4h0M709.7 569.4h0M523.4 573.3h0M715 574.1h0M623.3 579h0M698 583.5h0M702.5 583.5h0M707.1 583.5h0M584.7 584.7h0M613.1 584.7h0M598.3 586.4h0M575.6 588.1h0M696.9 588.7h0M702 588.7h0M707.1 588.7h0M575.6 593.2h0M642.6 593.2h0M704.8 594.3h0M642.6 598.3h0M703.7 598.9h0M575.6 602.8h0M642.6 603.4h0M581.3 607.4h0M587 607.4h0M692.3 612.5h0M660.5 613.1h0M566.5 616.5h0M582.4 617h0M688.9 617h0M704.8 617h0M571.1 622.1h0M656 622.1h0M705.9 622.1h0M710.9 622.1h0M559.2 626.7h0M564.3 626.7h0M678.7 626.7h0M683.8 626.7h0M688.9 626.7h0M715 627.3h0M720.7 627.3h0M216 628.4h0M666.2 631.2h0M671.1 631.2h0M548.1 631.8h0M552.9 631.8h0M557.7 631.8h0M567.4 631.8h0M720.7 632.4h0M640.6 636.3h0M645.4 636.3h0M656 636.3h0M660.5 636.3h0M696.9 635.8h0M702.5 635.8h0M572.2 636.9h0M715 637.5h0M720.7 637.5h0M711.6 641.4h0M684.4 646h0M707.1 646h0M666.2 650.5h0M716.2 655.6h0M717.3 664.7h0M661.7 669.2h0M854.6 669.8h0M652.8 673.8h0M651.7 677.8h0M661.7 678.9h0"/>
<path stroke="#004dff" d="M696.9 559.4h0M701.4 559.4h0M602.9 563.7h0M602.9 568.8h0M608.5 568.8h0M702.5 609.1h0M720.7 642h0M670.8 650.5h0M712.2 664.7h0M667.4 678.9h0"/>
<path stroke="#0066ff" d="M705.9 559.4h0M569.9 563.7h0M719.6 569.4h0M714.5 607.4h0M715.8 611.9h0M533.6 616.5h0M720.7 617h0M725.2 632.4h0M649.4 641.4h0M576.7 646.5h0M582.4 656.8h0M588.1 656.8h0M854.6 659.6h0"/>
<path stroke="#0080ff" d="M644.9 539.3h0M651.7 544.4h0M610.8 548.9h0M616.5 548.9h0M622.2 548.9h0M627.8 548.9h0M655.1 549.5h0M458.1 553.5h0M463.2 553.5h0M564.3 553.5h0M701.4 554.3h0M705.9 554.3h0M715 559.4h0M715 564.5h0M569.9 568.8h0M714.6 569.4h0M641.4 574.5h0M719.6 574.1h0M602.9 578.4h0M641.4 579h0M647.1 579h0M660.5 584.7h0M754.8 585.8h0M542.7 588.1h0M660.5 589.8h0M557.5 592.6h0M660.5 594.9h0M575.6 597.7h0M660.5 600h0M581.3 602.8h0M660.5 605.1h0M709.3 607.4h0M571.1 611.4h0M710.9 611.9h0M571.1 617h0M576.7 617h0M710.1 617h0M715.4 617h0M552.9 621.6h0M715.8 622.1h0M720.7 622.1h0M544.6 626.7h0M549.5 626.7h0M725.2 627.3h0M676.1 631.2h0M533.6 631.8h0M538.4 631.8h0M543.3 631.8h0M576.7 636.3h0M582 636.3h0M592.6 636.3h0M614.2 635.8h0M635.8 636.3h0M675.3 636.3h0M681 636.3h0M566.2 636.9h0M725.2 637.5h0M511.5 640.9h0M576.7 641.4h0M582.4 641.4h0M592.6 641.4h0M613.1 641.4h0M618.7 641.4h0M572.2 642h0M725.2 642.6h0M511.5 646h0M588.1 646.5h0M655.1 646.5h0M725.2 647.5h0M582.4 651.7h0M588.1 651.7h0M473.5 659h0M481.4 659h0M854.6 664.7h0M716.2 669.2h0M849 669.8h0M860.3 669.8h0M849 674.4h0M860.3 674.4h0M661.7 682.9h0"/>
<path stroke="#0099ff" d="M639.2 539.3h0M696.9 554.3h0M569.9 558.6h0M710.5 559.4h0M710.5 564.5h0M641.4 608h0M705.9 611.9h0M587.3 636.3h0M669.6 636.3h0M655.1 641.4h0M582.4 646.5h0M651.7 646.5h0M576.7 651.7h0"/>
<path stroke="#00b2ff" d="M274.5 334.3h0M782 529.3h0M652.8 534.7h0M456.4 538.1h0M465.5 558.6h0M555.2 558.6h0M719.6 559.4h0M513.2 567.7h0M560.9 573.3h0M529.1 577.9h0M538.2 579h0M750.2 579h0M749.6 585.8h0M556.3 587h0M749.1 594.9h0M217.1 600.6h0M542.7 601.7h0M720.7 611.9h0M540.4 616.5h0M225.6 623.3h0M441.7 626.1h0M227.9 628.4h0M231.9 633.5h0M237.6 633.5h0M248.2 633.5h0M253.5 633.5h0M440.5 636.3h0M560.1 636.9h0M729.8 637.5h0M248.9 638.6h0M254.6 638.6h0M549.5 642h0M243.2 643.1h0M464.4 645.4h0M506.4 646h0M566.2 647.1h0M729.8 647.5h0M594.9 650.5h0M566.2 652.2h0M576.7 656.8h0M495 682.3h0M647.1 682.9h0M655.1 682.9h0"/>
<path stroke="#00ccff" d="M217.7 497.8h0M656 534.4h0M782 534.4h0M406.7 536.4h0M663.4 538.7h0M656 548.9h0M660.5 548.9h0M453 553.5h0M710.5 554.3h0M464.4 563.1h0M719.6 564.5h0M508.6 567.7h0M622.2 568.8h0M744.5 569.4h0M450.8 572.2h0M663.9 573.9h0M750.2 574.1h0M450.8 576.2h0M523.4 577.9h0M579 578.4h0M587 578.4h0M593.8 578.4h0M744.5 579h0M750.2 590.9h0M562 592.6h0M542.7 597.2h0M548.4 601.7h0M720.7 601.7h0M719.6 607.4h0M223.4 608.5h0M545 616.5h0M549.5 616.5h0M219.4 618.2h0M219.4 623.3h0M231.9 623.3h0M729.8 627.3h0M222.8 628.4h0M233 628.4h0M441.7 631.2h0M447 631.2h0M729.8 632.4h0M226.2 633.5h0M242.9 633.5h0M445.8 636.3h0M554 636.9h0M237.6 638.6h0M243.2 638.6h0M216 640.3h0M554 642h0M566.2 642h0M729.8 642.6h0M229.9 645.4h0M235.3 645.4h0M458.7 645.4h0M554 647.1h0M560.1 647.1h0M572.2 647.1h0M601.2 650.5h0M607.4 650.5h0M560.1 652.2h0M572.2 652.2h0M729.8 652.6h0M463.2 655.1h0M468.3 655.1h0M572.2 657.3h0M545 662.4h0M582.4 661.9h0M588.1 661.9h0M504.1 672.1h0M716.2 674.4h0M863.7 678.3h0M460.4 681.7h0M490.5 681.7h0M693.5 682.9h0"/>
<path stroke="#00e5ff" d="M400.9 170.2h0M614.8 484.1h0M226.8 487h0M226.8 493.2h0M665.9 529.3h0M671 534.4h0M681 534.4h0M787.7 534.4h0M455.9 534.7h0M461.5 538.1h0M658.3 538.7h0M710.5 539.3h0M558.6 543.8h0M690.5 544.4h0M487.1 548.4h0M501.8 548.4h0M552.9 548.9h0M633.5 548.9h0M650.2 549.5h0M677.6 549.5h0M682.3 549.5h0M687 549.5h0M691.7 549.5h0M701.1 549.5h0M602.9 554h0M460.4 558.6h0M735.5 559.4h0M740 564.5h0M537 569.4h0M613.1 568.8h0M464.4 576.7h0M456.4 579h0M660.5 579h0M725.2 579h0M538.2 586.4h0M456.4 590.9h0M759.3 591.5h0M772.9 607.4h0M518.9 611.9h0M534.8 611.9h0M766.1 613.1h0M539.7 626.7h0M529.1 631.8h0M560.1 642h0M549.5 647.1h0M566.2 657.3h0M588.1 666.4h0"/>
<path stroke="#00ffff" d="M427.7 157.7h0M423.2 164.3h0M464.9 317.2h0M765.5 376.9h0M858.6 425.3h0M231.9 487h0M656 529.3h0M661 529.3h0M670.9 529.3h0M648.3 529.6h0M655.1 529.6h0M661 534.4h0M666 534.4h0M676 534.4h0M686 534.4h0M691 534.4h0M668.5 538.7h0M640.3 544.4h0M646 544.4h0M685.5 544.4h0M695.5 544.4h0M700.5 544.4h0M558.6 548.9h0M696.4 549.5h0M705.8 549.5h0M554 553.5h0M729.8 554.3h0M626.7 559.1h0M450.2 562.6h0M617.6 568.8h0M640.3 569.4h0M725.2 569.4h0M592.6 573.3h0M537 574.5h0M575.6 573.9h0M598.3 578.4h0M456.4 585.8h0M529.1 586.4h0M533.6 586.4h0M530.2 591.5h0M538.2 591.5h0M538.2 599.4h0M768.4 601.7h0M772.9 601.7h0M552.9 606.3h0M768.4 607.4h0M228.5 608.5h0M530.2 611.9h0M552.9 611.9h0M655.1 613.1h0M770.6 613.1h0M725.2 617h0M725.2 622.1h0M758.2 622.1h0M451.1 636.3h0M549.5 636.9h0M351.6 639.2h0M539.3 642h0M544.4 642h0M218.3 645.4h0M544.4 647.1h0M735.5 647.5h0M554 652.2h0M549.5 657.3h0M554 657.3h0M560.1 657.3h0M734.3 657.3h0M734.3 660.7h0M549.5 662.4h0M474.6 664.7h0M479.7 664.7h0M484.8 664.7h0M845.6 664.7h0M643.7 667.5h0M821.7 678.9h0M465.4 681.7h0M707.1 682.9h0M711.6 682.9h0M862.6 682.9h0"/>
<path stroke="#00ffe3" d="M463.2 311h0M453.6 316.4h0M459.8 322.9h0M441.1 333.7h0M446.2 333.7h0M623.3 524.5h0M628.6 524.5h0M633.9 524.5h0M644.5 524.5h0M615.9 528.8h0M680.8 529.3h0M705.9 534.4h0M505.2 539.3h0M783.1 538.7h0M456.4 543.3h0M624 544.4h0M710.5 544.4h0M715.5 544.4h0M720.5 544.4h0M773.5 544.4h0M640.3 549.5h0M710.5 549.5h0M715 549.5h0M724.9 549.5h0M734.7 549.5h0M568.8 553.5h0M583.6 553.5h0M598.3 554h0M631.2 554h0M670.8 554.3h0M535.9 559.1h0M642.6 559.1h0M535.9 564.3h0M575.6 563.7h0M725.2 564.5h0M663.9 569.4h0M508.6 572.8h0M646.6 574.5h0M734.3 574.1h0M800.7 574.1h0M479.7 577.3h0M734.3 579h0M744.5 585.8h0M809.2 587h0M768.4 591.5h0M749.1 600.6h0M827.4 607.4h0M832.7 607.4h0M524.5 616.5h0M520 621.6h0M730.3 622.1h0M779.7 622.1h0M447 626.1h0M452.3 626.1h0M632.4 626.7h0M779.7 627.3h0M776.3 631.8h0M259.1 633.5h0M456.4 636.3h0M544.4 636.9h0M785.4 636.9h0M822.9 642h0M735.5 642.6h0M435.1 644.3h0M516.6 646h0M436 646.5h0M545 652.2h0M473.5 655.1h0M545 657.3h0M493.9 659.6h0M506.4 660.7h0M572.2 662.4h0M576.7 661.9h0M860.3 664.7h0M460.4 665.8h0M465.5 665.8h0M582.4 666.4h0M506.4 671h0M821.7 674.4h0M464.4 676.6h0M226.2 680.6h0M470.4 681.7h0M480.5 681.7h0M633.5 682.9h0M817.2 682.9h0"/>
<path stroke="#00ffc8" d="M415.5 150h0M445.6 150.3h0M411.8 164.3h0M417.5 164.3h0M468.9 311h0M224.5 322.1h0M230.5 322.1h0M219.4 328.6h0M435.1 338.9h0M276.2 341.1h0M440.5 340.6h0M766.1 365.5h0M770.6 365.5h0M765.5 371.2h0M770.6 376.9h0M755.3 387.7h0M760.4 387.7h0M629 478.5h0M633.9 478.5h0M238.1 488.1h0M656 524.2h0M660.9 524.2h0M665.8 524.2h0M440.5 524.5h0M639.2 524.5h0M649.8 524.5h0M655.1 524.5h0M675.8 529.3h0M685.7 529.3h0M690.7 529.3h0M695.6 529.3h0M700.6 529.3h0M705.5 529.3h0M710.5 529.3h0M441.7 529.6h0M696 534.4h0M700.9 534.4h0M710.5 534.4h0M792.2 534.4h0M450.8 534.7h0M552.9 538.7h0M557.5 538.7h0M629 538.7h0M715.5 539.3h0M720.5 539.3h0M725.5 539.3h0M791.1 538.7h0M412.4 541.6h0M416.9 541.6h0M552.9 543.8h0M598.3 543.8h0M614.2 544.4h0M619.1 544.4h0M629 544.4h0M634.6 544.4h0M705.5 544.4h0M725.5 544.4h0M730.5 544.4h0M768.4 544.4h0M778.6 544.4h0M403.3 546.7h0M409 546.7h0M583.6 548.9h0M598.3 548.9h0M645.2 549.5h0M719.9 549.5h0M729.8 549.5h0M419.2 552.3h0M656 554.3h0M660.9 554.3h0M665.8 554.3h0M715 554.3h0M719.6 554.3h0M735.5 554.3h0M580.2 558.6h0M637.3 559.1h0M740 559.4h0M663.9 559.7h0M581.3 563.7h0M646 564.3h0M651.7 564.3h0M744.5 564.5h0M663.9 564.8h0M575.6 568.8h0M580.2 568.8h0M646 569.4h0M651.7 569.4h0M749.1 569.4h0M617.6 573.9h0M740 574.1h0M754.8 574.1h0M805.5 574.1h0M609.7 578.4h0M754.8 579h0M800.2 579h0M805.1 579h0M810 579h0M725.2 584.1h0M794.5 584.7h0M763.8 591.5h0M725.2 594.9h0M763.8 596.6h0M768.4 596.6h0M772.9 596.6h0M504.1 607.4h0M508.6 607.4h0M529.1 607.4h0M838 607.4h0M725.2 611.9h0M749.1 611.9h0M829.7 611.9h0M834.6 611.9h0M520 616.5h0M730.3 617h0M749.1 617h0M780.3 617h0M838.7 617h0M844.4 617h0M225.1 618.2h0M636.9 621h0M524.5 621.6h0M749.1 622.1h0M457.6 626.1h0M867.1 625.5h0M534.8 626.7h0M637.5 626.7h0M642.6 626.7h0M735.5 627.3h0M864.9 630.1h0M452.3 631.2h0M524.5 631.8h0M735.5 632.4h0M539.3 636.9h0M735.5 637.5h0M260.3 638.6h0M436 641.4h0M446.2 641.4h0M506.4 640.9h0M624.4 641.4h0M629 641.4h0M780.9 642h0M261.4 643.1h0M440.9 646.5h0M450.8 646.5h0M539.3 647.1h0M648.3 646.5h0M780.9 647.1h0M822.9 647.1h0M441.1 651.7h0M446.2 651.7h0M451.3 651.7h0M540.4 652.2h0M549.5 652.2h0M648.3 651.7h0M785.4 652.2h0M789.9 652.2h0M735.5 652.6h0M850.1 652.6h0M456.4 656.8h0M540.4 657.3h0M789.9 657.3h0M450.8 661.9h0M563.1 662.4h0M489.9 664.7h0M495 664.7h0M455.3 665.8h0M576.7 666.4h0M572.2 667.5h0M432.8 677.2h0M473.5 676.6h0M450.8 677.8h0M475.4 681.7h0M485.5 681.7h0M508.6 682.9h0M853.5 682.9h0"/>
<path stroke="#00ffac" d="M394.8 170.2h0M270.2 341.1h0M787.1 529.3h0M634.6 538.7h0M735.5 544.4h0M742.3 554.3h0M632 559.1h0M759.3 584.7h0M725.2 589.8h0M844.4 611.9h0M842.2 636.9h0M850.1 655.1h0M648.3 656.8h0M455.3 671h0"/>
<path stroke="#00ff75" d="M475.2 231.3h0M867.7 289.4h0M407.8 338.6h0M750.2 393.3h0M750.2 399h0M755.3 399h0M347.7 432.5h0M638.8 478.5h0M626.3 518.9h0M631.2 518.9h0M636.2 518.9h0M715 529.3h0M548.4 534.2h0M715.5 534.4h0M819.5 538.7h0M545 543.8h0M568.5 548.9h0M373.2 551.2h0M535.9 553.5h0M644.9 554h0M655.1 554h0M513.2 572.8h0M786.5 574.1h0M796 574.1h0M468.9 576.7h0M442.8 579h0M740 579h0M758.2 579h0M814.9 579h0M819.5 579h0M450.8 585.8h0M524.5 586.4h0M489.3 591.5h0M744.5 590.9h0M779.7 591.5h0M216 595.5h0M525.7 596h0M785.4 597.2h0M828.5 602.3h0M833.1 602.3h0M735.5 611.9h0M775.2 611.9h0M735.5 617h0M818.3 617h0M762.7 622.1h0M237 623.3h0M753.6 627.3h0M785.4 627.3h0M294.3 629h0M753.6 632.4h0M824 632.4h0M824 636.9h0M850.1 637.5h0M441.1 641.4h0M456.4 641.4h0M468.3 640.9h0M534.8 642h0M785.4 642h0M426 644.3h0M430.5 644.3h0M492.8 645.4h0M785.4 647.1h0M842.2 647.5h0M436 651.7h0M456.4 651.7h0M769.5 656.2h0M794.5 657.3h0M860.3 659.6h0M510.9 660.7h0M643.7 660.7h0M774 661.3h0M771.3 665.8h0M780.9 665.8h0M549.5 667.5h0M497.3 668.7h0M602.5 668.7h0M780.9 670.4h0M638 673.8h0M506.4 676.6h0M740 678.9h0M849 678.9h0"/>
<path stroke="#42ff50" d="M421.7 150h0M433.9 150h0M438.8 150.3h0M463.2 158.9h0M867.1 283.7h0M467.8 299.4h0M468 305.3h0M793.3 313.8h0M281.8 318.9h0M756.6 319.5h0M761.9 319.5h0M793.3 319.5h0M471.8 323.4h0M283.2 324h0M295 324h0M787.7 325.1h0M423.7 333.2h0M429.6 338.9h0M797.9 342.3h0M751.3 342.8h0M378.3 348.8h0M399.3 350.2h0M307.1 359.8h0M312.6 359.8h0M362.6 360.6h0M368 360.6h0M755.3 372.9h0M755.3 376.9h0M760.4 382h0M755.9 393.3h0M398.7 417.2h0M403.9 417.2h0M638.2 462.6h0M643.3 468h0M648.3 468h0M715.6 473.4h0M619.3 488.7h0M638.6 488.9h0M643.5 488.9h0M648.4 488.9h0M653.4 488.9h0M596 493.8h0M614.8 494.1h0M605.1 498.7h0M218.3 502.9h0M586.4 504h0M591.3 504h0M601 504h0M625 504h0M631.2 509.2h0M651.7 514.3h0M816 514h0M573.3 518.9h0M616.5 518.9h0M621.4 518.9h0M641.1 518.9h0M646 518.9h0M661.7 519.1h0M602.9 524h0M608.5 524h0M670.8 524.2h0M675.7 524.2h0M680.6 524.2h0M685.5 524.2h0M690.4 524.2h0M695.3 524.2h0M700.3 524.2h0M705.2 524.2h0M445.6 524.5h0M792.2 529.3h0M557.5 534.2h0M562.6 534.2h0M505.2 534.7h0M730.5 539.3h0M735.5 539.3h0M763.2 538.7h0M768.1 538.7h0M773.1 538.7h0M778.1 538.7h0M824 538.7h0M485.9 543.8h0M515.5 543.8h0M740 544.4h0M428.3 546.7h0M516 548.9h0M739.6 549.5h0M744.5 549.5h0M357.9 550.6h0M749.1 554.3h0M487.5 558.6h0M505.2 558.6h0M516.6 558.6h0M574.5 558.6h0M749.1 559.4h0M640.3 564.3h0M749.1 564.5h0M473.5 567.7h0M479.1 567.7h0M753.6 569.4h0M470.1 572.2h0M479.1 572.8h0M517.7 572.8h0M608.5 573.9h0M651.7 574.5h0M791.3 574.1h0M810.2 574.1h0M814.9 574.1h0M440.5 576.2h0M445.6 576.2h0M474.6 577.3h0M495 577.3h0M777.5 578.4h0M782 578.4h0M449.6 579h0M351.6 580.1h0M446.2 585.8h0M779.7 585.8h0M784.3 585.8h0M786.5 591.5h0M810 592.1h0M814.9 592.1h0M824 592.1h0M655.1 593.8h0M744.5 595.5h0M451.5 596h0M456.4 596h0M818.3 597.7h0M725.2 600.6h0M729.8 600.6h0M223.4 605.7h0M725.2 606.3h0M730.3 606.3h0M744.5 607.4h0M843.3 607.4h0M507.5 611.9h0M730.3 611.9h0M839.5 611.9h0M744.5 617h0M775.2 617h0M849 617h0M856.9 617h0M230.8 618.2h0M385.1 620.4h0M534.8 622.1h0M539.3 622.1h0M735.5 622.1h0M784.8 622.1h0M824 622.1h0M828.5 622.1h0M839.9 622.1h0M376 624.4h0M520 626.1h0M525.1 626.1h0M749.1 627.3h0M762.7 627.3h0M824 627.3h0M237.6 628.4h0M457.6 631.2h0M762.7 632.4h0M850.1 632.4h0M473.5 635.8h0M864.9 635.8h0M525.7 636.9h0M534.8 636.9h0M749.1 637.5h0M753.6 637.5h0M830 636.9h0M451.3 641.4h0M463.2 640.9h0M473.5 640.9h0M633.5 641.4h0M525.7 642h0M842.2 642h0M497.3 645.4h0M483.7 646h0M445.8 646.5h0M534.8 647.1h0M753.6 647.5h0M758.2 647.5h0M429.4 649.4h0M435.1 649.4h0M217.1 650.5h0M222.4 650.5h0M233 650.5h0M822.9 652.2h0M753.6 652.6h0M758.2 652.6h0M429.4 654.5h0M435.1 654.5h0M753.6 656.2h0M758.9 656.2h0M764.2 656.2h0M839.9 655.6h0M436 656.8h0M441.1 656.8h0M446.2 656.8h0M435.1 659h0M757.9 661.3h0M763.3 661.3h0M768.7 661.3h0M440.9 661.9h0M445.8 661.9h0M830.8 664.7h0M334 666.4h0M446.2 666.4h0M506.4 665.8h0M510.9 665.8h0M761.8 665.8h0M766.6 665.8h0M776.1 665.8h0M563.1 667.5h0M592.6 668.7h0M597.6 668.7h0M761.9 670.4h0M766.7 670.4h0M771.4 670.4h0M776.1 670.4h0M510.9 671h0M817.2 674.4h0M839.9 674.4h0M222.8 675.7h0M349.9 676.6h0M510.9 676.6h0M826.3 682.9h0"/>
<path stroke="#86ff2b" d="M406.9 170.2h0M412.9 170.2h0M533 264.4h0M290.5 282.6h0M684.4 313.8h0M289.1 324h0M393.9 350.2h0M775.8 382h0M353 432.5h0M243.6 488.1h0M639.2 499.5h0M625.6 509.2h0M625.6 514.3h0M641.2 514.3h0M646.4 514.3h0M666.2 514h0M676.1 514h0M778.6 514h0M666.6 519.1h0M676.4 519.1h0M681.3 519.1h0M710.1 524.2h0M436 529.6h0M500.1 529.6h0M758.7 534.4h0M763.8 534.4h0M796.7 534.4h0M763.8 544.4h0M393.6 546.1h0M744.5 559.4h0M517.7 563.7h0M753.6 564.5h0M801.3 569.4h0M758.2 574.1h0M651.7 579.6h0M763.8 584.7h0M451.3 590.9h0M744.5 600.6h0M795.6 602.3h0M499.6 606.3h0M384 615.3h0M433.9 621h0M744.5 622.1h0M844.4 622.1h0M744.5 627.3h0M749.1 632.4h0M771.8 631.8h0M396.5 634.6h0M771.8 636.9h0M836.1 636.9h0M835.9 642h0M850.1 642.6h0M224.5 645.4h0M478.8 646h0M245.5 646.5h0M789.9 647.1h0M818.3 647.1h0M423.7 649.4h0M794.5 652.2h0M799 652.2h0M451.3 656.8h0M744.5 656.8h0M515.5 660.7h0M441.1 666.4h0M545 667.5h0M468.9 668.7h0M489.3 668.7h0M638 677.8h0M794.5 678.9h0M283 680.6h0M738.9 682.9h0"/>
<path stroke="#bbff0d" d="M222.8 170.8h0M496.2 186.7h0M556.9 220.5h0M867.1 295.6h0M236.4 322.1h0M808.7 330.3h0M766.7 337.1h0M402.4 338.6h0M326.7 342.8h0M393.1 344.5h0M775.8 393.3h0M662.2 463.1h0M672.5 478.5h0M661.1 483.6h0M644.3 499.5h0M649.4 499.5h0M596.2 504h0M640.3 504h0M529.1 513.2h0M671.2 514h0M671.5 519.1h0M597.7 524h0M720.1 529.3h0M435.1 531.9h0M725.5 534.4h0M572.6 539.3h0M451.5 543.3h0M510.9 548.9h0M773.5 549.5h0M778.6 549.5h0M423.7 552.3h0M516 553.5h0M574.5 553.5h0M795.6 554.3h0M358.5 555.7h0M753.6 559.4h0M473.5 563.1h0M478 563.1h0M768.8 564.5h0M805.8 564.5h0M758.7 569.4h0M763.8 569.4h0M834.2 569.4h0M838.7 569.4h0M768.4 584.7h0M216 589.2h0M301.1 590.4h0M740 590.4h0M524.5 591.5h0M740 595.5h0M464.4 597.2h0M729.8 597.2h0M740 600.6h0M216 605.7h0M735.5 606.3h0M777.5 607.4h0M780.9 611.9h0M786.5 611.9h0M817.2 611.9h0M785.4 617h0M428.3 621h0M441.4 621h0M481.4 621h0M642.6 621h0M355.6 624.4h0M481.4 626.1h0M530.2 626.1h0M771.8 626.7h0M818.3 632.4h0M426 634.6h0M468.3 635.8h0M426 639.7h0M516.6 640.9h0M530.2 642h0M818.3 642h0M829.7 642h0M749.1 642.6h0M753.6 642.6h0M468.9 646h0M740 646.5h0M744.5 646.5h0M749.1 647.5h0M850.1 647.5h0M227.7 650.5h0M251.2 652.2h0M740 651.7h0M827.4 651.7h0M423.7 654.5h0M740 656.8h0M799 657.3h0M428.8 659h0M752.5 661.3h0M436 661.9h0M435.1 664.1h0M740 664.7h0M839.9 664.7h0M515.5 665.8h0M482.5 668.7h0M607.4 668.7h0M794.5 668.7h0M740 669.8h0M803.6 669.8h0M835.3 669.8h0M325 671.5h0M577.9 672.1h0M572.2 672.7h0M794.5 673.8h0M740 674.9h0M762.7 674.9h0M768.4 674.9h0M227.4 675.7h0M808.1 678.3h0M812.6 678.3h0M761.6 678.9h0M766.1 678.9h0M231.9 680.6h0M289.8 680.6h0"/>
<path stroke="#ddff06" d="M535.3 226h0M528.5 276h0M277.3 324h0M340.3 325.1h0M374.9 332h0M317.6 353.8h0M363.6 372.3h0M740.6 399h0M384 427.2h0M294.3 435.9h0M629 472.8h0M648.4 484.1h0M695.7 498.9h0M750.8 498.7h0M655.1 509.2h0M445.6 519.4h0M720.5 534.4h0M807 534.4h0M567.3 539.3h0M758.2 538.7h0M393.8 551.2h0M510.9 553.5h0M526.8 563.7h0M758.2 564.5h0M800.7 564.5h0M844.4 564.5h0M772.9 591.5h0M828.9 592.1h0M828.5 597.7h0M789.9 622.1h0M771.8 642h0M436 666.4h0M757 665.8h0M475.7 668.7h0M549.5 672.7h0M515.5 676.6h0M354.5 680.6h0M761.6 681.2h0M797.9 682.9h0M812.6 682.9h0"/>
<path stroke="#ffff00" d="M427.8 150h0M469.2 158.9h0M573.3 161.1h0M579 168.2h0M430 170.8h0M435.1 170.8h0M481.4 199.1h0M550.6 213.9h0M431.1 236.6h0M471.8 257h0M495 263.8h0M463.8 275.2h0M469.5 275.2h0M495.6 275.8h0M503 282h0M503.8 288.2h0M862.6 289.4h0M269.9 293.9h0M483.1 294.2h0M483.7 299h0M694.2 301.9h0M867.1 301.9h0M462.5 305.3h0M694.6 308.5h0M679 313.8h0M448.5 316.4h0M767.2 319.5h0M427.8 322.3h0M433.4 322.3h0M793.3 325.1h0M407.8 332.9h0M268.5 334.3h0M336.9 337.1h0M761.6 337.1h0M397 338.6h0M424.1 338.9h0M854.1 342.3h0M332.3 342.8h0M398.7 344.5h0M431.7 345.1h0M437.1 345.7h0M367 348.5h0M426.8 350.8h0M432.2 350.8h0M328.4 354.5h0M367 354.7h0M357.2 360.6h0M735.5 365.5h0M780.9 365.5h0M786 365.5h0M791.1 365.5h0M755.9 382h0M413.8 411.7h0M854.1 420h0M394.8 428h0M358.3 432.5h0M379.6 432.5h0M643 462.6h0M633.5 472.8h0M710.5 473.4h0M720.7 473.4h0M230.8 481.6h0M643.5 484.1h0M653.4 484.1h0M624.1 488.7h0M629 488.7h0M657.7 488.7h0M774 488.7h0M239.8 498.3h0M685.8 498.9h0M768.4 498.7h0M605.9 504h0M656 504h0M650 509.2h0M666.2 509.2h0M670.9 509.2h0M812.6 509.2h0M681.1 514h0M686 514h0M705.8 514h0M686.3 519.1h0M696.1 519.1h0M745.1 519.1h0M750.2 519.1h0M783.1 519.1h0M778.6 524.2h0M783.1 524.2h0M500.1 525.1h0M725.2 529.3h0M730.3 529.3h0M735.5 529.3h0M430.5 531.9h0M567.7 534.2h0M735.5 534.4h0M753.6 534.4h0M819.5 534.4h0M495 534.7h0M562 539.3h0M740 539.3h0M568.8 543.8h0M758.2 544.4h0M801.3 544.4h0M829.7 544.4h0M461.5 548.4h0M573.9 548.9h0M753.6 554.3h0M772.9 554.3h0M829.7 554.3h0M353.3 555.7h0M521.1 558.6h0M655.1 559.1h0M795.6 559.4h0M800.7 559.4h0M805.8 559.4h0M858 559.4h0M499.6 563.7h0M635.8 564.3h0M773.7 564.5h0M795.6 564.5h0M810.9 564.5h0M776.3 569.4h0M782 569.4h0M810.4 569.4h0M361.3 570.5h0M436 570.5h0M464.4 572.2h0M474.6 572.8h0M763.8 574.1h0M819.5 574.1h0M436 579h0M763.8 579h0M504.7 587h0M509.8 587h0M358.3 590.9h0M504.1 592.1h0M509.8 592.1h0M800.2 592.1h0M446.6 596h0M813.2 597.7h0M818.3 602.8h0M441.7 606.3h0M849 607.4h0M217.1 608.5h0M234.2 608.5h0M849 611.9h0M223.9 613.6h0M347.7 614.8h0M353 614.8h0M359 619.9h0M446.8 621h0M457.6 621h0M490.5 621h0M509.8 621.6h0M812.6 622.1h0M850.1 622.1h0M365.8 624.4h0M515.5 626.1h0M789.9 627.3h0M818.3 627.3h0M850.1 627.3h0M789.9 632.4h0M376 634.4h0M813.8 636.9h0M402.2 639.7h0M402.2 644.3h0M473.8 646h0M530.2 647.1h0M794.5 647.1h0M813.8 647.1h0M836.5 647.1h0M418 649.4h0M468.9 650.5h0M484.2 650.5h0M744.5 651.7h0M803.6 652.2h0M813.8 652.2h0M412.4 654.5h0M418 654.5h0M821.7 655.6h0M827.4 655.6h0M833.1 655.6h0M803.6 657.3h0M422.6 659h0M808.1 659.6h0M835.3 660.2h0M422.6 664.1h0M428.8 664.1h0M808.1 664.7h0M835.3 664.7h0M339.2 666.4h0M752.5 665.8h0M752.5 670.4h0M757.2 670.4h0M812.6 669.8h0M515.5 671h0M338.6 671.5h0M583.6 672.1h0M545 672.7h0M567.7 672.7h0M233 675.7h0M325 676.1h0M330.1 676.1h0M354.5 676.6h0M564.3 677.8h0M579 677.8h0M744.5 678.9h0M799 678.9h0M309.1 680.6h0M364.7 680.6h0M373.8 681.2h0M378.9 681.2h0M384 681.2h0M409 681.2h0M573.9 681.2h0M579 681.2h0M844.4 682.9h0"/>
<path stroke="#ffe500" d="M218.3 156.6h0M579 161.1h0M584.7 161.1h0M584.7 168.2h0M437.1 171.9h0M580.2 174.5h0M570.5 187.8h0M465.5 244.2h0M495.6 255.3h0M472.9 263.8h0M463.2 269h0M508.6 282h0M416.3 286h0M688.9 301.9h0M402.4 304.1h0M855.8 307.8h0M866.6 308.1h0M280.7 312.7h0M803.6 313.8h0M855.8 313.8h0M803.6 319.5h0M339.2 320h0M782 330.9h0M396.5 332.9h0M264.2 341.1h0M318.2 359.8h0M755.9 360.2h0M761 360.2h0M403 411.7h0M408.4 411.7h0M656 463.1h0M648.3 473.4h0M715.4 484.1h0M720.7 484.1h0M249.1 488.1h0M698.6 493.8h0M703.7 493.8h0M675.9 498.9h0M680.8 498.9h0M745.7 498.7h0M755.9 498.7h0M661.9 504h0M556.9 509.2h0M630.8 514.3h0M636 514.3h0M691.2 519.1h0M778.6 519.1h0M715 524.2h0M542.7 534.2h0M730.5 534.4h0M801.3 534.4h0M446.8 534.7h0M396.5 535.9h0M422 541.6h0M744.5 544.4h0M368.1 545.5h0M433.9 546.7h0M481.4 548.4h0M563.1 548.9h0M768.4 549.5h0M795.6 548.9h0M768.4 554.3h0M801.3 554.3h0M363.6 555.7h0M473.5 557.4h0M656 559.4h0M758.7 559.4h0M763.8 559.4h0M834.2 559.4h0M839.1 559.4h0M844 559.4h0M763.8 564.5h0M778.6 564.5h0M816 564.5h0M829.7 564.5h0M464.4 567.1h0M805.8 569.4h0M829.7 569.4h0M734.3 585.8h0M824 587h0M446.2 590.9h0M805.1 592.1h0M468.9 597.2h0M223.4 600.6h0M457.6 601.1h0M782 607.4h0M464.4 610.8h0M860.3 611.9h0M491.6 615.9h0M236.4 618.2h0M436 621h0M813.2 627.3h0M246.6 628.4h0M482.5 631.2h0M859.2 631.2h0M530.2 636.9h0M396.5 639.7h0M813.8 642h0M489.3 650.5h0M530.2 652.2h0M830.8 660.2h0M808.1 669.8h0M830.8 669.8h0M844.4 674.4h0M757 674.9h0M559.7 677.8h0M844.4 678.9h0M568.8 681.2h0M868.3 682.9h0"/>
<path stroke="#ffcc00" d="M248.3 150h0M220.5 163.4h0M555.8 167.9h0M495.6 179.8h0M670.2 196.1h0M466.1 212.2h0M495 219h0M485.4 225.3h0M508.1 225.8h0M514.3 232.4h0M548.4 245.7h0M493.9 250.8h0M630.7 258.5h0M462.1 262.7h0M688.3 271.2h0M688.7 278h0M480.8 281.2h0M278.4 282.6h0M482.5 287.7h0M401.9 297.9h0M462.1 299.4h0M484.8 305.8h0M293.8 318.9h0M679.6 319.5h0M422.3 322.3h0M860.3 325.1h0M412.4 326.3h0M386.1 327.8h0M369.2 332h0M221.1 334.3h0M387.4 344.5h0M437.7 356.4h0M745.7 360.2h0M750.8 360.2h0M766.1 360.2h0M776.3 360.2h0M512 368.9h0M796.2 371.2h0M499 391.3h0M745.7 399h0M484.8 407.9h0M863.7 425.3h0M374.3 432.5h0M853.5 435.9h0M633.3 462.6h0M647.9 462.6h0M652.8 462.6h0M668.5 463.1h0M633.5 468h0M638.4 468h0M690.5 468.2h0M667.4 478.5h0M725.2 479h0M638.6 484.1h0M254.6 488.1h0M678.5 493.8h0M693.6 493.8h0M250.6 498.3h0M661 498.9h0M665.9 498.9h0M670.9 498.9h0M690.8 498.9h0M667.8 504h0M679.6 504h0M715.6 504h0M720.7 504h0M841 504h0M564.3 509.2h0M594.9 509.2h0M644.9 509.2h0M675.7 509.2h0M689.9 509.2h0M694.6 509.2h0M700.8 514h0M710.7 514h0M701 519.1h0M705.9 519.1h0M715.8 519.1h0M740 519.1h0M774 519.1h0M475.7 520h0M730.2 524.2h0M787.7 524.2h0M426 526.2h0M401.6 531.3h0M740 534.4h0M744.5 539.3h0M391.9 541h0M505.2 543.8h0M563.1 543.8h0M807 544.4h0M521.1 548.9h0M816.6 549.5h0M487.5 553.5h0M492.4 553.5h0M521.1 553.5h0M834.2 554.3h0M810.4 559.4h0M343.7 560.6h0M338.6 566h0M344.3 566h0M410.1 566.5h0M430.5 566.5h0M483.7 567.7h0M838.7 574.1h0M484.8 577.3h0M499.6 587h0M860.3 587h0M867.1 588.1h0M867.1 592.6h0M306.8 595.5h0M777.5 597.7h0M833.1 597.7h0M447 601.1h0M452.3 601.1h0M453 606.3h0M854.6 611.9h0M379.5 614.8h0M465.5 615.3h0M505.2 617h0M452.2 621h0M475.7 621h0M818.3 622.1h0M395.3 625.5h0M794.5 627.3h0M256.9 628.4h0M376 629.5h0M409 630.1h0M386.3 634.6h0M390.8 634.6h0M411.8 634.6h0M463.2 635.8h0M483.7 635.8h0M789.9 636.9h0M485.9 640.3h0M794.5 642h0M392.5 649.4h0M412.4 649.4h0M535.9 652.2h0M534.8 657.3h0M418 657.9h0M230.8 661.3h0M236.4 661.3h0M318.2 662.4h0M535.9 662.4h0M344.3 666.4h0M373.8 667.5h0M616.5 669.2h0M821.7 669.2h0M839.9 669.8h0M520 671h0M410.5 672.7h0M417.7 672.7h0M424.9 672.7h0M624.4 674.4h0M545 677.8h0M314.3 680.6h0M335 680.6h0M340.2 680.6h0M345.4 680.6h0M359.6 680.6h0M543.8 681.7h0M527.9 682.9h0M808.1 682.9h0M830.8 682.9h0"/>
<path stroke="#ffb300" d="M596 153.7h0M601.2 153.7h0M224.8 156.6h0M237.9 156.6h0M239.8 163.4h0M265.4 163.4h0M453 165.7h0M235.9 170.8h0M414.5 177.2h0M221.1 184.4h0M256.9 198h0M545 213.9h0M572.2 213.9h0M529.6 226h0M480.8 231.3h0M481.4 238.3h0M805.3 271.2h0M458.1 275.2h0M683.4 278h0M453.6 281.2h0M459 281.2h0M475.4 281.2h0M284.5 282.6h0M529.6 282.6h0M292 288.2h0M477.1 287.7h0M498.4 288.2h0M509.2 288.2h0M825.2 289.4h0M683.4 296h0M704.6 296h0M709.9 296h0M265.9 300.2h0M637.5 308.1h0M643 308.1h0M673.6 313.8h0M866 313.8h0M223.1 316.1h0M229.1 316.1h0M674.4 319.5h0M684.9 319.5h0M860.9 319.5h0M344.8 320h0M265.9 324h0M679.6 325.5h0M855 325.1h0M787.7 330.9h0M402.2 332.9h0M741.1 337.1h0M746.2 337.1h0M756.5 337.1h0M388.5 350.2h0M761.6 354.2h0M361.9 354.7h0M388.5 355.9h0M704.8 365.5h0M730.3 365.5h0M750.2 371.2h0M775.8 371.2h0M735.5 376.5h0M725.8 382.6h0M450.8 418.3h0M384.9 432.5h0M431.7 433.6h0M322.1 437h0M327.5 437h0M272.8 440.8h0M680.4 452.1h0M695.5 468.2h0M613.6 473.4h0M653.4 473.4h0M725.2 473.4h0M599.5 478.2h0M704.8 484.1h0M710.1 484.1h0M805.8 483.9h0M788.2 488.7h0M648.8 494.1h0M683.6 493.8h0M673.7 504h0M685.5 504h0M606.3 509.2h0M680.4 509.2h0M685.1 509.2h0M715.7 514h0M783.1 514h0M440.5 519.4h0M710.9 519.1h0M730.5 519.1h0M820.6 519.1h0M735.5 524.2h0M796.7 529.3h0M426 531.9h0M572.8 534.2h0M824 534.4h0M441.4 534.7h0M520 539.3h0M753.6 539.3h0M481.4 539.8h0M427.1 541.6h0M460.4 543.8h0M373.8 545.5h0M763.8 549.5h0M821.7 549.5h0M473.5 553.5h0M839.2 554.3h0M844.2 554.3h0M849.2 554.3h0M504.1 563.7h0M867.1 565.4h0M425.4 566.5h0M814.9 569.4h0M484.8 572.8h0M833.1 579h0M431.7 581.3h0M851.2 587h0M294.9 599.4h0M489.3 601.1h0M228.5 605.7h0M447.4 606.3h0M813.8 607.4h0M364.7 619.9h0M389.7 620.4h0M400.4 625.5h0M800.2 627.3h0M300 629h0M351.1 629.5h0M385.1 630.1h0M390.8 630.1h0M365.8 634.1h0M406.7 634.6h0M789.9 642h0M270.5 643.1h0M356.7 643.7h0M406.7 649.4h0M245.5 652.2h0M832.5 651.7h0M837.6 651.7h0M406.7 654.5h0M854.6 655.1h0M859.2 655.1h0M353.3 657.9h0M388.5 657.9h0M378.3 662.4h0M624.4 668.7h0M243.2 671h0M344.3 671.5h0M630.1 674.4h0M320.4 675.7h0M335.2 676.1h0M360.2 676.6h0M554 677.8h0M573.9 677.8h0M839.9 678.9h0M237.6 680.6h0M548.9 681.7h0M554 681.7h0M559.2 681.7h0M564.3 681.7h0"/>
<path stroke="#ff9900" d="M241.8 150h0M409.4 150h0M231.3 156.6h0M244.4 156.6h0M250.9 156.6h0M233.4 163.4h0M278 163.4h0M408.5 177.2h0M263.7 179.1h0M552.3 181h0M580.7 181h0M591.5 181.6h0M698 182.1h0M227.4 184.4h0M593.2 188.1h0M570.5 194.6h0M687.2 196.1h0M475.7 199.1h0M471.2 206.3h0M456.4 219h0M489.9 219h0M682.7 221.8h0M479.7 225.3h0M524 226h0M508.6 232.4h0M483.7 257h0M456.4 262.7h0M805.3 265h0M446.2 269h0M457.6 269h0M608.5 271.5h0M475.2 275.2h0M271.1 276.3h0M625 277.5h0M426.6 279.7h0M464.5 281.2h0M469.9 281.2h0M296.6 282.6h0M862.6 283.1h0M615.3 283.7h0M625 283.7h0M678.1 283.7h0M699 283.7h0M836.5 283.7h0M819.9 289.4h0M498.4 294.5h0M615.9 295.6h0M688.7 296h0M699.3 296h0M803.6 295.6h0M407.3 297.9h0M510.3 300.2h0M856.3 301.3h0M643.2 301.9h0M668.5 301.9h0M699.5 301.9h0M704.7 301.9h0M710 301.9h0M809.2 301.6h0M408 304.1h0M267.1 305.3h0M278.4 306.4h0M648.4 308.1h0M746.2 308.1h0M778 308.1h0M793.3 308.1h0M803.6 307.8h0M814.2 307.8h0M824.7 307.8h0M341.4 308.7h0M473.5 311h0M263.1 311.5h0M338 314.4h0M808.7 313.8h0M834.8 313.8h0M299.7 318.9h0M628.4 318.9h0M633.5 318.9h0M654.5 318.9h0M669.1 319.5h0M855.6 319.5h0M395.3 320.6h0M416.8 322.3h0M438.3 322.9h0M628.4 324.6h0M384.9 326.3h0M390.4 326.3h0M380.6 327.8h0M391.6 327.8h0M335.8 331.5h0M341.4 331.5h0M776.9 336h0M854.6 336h0M342.6 337.1h0M418.6 338.9h0M613.1 342.3h0M776.9 342.3h0M338 342.8h0M426 345.1h0M525.7 347.7h0M735.5 348.5h0M741.1 348.5h0M447.9 350.8h0M766.7 354.2h0M394.2 355.9h0M442.8 356.4h0M435.6 357h0M351.7 360.6h0M389.7 361.6h0M379.5 366.7h0M724.1 371.2h0M735.5 371.2h0M740.4 371.2h0M770.6 371.2h0M780.9 371.2h0M502.4 375.2h0M685.5 382h0M720.7 382.6h0M478.6 390.8h0M866.6 399h0M437.7 401.3h0M730.6 404.1h0M740.6 404.1h0M745.7 404.1h0M397.6 411.7h0M439.4 412.6h0M434.5 417.7h0M440.5 418.3h0M455.9 418.3h0M329.5 420.8h0M414.6 422.3h0M430.5 422.3h0M441.1 423.8h0M297.9 425.7h0M431.7 428h0M248.9 429.4h0M298.3 431h0M310.2 431h0M848.4 430.8h0M363.6 432.5h0M369 432.5h0M390.2 432.5h0M441.7 434.2h0M283.5 435.9h0M288.9 435.9h0M332.9 437h0M375.1 437.4h0M411.8 439.3h0M267.1 440.8h0M401.6 448.4h0M402.2 453.7h0M661.7 457.5h0M628.4 462.6h0M704.1 462.6h0M866 467.1h0M623.9 468h0M680.4 468.2h0M685.4 468.2h0M700.6 468.2h0M705.6 468.2h0M710.7 468.2h0M715.7 468.2h0M618.7 473.4h0M594.3 478.2h0M730.4 479h0M225.1 481.6h0M656 483.6h0M753.6 483.9h0M760.4 483.9h0M705.9 488.7h0M753.6 488.7h0M619.9 494.1h0M673.5 493.8h0M688.6 493.8h0M725.2 493.8h0M730.5 493.8h0M735.7 493.8h0M740.9 493.8h0M746.1 493.8h0M656 498.9h0M223.9 502.9h0M572.2 503.7h0M610.8 504h0M725.2 509.2h0M834.2 509.2h0M533.6 513.2h0M455.3 514.3h0M690.9 514h0M695.9 514h0M430.2 516.6h0M435.1 516.6h0M524.5 518.3h0M720.7 519.1h0M499.6 520h0M719.6 524.2h0M724.9 524.2h0M543.8 528.5h0M573.3 528.5h0M480.3 529.6h0M577.9 534.2h0M577.9 539.3h0M828.5 539.3h0M361.3 540.6h0M496.2 543.8h0M821.7 544.4h0M834.2 544.4h0M473.5 545h0M388.5 546.1h0M398.7 546.1h0M811.5 549.5h0M378.3 551.2h0M399 551.2h0M805.8 554.3h0M810.4 554.3h0M854.2 554.3h0M849 559.4h0M482.5 563.1h0M488.2 567.7h0M504.1 568.8h0M819.5 568.8h0M293.2 569.9h0M867.1 571.1h0M834.2 574.1h0M346.5 575.6h0M426.6 576.2h0M431.7 576.2h0M867.1 576.7h0M508.6 577.9h0M514.3 577.9h0M426.6 581.3h0M441.1 585.8h0M772.9 587h0M828.5 587h0M846.7 587h0M363.6 590.9h0M833.8 592.1h0M838.7 592.1h0M290.9 599.4h0M298.9 599.4h0M441.7 601.1h0M485.9 601.1h0M777.5 602.3h0M838.7 602.3h0M292 604.5h0M297.7 604.5h0M795.6 607.4h0M854.6 607.4h0M307.9 609.1h0M382.9 610.8h0M412.4 611.4h0M470.1 610.8h0M229.1 613.6h0M358.3 614.8h0M388.5 615.3h0M456.1 615.9h0M500.7 616.5h0M395.3 620.4h0M505.2 621.6h0M794.5 622.1h0M245.5 623.3h0M255.7 623.3h0M351.1 624.4h0M251.8 628.4h0M425.4 630.7h0M463.2 630.7h0M492.8 635.8h0M510.9 635.8h0M643.7 640.9h0M859.2 641.4h0M803.6 642h0M346.5 643.7h0M799 647.1h0M803.6 647.1h0M346.5 648.8h0M357.9 648.8h0M363.6 648.8h0M387.4 649.4h0M397.6 649.4h0M479.1 650.5h0M261.4 652.6h0M267.1 652.6h0M218.3 655.6h0M228.1 655.6h0M817.2 655.6h0M382.9 657.9h0M629 660.7h0M327.2 661.9h0M357.9 662.4h0M534.8 664.7h0M826.3 664.7h0M348.8 667h0M630.1 668.7h0M817.2 669.2h0M230.8 671h0M259.1 671h0M403.3 672.7h0M618.7 674.4h0M835.3 674.4h0M216 675.7h0M278.4 675.7h0M314.8 675.7h0M549.5 677.8h0M568.8 677.8h0M242.1 680.6h0M248.3 680.6h0M254.6 680.6h0M273.9 680.6h0M319.5 680.6h0M324.6 680.6h0M599.5 682.9h0M849 682.9h0"/>
<path stroke="#ff8000" d="M228.8 150h0M573.3 152.9h0M257.4 156.6h0M618.4 161.7h0M227 163.4h0M271.7 163.4h0M284.3 163.4h0M458.7 165.7h0M590.4 168.2h0M442.5 171.9h0M447.9 171.9h0M396.5 177.2h0M489.9 179.8h0M501.3 179.8h0M575 181h0M502 186.7h0M254.6 191.2h0M503.5 193.5h0M593.2 195.7h0M692.9 196.1h0M487.1 199.1h0M252.7 204.8h0M477.4 212.2h0M483.1 212.2h0M655.1 215.4h0M656.6 215h0M665.1 215h0M496.2 225.8h0M518.3 226h0M568.2 225.8h0M801.9 228.1h0M796.2 234h0M435.6 236.6h0M437.1 236.6h0M464.4 238.3h0M569.4 239.7h0M564.8 251.9h0M640.3 253.6h0M667.4 253.6h0M477.7 257h0M667.4 258.2h0M672.8 258.2h0M478.6 263.8h0M656 271.8h0M276.2 276.3h0M863.2 276.9h0M704.5 278h0M415.2 279.7h0M688.3 283.7h0M693.7 283.7h0M825.7 283.7h0M405 286h0M621 289.4h0M693.7 289.4h0M814.6 289.4h0M830.6 289.4h0M678.1 296h0M694 296h0M715.2 296h0M396.5 297.9h0M451.3 299h0M473.5 299.4h0M499.4 300.2h0M851.2 301.3h0M825.1 301.6h0M335.2 302.8h0M340.9 302.8h0M457 305.3h0M473.5 305.3h0M505.8 305.8h0M622.2 307.8h0M704.8 307.8h0M808.9 307.8h0M835.3 307.8h0M845.6 307.8h0M850.7 307.8h0M347.3 308.7h0M353.2 308.7h0M227.4 310.4h0M403.3 309.8h0M506.4 311.5h0M286.4 312.7h0M297.7 312.7h0M343.7 314.4h0M349.4 314.4h0M622.2 313.8h0M829.7 313.8h0M623.3 318.9h0M813.8 319.5h0M300.9 324h0M654.5 324.6h0M684.9 325.5h0M395.9 326.3h0M406.9 326.3h0M397 327.8h0M413.5 327.8h0M492.8 329.2h0M550.6 329.8h0M352.8 331.5h0M634.1 330.7h0M654.5 330.7h0M656 330.9h0M787.7 336h0M860.3 336h0M348.2 337.1h0M736 337.1h0M751.3 337.1h0M217.7 339.8h0M608.2 342.3h0M782 342.3h0M787.1 342.3h0M360.2 343.4h0M361.3 348.5h0M664.5 348.5h0M782 348.5h0M421.4 350.8h0M311.9 353.8h0M664.5 354.2h0M690.1 354.2h0M771.8 354.2h0M787.1 354.2h0M650 354.5h0M771.2 360.2h0M781.4 360.2h0M346.3 360.6h0M373.5 360.6h0M378.9 360.6h0M395.2 361.6h0M319.3 365h0M659.4 365h0M352.1 366.1h0M363 366.1h0M654.5 365.5h0M709.9 365.5h0M715 365.5h0M775.8 365.5h0M796.2 365.5h0M745.3 371.2h0M358.1 372.3h0M512.6 375.4h0M796.2 376.3h0M360.3 377.4h0M715 376.5h0M680.4 382h0M366.4 383.3h0M478 386h0M675.1 387.7h0M680.3 387.7h0M685.5 387.7h0M725.8 387.7h0M695.3 393.3h0M725.8 393.3h0M745.7 393.3h0M866.6 393.3h0M760.4 399h0M421.7 401.1h0M432.2 401.1h0M433.4 406.4h0M419.2 411.7h0M455.3 412.6h0M480.8 413.2h0M252.3 418.9h0M859.2 420h0M334.8 420.8h0M345.4 420.8h0M419.9 422.3h0M303.3 425.7h0M347.1 426.8h0M426.6 428h0M304.3 431h0M853.5 430.8h0M426.6 433.6h0M261.4 434.8h0M267.1 434.8h0M715.6 436.2h0M343.1 437.4h0M369.7 437.4h0M380.4 437.4h0M406.7 439.3h0M416.9 439.3h0M278.4 440.8h0M659.4 441.6h0M374.7 442.7h0M385.5 442.7h0M390.8 442.7h0M670.8 452.1h0M675.3 452.1h0M685.5 452.1h0M690.6 452.1h0M695.7 452.1h0M653.4 457.5h0M656 457.5h0M673 457.5h0M678.7 457.5h0M688.9 456.9h0M694.1 456.9h0M684.9 462.6h0M689.7 462.6h0M694.5 462.6h0M699.3 462.6h0M708.9 462.6h0M713.7 462.6h0M720.7 468.2h0M725.8 468.2h0M735.9 468.2h0M740.9 468.2h0M745.9 468.2h0M604 473h0M745.5 473.4h0M750.6 473.4h0M755.6 473.4h0M760.7 473.4h0M643.7 478.5h0M735.5 479h0M740.7 479h0M745.8 479h0M236.4 481.6h0M247.8 483h0M700.3 484.1h0M663.4 488.7h0M758.7 488.7h0M768.9 488.7h0M250.1 493.4h0M668.5 493.8h0M830.8 493.8h0M755.9 504h0M778.6 504h0M846.7 504h0M551.8 509.2h0M600.6 509.2h0M720.1 509.2h0M839.9 509.2h0M864.9 509.2h0M450.5 514.3h0M720.6 514h0M788.2 514h0M425.4 516.6h0M450.8 519.4h0M725.6 519.1h0M735.5 519.1h0M764.2 519.1h0M769.5 519.1h0M450.5 524.5h0M480.3 525.1h0M577.9 528.5h0M524.5 534.2h0M529.1 534.2h0M828.5 534.4h0M833.1 534.4h0M371.5 535.3h0M436 534.7h0M431.1 536.4h0M495 539.3h0M811.5 544.4h0M473.5 548.9h0M753.6 548.9h0M829.7 549.5h0M834.2 549.5h0M859.6 548.9h0M388.5 551.2h0M819.5 554.3h0M859.2 554.3h0M482.5 558.6h0M492.4 558.6h0M287.8 564.8h0M293.3 564.8h0M415.2 566.5h0M420.3 566.5h0M287.5 569.9h0M489.3 572.8h0M498.4 573.3h0M824 574.1h0M361.3 575.6h0M416.3 576.2h0M421.4 576.2h0M503 577.9h0M416.3 581.3h0M421.4 581.3h0M264.8 584.7h0M353.3 585.8h0M429.7 586.4h0M435.1 586.4h0M518.9 587h0M833.1 587h0M221.7 590.4h0M347.7 590.9h0M222.8 595.5h0M357.9 595.5h0M483.7 597.2h0M843.7 602.3h0M813.2 602.8h0M476.9 605.1h0M388.5 605.7h0M388.2 610.8h0M393.4 610.8h0M398.7 610.8h0M423.7 611.4h0M474.6 610.8h0M500.7 611.4h0M308.5 614.2h0M393.6 615.3h0M446.2 615.9h0M800.2 617h0M401 620.4h0M800.2 622.1h0M808.1 622.1h0M251.2 623.3h0M808.1 627.3h0M361.3 629.9h0M290.9 633.5h0M306.8 633.5h0M352.2 634.1h0M381.7 634.4h0M416.9 634.6h0M488.2 635.8h0M794.5 636.9h0M284.1 639.2h0M301.1 639.2h0M306.8 639.2h0M380.6 639.7h0M864.9 641.4h0M799 642h0M376 644.3h0M391.9 644.3h0M864.9 646h0M831.9 647.1h0M352.2 648.8h0M369.2 648.8h0M374.9 648.8h0M474 650.5h0M860.3 650.5h0M629 655.1h0M223.2 655.6h0M283 657.3h0M218.3 660.2h0M223.9 660.2h0M526.8 659.6h0M531.3 659.6h0M340.9 661.9h0M530.2 664.7h0M812.6 664.7h0M258 666.4h0M369.2 667h0M218.3 671h0M237 671h0M354.5 671.5h0M826.3 674.4h0M237.6 675.7h0M243.2 675.7h0M248.9 675.7h0M273.3 675.7h0M826.3 678.9h0M606.3 682.9h0"/>
<path stroke="#ff6600" d="M691.2 148.4h0M613.1 154.3h0M612.5 161.7h0M261.4 171.9h0M500.3 173h0M697.4 175.3h0M244.4 198h0M548.9 201.1h0M527.4 207.1h0M568.2 233.8h0M493.3 244.9h0M656.6 246.8h0M667.4 271.8h0M296.6 276.3h0M858 276.9h0M709.8 278h0M709.7 283.7h0M688.3 289.4h0M504.1 294.5h0M509.8 294.5h0M610.5 295.6h0M631.2 295.6h0M668.5 296h0M825.1 295.6h0M830.5 301.6h0M413.5 304.1h0M606 307.8h0M830 307.8h0M704.8 313.8h0M813.8 313.8h0M287.8 318.9h0M649.4 318.9h0M808.7 319.5h0M411.2 322.3h0M674.4 325.5h0M849.7 325.1h0M379.5 326.3h0M408 327.8h0M261.4 329.2h0M318.7 330.9h0M679.8 330.9h0M793.3 330.9h0M860.3 330.9h0M363.6 332h0M793.3 336h0M771.8 342.3h0M420.3 345.1h0M270.8 346.8h0M598.3 354.2h0M659.4 354.2h0M776.9 354.2h0M334 354.5h0M664.5 359.8h0M704.8 359.8h0M730.3 359.8h0M400.6 361.6h0M346.6 366.1h0M357.5 366.1h0M649.4 365.5h0M725.2 365.5h0M407.3 367.2h0M491.9 375.2h0M497.2 375.2h0M354.8 377.4h0M730.3 376.5h0M750.2 376.5h0M750.2 382.2h0M820.6 387.9h0M432.2 395.6h0M427 401.1h0M725.8 404.1h0M475.2 407.5h0M445.6 418.3h0M471.2 418.3h0M340.1 420.8h0M287 425.7h0M292.5 425.7h0M399.9 428h0M243.2 429.4h0M250.1 440.8h0M261.4 440.8h0M858.6 441h0M696.1 446.5h0M652.2 446.7h0M396.2 448.4h0M396.8 453.7h0M648.3 457.5h0M667.4 457.5h0M718.5 462.6h0M730.8 468.2h0M730.3 473.4h0M735.4 473.4h0M219.4 481.6h0M253.5 483h0M579.6 483.9h0M796.3 483.9h0M801.3 483.9h0M763.8 488.7h0M811.5 488.7h0M816.8 488.7h0M751.3 493.8h0M773.7 498.7h0M836.5 498.9h0M802.4 504h0M807.5 504h0M715 509.2h0M730.3 509.2h0M787.7 509.2h0M725.6 514h0M820.6 514h0M787.7 519.1h0M859.9 519.1h0M792.8 524.2h0M455.3 524.5h0M523.4 529.1h0M345.8 530.8h0M365.8 535.3h0M520 534.7h0M427.1 536.4h0M833.1 539.3h0M446.2 539.8h0M485.9 539.8h0M749.1 544.4h0M795.6 544.4h0M482.5 553.5h0M488.2 563.1h0M498.4 568.8h0M351.1 570.5h0M356.7 570.5h0M824 579h0M843.3 579h0M346.5 580.1h0M411.2 581.3h0M353 590.9h0M419.7 591.5h0M436 590.9h0M292 595.5h0M301.1 595.5h0M441.7 596h0M490.5 597.2h0M398.7 601.1h0M492.8 601.1h0M398.7 605.7h0M318.2 609.7h0M418 611.4h0M398.7 615.3h0M451.1 615.9h0M789.9 617h0M406.7 620.4h0M325.5 624.4h0M405.6 625.5h0M284.1 629h0M367 629.9h0M468.9 630.7h0M283 633.5h0M289.8 639.2h0M346.5 639.2h0M638 640.9h0M854.6 650.5h0M233 655.6h0M530.2 657.3h0M821.7 660.2h0M287.5 661.9h0M334 661.9h0M535.9 669.8h0M273.9 671.5h0M520 676.6h0M329.8 680.6h0M613.1 682.9h0"/>
<path stroke="#ff4c00" d="M680.4 148.4h0M222.2 150h0M255.2 150h0M681 155.2h0M555.8 161.1h0M624.2 161.7h0M494.5 173h0M590.9 175h0M608 174.7h0M484.2 179.8h0M608.5 181.6h0M753.6 181.6h0M468.3 185.9h0M229.9 191.2h0M681.5 196.1h0M504.1 200.3h0M259 204.8h0M476.9 206.3h0M589.2 214.2h0M655.1 227.3h0M430 229.8h0M420.9 243.4h0M655.1 246.5h0M646 246.8h0M427.7 250.2h0M445.6 263.1h0M660 265.5h0M709.9 271.2h0M640.3 271.8h0M650.5 271.8h0M661.7 271.8h0M425.4 274.4h0M286.4 276.3h0M715 278h0M635.8 283.7h0M831.1 283.7h0M530.2 288.8h0M615.6 289.4h0M636.3 289.6h0M293.8 295.1h0M662.8 296h0M830.5 295.6h0M236.4 299h0M260.3 300.2h0M521.1 301h0M547.8 301.3h0M231.3 304.1h0M237.6 304.1h0M290.2 306.4h0M325 307.5h0M767.4 308.1h0M292 312.7h0M326.7 313.8h0M746.2 313.8h0M235 316.1h0M475.7 317.8h0M501.8 317.8h0M356.2 320h0M808.7 325.1h0M401.4 326.3h0M402.5 327.8h0M503.5 329.2h0M347.1 331.5h0M602.9 330.7h0M649.4 330.7h0M671.3 330.9h0M262.6 334.3h0M286.9 341.7h0M603.2 342.3h0M265 346.8h0M603.4 348.2h0M848.4 348.5h0M695.3 354.2h0M782 354.2h0M740.6 354.7h0M848.4 354.7h0M593.2 359.1h0M301.6 359.8h0M786.5 360.2h0M720.1 365.5h0M401.9 367.2h0M352.6 372.3h0M659.4 376.3h0M343.8 377.4h0M365.8 377.4h0M720.1 376.5h0M745.4 376.5h0M451.3 386h0M659.4 387.7h0M415.8 389.9h0M685.5 393.3h0M700.6 393.3h0M861.4 393.1h0M427.1 395.6h0M478.6 396.7h0M805.8 399h0M411.2 401.1h0M416.5 401.1h0M412.9 406h0M418.3 406h0M423.7 406h0M438.3 407h0M470.6 413.2h0M258 418.9h0M276.2 425.7h0M314.2 425.7h0M277.3 431h0M750.5 430.8h0M863.7 430.8h0M244.4 434.8h0M685.5 435.9h0M750.6 436.2h0M359.1 437.4h0M385.7 437.4h0M289.2 441h0M652.8 441h0M686.8 441.2h0M364 442.7h0M369.4 442.7h0M685.5 446.5h0M690.8 446.5h0M627.8 446.9h0M364.2 448.4h0M374.9 448.4h0M380.2 448.4h0M390.9 448.4h0M660.9 452.1h0M700.8 452.1h0M407.8 454.6h0M699.3 456.9h0M704.5 456.9h0M709.7 456.9h0M728 462.6h0M732.8 462.6h0M756 468.2h0M761.1 468.2h0M766.1 468.2h0M740.4 473.4h0M770.8 473.4h0M751 479h0M756.1 479h0M771.6 479h0M675.3 484.1h0M781.3 483.9h0M786.3 483.9h0M570.5 488.7h0M779 498.7h0M784.3 498.7h0M738.9 504h0M777.5 509.2h0M859.7 509.2h0M730.5 514h0M759.3 514h0M793.3 514h0M529.1 518.3h0M792.8 519.1h0M797.9 519.1h0M812.6 519.1h0M797.9 524.2h0M801.3 529.3h0M450.8 529.6h0M837.6 534.4h0M480.3 534.7h0M485.9 534.7h0M514.3 534.7h0M435.1 536.4h0M465.5 538.7h0M515.5 539.3h0M864.9 538.7h0M346.5 540.4h0M366.7 540.6h0M372.1 540.6h0M441.7 543.3h0M838.7 544.4h0M844.1 544.4h0M849.5 544.4h0M860.3 544.4h0M447.4 548.4h0M838.7 548.9h0M844 548.9h0M864.9 548.9h0M296.2 550.4h0M302.3 550.4h0M448.5 553.5h0M264.8 554.6h0M497.3 558.6h0M368.9 560.8h0M853.5 564.5h0M276.7 564.8h0M405 566.5h0M267.1 569.7h0M272.8 569.7h0M367 570.8h0M504.1 573.3h0M246.6 574.5h0M335.2 575.6h0M838.2 579h0M268.2 579.6h0M342 580.1h0M331.8 585.8h0M413.7 586.4h0M436 585.8h0M855.8 587h0M306.8 590.4h0M441.1 590.9h0M858 591.5h0M808.1 597.7h0M318.2 600.6h0M393.1 601.1h0M808.1 602.8h0M481.4 605.1h0M393.6 605.7h0M461 615.9h0M264.8 638.6h0M295.5 639.2h0M325 638.9h0M385.7 639.7h0M351.6 643.7h0M381.3 644.3h0M386.6 644.3h0M643.7 646h0M353.9 667h0M251.2 671h0M523.4 675.5h0M374.9 676.6h0M839.9 682.9h0"/>
<path stroke="#ff3300" d="M235.3 150h0M579 152.9h0M584.7 152.9h0M675.3 155.2h0M788.2 154.9h0M601.2 161.7h0M742.3 168.8h0M780.9 169.1h0M388.8 170.2h0M747.4 175.3h0M402.5 177.2h0M301.1 181h0M656.6 227.5h0M678.1 233.8h0M419.2 236.6h0M435.6 243.4h0M437.7 243.8h0M640.3 246.8h0M476.9 250.8h0M672.8 253.6h0M439.4 255.9h0M640.3 265.5h0M672.5 265.5h0M699.7 265.5h0M281.5 269.5h0M804.7 277.8h0M403.9 279.7h0M409.5 279.7h0M420.9 279.7h0M604 283.7h0M438.3 286.5h0M699 289.4h0M356.9 296.4h0M846.7 295.6h0M493.9 300.2h0M631.8 301.9h0M637.5 301.9h0M715.3 301.9h0M489.9 305.8h0M233.4 310.4h0M850.4 313.8h0M217.1 316.1h0M350.5 320h0M253.5 324h0M623.3 324.6h0M313 330.9h0M639.2 330.7h0M661.1 330.9h0M705.4 330.9h0M227 334.3h0M808.1 336.6h0M462.7 340.6h0M792.2 342.3h0M276.6 346.8h0M306.2 353.8h0M680.4 354.2h0M644.9 359.8h0M406.1 361.6h0M846.7 376.3h0M801.3 382h0M866.6 387.7h0M367.5 389.4h0M735.5 393.3h0M725.8 399h0M407.5 406h0M317 410.7h0M377.7 415.5h0M476.3 418.3h0M275 419.4h0M425.2 422.3h0M236.4 424.2h0M259.7 424.5h0M325 425.1h0M849 425.3h0M710.5 436.2h0M745.7 436.2h0M348.4 437.4h0M364.4 437.4h0M255.7 440.8h0M331.9 442.7h0M358.7 442.7h0M262.1 446.1h0M369.6 448.4h0M385.6 448.4h0M613 452.4h0M651.7 452.4h0M665.8 452.1h0M705.9 452.1h0M711.1 452.1h0M716.2 452.1h0M714.9 456.9h0M723.3 462.6h0M737.6 462.6h0M742.4 462.6h0M747.2 462.6h0M752 462.6h0M751 468.2h0M765.8 473.4h0M761.3 479h0M766.5 479h0M584.7 483.9h0M695.3 484.1h0M776.3 483.9h0M791.3 483.9h0M811.5 483.9h0M841.4 498.9h0M235.3 503.4h0M538.2 509.2h0M782.6 509.2h0M817.2 509.2h0M436 514.3h0M749.1 514h0M754.2 514h0M844.4 514h0M753.6 519.1h0M758.9 519.1h0M805.8 519.1h0M583 524h0M592.6 524h0M802.4 524.5h0M455.3 529.6h0M495 529.6h0M843.3 534.4h0M411.8 536.4h0M837.6 539.3h0M436 539.8h0M465.5 543.8h0M816.6 544.4h0M854.9 544.4h0M849.2 548.9h0M497.3 553.5h0M270.5 554.6h0M271.6 559.9h0M349.9 566h0M268.2 575h0M411.2 576.2h0M386.3 580.1h0M348 585.8h0M419.1 586.4h0M424.4 586.4h0M425.7 591.5h0M431.7 591.5h0M303.4 609.7h0M234.2 613.6h0M374.2 614.8h0M244.4 618.2h0M281.8 618.7h0M287.5 618.7h0M340.9 624.4h0M263.7 629h0M264.8 633.5h0M363.6 652.8h0M821.7 664.7h0M523.4 669.8h0M529.6 669.8h0M364.7 676.6h0M625 677.8h0"/>
<path stroke="#ff1a00" d="M810.4 148.4h0M816.3 148.4h0M261.6 150h0M800.2 153.7h0M823.4 153.7h0M777.5 156h0M263.1 156.6h0M269.5 156.6h0M487.1 158.9h0M680.4 162h0M753.6 162h0M641.4 168.5h0M647.1 168.5h0M708.8 168.5h0M792.2 168.5h0M775.2 169.1h0M376.8 170.2h0M382.8 170.2h0M691.8 175.3h0M674.7 175.6h0M708.8 181.6h0M742.3 181.6h0M759.3 181.6h0M403.9 183.6h0M253.5 185.5h0M513.8 186.7h0M309.1 187.8h0M664.5 188.6h0M223.4 191.2h0M525.7 193.8h0M675.9 196.1h0M698.6 196.1h0M263.1 198h0M698.6 202.6h0M240 204.8h0M246.3 204.8h0M435.6 205.4h0M437.1 205.4h0M505.2 207.1h0M248.3 211.1h0M505.2 213.6h0M583.6 214.2h0M243.8 217.6h0M506.4 219.2h0M589.8 220.7h0M252.3 224.1h0M502.1 225.8h0M791.1 227.5h0M458.7 238.3h0M443.4 243.8h0M482 244.2h0M673 246.8h0M483.1 250.8h0M768.4 254h0M817.5 253.6h0M699.1 258.2h0M741.1 265h0M677.9 265.5h0M688.8 265.5h0M726 265.5h0M731.5 265.5h0M395.9 267.3h0M275.5 269.5h0M693.7 271.2h0M863.7 270.7h0M545.5 276.3h0M560.9 276.7h0M656 278h0M661.1 278h0M678.1 278h0M365.8 284.8h0M551.8 289.2h0M704.4 289.4h0M240.4 292.6h0M258 293.4h0M642.6 295.6h0M720.5 301.9h0M788.2 301.6h0M835.9 301.6h0M363.6 302.8h0M396.9 304.1h0M521.7 307h0M616.8 307.8h0M653.9 308.1h0M772.7 308.1h0M392.5 309.8h0M533 312.1h0M548.9 312.1h0M596 318.7h0M845 319.5h0M745.7 325.1h0M529.6 329.5h0M700.3 330.9h0M828.8 330.9h0M302.8 335.4h0M498.4 335.2h0M644.3 336h0M258.3 341.1h0M478 340.6h0M623.3 342.3h0M813.2 342.5h0M659.4 348.5h0M259.9 352.5h0M265.8 352.5h0M526.8 353.4h0M603.4 354.2h0M730.3 354.7h0M735.5 354.7h0M598.3 359.1h0M608.5 359.1h0M802.1 359.8h0M812.6 359.8h0M340.9 360.6h0M427.7 362.1h0M432.8 362.1h0M302.3 365h0M313.6 365h0M608.5 365h0M639.2 365.5h0M417.8 367.5h0M423.2 367.5h0M314.2 371.2h0M644.3 371.2h0M669.6 371.2h0M407.8 373.5h0M481.4 375.2h0M349.3 377.4h0M740.6 376.5h0M659.4 381.4h0M655.1 382h0M740.6 382.2h0M745.4 382.2h0M791.1 382h0M810.9 382h0M846.7 382h0M344.5 383.3h0M431.1 384.3h0M414.9 384.8h0M420.3 384.8h0M446.2 386h0M836.5 387.7h0M383.4 389.4h0M437.1 390.5h0M690.1 393.3h0M715.6 393.3h0M720.7 393.3h0M667.8 398.8h0M765.5 399h0M860.3 399h0M735.5 404.1h0M750.2 404.1h0M450 412.6h0M217.1 413.5h0M228.5 413.5h0M239.8 413.5h0M245.5 413.5h0M251.2 413.5h0M268.2 413.5h0M301.7 414.9h0M855.8 414.9h0M866.6 414.9h0M263.7 418.9h0M281.6 425.7h0M308.8 425.7h0M730.3 425.7h0M735.5 425.7h0M766.1 425.7h0M720.7 430.8h0M447 434.2h0M238.7 434.8h0M677 441.2h0M681.9 441.2h0M691.6 441.2h0M701.4 441.2h0M853.5 441h0M656 441.6h0M315.9 442.7h0M353.3 442.7h0M432.8 444.4h0M250.9 446.1h0M656 446.7h0M784.6 446.7h0M799.4 446.7h0M285.2 447.6h0M290.6 447.6h0M427.7 449.9h0M608 452.4h0M632.9 452.4h0M656 452.1h0M798.5 452.4h0M803.6 452.4h0M598.3 456.7h0M725.3 456.9h0M740.9 456.9h0M761.6 462.6h0M828.5 473.4h0M776.8 479h0M787.1 479h0M828.5 479h0M866.6 479h0M259.7 481.9h0M680.3 484.1h0M827.4 483.9h0M822 488.7h0M827.3 488.7h0M835.7 493.8h0M864.9 493.8h0M818.3 498.7h0M262.5 504h0M750.2 504h0M822.9 504h0M499.6 509.2h0M527.9 509.2h0M484.8 509.8h0M735.5 514h0M839.3 514h0M480.1 514.9h0M499.6 514.9h0M495 520h0M836.5 524.2h0M460.4 524.5h0M509.8 525.1h0M864.9 524.5h0M816.4 529.3h0M826.5 529.3h0M831.6 529.3h0M841.6 529.3h0M485.4 529.6h0M351.3 530.8h0M422 536.4h0M844.4 539.3h0M849 539.3h0M382.9 540.6h0M378.3 545.5h0M854.4 548.9h0M409.4 551.2h0M414.6 551.2h0M433.9 552.3h0M332.9 555.2h0M250.1 559.9h0M277.3 559.9h0M358.9 560.8h0M384 560.8h0M246.6 569.9h0M372.1 570.8h0M382.3 570.8h0M293.9 575.4h0M299.2 575.4h0M294.3 580.1h0M304.9 580.1h0M310.2 580.1h0M227.4 584.7h0M295.5 585.8h0M328.4 585.8h0M342.6 585.8h0M403.1 586.4h0M254.3 590.9h0M275.7 590.9h0M281 590.9h0M331.8 590.9h0M336.9 590.9h0M342 590.9h0M407.8 591.5h0M265.9 595.5h0M352.6 595.5h0M422.6 597.2h0M837.6 597.7h0M842.9 597.7h0M848.2 597.7h0M312.5 600.6h0M323.8 600.6h0M853.5 602.3h0M312.5 605.7h0M323.8 605.7h0M329.5 605.7h0M238.7 608.5h0M265.9 608.5h0M271.6 608.5h0M298.3 609.7h0M322.7 610.2h0M328.4 610.2h0M244.4 613.6h0M250.8 613.6h0M335.2 614.8h0M363.6 614.8h0M251.2 618.2h0M262.5 618.2h0M272.8 618.7h0M293.2 618.7h0M309.1 619.3h0M287.5 623.8h0M293.6 623.8h0M305.7 623.8h0M275.8 629h0M270.5 638.6h0M330.6 638.9h0M336.3 638.9h0M390.8 639.7h0M305.7 643.7h0M322.7 643.7h0M301.1 652.8h0M307.1 652.8h0M359 667h0M300 671.5h0M365.8 671.5h0M289.2 676.1h0M295.5 676.1h0M369.8 676.6h0M263.7 680.6h0"/>
<path stroke="#ff0000" d="M662.2 148.4h0M668.3 148.4h0M720.7 148.4h0M777.5 148.4h0M787.7 148.4h0M793.3 148.4h0M822.3 148.4h0M828.2 148.4h0M834.2 148.4h0M274.5 150h0M403.3 150h0M555.8 152.6h0M743.4 153.7h0M818.3 153.7h0M669.6 155.2h0M720.7 154.9h0M753.6 155.4h0M759.9 155.4h0M793.9 154.9h0M276 156.6h0M282.4 156.6h0M368.1 156.6h0M380.3 156.6h0M475.2 158.9h0M504.1 158.9h0M742.8 160.6h0M630.1 161.7h0M647.1 161.7h0M669.1 162h0M674.7 162h0M759.9 162h0M290.7 163.4h0M297 163.4h0M499 166.8h0M504.7 166.8h0M510.3 166.8h0M630.1 168.5h0M703.1 168.5h0M680.4 168.8h0M764.4 169.1h0M254.6 171.9h0M506.2 173h0M512 173h0M292.6 173.6h0M299 173.6h0M647.7 175.3h0M686.1 175.3h0M703.1 175.3h0M708.8 175.3h0M736.6 175.3h0M742 175.3h0M792.2 175.3h0M669.1 175.6h0M680.4 175.6h0M390.5 177.2h0M420.5 177.2h0M426.6 177.2h0M243.8 177.9h0M251.2 177.9h0M478.6 179.8h0M736.6 181.6h0M747.9 181.6h0M398 183.6h0M271.6 186.7h0M278.1 186.7h0M747.8 188.9h0M753.4 188.9h0M759 188.9h0M764.5 188.9h0M770.1 188.9h0M514.3 193.8h0M604 195.2h0M659.4 196.1h0M225.6 198h0M231.9 198h0M238.1 198h0M446.8 198h0M709.3 202.6h0M289.8 206h0M482.5 206.3h0M488.2 206.3h0M605.1 208.6h0M649.4 209h0M241.5 211.1h0M471.8 212.2h0M649.4 215.4h0M693.5 214.7h0M796.7 215h0M250.6 217.6h0M433.4 217.6h0M462.1 219h0M467.8 219h0M500.7 219.2h0M791.1 221.1h0M688.3 221.8h0M694 221.8h0M440 224.9h0M451.3 224.9h0M457 224.9h0M590.4 227.5h0M688.3 228.1h0M418.6 229.8h0M666.8 233.8h0M672.5 233.8h0M688.3 234.3h0M688.3 241.1h0M694 241.1h0M796.2 241.1h0M623.9 246.3h0M678.3 253.6h0M683.8 253.6h0M822.9 253.6h0M678.3 258.2h0M693.5 258.2h0M843.3 258.2h0M768.4 260.4h0M815.5 265h0M843.3 265h0M864.3 265h0M655.1 265.5h0M683.4 265.5h0M694.3 265.5h0M269.5 269.5h0M704.5 271.2h0M715.3 271.2h0M720.7 271.2h0M741.1 271.5h0M815.5 271.5h0M821.2 271.5h0M842.2 271.2h0M281.3 276.3h0M291.5 276.3h0M301.7 276.3h0M539.3 276.3h0M603.4 276.9h0M646 277.5h0M841.6 277.5h0M846.7 277.5h0M693.9 278h0M699.2 278h0M741.1 277.8h0M341.4 278.6h0M398.2 279.7h0M555.8 283.1h0M609.7 283.7h0M656 284.3h0M661.7 284.3h0M704.4 283.7h0M715 283.7h0M820.3 283.7h0M846.7 283.7h0M354.5 284.8h0M360.2 284.8h0M371.5 284.8h0M377.2 284.8h0M256.3 288.2h0M263.1 288.2h0M466.1 287.7h0M471.6 287.7h0M558 289.2h0M604.7 289.4h0M610.1 289.4h0M709.7 289.4h0M715 289.4h0M809.2 289.4h0M835.9 289.4h0M846.7 289.4h0M642 289.6h0M647.7 289.6h0M361.3 290.7h0M461.5 293.9h0M552.3 295.4h0M558 295.4h0M346 296.4h0M351.5 296.4h0M362.4 296.4h0M605.1 295.6h0M636.9 295.6h0M648.3 295.6h0M720.5 296h0M835.9 295.6h0M504.9 300.2h0M295.5 301.3h0M605.7 301.6h0M616.5 301.6h0M725.8 301.9h0M741.1 301.6h0M778 301.6h0M346.5 302.8h0M352.2 302.8h0M357.9 302.8h0M391.4 304.1h0M284.3 306.4h0M296.1 306.4h0M500.1 305.8h0M532.5 307h0M600.6 307.8h0M725.2 308.1h0M751.5 308.1h0M762.1 308.1h0M788.2 308.1h0M819.5 307.8h0M359 308.7h0M239.5 310.4h0M397.9 309.8h0M495.6 311.5h0M501 311.5h0M741.1 313.8h0M845 313.8h0M241 316.1h0M549.5 318.3h0M746 319.5h0M751.3 319.5h0M850.3 319.5h0M361.9 320h0M725.2 319.8h0M528.7 324h0M534.2 324h0M346.2 325.1h0M352.2 325.1h0M550.1 324.6h0M612.5 324.6h0M649.4 324.6h0M669.1 325.5h0M715 325.1h0M720.7 325.1h0M751.2 325.1h0M762.1 325.1h0M844.4 325.1h0M248.9 329.2h0M498.1 329.2h0M644.3 330.7h0M666.2 330.9h0M684.9 330.9h0M690.1 330.9h0M823.6 330.9h0M844.6 330.9h0M849.8 330.9h0M855.1 330.9h0M233 334.3h0M238.9 334.3h0M244.8 334.3h0M250.7 334.3h0M256.7 334.3h0M493.3 335.2h0M597.7 336h0M654.5 336h0M864.9 336h0M725.8 336.6h0M843.9 336.6h0M849 336.6h0M472.9 340.6h0M545.5 341.3h0M293.2 341.7h0M304 342.3h0M598.3 342.3h0M669.6 342.3h0M808.1 342.5h0M849 342.3h0M259.2 346.8h0M282.4 346.8h0M530.8 347h0M300 347.9h0M305.7 347.9h0M598.3 348.2h0M669.6 348.5h0M271.6 352.5h0M593.2 354.2h0M618.7 353.8h0M669.6 354.2h0M675 354.2h0M700.6 354.2h0M705.8 354.2h0M711.1 354.2h0M792.2 354.2h0M588.1 359.1h0M603.4 359.1h0M296 359.8h0M791.6 359.8h0M796.9 359.8h0M807.4 359.8h0M296.6 365h0M325 365h0M842.2 365h0M335.8 366.1h0M341.2 366.1h0M644.3 365.5h0M801.9 365.5h0M807 365.5h0M396.5 367.2h0M412.4 367.5h0M639.2 371.2h0M649.4 371.2h0M674.7 371.2h0M805.8 371.2h0M842.2 371.2h0M336.1 372.3h0M341.6 372.3h0M347.1 372.3h0M381.2 372.9h0M402.3 373.5h0M465.5 374h0M470.6 374h0M475.7 374h0M486.7 375.2h0M675.3 376.3h0M836.5 376.3h0M851.8 376.3h0M338.3 377.4h0M705.4 376.5h0M725.2 376.5h0M381.7 378h0M398.2 379.1h0M650.2 382h0M796.2 382h0M826.3 382h0M852.4 382h0M862.6 382h0M866.6 382h0M339 383.3h0M349.9 383.3h0M355.4 383.3h0M360.9 383.3h0M715.6 382.6h0M426 384.3h0M398.7 384.8h0M409.5 384.8h0M456.4 386h0M655.1 388.2h0M664.6 387.7h0M720.7 387.9h0M356.5 389.4h0M362 389.4h0M420.7 389.9h0M425.7 389.9h0M457.6 390.8h0M462.7 390.8h0M670.8 393.3h0M675.7 393.3h0M680.6 393.3h0M705.9 393.3h0M846.7 393.3h0M437.7 396.2h0M673.7 398.8h0M720.7 399h0M810.9 399h0M829.7 399h0M836.5 399h0M849.7 399h0M385.1 400.1h0M495 402.4h0M675.3 404.1h0M805.8 403.5h0M810.9 403.5h0M816 403.5h0M829.7 404.1h0M866.6 404.1h0M402.2 406h0M443.4 407h0M495 408.1h0M725.2 409.2h0M730.3 409.2h0M735.5 409.2h0M745.7 409.2h0M327.8 410.7h0M338.6 410.7h0M386.3 410.9h0M444.7 412.6h0M484.8 413.2h0M234.2 413.5h0M256.9 413.5h0M262.5 413.5h0M273.9 413.5h0M279.6 413.5h0M356.2 415.5h0M361.6 415.5h0M367 415.5h0M372.4 415.5h0M730.5 414.9h0M850.1 414.9h0M861.4 414.9h0M745.7 420.3h0M849 420h0M302.8 420.6h0M745.7 425.7h0M405 428h0M231.9 429.4h0M237.6 429.4h0M462.1 428.9h0M467.2 428.9h0M725.2 430.8h0M740.6 430.8h0M745.5 430.8h0M755.5 430.8h0M457.6 434.2h0M233 434.8h0M250.1 434.8h0M690.6 435.9h0M705.4 436.2h0M755.5 436.2h0M760.4 436.2h0M848.4 435.9h0M858.6 435.9h0M353.8 437.4h0M437.7 439.3h0M238.7 440.8h0M696.5 441.2h0M760.4 441.6h0M769.5 441.6h0M774.7 441.6h0M779.9 441.6h0M790.3 441.6h0M795.5 441.6h0M321.2 442.7h0M326.6 442.7h0M337.3 442.7h0M342.6 442.7h0M348 442.7h0M256.5 446.1h0M267.7 446.1h0M273.3 446.1h0M701.4 446.5h0M661.1 446.7h0M779.7 446.7h0M789.6 446.7h0M794.5 446.7h0M863.2 446.7h0M317.6 447.6h0M328.4 447.6h0M358.9 448.4h0M253.5 451.8h0M259.1 451.8h0M618 452.4h0M622.9 452.4h0M627.9 452.4h0M328.9 452.9h0M361.9 453.7h0M367.2 453.7h0M372.6 453.7h0M380.6 453.7h0M386 453.7h0M391.4 453.7h0M413.1 454.6h0M720.1 456.9h0M730.5 456.9h0M735.7 456.9h0M746.1 456.9h0M751.3 456.9h0M803.6 457.5h0M367.2 459.2h0M579.2 462.3h0M584.2 462.3h0M589.2 462.3h0M598.9 462.6h0M756.8 462.6h0M234.2 470.7h0M251.2 470.7h0M775.9 473.4h0M780.9 473.4h0M786 473.4h0M791.1 473.4h0M802.4 473.4h0M807.6 473.4h0M812.9 473.4h0M818.1 473.4h0M866.6 473.4h0M781.9 479h0M792.2 479h0M807 479h0M823.1 479h0M242.1 479.6h0M264.8 481.9h0M565.4 483.6h0M570.5 483.6h0M685.3 484.1h0M690.3 484.1h0M816.8 483.9h0M822.1 483.9h0M832.7 483.9h0M838 483.9h0M843.3 483.9h0M866.6 484.1h0M260.3 488.1h0M265.9 488.1h0M832.5 488.7h0M837.8 488.7h0M817.2 493.8h0M840.5 493.8h0M860 493.8h0M261.4 498.7h0M802.4 498.7h0M812.6 498.7h0M846.3 498.9h0M851.2 498.9h0M861.1 498.9h0M866 498.9h0M251.8 504h0M744.5 504h0M812.6 504h0M817.7 504h0M851.5 504h0M856.3 504h0M861.2 504h0M866 504h0M218.3 508.6h0M264.2 508.6h0M460.4 509.2h0M504.7 509.2h0M517.7 509.2h0M533 509.2h0M735.5 509.2h0M763.8 509.2h0M822.3 509.2h0M827.4 509.2h0M854.6 509.2h0M475.2 509.8h0M445.6 514.3h0M596.6 513.7h0M826.3 514h0M834.2 514h0M475.2 514.9h0M485.1 514.9h0M490.1 514.9h0M495 514.9h0M504.1 514.9h0M465.5 517.1h0M839.9 519.1h0M844.9 519.1h0M849.9 519.1h0M854.9 519.1h0M864.9 519.1h0M480.3 520h0M485.2 520h0M406.7 521.1h0M527.9 524h0M531.9 524h0M535.9 524h0M819.5 524.2h0M825.1 524.2h0M830.8 524.2h0M854.6 524.2h0M464.4 524.5h0M485.4 525.1h0M490.2 525.1h0M514.3 525.1h0M344.3 525.7h0M406.7 526.2h0M411.2 526.2h0M530.2 529.1h0M806.3 529.3h0M811.4 529.3h0M836.6 529.3h0M846.7 529.3h0M465.5 529.6h0M509.8 529.6h0M329.3 530.8h0M334.8 530.8h0M340.3 530.8h0M356.7 530.8h0M377.2 530.8h0M406.7 531.3h0M411.8 531.3h0M416.9 531.3h0M849 534.4h0M854.6 534.4h0M860.3 534.4h0M304.5 535.3h0M315.9 535.3h0M377.2 535.3h0M465.5 534.7h0M470.1 534.7h0M416.9 536.4h0M471.2 538.7h0M854.6 539.3h0M860.3 539.3h0M315.9 540.4h0M441.1 539.8h0M377.5 540.6h0M446.6 543.3h0M347.7 546.1h0M382.9 545.5h0M247.8 550.1h0M263.7 550.1h0M269.3 550.1h0M284.1 550.4h0M290.2 550.4h0M404.2 551.2h0M248.9 555.2h0M307.2 555.7h0M424.9 556.3h0M283 559.9h0M288.6 559.9h0M334 560.8h0M348.8 560.8h0M353.8 560.8h0M363.9 560.8h0M373.9 560.8h0M379 560.8h0M388.5 560.8h0M393.8 560.8h0M399 560.8h0M404.2 560.8h0M409.4 560.8h0M414.6 560.8h0M244.4 564.3h0M250.1 564.3h0M255.7 564.3h0M282.3 564.8h0M298.9 564.8h0M334 565.4h0M390.8 566h0M399.9 566.5h0M298.9 569.9h0M319.3 569.7h0M377.2 570.8h0M387.4 570.8h0M392.5 570.8h0M397.6 570.8h0M252.3 574.5h0M263.1 575h0M288.6 575.4h0M320.4 575.6h0M340.9 575.6h0M247.8 579.6h0M336.3 580.1h0M362.4 580.1h0M300.9 585.8h0M337.2 585.8h0M362.4 585.8h0M381.7 586.4h0M387.1 586.4h0M392.4 586.4h0M397.7 586.4h0M408.4 586.4h0M227.4 590.4h0M233 590.4h0M248.9 590.9h0M265 590.9h0M270.3 590.9h0M286.4 590.9h0M397.6 591.5h0M413.8 591.5h0M227.9 595.5h0M233 595.5h0M247.8 595.5h0M253.8 595.5h0M259.9 595.5h0M275 595.5h0M280.7 595.5h0M286.4 595.5h0M347.3 595.5h0M312.5 596h0M318.2 596h0M853.5 597.7h0M860.3 597.7h0M281.8 600h0M286.4 600h0M227.9 600.6h0M233 600.6h0M238.1 600.6h0M244.4 601.7h0M848.6 602.3h0M286.4 605.1h0M343.1 605.1h0M359 605.1h0M233 605.7h0M237.6 605.7h0M318.2 605.7h0M403.9 605.7h0M409 605.7h0M293.2 609.7h0M334 610.2h0M257.2 613.6h0M263.7 613.6h0M271.6 614.2h0M297.7 614.2h0M303.4 614.2h0M322.7 614.8h0M328.9 614.8h0M368.9 614.8h0M795 617h0M315.9 619.3h0M329.5 619.9h0M269.3 623.3h0M299.6 623.8h0M346.5 624.4h0M281.8 629h0M305.7 629.5h0M311.3 629.5h0M346.5 633.5h0M277.3 638.6h0M276.2 643.1h0M311.3 643.7h0M317 643.7h0M638 646h0M382.3 648.8h0M313.6 657.9h0M323.3 657.9h0M303.4 662.4h0M817.2 664.7h0M267.1 666.4h0M272.8 666.4h0M288.6 666.4h0M826.3 669.2h0M267.1 671.5h0M288.6 671.5h0M294.3 671.5h0M305.7 671.5h0M360.2 671.5h0M830.8 674.4h0M259.1 675.7h0M264.8 675.7h0M268.2 675.7h0M835.3 682.9h0"/>
<path stroke="#e60000" d="M674.4 148.4h0M280.9 150h0M287.3 150h0M293.8 150h0M288.8 156.6h0M301.7 156.6h0M386.4 156.6h0M392.5 156.6h0M481.1 158.9h0M793.3 162h0M303.3 163.4h0M309.6 163.4h0M363 162.8h0M364.7 170.2h0M370.7 170.2h0M476.9 172.2h0M305.5 173.6h0M641.4 175.3h0M366.4 177.2h0M378.4 177.2h0M506.9 179.8h0M313.6 181h0M380.6 183.6h0M386.4 183.6h0M392.2 183.6h0M290.9 186.7h0M507.9 186.7h0M742.3 188.9h0M236.4 191.2h0M387.4 190.9h0M399.5 190.9h0M405.6 190.9h0M286.4 192.9h0M311.3 194h0M430 198h0M294.3 200.3h0M419.2 205.4h0M430.5 205.4h0M314.2 207.1h0M803 208.6h0M316.5 213.9h0M511.5 213.6h0M785.4 214.5h0M699.1 214.7h0M802.2 215h0M813.2 215h0M785.4 221.1h0M807.8 221.3h0M813.2 221.3h0M246.1 224.1h0M813.8 228.1h0M407.3 229.8h0M623.3 234h0M785.4 234h0M790.8 234h0M813.2 234.3h0M408.4 236.6h0M640.3 240.8h0M785.4 241.1h0M678.1 246.8h0M812.1 247.2h0M817.7 247.2h0M394.2 254.2h0M789.9 253.6h0M795.6 253.6h0M812.1 253.6h0M284.7 257.4h0M565.4 257.8h0M603.4 258.2h0M683.8 258.2h0M795.3 258.2h0M822.9 258.2h0M394.8 261h0M267.6 263.8h0M273.6 263.8h0M279.6 263.8h0M285.5 263.8h0M291.5 263.8h0M297.4 263.8h0M303.4 263.8h0M576.2 265h0M795 265h0M859.2 265h0M720.5 265.5h0M245.3 269.5h0M251.3 269.5h0M293.6 269.5h0M299.6 269.5h0M699.1 271.2h0M793.9 271.2h0M396.5 273.5h0M306.8 276.3h0M814.9 277.5h0M830.8 277.5h0M793.9 277.8h0M647.1 283.7h0M814.9 283.7h0M593.8 289.4h0M730.9 289.6h0M741.7 289.6h0M233.6 292.6h0M751.3 295.6h0M757 295.6h0M306.8 301.3h0M553.5 301.3h0M757 301.3h0M611.1 301.6h0M735.5 301.6h0M307.9 306.4h0M548.4 306.4h0M564.3 307.3h0M611.4 307.8h0M245.5 310.4h0M527.4 312.1h0M303.4 312.7h0M309.1 312.7h0M559.2 312.7h0M564.8 312.7h0M595.5 313.2h0M725.2 313.8h0M529.1 318.3h0M533.6 318.3h0M735.5 319.5h0M517.7 324h0M523.2 324h0M560.3 324.6h0M756.6 325.1h0M301.7 330.3h0M560.9 329.8h0M695.2 330.9h0M818.3 330.9h0M834.1 330.9h0M839.3 330.9h0M560.9 336h0M649.4 336h0M629 336.6h0M684.9 337.1h0M710.5 336.6h0M715.6 336.6h0M720.7 336.6h0M730.9 336.6h0M838.7 336.6h0M252.3 341.1h0M488.8 341.1h0M493.9 341.1h0M520 341.3h0M644.3 342.3h0M649.4 342.3h0M593.2 348.2h0M674.9 348.5h0M685.5 348.5h0M863.7 347.9h0M495 351.9h0M294.9 353.8h0M802.4 354.2h0M858.6 354.2h0M261.4 358.7h0M267.4 358.7h0M618.7 359.1h0M858 359.3h0M836.5 359.8h0M307.9 365h0M583.6 364.7h0M598.9 364.7h0M836.5 365h0M308.7 371.2h0M654.5 371.2h0M858.6 371.2h0M330.6 372.3h0M391.4 373.5h0M396.9 373.5h0M826.3 376.3h0M316.5 376.9h0M327.2 377.4h0M332.8 377.4h0M650.5 376.5h0M414.1 379.1h0M419.7 379.1h0M456.4 379.7h0M675.3 382h0M816 382h0M836.5 382h0M404.1 384.8h0M441.1 386h0M610.2 387.7h0M615.3 387.7h0M620.4 387.7h0M625.6 387.7h0M650.5 388.2h0M669.8 387.7h0M710.5 387.9h0M715.6 387.9h0M846.7 387.7h0M345.4 389.4h0M435.6 389.9h0M650.5 393.3h0M656 393.3h0M665.8 393.3h0M610.8 393.6h0M363 395.4h0M378.9 395.4h0M509.8 397.6h0M520 397.6h0M679.6 398.8h0M685.5 398.8h0M779.7 399h0M785.4 399h0M800.7 399h0M326.7 404.5h0M338 404.5h0M691.2 404.1h0M800.7 403.5h0M854.6 404.1h0M272.8 408.3h0M505.8 408.1h0M700.8 408.7h0M222.8 413.5h0M505.8 414h0M700.8 414.7h0M720.7 414.9h0M725.6 414.9h0M844.4 414.9h0M755.3 420h0M700.3 420.6h0M705.6 420.6h0M710.9 420.6h0M716.2 420.6h0M740.6 425.7h0M755.9 425.7h0M761 425.7h0M220.5 429.4h0M655.1 430.8h0M671.9 430.8h0M695.7 430.8h0M760.4 430.8h0M255.7 434.8h0M785.4 435.3h0M695.7 435.9h0M647.7 436.7h0M652.8 436.7h0M227.4 440.8h0M244.4 440.8h0M627.8 441h0M642.6 441h0M848.6 441h0M800.6 441.6h0M805.8 441.6h0M380.1 442.7h0M239.8 446.1h0M245.3 446.1h0M598.3 446.5h0M603.4 446.5h0M818.3 446.5h0M833.1 446.5h0M809.2 446.7h0M843.3 446.7h0M848.4 446.7h0M853.5 446.7h0M858.6 446.7h0M306.8 447.6h0M323 447.6h0M353.6 448.4h0M247.8 451.2h0M270.5 451.8h0M276.2 451.8h0M793.3 452.4h0M318.2 452.9h0M323.5 452.9h0M418.4 454.6h0M270.5 456.9h0M387.4 459.7h0M398 459.7h0M403.3 459.7h0M564.3 462.3h0M569.3 462.3h0M388.5 465.4h0M393.9 465.4h0M554.6 467.3h0M559.7 467.3h0M228.5 470.7h0M239.8 470.7h0M245.5 470.7h0M256.9 472.2h0M823.3 473.4h0M861.4 473.4h0M230.8 475.6h0M247.8 475.6h0M861.4 478.5h0M812.4 479h0M817.7 479h0M531.9 483.2h0M848.3 488.7h0M845.4 493.8h0M850.3 493.8h0M855.1 493.8h0M856.2 498.9h0M433.9 501.7h0M438.8 501.7h0M538.2 502.9h0M547.8 502.9h0M436 507.1h0M447.4 507.1h0M458.7 507.1h0M508.6 507.1h0M538.2 507.1h0M252.3 509.2h0M436 509.2h0M445.8 509.2h0M450.6 509.2h0M522.8 509.2h0M547.2 509.2h0M480 509.8h0M414.6 511.5h0M420.3 511.5h0M435.1 510.9h0M440.8 514.3h0M390.2 516h0M455.6 519.4h0M460.4 519.4h0M490.1 520h0M495 525.1h0M350.5 525.7h0M369.2 525.7h0M381.7 525.7h0M821.5 529.3h0M371.5 530.8h0M391.4 531.3h0M396.5 531.3h0M293.2 535.3h0M298.9 535.3h0M310.2 535.3h0M288.6 540.2h0M304.5 540.4h0M310.2 540.4h0M246.6 544.4h0M252.3 544.4h0M258 544.4h0M263.7 544.4h0M275 544.4h0M315.9 545.5h0M320.4 550.6h0M290.7 555.7h0M296.2 555.7h0M312.7 555.7h0M318.2 555.7h0M382.9 556.3h0M398.6 556.3h0M409.1 556.3h0M419.6 556.3h0M386.3 566h0M304.5 575.4h0M299.6 580.1h0M221.7 584.7h0M306.4 585.8h0M322.9 585.8h0M259.6 590.9h0M318.2 590.9h0M342 595.5h0M346.5 600.6h0M352.2 600.6h0M363.6 600.6h0M245.5 608h0M348.8 610.2h0M364.7 610.2h0M334 619.9h0M262.5 623.3h0M330.6 633.5h0M335.9 633.5h0M341.2 633.5h0M342 638.9h0M327.8 648.2h0M283 671.5h0M283 676.1h0M830.8 678.9h0M259.1 680.6h0"/>
<path stroke="#cc0000" d="M268 150h0M295.3 156.6h0M374.2 156.6h0M488.2 165.9h0M311.9 173.6h0M372.4 177.2h0M384.4 177.2h0M512.6 179.8h0M307.4 181h0M284.5 186.7h0M525.1 187h0M393.4 190.9h0M292 192.9h0M753.6 196.1h0M453 198h0M288.6 200.3h0M313 200.8h0M704 202.6h0M233.6 204.8h0M265.4 204.8h0M643.7 209h0M267.1 212.2h0M807.7 215h0M416.3 217.6h0M802.4 221.3h0M227.4 224.1h0M417.5 224.7h0M785.4 227.5h0M807.8 228.1h0M807 234.3h0M790.8 241.1h0M812.6 240.8h0M818.3 240.8h0M618.7 246.3h0M790.5 247.2h0M796.2 247.2h0M278.4 257.4h0M290.9 257.4h0M789.9 258.2h0M800.7 258.2h0M817.2 258.2h0M859.2 258.2h0M565.4 265h0M603.4 265.3h0M800.2 265h0M715 265.5h0M239.3 269.5h0M257.4 269.5h0M263.4 269.5h0M287.6 269.5h0M305.7 269.5h0M799.6 271.2h0M820.6 277.5h0M799.3 277.8h0M561.4 283.1h0M598.3 283.7h0M652.8 283.7h0M599.2 289.4h0M653.4 289.6h0M736.3 289.6h0M725.8 296h0M318.2 301.6h0M323.8 301.6h0M302 306.4h0M756.8 308.1h0M517.7 318.3h0M560.3 318.3h0M305.7 318.9h0M740.8 319.5h0M306.8 324h0M488.2 335.2h0M679.8 337.1h0M467.8 340.6h0M639.2 342.3h0M664.5 342.3h0M843.9 342.3h0M253.5 346.8h0M644.9 348.5h0M680.2 348.5h0M690.8 348.5h0M696.1 348.5h0M701.4 348.5h0M843.3 348.5h0M463.8 351.1h0M254 352.5h0M300.6 353.8h0M644.9 354.5h0M725.2 354.7h0M843.3 354.7h0M463.8 357.6h0M468.9 357.6h0M273.3 358.7h0M842.2 359.8h0M588.7 364.7h0M593.8 364.7h0M856.9 365h0M297.7 371.2h0M303.2 371.2h0M624.4 370.6h0M836.5 371.2h0M538.2 375.7h0M856.9 376.3h0M862 376.3h0M640.3 376.5h0M645.4 376.5h0M451.3 379.7h0M461.5 379.7h0M645.4 382h0M821.2 382h0M333.5 383.3h0M605.1 387.7h0M350.9 389.4h0M430.7 389.9h0M655.1 393.3h0M780.9 393.3h0M855.8 393.1h0M514.9 397.6h0M655.1 399h0M656 398.8h0M661.9 398.8h0M795.6 399h0M844.4 399h0M855 399h0M680.6 404.1h0M685.9 404.1h0M821.2 403.5h0M860.3 404.1h0M250.1 408.3h0M255.7 408.3h0M261.4 408.3h0M267.1 408.3h0M278.4 408.3h0M500.4 408.1h0M740.6 409.2h0M735.5 414.9h0M735.5 420.3h0M740.6 420.3h0M750.8 425.7h0M226.2 429.4h0M656 430.8h0M685.5 430.8h0M690.6 430.8h0M838.7 430.8h0M843.3 430.8h0M452.3 434.2h0M227.4 434.8h0M779.7 435.3h0M661.1 435.9h0M838.7 435.9h0M843.3 435.9h0M233 440.8h0M838.7 441h0M785.1 441.6h0M234.2 446.1h0M804.3 446.7h0M296 447.6h0M301.4 447.6h0M312.2 447.6h0M348.2 448.4h0M236.4 451.2h0M242.1 451.2h0M833.1 452.4h0M847.8 452.4h0M853.5 452.4h0M351.1 453.7h0M356.5 453.7h0M423.7 454.6h0M438.8 455.5h0M253.5 456.9h0M259.1 456.9h0M856.9 456.9h0M356.2 459.2h0M361.7 459.2h0M372.6 459.2h0M392.7 459.7h0M832.5 462.6h0M399.3 465.4h0M856.9 467.1h0M837.6 467.7h0M262.5 472.2h0M550.1 472.6h0M856.9 473.4h0M236.4 475.6h0M242.1 475.6h0M253.5 475.6h0M535.9 477.6h0M541 477.6h0M521.7 483.2h0M526.8 483.2h0M843 488.7h0M853.5 488.7h0M443.9 501.7h0M533 502.9h0M435.1 506.3h0M441.7 507.1h0M453 507.1h0M517.7 507.1h0M522.8 507.1h0M527.9 507.1h0M533 507.1h0M440.9 509.2h0M455.5 509.2h0M509.8 509.2h0M409 511.5h0M426 511.5h0M348.8 520h0M356.7 520h0M509.8 520h0M318.2 525.1h0M356.7 525.7h0M375.5 525.7h0M323.8 530.8h0M386.3 531.3h0M277.9 534.7h0M283 534.7h0M241 544.4h0M269.3 544.4h0M329.5 550.6h0M285.2 555.7h0M301.7 555.7h0M388.1 556.3h0M393.4 556.3h0M403.9 556.3h0M414.4 556.3h0M335.2 570.5h0M248.9 585.8h0M254.6 585.8h0M317.4 585.8h0M311.3 590.9h0M329.5 600.6h0M357.9 600.6h0M369.2 600.6h0M343.1 610.2h0M357.9 610.2h0M269.7 629h0M269.3 633.5h0M313 652.8h0M319 652.8h0M325 652.8h0M253.5 675.7h0"/>
<path stroke="#b30000" d="M838.7 342.3h0M660.9 393.3h0M656 435.9h0M843.7 441h0M276.2 456.9h0M574.3 462.3h0M311.9 585.8h0"/></g>
<use href="#grid"/><use href="#coast" clip-path="url(#ax)"/>
<text class="s" transform="translate(114.6 146.7) scale(0.985 1.045)" text-anchor="end">35</text>
<text class="o" x="114.1" y="126.8">°</text>
<text class="s" transform="translate(148.3 146.7) scale(0.985 1.045)">N</text>
<text class="s" transform="translate(114.6 259.7) scale(0.985 1.045)" text-anchor="end">30</text>
<text class="o" x="114.1" y="239.8">°</text>
<text class="s" transform="translate(148.3 259.7) scale(0.985 1.045)">N</text>
<text class="s" transform="translate(114.6 370) scale(0.985 1.045)" text-anchor="end">25</text>
<text class="o" x="114.1" y="350.1">°</text>
<text class="s" transform="translate(148.3 370) scale(0.985 1.045)">N</text>
<text class="s" transform="translate(114.6 476.8) scale(0.985 1.045)" text-anchor="end">20</text>
<text class="o" x="114.1" y="456.9">°</text>
<text class="s" transform="translate(148.3 476.8) scale(0.985 1.045)">N</text>
<text class="s" transform="translate(114.6 581.8) scale(0.985 1.045)" text-anchor="end">15</text>
<text class="o" x="114.1" y="561.9">°</text>
<text class="s" transform="translate(148.3 581.8) scale(0.985 1.045)">N</text>
<text class="s" transform="translate(114.6 685.8) scale(0.985 1.045)" text-anchor="end">10</text>
<text class="o" x="114.1" y="665.9">°</text>
<text class="s" transform="translate(148.3 685.8) scale(0.985 1.045)">N</text>
<text class="s" transform="translate(273.5 767.5) scale(0.985 1.045)" text-anchor="end">110</text>
<text class="o" x="273.1" y="747.6">°</text>
<text class="s" transform="translate(306.6 767.5) scale(0.985 1.045)">E</text>
<text class="s" transform="translate(477.3 767.5) scale(0.985 1.045)" text-anchor="end">120</text>
<text class="o" x="476.9" y="747.6">°</text>
<text class="s" transform="translate(510.4 767.5) scale(0.985 1.045)">E</text>
<text class="s" transform="translate(681.1 767.5) scale(0.985 1.045)" text-anchor="end">130</text>
<text class="o" x="680.7" y="747.6">°</text>
<text class="s" transform="translate(714.2 767.5) scale(0.985 1.045)">E</text>
<text class="s" transform="translate(884.9 767.5) scale(0.985 1.045)" text-anchor="end">140</text>
<text class="o" x="884.5" y="747.6">°</text>
<text class="s" transform="translate(918 767.5) scale(0.985 1.045)">E</text>
</g>
<text class="p" x="17.9" y="859">(c)</text>
<text class="t" x="548.3" y="931.9" text-anchor="middle">743.75 cm<tspan class="u" dy="-26.8" dx="1.2" style="font-size:57px">−</tspan><tspan class="u" dy="-2.3" dx="-2.6">1</tspan></text>
<rect x="906.9" y="944.2" width="65.4" height="538.3" fill="url(#jet)" stroke="#262626" stroke-width="2.8"/>
<path d="M972.3 956h-7M972.3 1112.3h-7M972.3 1268.9h-7M972.3 1425h-7" stroke="#262626" stroke-width="2.6" fill="none"/>
<text class="c" x="992.8" y="973.4">260</text>
<text class="c" x="992.8" y="1129.7">240</text>
<text class="c" x="992.8" y="1286.3">220</text>
<text class="c" x="992.8" y="1442.4">200</text>
<text class="k" x="941.2" y="915.8" text-anchor="middle">K</text>
<g transform="translate(1188 799.5)">
<rect x="215.9" y="147.3" width="651.2" height="538.6" fill="none" stroke="#262626" stroke-width="11.6"/>
<g class="d" clip-path="url(#ax)"><path stroke="#000080" d="M688.9 642h0"/>
<path stroke="#000099" d="M632.4 574.5h0M636.9 579h0M624.4 584.7h0M629 584.7h0M635.8 584.7h0M693.5 594.3h0M699.1 594.3h0M679.8 598.3h0M693.5 598.9h0M655.1 622.1h0M641.4 631.2h0M572.2 631.8h0M655.1 636.3h0M694 642h0M667.4 674.4h0"/>
<path stroke="#0000b3" d="M616.5 554h0M625.6 554h0M631.2 569.4h0M636.9 574.5h0M632.4 579h0M604 586.4h0M688.9 588.7h0M679.8 592.6h0M684.4 592.6h0M698.6 598.9h0M623.3 607.4h0M557.5 616.5h0M576.7 622.1h0M582.4 622.1h0M646 631.2h0M650.5 631.2h0M655.1 631.2h0M656 631.2h0M650.2 636.3h0M699.1 642h0M661.7 664.7h0M656 669.2h0M667.4 669.2h0M656 674.4h0"/>
<path stroke="#0000e6" d="M696.9 559.4h0M598.3 586.4h0M696.9 588.7h0M575.6 602.8h0M720.7 637.5h0M674.2 646h0M707.1 646h0M656 682.9h0"/>
<path stroke="#0000ff" d="M650.5 539.3h0M368.1 551.2h0M564.3 558.6h0M622.2 559.1h0M701.4 559.4h0M564.3 563.7h0M602.9 563.7h0M617.6 563.7h0M696.9 564.5h0M701.4 564.5h0M705.9 564.5h0M597.2 568.8h0M602.9 568.8h0M635.8 569.4h0M704.8 569.4h0M709.7 569.4h0M715 574.1h0M623.3 579h0M702.5 583.5h0M707.1 583.5h0M584.7 584.7h0M613.1 584.7h0M609.7 586.4h0M575.6 588.1h0M642.6 588.1h0M702 588.7h0M707.1 588.7h0M575.6 593.2h0M642.6 593.2h0M704.8 594.3h0M642.6 598.3h0M642.6 603.4h0M702.5 604h0M581.3 607.4h0M587 607.4h0M702.5 609.1h0M524.5 610.8h0M692.3 612.5h0M660.5 613.1h0M582.4 617h0M704.8 617h0M571.1 622.1h0M656 622.1h0M705.9 622.1h0M710.9 622.1h0M554 626.7h0M559.2 626.7h0M564.3 626.7h0M678.7 626.7h0M683.8 626.7h0M688.9 626.7h0M715 627.3h0M216 628.4h0M666.2 631.2h0M671.1 631.2h0M681 631.2h0M548.1 631.8h0M552.9 631.8h0M557.7 631.8h0M562.6 631.8h0M567.4 631.8h0M715 632.4h0M720.7 632.4h0M640.6 636.3h0M645.4 636.3h0M660.5 636.3h0M696.9 635.8h0M702.5 635.8h0M572.2 636.9h0M715 637.5h0M711.6 641.4h0M720.7 642h0M679.3 646h0M684.4 646h0M670.8 650.5h0M716.2 655.6h0M712.2 664.7h0M717.3 664.7h0M661.7 669.2h0M854.6 669.8h0M652.8 673.8h0M661.7 674.4h0M854.6 674.4h0M651.7 677.8h0M656 678.9h0M661.7 678.9h0M667.4 678.9h0M854.6 678.9h0"/>
<path stroke="#0019ff" d="M607.4 554h0M622.2 563.7h0M608.5 568.8h0M523.4 573.3h0M698 583.5h0M581.3 597.7h0M703.7 598.9h0M587 602.8h0M566.5 616.5h0M688.9 617h0M720.7 627.3h0M656 636.3h0M666.2 650.5h0M707.1 664.7h0"/>
<path stroke="#0033ff" d="M616.5 548.9h0M622.2 548.9h0M463.2 553.5h0M710.5 564.5h0M715 564.5h0M660.5 584.7h0M660.5 589.8h0M557.5 592.6h0M575.6 597.7h0M581.3 602.8h0M709.3 607.4h0M549.5 626.7h0M533.6 631.8h0M635.8 636.3h0M576.7 641.4h0M572.2 642h0M655.1 646.5h0M725.2 647.5h0"/>
<path stroke="#004dff" d="M639.2 539.3h0M651.7 544.4h0M627.8 548.9h0M655.1 549.5h0M458.1 553.5h0M696.9 554.3h0M701.4 554.3h0M705.9 554.3h0M569.9 558.6h0M710.5 559.4h0M715 559.4h0M569.9 563.7h0M569.9 568.8h0M714.6 569.4h0M719.6 569.4h0M602.9 578.4h0M641.4 579h0M647.1 579h0M754.8 585.8h0M660.5 594.9h0M660.5 600h0M660.5 605.1h0M714.5 607.4h0M641.4 608h0M571.1 611.4h0M705.9 611.9h0M710.9 611.9h0M715.8 611.9h0M571.1 617h0M576.7 617h0M710.1 617h0M715.4 617h0M720.7 617h0M552.9 621.6h0M544.6 626.7h0M725.2 627.3h0M676.1 631.2h0M538.4 631.8h0M543.3 631.8h0M725.2 632.4h0M576.7 636.3h0M587.3 636.3h0M592.6 636.3h0M614.2 635.8h0M675.3 636.3h0M725.2 637.5h0M511.5 640.9h0M582.4 641.4h0M592.6 641.4h0M613.1 641.4h0M618.7 641.4h0M649.4 641.4h0M655.1 641.4h0M725.2 642.6h0M511.5 646h0M576.7 646.5h0M588.1 646.5h0M651.7 646.5h0M582.4 651.7h0M588.1 651.7h0M588.1 656.8h0M473.5 659h0M481.4 659h0M854.6 659.6h0M716.2 669.2h0M849 669.8h0M860.3 669.8h0M849 674.4h0M661.7 682.9h0"/>
<path stroke="#0066ff" d="M644.9 539.3h0M610.8 548.9h0M564.3 553.5h0M705.9 559.4h0M641.4 574.5h0M719.6 574.1h0M542.7 588.1h0M533.6 616.5h0M715.8 622.1h0M720.7 622.1h0M582 636.3h0M669.6 636.3h0M681 636.3h0M566.2 636.9h0M582.4 646.5h0M576.7 651.7h0M582.4 656.8h0M854.6 664.7h0M860.3 674.4h0"/>
<path stroke="#0080ff" d="M217.7 497.8h0M656 534.4h0M782 534.4h0M710.5 554.3h0M560.9 573.3h0M663.9 573.9h0M750.2 574.1h0M529.1 577.9h0M587 578.4h0M744.5 579h0M749.6 585.8h0M556.3 587h0M562 592.6h0M542.7 601.7h0M720.7 601.7h0M534.8 611.9h0M540.4 616.5h0M225.6 623.3h0M231.9 623.3h0M447 631.2h0M729.8 632.4h0M242.9 633.5h0M248.2 633.5h0M253.5 633.5h0M440.5 636.3h0M549.5 642h0M729.8 642.6h0M560.1 647.1h0M594.9 650.5h0M560.1 652.2h0M545 662.4h0M588.1 661.9h0M460.4 681.7h0M647.1 682.9h0"/>
<path stroke="#0099ff" d="M274.5 334.3h0M782 529.3h0M652.8 534.7h0M406.7 536.4h0M456.4 538.1h0M658.3 538.7h0M663.4 538.7h0M656 548.9h0M660.5 548.9h0M682.3 549.5h0M453 553.5h0M460.4 558.6h0M465.5 558.6h0M555.2 558.6h0M719.6 559.4h0M464.4 563.1h0M719.6 564.5h0M508.6 567.7h0M513.2 567.7h0M622.2 568.8h0M663.9 569.4h0M744.5 569.4h0M450.8 572.2h0M450.8 576.2h0M523.4 577.9h0M579 578.4h0M593.8 578.4h0M538.2 579h0M750.2 579h0M750.2 590.9h0M749.1 594.9h0M542.7 597.2h0M217.1 600.6h0M548.4 601.7h0M719.6 607.4h0M223.4 608.5h0M720.7 611.9h0M549.5 616.5h0M219.4 623.3h0M441.7 626.1h0M729.8 627.3h0M222.8 628.4h0M227.9 628.4h0M233 628.4h0M441.7 631.2h0M226.2 633.5h0M231.9 633.5h0M237.6 633.5h0M445.8 636.3h0M554 636.9h0M560.1 636.9h0M237.6 638.6h0M243.2 638.6h0M248.9 638.6h0M254.6 638.6h0M216 640.3h0M554 642h0M560.1 642h0M566.2 642h0M243.2 643.1h0M229.9 645.4h0M235.3 645.4h0M458.7 645.4h0M464.4 645.4h0M506.4 646h0M554 647.1h0M572.2 647.1h0M729.8 647.5h0M601.2 650.5h0M607.4 650.5h0M572.2 652.2h0M729.8 652.6h0M463.2 655.1h0M468.3 655.1h0M566.2 657.3h0M572.2 657.3h0M576.7 656.8h0M582.4 661.9h0M504.1 672.1h0M716.2 674.4h0M863.7 678.3h0M490.5 681.7h0M495 682.3h0M655.1 682.9h0M693.5 682.9h0"/>
<path stroke="#00b2ff" d="M423.2 164.3h0M400.9 170.2h0M765.5 376.9h0M231.9 487h0M226.8 493.2h0M670.9 529.3h0M648.3 529.6h0M676 534.4h0M686 534.4h0M501.8 548.4h0M677.6 549.5h0M696.4 549.5h0M705.8 549.5h0M568.8 553.5h0M613.1 568.8h0M617.6 568.8h0M464.4 576.7h0M660.5 579h0M529.1 586.4h0M456.4 590.9h0M530.2 591.5h0M772.9 601.7h0M768.4 607.4h0M772.9 607.4h0M530.2 611.9h0M655.1 613.1h0M545 616.5h0M219.4 618.2h0M725.2 622.1h0M729.8 637.5h0M539.3 642h0M544.4 647.1h0M566.2 647.1h0M554 652.2h0M566.2 652.2h0M560.1 657.3h0M576.7 661.9h0M845.6 664.7h0M465.4 681.7h0M707.1 682.9h0M711.6 682.9h0"/>
<path stroke="#00ccff" d="M427.7 157.7h0M464.9 317.2h0M614.8 484.1h0M226.8 487h0M656 529.3h0M661 529.3h0M665.9 529.3h0M655.1 529.6h0M661 534.4h0M666 534.4h0M671 534.4h0M787.7 534.4h0M455.9 534.7h0M461.5 538.1h0M668.5 538.7h0M710.5 539.3h0M558.6 543.8h0M640.3 544.4h0M646 544.4h0M685.5 544.4h0M690.5 544.4h0M695.5 544.4h0M487.1 548.4h0M552.9 548.9h0M558.6 548.9h0M633.5 548.9h0M687 549.5h0M691.7 549.5h0M701.1 549.5h0M554 553.5h0M602.9 554h0M729.8 554.3h0M626.7 559.1h0M735.5 559.4h0M450.2 562.6h0M725.2 564.5h0M740 564.5h0M537 569.4h0M640.3 569.4h0M592.6 573.3h0M537 574.5h0M575.6 573.9h0M646.6 574.5h0M598.3 578.4h0M456.4 579h0M725.2 579h0M533.6 586.4h0M538.2 591.5h0M759.3 591.5h0M538.2 599.4h0M518.9 611.9h0M552.9 611.9h0M766.1 613.1h0M770.6 613.1h0M524.5 616.5h0M725.2 617h0M758.2 622.1h0M539.7 626.7h0M451.1 636.3h0M549.5 636.9h0M351.6 639.2h0M544.4 642h0M218.3 645.4h0M549.5 647.1h0M735.5 647.5h0M734.3 657.3h0M734.3 660.7h0M549.5 662.4h0M474.6 664.7h0M479.7 664.7h0M484.8 664.7h0M643.7 667.5h0M821.7 678.9h0M470.4 681.7h0M862.6 682.9h0"/>
<path stroke="#00e5ff" d="M858.6 425.3h0M639.2 524.5h0M644.5 524.5h0M690.7 529.3h0M787.1 529.3h0M681 534.4h0M700.9 534.4h0M456.4 543.3h0M700.5 544.4h0M650.2 549.5h0M710.5 549.5h0M719.9 549.5h0M631.2 554h0M665.8 554.3h0M742.3 554.3h0M580.2 558.6h0M535.9 564.3h0M580.2 568.8h0M651.7 569.4h0M725.2 569.4h0M800.7 574.1h0M805.5 574.1h0M725.2 584.1h0M759.3 584.7h0M456.4 585.8h0M538.2 586.4h0M809.2 587h0M725.2 589.8h0M768.4 591.5h0M725.2 594.9h0M768.4 596.6h0M768.4 601.7h0M552.9 606.3h0M529.1 607.4h0M838 607.4h0M228.5 608.5h0M829.7 611.9h0M730.3 617h0M838.7 617h0M225.1 618.2h0M636.9 621h0M864.9 630.1h0M529.1 631.8h0M539.3 636.9h0M506.4 640.9h0M261.4 643.1h0M440.9 646.5h0M450.8 646.5h0M648.3 646.5h0M549.5 652.2h0M789.9 652.2h0M549.5 657.3h0M554 657.3h0M450.8 661.9h0M489.9 664.7h0M588.1 666.4h0M473.5 676.6h0M633.5 682.9h0M817.2 682.9h0"/>
<path stroke="#00ffff" d="M415.5 150h0M411.8 164.3h0M417.5 164.3h0M394.8 170.2h0M463.2 311h0M468.9 311h0M453.6 316.4h0M224.5 322.1h0M230.5 322.1h0M459.8 322.9h0M219.4 328.6h0M441.1 333.7h0M446.2 333.7h0M435.1 338.9h0M270.2 341.1h0M276.2 341.1h0M440.5 340.6h0M766.1 365.5h0M770.6 365.5h0M765.5 371.2h0M770.6 376.9h0M755.3 387.7h0M633.9 478.5h0M238.1 488.1h0M656 524.2h0M660.9 524.2h0M665.8 524.2h0M440.5 524.5h0M623.3 524.5h0M633.9 524.5h0M649.8 524.5h0M655.1 524.5h0M615.9 528.8h0M675.8 529.3h0M685.7 529.3h0M700.6 529.3h0M705.5 529.3h0M441.7 529.6h0M696 534.4h0M705.9 534.4h0M710.5 534.4h0M450.8 534.7h0M505.2 539.3h0M552.9 538.7h0M557.5 538.7h0M629 538.7h0M634.6 538.7h0M715.5 539.3h0M720.5 539.3h0M725.5 539.3h0M783.1 538.7h0M791.1 538.7h0M416.9 541.6h0M552.9 543.8h0M598.3 543.8h0M614.2 544.4h0M619.1 544.4h0M624 544.4h0M629 544.4h0M634.6 544.4h0M705.5 544.4h0M710.5 544.4h0M715.5 544.4h0M720.5 544.4h0M725.5 544.4h0M730.5 544.4h0M735.5 544.4h0M768.4 544.4h0M778.6 544.4h0M409 546.7h0M583.6 548.9h0M598.3 548.9h0M640.3 549.5h0M645.2 549.5h0M715 549.5h0M724.9 549.5h0M729.8 549.5h0M734.7 549.5h0M419.2 552.3h0M598.3 554h0M656 554.3h0M660.9 554.3h0M715 554.3h0M719.6 554.3h0M735.5 554.3h0M535.9 559.1h0M632 559.1h0M642.6 559.1h0M740 559.4h0M663.9 559.7h0M575.6 563.7h0M581.3 563.7h0M646 564.3h0M651.7 564.3h0M744.5 564.5h0M663.9 564.8h0M575.6 568.8h0M646 569.4h0M749.1 569.4h0M508.6 572.8h0M617.6 573.9h0M734.3 574.1h0M754.8 574.1h0M479.7 577.3h0M609.7 578.4h0M734.3 579h0M754.8 579h0M800.2 579h0M794.5 584.7h0M763.8 591.5h0M763.8 596.6h0M772.9 596.6h0M749.1 600.6h0M504.1 607.4h0M508.6 607.4h0M827.4 607.4h0M832.7 607.4h0M725.2 611.9h0M749.1 611.9h0M834.6 611.9h0M844.4 611.9h0M749.1 617h0M780.3 617h0M844.4 617h0M524.5 621.6h0M730.3 622.1h0M749.1 622.1h0M779.7 622.1h0M534.8 626.7h0M637.5 626.7h0M735.5 627.3h0M779.7 627.3h0M452.3 631.2h0M524.5 631.8h0M735.5 632.4h0M776.3 631.8h0M456.4 636.3h0M544.4 636.9h0M735.5 637.5h0M785.4 636.9h0M842.2 636.9h0M260.3 638.6h0M436 641.4h0M629 641.4h0M780.9 642h0M435.1 644.3h0M516.6 646h0M436 646.5h0M539.3 647.1h0M780.9 647.1h0M822.9 647.1h0M441.1 651.7h0M446.2 651.7h0M451.3 651.7h0M540.4 652.2h0M545 652.2h0M648.3 651.7h0M785.4 652.2h0M735.5 652.6h0M850.1 652.6h0M850.1 655.1h0M456.4 656.8h0M540.4 657.3h0M545 657.3h0M648.3 656.8h0M789.9 657.3h0M493.9 659.6h0M506.4 660.7h0M563.1 662.4h0M495 664.7h0M860.3 664.7h0M455.3 665.8h0M460.4 665.8h0M465.5 665.8h0M576.7 666.4h0M582.4 666.4h0M572.2 667.5h0M455.3 671h0M506.4 671h0M821.7 674.4h0M450.8 677.8h0M226.2 680.6h0M480.5 681.7h0M853.5 682.9h0"/>
<path stroke="#00ffe3" d="M445.6 150.3h0M760.4 387.7h0M629 478.5h0M628.6 524.5h0M680.8 529.3h0M695.6 529.3h0M710.5 529.3h0M691 534.4h0M792.2 534.4h0M412.4 541.6h0M773.5 544.4h0M403.3 546.7h0M583.6 553.5h0M670.8 554.3h0M637.3 559.1h0M740 574.1h0M805.1 579h0M810 579h0M744.5 585.8h0M520 616.5h0M520 621.6h0M447 626.1h0M452.3 626.1h0M457.6 626.1h0M867.1 625.5h0M632.4 626.7h0M642.6 626.7h0M259.1 633.5h0M446.2 641.4h0M624.4 641.4h0M822.9 642h0M735.5 642.6h0M473.5 655.1h0M572.2 662.4h0M432.8 677.2h0M464.4 676.6h0M475.4 681.7h0M485.5 681.7h0M508.6 682.9h0"/>
<path stroke="#00ffc8" d="M438.8 150.3h0M475.2 231.3h0M756.6 319.5h0M793.3 319.5h0M429.6 338.9h0M307.1 359.8h0M312.6 359.8h0M755.3 372.9h0M755.3 376.9h0M347.7 432.5h0M653.4 488.9h0M218.3 502.9h0M591.3 504h0M602.9 524h0M695.3 524.2h0M778.1 538.7h0M428.3 546.7h0M373.2 551.2h0M535.9 553.5h0M644.9 554h0M487.5 558.6h0M640.3 564.3h0M479.1 567.7h0M651.7 574.5h0M777.5 578.4h0M451.3 590.9h0M456.4 596h0M785.4 597.2h0M729.8 600.6h0M744.5 600.6h0M744.5 607.4h0M843.3 607.4h0M507.5 611.9h0M735.5 622.1h0M844.4 622.1h0M749.1 632.4h0M824 632.4h0M864.9 635.8h0M525.7 636.9h0M824 636.9h0M850.1 637.5h0M441.1 641.4h0M451.3 641.4h0M525.7 642h0M534.8 647.1h0M753.6 647.5h0M758.2 647.5h0M842.2 647.5h0M435.1 649.4h0M753.6 656.2h0M769.5 656.2h0M446.2 656.8h0M794.5 657.3h0M510.9 660.7h0M763.3 661.3h0M446.2 666.4h0M771.3 665.8h0M222.8 675.7h0M740 678.9h0M826.3 682.9h0"/>
<path stroke="#00ffac" d="M433.9 150h0M463.2 158.9h0M867.1 283.7h0M867.7 289.4h0M467.8 299.4h0M468 305.3h0M793.3 313.8h0M281.8 318.9h0M761.9 319.5h0M471.8 323.4h0M283.2 324h0M289.1 324h0M295 324h0M787.7 325.1h0M423.7 333.2h0M407.8 338.6h0M751.3 342.8h0M378.3 348.8h0M362.6 360.6h0M368 360.6h0M760.4 382h0M750.2 393.3h0M755.9 393.3h0M755.3 399h0M398.7 417.2h0M638.2 462.6h0M643.3 468h0M648.3 468h0M715.6 473.4h0M638.6 488.9h0M643.5 488.9h0M648.4 488.9h0M596 493.8h0M614.8 494.1h0M586.4 504h0M601 504h0M625 504h0M625.6 509.2h0M625.6 514.3h0M651.7 514.3h0M573.3 518.9h0M616.5 518.9h0M621.4 518.9h0M626.3 518.9h0M631.2 518.9h0M636.2 518.9h0M646 518.9h0M661.7 519.1h0M670.8 524.2h0M675.7 524.2h0M680.6 524.2h0M690.4 524.2h0M700.3 524.2h0M705.2 524.2h0M710.1 524.2h0M445.6 524.5h0M792.2 529.3h0M500.1 529.6h0M548.4 534.2h0M557.5 534.2h0M562.6 534.2h0M730.5 539.3h0M735.5 539.3h0M763.2 538.7h0M768.1 538.7h0M773.1 538.7h0M819.5 538.7h0M824 538.7h0M515.5 543.8h0M545 543.8h0M740 544.4h0M393.6 546.1h0M516 548.9h0M568.5 548.9h0M739.6 549.5h0M744.5 549.5h0M357.9 550.6h0M749.1 554.3h0M505.2 558.6h0M516.6 558.6h0M574.5 558.6h0M744.5 559.4h0M749.1 559.4h0M749.1 564.5h0M473.5 567.7h0M753.6 569.4h0M470.1 572.2h0M479.1 572.8h0M513.2 572.8h0M517.7 572.8h0M608.5 573.9h0M791.3 574.1h0M796 574.1h0M810.2 574.1h0M814.9 574.1h0M440.5 576.2h0M445.6 576.2h0M468.9 576.7h0M474.6 577.3h0M495 577.3h0M782 578.4h0M449.6 579h0M740 579h0M758.2 579h0M814.9 579h0M819.5 579h0M351.6 580.1h0M446.2 585.8h0M450.8 585.8h0M524.5 586.4h0M779.7 585.8h0M784.3 585.8h0M489.3 591.5h0M744.5 590.9h0M779.7 591.5h0M786.5 591.5h0M814.9 592.1h0M824 592.1h0M655.1 593.8h0M216 595.5h0M744.5 595.5h0M451.5 596h0M525.7 596h0M818.3 597.7h0M828.5 602.3h0M833.1 602.3h0M223.4 605.7h0M499.6 606.3h0M725.2 606.3h0M730.3 606.3h0M735.5 611.9h0M775.2 611.9h0M839.5 611.9h0M744.5 617h0M775.2 617h0M818.3 617h0M856.9 617h0M230.8 618.2h0M385.1 620.4h0M534.8 622.1h0M539.3 622.1h0M762.7 622.1h0M784.8 622.1h0M824 622.1h0M839.9 622.1h0M520 626.1h0M525.1 626.1h0M749.1 627.3h0M753.6 627.3h0M762.7 627.3h0M785.4 627.3h0M824 627.3h0M294.3 629h0M457.6 631.2h0M753.6 632.4h0M762.7 632.4h0M850.1 632.4h0M534.8 636.9h0M753.6 637.5h0M830 636.9h0M836.1 636.9h0M463.2 640.9h0M468.3 640.9h0M473.5 640.9h0M633.5 641.4h0M534.8 642h0M785.4 642h0M842.2 642h0M426 644.3h0M430.5 644.3h0M224.5 645.4h0M492.8 645.4h0M497.3 645.4h0M445.8 646.5h0M785.4 647.1h0M429.4 649.4h0M217.1 650.5h0M222.4 650.5h0M233 650.5h0M436 651.7h0M456.4 651.7h0M794.5 652.2h0M822.9 652.2h0M827.4 651.7h0M753.6 652.6h0M758.2 652.6h0M429.4 654.5h0M435.1 654.5h0M764.2 656.2h0M839.9 655.6h0M436 656.8h0M441.1 656.8h0M451.3 656.8h0M435.1 659h0M860.3 659.6h0M515.5 660.7h0M643.7 660.7h0M757.9 661.3h0M768.7 661.3h0M774 661.3h0M440.9 661.9h0M445.8 661.9h0M830.8 664.7h0M334 666.4h0M506.4 665.8h0M510.9 665.8h0M761.8 665.8h0M766.6 665.8h0M776.1 665.8h0M549.5 667.5h0M563.1 667.5h0M497.3 668.7h0M602.5 668.7h0M766.7 670.4h0M771.4 670.4h0M776.1 670.4h0M780.9 670.4h0M510.9 671h0M638 673.8h0M817.2 674.4h0M839.9 674.4h0M349.9 676.6h0M849 678.9h0"/>
<path stroke="#00ff90" d="M421.7 150h0M406.9 170.2h0M222.8 170.8h0M496.2 186.7h0M402.4 338.6h0M797.9 342.3h0M399.3 350.2h0M750.2 399h0M403.9 417.2h0M638.8 478.5h0M672.5 478.5h0M243.6 488.1h0M619.3 488.7h0M605.1 498.7h0M631.2 509.2h0M666.2 514h0M671.2 514h0M676.1 514h0M816 514h0M641.1 518.9h0M608.5 524h0M685.5 524.2h0M715 529.3h0M715.5 534.4h0M720.5 534.4h0M505.2 534.7h0M485.9 543.8h0M574.5 553.5h0M655.1 554h0M758.2 564.5h0M786.5 574.1h0M442.8 579h0M651.7 579.6h0M810 592.1h0M464.4 597.2h0M725.2 600.6h0M730.3 611.9h0M384 615.3h0M735.5 617h0M849 617h0M428.3 621h0M433.9 621h0M828.5 622.1h0M237 623.3h0M376 624.4h0M530.2 626.1h0M237.6 628.4h0M473.5 635.8h0M456.4 641.4h0M516.6 640.9h0M818.3 642h0M835.9 642h0M749.1 642.6h0M753.6 642.6h0M483.7 646h0M789.9 647.1h0M423.7 649.4h0M740 651.7h0M423.7 654.5h0M758.9 656.2h0M799 657.3h0M435.1 664.1h0M515.5 665.8h0M780.9 665.8h0M545 667.5h0M468.9 668.7h0M592.6 668.7h0M597.6 668.7h0M761.9 670.4h0M835.3 669.8h0M768.4 674.9h0M227.4 675.7h0M506.4 676.6h0M510.9 676.6h0M283 680.6h0"/>
<path stroke="#00ff75" d="M412.9 170.2h0M556.9 220.5h0M533 264.4h0M290.5 282.6h0M867.1 295.6h0M684.4 313.8h0M236.4 322.1h0M808.7 330.3h0M766.7 337.1h0M326.7 342.8h0M393.1 344.5h0M775.8 382h0M775.8 393.3h0M353 432.5h0M662.2 463.1h0M639.2 499.5h0M644.3 499.5h0M649.4 499.5h0M596.2 504h0M529.1 513.2h0M641.2 514.3h0M646.4 514.3h0M666.6 519.1h0M671.5 519.1h0M676.4 519.1h0M681.3 519.1h0M597.7 524h0M720.1 529.3h0M436 529.6h0M435.1 531.9h0M725.5 534.4h0M758.7 534.4h0M763.8 534.4h0M796.7 534.4h0M572.6 539.3h0M758.2 538.7h0M763.8 544.4h0M510.9 548.9h0M778.6 549.5h0M423.7 552.3h0M795.6 554.3h0M358.5 555.7h0M753.6 559.4h0M473.5 563.1h0M478 563.1h0M753.6 564.5h0M805.8 564.5h0M763.8 569.4h0M801.3 569.4h0M834.2 569.4h0M838.7 569.4h0M758.2 574.1h0M763.8 584.7h0M768.4 584.7h0M216 589.2h0M301.1 590.4h0M740 590.4h0M828.9 592.1h0M740 595.5h0M828.5 597.7h0M740 600.6h0M795.6 602.3h0M735.5 606.3h0M777.5 607.4h0M780.9 611.9h0M786.5 611.9h0M817.2 611.9h0M785.4 617h0M441.4 621h0M481.4 621h0M642.6 621h0M789.9 622.1h0M481.4 626.1h0M744.5 627.3h0M771.8 626.7h0M818.3 632.4h0M396.5 634.6h0M426 634.6h0M468.3 635.8h0M771.8 636.9h0M426 639.7h0M771.8 642h0M829.7 642h0M850.1 642.6h0M468.9 646h0M478.8 646h0M245.5 646.5h0M740 646.5h0M744.5 646.5h0M818.3 647.1h0M850.1 647.5h0M227.7 650.5h0M251.2 652.2h0M799 652.2h0M740 656.8h0M744.5 656.8h0M428.8 659h0M752.5 661.3h0M436 661.9h0M740 664.7h0M839.9 664.7h0M441.1 666.4h0M757 665.8h0M475.7 668.7h0M482.5 668.7h0M489.3 668.7h0M607.4 668.7h0M740 669.8h0M803.6 669.8h0M325 671.5h0M577.9 672.1h0M572.2 672.7h0M794.5 673.8h0M740 674.9h0M762.7 674.9h0M638 677.8h0M812.6 678.3h0M761.6 678.9h0M766.1 678.9h0M794.5 678.9h0M231.9 680.6h0M289.8 680.6h0M738.9 682.9h0"/>
<path stroke="#42ff50" d="M803.6 319.5h0M393.9 350.2h0M363.6 372.3h0M661.1 483.6h0M640.3 504h0M778.6 514h0M451.5 543.3h0M773.5 549.5h0M516 553.5h0M753.6 554.3h0M517.7 563.7h0M768.8 564.5h0M758.7 569.4h0M524.5 591.5h0M772.9 591.5h0M729.8 597.2h0M216 605.7h0M744.5 622.1h0M355.6 624.4h0M771.8 631.8h0M749.1 637.5h0M530.2 642h0M749.1 647.5h0M794.5 668.7h0M808.1 678.3h0"/>
<path stroke="#86ff2b" d="M469.2 158.9h0M579 161.1h0M579 168.2h0M437.1 171.9h0M481.4 199.1h0M535.3 226h0M431.1 236.6h0M465.5 244.2h0M495 263.8h0M463.8 275.2h0M495.6 275.8h0M528.5 276h0M508.6 282h0M503.8 288.2h0M483.1 294.2h0M483.7 299h0M694.2 301.9h0M867.1 301.9h0M694.6 308.5h0M855.8 307.8h0M855.8 313.8h0M448.5 316.4h0M339.2 320h0M340.3 325.1h0M793.3 325.1h0M396.5 332.9h0M336.9 337.1h0M761.6 337.1h0M397 338.6h0M424.1 338.9h0M264.2 341.1h0M431.7 345.1h0M367 348.5h0M426.8 350.8h0M432.2 350.8h0M755.9 360.2h0M786 365.5h0M755.9 382h0M413.8 411.7h0M384 427.2h0M656 463.1h0M633.5 472.8h0M648.3 473.4h0M643.5 484.1h0M653.4 484.1h0M675.9 498.9h0M680.8 498.9h0M690.8 498.9h0M695.7 498.9h0M750.8 498.7h0M605.9 504h0M666.2 509.2h0M630.8 514.3h0M636 514.3h0M691.2 519.1h0M750.2 519.1h0M778.6 519.1h0M783.1 519.1h0M715 524.2h0M778.6 524.2h0M730.3 529.3h0M735.5 529.3h0M567.7 534.2h0M730.5 534.4h0M735.5 534.4h0M819.5 534.4h0M495 534.7h0M396.5 535.9h0M567.3 539.3h0M740 539.3h0M568.8 543.8h0M758.2 544.4h0M801.3 544.4h0M829.7 544.4h0M368.1 545.5h0M461.5 548.4h0M481.4 548.4h0M768.4 549.5h0M510.9 553.5h0M768.4 554.3h0M801.3 554.3h0M763.8 559.4h0M834.2 559.4h0M526.8 563.7h0M763.8 564.5h0M778.6 564.5h0M795.6 564.5h0M800.7 564.5h0M776.3 569.4h0M810.4 569.4h0M829.7 569.4h0M361.3 570.5h0M436 570.5h0M464.4 572.2h0M474.6 572.8h0M819.5 574.1h0M436 579h0M763.8 579h0M734.3 585.8h0M824 587h0M504.1 592.1h0M468.9 597.2h0M813.2 597.7h0M782 607.4h0M217.1 608.5h0M234.2 608.5h0M860.3 611.9h0M223.9 613.6h0M236.4 618.2h0M436 621h0M457.6 621h0M515.5 626.1h0M789.9 627.3h0M246.6 628.4h0M789.9 632.4h0M813.8 636.9h0M402.2 644.3h0M473.8 646h0M836.5 647.1h0M418 649.4h0M468.9 650.5h0M489.3 650.5h0M530.2 652.2h0M744.5 651.7h0M803.6 652.2h0M833.1 655.6h0M803.6 657.3h0M830.8 660.2h0M422.6 664.1h0M808.1 664.7h0M835.3 664.7h0M436 666.4h0M752.5 665.8h0M752.5 670.4h0M338.6 671.5h0M233 675.7h0M579 677.8h0M844.4 678.9h0M354.5 680.6h0M364.7 680.6h0M378.9 681.2h0M384 681.2h0M868.3 682.9h0"/>
<path stroke="#bbff0d" d="M427.8 150h0M218.3 156.6h0M573.3 161.1h0M584.7 161.1h0M430 170.8h0M435.1 170.8h0M580.2 174.5h0M550.6 213.9h0M495.6 255.3h0M471.8 257h0M472.9 263.8h0M469.5 275.2h0M416.3 286h0M862.6 289.4h0M269.9 293.9h0M688.9 301.9h0M280.7 312.7h0M679 313.8h0M803.6 313.8h0M767.2 319.5h0M427.8 322.3h0M433.4 322.3h0M277.3 324h0M782 330.9h0M374.9 332h0M407.8 332.9h0M268.5 334.3h0M854.1 342.3h0M332.3 342.8h0M398.7 344.5h0M437.1 345.7h0M317.6 353.8h0M328.4 354.5h0M367 354.7h0M318.2 359.8h0M357.2 360.6h0M735.5 365.5h0M780.9 365.5h0M791.1 365.5h0M740.6 399h0M403 411.7h0M408.4 411.7h0M854.1 420h0M394.8 428h0M358.3 432.5h0M379.6 432.5h0M294.3 435.9h0M643 462.6h0M629 472.8h0M710.5 473.4h0M720.7 473.4h0M230.8 481.6h0M648.4 484.1h0M249.1 488.1h0M624.1 488.7h0M629 488.7h0M657.7 488.7h0M774 488.7h0M698.6 493.8h0M239.8 498.3h0M685.8 498.9h0M755.9 498.7h0M768.4 498.7h0M656 504h0M661.9 504h0M556.9 509.2h0M650 509.2h0M670.9 509.2h0M812.6 509.2h0M681.1 514h0M686 514h0M705.8 514h0M445.6 519.4h0M686.3 519.1h0M696.1 519.1h0M745.1 519.1h0M783.1 524.2h0M500.1 525.1h0M725.2 529.3h0M430.5 531.9h0M542.7 534.2h0M753.6 534.4h0M801.3 534.4h0M807 534.4h0M446.8 534.7h0M422 541.6h0M744.5 544.4h0M433.9 546.7h0M563.1 548.9h0M573.9 548.9h0M393.8 551.2h0M487.5 553.5h0M772.9 554.3h0M829.7 554.3h0M353.3 555.7h0M363.6 555.7h0M473.5 557.4h0M521.1 558.6h0M655.1 559.1h0M656 559.4h0M758.7 559.4h0M795.6 559.4h0M800.7 559.4h0M805.8 559.4h0M839.1 559.4h0M858 559.4h0M499.6 563.7h0M635.8 564.3h0M773.7 564.5h0M810.9 564.5h0M816 564.5h0M844.4 564.5h0M464.4 567.1h0M782 569.4h0M805.8 569.4h0M763.8 574.1h0M504.7 587h0M509.8 587h0M358.3 590.9h0M509.8 592.1h0M800.2 592.1h0M805.1 592.1h0M446.6 596h0M457.6 601.1h0M818.3 602.8h0M441.7 606.3h0M849 607.4h0M849 611.9h0M347.7 614.8h0M353 614.8h0M491.6 615.9h0M359 619.9h0M446.8 621h0M490.5 621h0M509.8 621.6h0M812.6 622.1h0M850.1 622.1h0M365.8 624.4h0M813.2 627.3h0M818.3 627.3h0M850.1 627.3h0M482.5 631.2h0M859.2 631.2h0M376 634.4h0M530.2 636.9h0M402.2 639.7h0M813.8 642h0M530.2 647.1h0M794.5 647.1h0M813.8 647.1h0M484.2 650.5h0M412.4 654.5h0M418 654.5h0M821.7 655.6h0M827.4 655.6h0M808.1 659.6h0M835.3 660.2h0M428.8 664.1h0M339.2 666.4h0M757.2 670.4h0M808.1 669.8h0M812.6 669.8h0M830.8 669.8h0M515.5 671h0M545 672.7h0M549.5 672.7h0M567.7 672.7h0M844.4 674.4h0M757 674.9h0M325 676.1h0M330.1 676.1h0M354.5 676.6h0M515.5 676.6h0M559.7 677.8h0M564.3 677.8h0M744.5 678.9h0M799 678.9h0M309.1 680.6h0M373.8 681.2h0M409 681.2h0M573.9 681.2h0M579 681.2h0M761.6 681.2h0M797.9 682.9h0M812.6 682.9h0M844.4 682.9h0"/>
<path stroke="#ddff06" d="M220.5 163.4h0M265.4 163.4h0M584.7 168.2h0M495 219h0M529.6 226h0M630.7 258.5h0M688.7 278h0M503 282h0M509.2 288.2h0M462.1 299.4h0M462.5 305.3h0M422.3 322.3h0M386.1 327.8h0M787.7 330.9h0M369.2 332h0M388.5 350.2h0M761 360.2h0M374.3 432.5h0M327.5 437h0M633.3 462.6h0M652.8 462.6h0M725.2 479h0M638.6 484.1h0M678.5 493.8h0M644.9 509.2h0M655.1 509.2h0M675.7 509.2h0M705.9 519.1h0M710.9 519.1h0M475.7 520h0M401.6 531.3h0M562 539.3h0M844 559.4h0M829.7 564.5h0M860.3 587h0M833.8 592.1h0M777.5 597.7h0M505.2 617h0M452.2 621h0M395.3 625.5h0M406.7 634.6h0M396.5 639.7h0M406.7 649.4h0M245.5 652.2h0M535.9 652.2h0M813.8 652.2h0M422.6 659h0M616.5 669.2h0M583.6 672.1h0M424.9 672.7h0M568.8 681.2h0M830.8 682.9h0"/>
<path stroke="#ffff00" d="M248.3 150h0M224.8 156.6h0M453 165.7h0M555.8 167.9h0M235.9 170.8h0M414.5 177.2h0M570.5 187.8h0M670.2 196.1h0M256.9 198h0M466.1 212.2h0M485.4 225.3h0M508.1 225.8h0M480.8 231.3h0M514.3 232.4h0M481.4 238.3h0M548.4 245.7h0M493.9 250.8h0M462.1 262.7h0M463.2 269h0M688.3 271.2h0M453.6 281.2h0M480.8 281.2h0M278.4 282.6h0M284.5 282.6h0M529.6 282.6h0M482.5 287.7h0M401.9 297.9h0M484.8 305.8h0M643 308.1h0M866.6 308.1h0M866 313.8h0M229.1 316.1h0M293.8 318.9h0M679.6 319.5h0M684.9 319.5h0M860.3 325.1h0M412.4 326.3h0M402.2 332.9h0M221.1 334.3h0M387.4 344.5h0M361.9 354.7h0M388.5 355.9h0M437.7 356.4h0M750.8 360.2h0M776.3 360.2h0M512 368.9h0M796.2 371.2h0M499 391.3h0M745.7 399h0M863.7 425.3h0M853.5 435.9h0M647.9 462.6h0M668.5 463.1h0M638.4 468h0M690.5 468.2h0M695.5 468.2h0M667.4 478.5h0M720.7 484.1h0M254.6 488.1h0M648.8 494.1h0M693.6 493.8h0M703.7 493.8h0M250.6 498.3h0M661 498.9h0M665.9 498.9h0M670.9 498.9h0M745.7 498.7h0M667.8 504h0M673.7 504h0M679.6 504h0M715.6 504h0M720.7 504h0M841 504h0M594.9 509.2h0M680.4 509.2h0M689.9 509.2h0M700.8 514h0M710.7 514h0M715.7 514h0M701 519.1h0M715.8 519.1h0M820.6 519.1h0M735.5 524.2h0M787.7 524.2h0M426 526.2h0M426 531.9h0M740 534.4h0M744.5 539.3h0M753.6 539.3h0M460.4 543.8h0M505.2 543.8h0M563.1 543.8h0M807 544.4h0M763.8 549.5h0M795.6 548.9h0M816.6 549.5h0M492.4 553.5h0M834.2 554.3h0M810.4 559.4h0M343.7 560.6h0M504.1 563.7h0M338.6 566h0M344.3 566h0M410.1 566.5h0M430.5 566.5h0M483.7 567.7h0M814.9 569.4h0M484.8 572.8h0M838.7 574.1h0M484.8 577.3h0M431.7 581.3h0M499.6 587h0M867.1 588.1h0M446.2 590.9h0M306.8 595.5h0M833.1 597.7h0M223.4 600.6h0M452.3 601.1h0M228.5 605.7h0M447.4 606.3h0M453 606.3h0M464.4 610.8h0M854.6 611.9h0M465.5 615.3h0M364.7 619.9h0M389.7 620.4h0M475.7 621h0M794.5 627.3h0M800.2 627.3h0M256.9 628.4h0M376 629.5h0M409 630.1h0M386.3 634.6h0M390.8 634.6h0M411.8 634.6h0M463.2 635.8h0M483.7 635.8h0M789.9 636.9h0M485.9 640.3h0M270.5 643.1h0M392.5 649.4h0M406.7 654.5h0M353.3 657.9h0M388.5 657.9h0M418 657.9h0M230.8 661.3h0M236.4 661.3h0M318.2 662.4h0M344.3 666.4h0M373.8 667.5h0M821.7 669.2h0M839.9 669.8h0M344.3 671.5h0M410.5 672.7h0M417.7 672.7h0M624.4 674.4h0M545 677.8h0M554 677.8h0M573.9 677.8h0M839.9 678.9h0M237.6 680.6h0M314.3 680.6h0M335 680.6h0M340.2 680.6h0M345.4 680.6h0M359.6 680.6h0M548.9 681.7h0M564.3 681.7h0M527.9 682.9h0"/>
<path stroke="#ffe500" d="M495.6 179.8h0M688.7 296h0M402.4 304.1h0M628.4 324.6h0M745.7 360.2h0M766.1 360.2h0M322.1 437h0M633.5 468h0M594.3 478.2h0M715.4 484.1h0M805.8 483.9h0M564.3 509.2h0M694.6 509.2h0M740 519.1h0M774 519.1h0M730.2 524.2h0M796.7 529.3h0M391.9 541h0M811.5 549.5h0M821.7 549.5h0M521.1 553.5h0M867.1 565.4h0M772.9 587h0M867.1 592.6h0M447 601.1h0M379.5 614.8h0M818.3 622.1h0M365.8 634.1h0M794.5 642h0M412.4 649.4h0M479.1 650.5h0M859.2 655.1h0M534.8 657.3h0M535.9 662.4h0M335.2 676.1h0M543.8 681.7h0M808.1 682.9h0"/>
<path stroke="#ffcc00" d="M241.8 150h0M409.4 150h0M573.3 152.9h0M596 153.7h0M601.2 153.7h0M231.3 156.6h0M237.9 156.6h0M239.8 163.4h0M278 163.4h0M408.5 177.2h0M580.7 181h0M227.4 184.4h0M570.5 194.6h0M687.2 196.1h0M475.7 199.1h0M456.4 219h0M489.9 219h0M524 226h0M508.6 232.4h0M805.3 265h0M446.2 269h0M475.2 275.2h0M683.4 278h0M625 283.7h0M498.4 288.2h0M825.2 289.4h0M498.4 294.5h0M803.6 295.6h0M407.3 297.9h0M510.3 300.2h0M699.5 301.9h0M809.2 301.6h0M408 304.1h0M267.1 305.3h0M648.4 308.1h0M803.6 307.8h0M824.7 307.8h0M263.1 311.5h0M223.1 316.1h0M299.7 318.9h0M633.5 318.9h0M860.9 319.5h0M344.8 320h0M416.8 322.3h0M438.3 322.9h0M265.9 324h0M855 325.1h0M384.9 326.3h0M380.6 327.8h0M413.5 327.8h0M335.8 331.5h0M341.4 331.5h0M746.2 337.1h0M776.9 342.3h0M338 342.8h0M426 345.1h0M525.7 347.7h0M735.5 348.5h0M741.1 348.5h0M766.7 354.2h0M442.8 356.4h0M351.7 360.6h0M740.4 371.2h0M775.8 371.2h0M502.4 375.2h0M720.7 382.6h0M725.8 382.6h0M740.6 404.1h0M484.8 407.9h0M397.6 411.7h0M440.5 418.3h0M450.8 418.3h0M431.7 428h0M248.9 429.4h0M848.4 430.8h0M369 432.5h0M431.7 433.6h0M288.9 435.9h0M267.1 440.8h0M272.8 440.8h0M678.7 457.5h0M628.4 462.6h0M704.1 462.6h0M685.4 468.2h0M700.6 468.2h0M613.6 473.4h0M653.4 473.4h0M725.2 473.4h0M225.1 481.6h0M704.8 484.1h0M758.7 488.7h0M730.5 493.8h0M735.7 493.8h0M746.1 493.8h0M685.5 504h0M606.3 509.2h0M725.2 509.2h0M834.2 509.2h0M455.3 514.3h0M430.2 516.6h0M440.5 519.4h0M543.8 528.5h0M824 534.4h0M577.9 539.3h0M427.1 541.6h0M473.5 545h0M388.5 546.1h0M521.1 548.9h0M829.7 549.5h0M473.5 553.5h0M810.4 554.3h0M854.2 554.3h0M819.5 568.8h0M867.1 571.1h0M498.4 573.3h0M426.6 576.2h0M833.1 579h0M441.1 585.8h0M846.7 587h0M298.9 599.4h0M441.7 601.1h0M485.9 601.1h0M489.3 601.1h0M292 604.5h0M382.9 610.8h0M412.4 611.4h0M229.1 613.6h0M388.5 615.3h0M446.2 615.9h0M395.3 620.4h0M255.7 623.3h0M351.1 624.4h0M351.1 629.5h0M385.1 630.1h0M425.4 630.7h0M306.8 633.5h0M416.9 634.6h0M510.9 635.8h0M864.9 641.4h0M789.9 642h0M356.7 643.7h0M346.5 648.8h0M363.6 648.8h0M832.5 651.7h0M382.9 657.9h0M629 660.7h0M327.2 661.9h0M357.9 662.4h0M630.1 668.7h0M817.2 669.2h0M520 671h0M403.3 672.7h0M618.7 674.4h0M630.1 674.4h0M216 675.7h0M278.4 675.7h0M360.2 676.6h0M273.9 680.6h0M319.5 680.6h0M554 681.7h0"/>
<path stroke="#ffb300" d="M244.4 156.6h0M233.4 163.4h0M263.7 179.1h0M552.3 181h0M591.5 181.6h0M698 182.1h0M221.1 184.4h0M471.2 206.3h0M545 213.9h0M572.2 213.9h0M479.7 225.3h0M478.6 263.8h0M457.6 269h0M608.5 271.5h0M805.3 271.2h0M271.1 276.3h0M625 277.5h0M426.6 279.7h0M459 281.2h0M464.5 281.2h0M475.4 281.2h0M862.6 283.1h0M615.3 283.7h0M699 283.7h0M292 288.2h0M477.1 287.7h0M819.9 289.4h0M683.4 296h0M694 296h0M699.3 296h0M704.6 296h0M709.9 296h0M265.9 300.2h0M856.3 301.3h0M643.2 301.9h0M668.5 301.9h0M704.7 301.9h0M278.4 306.4h0M637.5 308.1h0M746.2 308.1h0M778 308.1h0M793.3 308.1h0M845.6 307.8h0M341.4 308.7h0M473.5 311h0M338 314.4h0M673.6 313.8h0M808.7 313.8h0M628.4 318.9h0M669.1 319.5h0M674.4 319.5h0M855.6 319.5h0M395.3 320.6h0M679.6 325.5h0M390.4 326.3h0M776.9 336h0M854.6 336h0M741.1 337.1h0M756.5 337.1h0M418.6 338.9h0M360.2 343.4h0M447.9 350.8h0M761.6 354.2h0M394.2 355.9h0M435.6 357h0M389.7 361.6h0M352.1 366.1h0M704.8 365.5h0M730.3 365.5h0M379.5 366.7h0M735.5 371.2h0M750.2 371.2h0M770.6 371.2h0M780.9 371.2h0M685.5 382h0M760.4 399h0M866.6 399h0M432.2 401.1h0M730.6 404.1h0M745.7 404.1h0M419.2 411.7h0M434.5 417.7h0M455.9 418.3h0M414.6 422.3h0M430.5 422.3h0M441.1 423.8h0M297.9 425.7h0M298.3 431h0M310.2 431h0M363.6 432.5h0M384.9 432.5h0M390.2 432.5h0M441.7 434.2h0M283.5 435.9h0M332.9 437h0M375.1 437.4h0M401.6 448.4h0M680.4 452.1h0M661.7 457.5h0M623.9 468h0M680.4 468.2h0M705.6 468.2h0M710.7 468.2h0M715.7 468.2h0M618.7 473.4h0M599.5 478.2h0M730.4 479h0M656 483.6h0M710.1 484.1h0M753.6 483.9h0M760.4 483.9h0M753.6 488.7h0M788.2 488.7h0M619.9 494.1h0M683.6 493.8h0M688.6 493.8h0M740.9 493.8h0M656 498.9h0M223.9 502.9h0M572.2 503.7h0M610.8 504h0M685.1 509.2h0M533.6 513.2h0M690.9 514h0M695.9 514h0M783.1 514h0M435.1 516.6h0M720.7 519.1h0M730.5 519.1h0M499.6 520h0M719.6 524.2h0M724.9 524.2h0M573.3 528.5h0M480.3 529.6h0M572.8 534.2h0M577.9 534.2h0M441.4 534.7h0M520 539.3h0M828.5 539.3h0M481.4 539.8h0M496.2 543.8h0M821.7 544.4h0M834.2 544.4h0M373.8 545.5h0M398.7 546.1h0M378.3 551.2h0M805.8 554.3h0M839.2 554.3h0M844.2 554.3h0M849.2 554.3h0M849 559.4h0M482.5 563.1h0M415.2 566.5h0M425.4 566.5h0M488.2 567.7h0M504.1 568.8h0M834.2 574.1h0M346.5 575.6h0M431.7 576.2h0M867.1 576.7h0M508.6 577.9h0M514.3 577.9h0M426.6 581.3h0M828.5 587h0M851.2 587h0M838.7 592.1h0M290.9 599.4h0M294.9 599.4h0M777.5 602.3h0M838.7 602.3h0M297.7 604.5h0M795.6 607.4h0M813.8 607.4h0M307.9 609.1h0M470.1 610.8h0M474.6 610.8h0M308.5 614.2h0M500.7 616.5h0M505.2 621.6h0M794.5 622.1h0M245.5 623.3h0M400.4 625.5h0M251.8 628.4h0M300 629h0M390.8 630.1h0M463.2 630.7h0M492.8 635.8h0M859.2 641.4h0M799 647.1h0M803.6 647.1h0M831.9 647.1h0M357.9 648.8h0M397.6 649.4h0M860.3 650.5h0M837.6 651.7h0M267.1 652.6h0M854.6 655.1h0M218.3 655.6h0M228.1 655.6h0M817.2 655.6h0M378.3 662.4h0M534.8 664.7h0M826.3 664.7h0M348.8 667h0M624.4 668.7h0M230.8 671h0M237 671h0M243.2 671h0M835.3 674.4h0M314.8 675.7h0M320.4 675.7h0M549.5 677.8h0M568.8 677.8h0M242.1 680.6h0M248.3 680.6h0M559.2 681.7h0"/>
<path stroke="#ff9900" d="M250.9 156.6h0M257.4 156.6h0M261.4 171.9h0M500.3 173h0M502 186.7h0M593.2 195.7h0M656.6 215h0M518.3 226h0M493.3 244.9h0M640.3 253.6h0M667.4 253.6h0M458.1 275.2h0M621 289.4h0M678.1 296h0M825.1 295.6h0M499.4 300.2h0M413.5 304.1h0M850.7 307.8h0M353.2 308.7h0M506.4 311.5h0M704.8 313.8h0M834.8 313.8h0M654.5 318.9h0M808.7 319.5h0M654.5 324.6h0M391.6 327.8h0M492.8 329.2h0M352.8 331.5h0M613.1 342.3h0M787.1 342.3h0M361.3 348.5h0M395.2 361.6h0M400.6 361.6h0M659.4 365h0M775.8 365.5h0M358.1 372.3h0M735.5 376.5h0M750.2 376.5h0M421.7 401.1h0M427 401.1h0M437.7 401.3h0M445.6 418.3h0M252.3 418.9h0M859.2 420h0M303.3 425.7h0M347.1 426.8h0M426.6 428h0M715.6 436.2h0M380.4 437.4h0M385.5 442.7h0M670.8 452.1h0M402.2 453.7h0M708.9 462.6h0M718.5 462.6h0M866 467.1h0M740.7 479h0M236.4 481.6h0M768.9 488.7h0M673.5 493.8h0M725.2 493.8h0M787.7 509.2h0M839.9 509.2h0M720.6 514h0M425.4 516.6h0M524.5 518.3h0M764.2 519.1h0M450.5 524.5h0M833.1 534.4h0M365.8 535.3h0M795.6 544.4h0M388.5 551.2h0M482.5 558.6h0M287.8 564.8h0M824 574.1h0M421.4 581.3h0M353 590.9h0M419.7 591.5h0M388.2 610.8h0M398.7 615.3h0M451.1 615.9h0M800.2 617h0M361.3 629.9h0M284.1 639.2h0M346.5 639.2h0M803.6 642h0M391.9 644.3h0M387.4 649.4h0M474 650.5h0M261.4 652.6h0M369.2 667h0M354.5 671.5h0M324.6 680.6h0M329.8 680.6h0M849 682.9h0"/>
<path stroke="#ff8000" d="M691.2 148.4h0M228.8 150h0M613.1 154.3h0M612.5 161.7h0M618.4 161.7h0M227 163.4h0M271.7 163.4h0M284.3 163.4h0M458.7 165.7h0M442.5 171.9h0M447.9 171.9h0M697.4 175.3h0M396.5 177.2h0M489.9 179.8h0M501.3 179.8h0M575 181h0M593.2 188.1h0M254.6 191.2h0M503.5 193.5h0M692.9 196.1h0M244.4 198h0M487.1 199.1h0M548.9 201.1h0M252.7 204.8h0M477.4 212.2h0M483.1 212.2h0M655.1 215.4h0M665.1 215h0M682.7 221.8h0M568.2 225.8h0M801.9 228.1h0M568.2 233.8h0M464.4 238.3h0M656.6 246.8h0M564.8 251.9h0M477.7 257h0M483.7 257h0M667.4 258.2h0M672.8 258.2h0M456.4 262.7h0M656 271.8h0M667.4 271.8h0M276.2 276.3h0M296.6 276.3h0M858 276.9h0M863.2 276.9h0M704.5 278h0M709.8 278h0M469.9 281.2h0M296.6 282.6h0M678.1 283.7h0M693.7 283.7h0M709.7 283.7h0M825.7 283.7h0M836.5 283.7h0M405 286h0M693.7 289.4h0M814.6 289.4h0M830.6 289.4h0M504.1 294.5h0M610.5 295.6h0M615.9 295.6h0M715.2 296h0M396.5 297.9h0M451.3 299h0M473.5 299.4h0M710 301.9h0M825.1 301.6h0M830.5 301.6h0M335.2 302.8h0M340.9 302.8h0M457 305.3h0M473.5 305.3h0M606 307.8h0M622.2 307.8h0M704.8 307.8h0M808.9 307.8h0M814.2 307.8h0M835.3 307.8h0M403.3 309.8h0M286.4 312.7h0M297.7 312.7h0M343.7 314.4h0M622.2 313.8h0M829.7 313.8h0M287.8 318.9h0M649.4 318.9h0M813.8 319.5h0M411.2 322.3h0M674.4 325.5h0M684.9 325.5h0M849.7 325.1h0M379.5 326.3h0M395.9 326.3h0M397 327.8h0M261.4 329.2h0M550.6 329.8h0M634.1 330.7h0M654.5 330.7h0M679.8 330.9h0M793.3 330.9h0M860.3 330.9h0M363.6 332h0M787.7 336h0M860.3 336h0M342.6 337.1h0M348.2 337.1h0M736 337.1h0M751.3 337.1h0M217.7 339.8h0M608.2 342.3h0M771.8 342.3h0M782 342.3h0M420.3 345.1h0M664.5 348.5h0M782 348.5h0M421.4 350.8h0M311.9 353.8h0M598.3 354.2h0M659.4 354.2h0M664.5 354.2h0M690.1 354.2h0M771.8 354.2h0M787.1 354.2h0M334 354.5h0M704.8 359.8h0M771.2 360.2h0M781.4 360.2h0M346.3 360.6h0M373.5 360.6h0M378.9 360.6h0M319.3 365h0M346.6 366.1h0M357.5 366.1h0M654.5 365.5h0M709.9 365.5h0M715 365.5h0M725.2 365.5h0M796.2 365.5h0M724.1 371.2h0M745.3 371.2h0M497.2 375.2h0M512.6 375.4h0M796.2 376.3h0M354.8 377.4h0M360.3 377.4h0M715 376.5h0M730.3 376.5h0M750.2 382.2h0M366.4 383.3h0M478 386h0M675.1 387.7h0M680.3 387.7h0M725.8 387.7h0M820.6 387.9h0M478.6 390.8h0M695.3 393.3h0M725.8 393.3h0M745.7 393.3h0M861.4 393.1h0M866.6 393.3h0M432.2 395.6h0M433.4 406.4h0M475.2 407.5h0M439.4 412.6h0M455.3 412.6h0M480.8 413.2h0M471.2 418.3h0M329.5 420.8h0M334.8 420.8h0M340.1 420.8h0M345.4 420.8h0M287 425.7h0M292.5 425.7h0M399.9 428h0M243.2 429.4h0M304.3 431h0M853.5 430.8h0M426.6 433.6h0M261.4 434.8h0M267.1 434.8h0M343.1 437.4h0M416.9 439.3h0M261.4 440.8h0M278.4 440.8h0M858.6 441h0M659.4 441.6h0M374.7 442.7h0M696.1 446.5h0M652.2 446.7h0M675.3 452.1h0M685.5 452.1h0M695.7 452.1h0M396.8 453.7h0M648.3 457.5h0M653.4 457.5h0M656 457.5h0M667.4 457.5h0M673 457.5h0M688.9 456.9h0M694.1 456.9h0M684.9 462.6h0M689.7 462.6h0M694.5 462.6h0M699.3 462.6h0M720.7 468.2h0M730.8 468.2h0M735.9 468.2h0M740.9 468.2h0M745.9 468.2h0M730.3 473.4h0M735.4 473.4h0M750.6 473.4h0M755.6 473.4h0M760.7 473.4h0M643.7 478.5h0M735.5 479h0M745.8 479h0M219.4 481.6h0M247.8 483h0M253.5 483h0M700.3 484.1h0M663.4 488.7h0M705.9 488.7h0M763.8 488.7h0M811.5 488.7h0M816.8 488.7h0M250.1 493.4h0M668.5 493.8h0M751.3 493.8h0M830.8 493.8h0M773.7 498.7h0M755.9 504h0M778.6 504h0M802.4 504h0M807.5 504h0M551.8 509.2h0M600.6 509.2h0M720.1 509.2h0M730.3 509.2h0M864.9 509.2h0M450.5 514.3h0M725.6 514h0M788.2 514h0M820.6 514h0M450.8 519.4h0M725.6 519.1h0M735.5 519.1h0M769.5 519.1h0M787.7 519.1h0M345.8 530.8h0M524.5 534.2h0M529.1 534.2h0M371.5 535.3h0M436 534.7h0M480.3 534.7h0M520 534.7h0M427.1 536.4h0M495 539.3h0M833.1 539.3h0M446.2 539.8h0M485.9 539.8h0M473.5 548.9h0M753.6 548.9h0M834.2 549.5h0M859.6 548.9h0M819.5 554.3h0M859.2 554.3h0M492.4 558.6h0M488.2 563.1h0M293.3 564.8h0M420.3 566.5h0M498.4 568.8h0M287.5 569.9h0M361.3 575.6h0M416.3 576.2h0M421.4 576.2h0M503 577.9h0M824 579h0M843.3 579h0M346.5 580.1h0M411.2 581.3h0M416.3 581.3h0M264.8 584.7h0M429.7 586.4h0M435.1 586.4h0M347.7 590.9h0M363.6 590.9h0M436 590.9h0M222.8 595.5h0M357.9 595.5h0M441.7 596h0M490.5 597.2h0M398.7 601.1h0M492.8 601.1h0M813.2 602.8h0M476.9 605.1h0M398.7 605.7h0M318.2 609.7h0M393.4 610.8h0M398.7 610.8h0M418 611.4h0M423.7 611.4h0M358.3 614.8h0M393.6 615.3h0M456.1 615.9h0M401 620.4h0M406.7 620.4h0M800.2 622.1h0M808.1 622.1h0M251.2 623.3h0M405.6 625.5h0M808.1 627.3h0M284.1 629h0M367 629.9h0M468.9 630.7h0M290.9 633.5h0M352.2 634.1h0M381.7 634.4h0M488.2 635.8h0M794.5 636.9h0M289.8 639.2h0M301.1 639.2h0M306.8 639.2h0M380.6 639.7h0M638 640.9h0M643.7 640.9h0M799 642h0M346.5 643.7h0M376 644.3h0M864.9 646h0M352.2 648.8h0M374.9 648.8h0M854.6 650.5h0M629 655.1h0M223.2 655.6h0M233 655.6h0M283 657.3h0M530.2 657.3h0M218.3 660.2h0M223.9 660.2h0M531.3 659.6h0M821.7 660.2h0M287.5 661.9h0M334 661.9h0M530.2 664.7h0M812.6 664.7h0M258 666.4h0M535.9 669.8h0M218.3 671h0M259.1 671h0M826.3 674.4h0M237.6 675.7h0M243.2 675.7h0M248.9 675.7h0M520 676.6h0M826.3 678.9h0M254.6 680.6h0M606.3 682.9h0M613.1 682.9h0"/>
<path stroke="#ff6600" d="M590.4 168.2h0M496.2 225.8h0M678.1 233.8h0M796.2 234h0M435.6 236.6h0M437.1 236.6h0M569.4 239.7h0M709.9 271.2h0M415.2 279.7h0M688.3 283.7h0M831.1 283.7h0M688.3 289.4h0M509.8 294.5h0M668.5 296h0M851.2 301.3h0M505.8 305.8h0M830 307.8h0M347.3 308.7h0M227.4 310.4h0M349.4 314.4h0M813.8 313.8h0M623.3 318.9h0M300.9 324h0M406.9 326.3h0M408 327.8h0M318.7 330.9h0M656 330.9h0M793.3 336h0M270.8 346.8h0M776.9 354.2h0M650 354.5h0M664.5 359.8h0M363 366.1h0M649.4 365.5h0M407.3 367.2h0M680.4 382h0M685.5 387.7h0M470.6 413.2h0M419.9 422.3h0M369.7 437.4h0M406.7 439.3h0M411.8 439.3h0M390.8 442.7h0M396.2 448.4h0M690.6 452.1h0M713.7 462.6h0M725.8 468.2h0M604 473h0M745.5 473.4h0M801.3 483.9h0M836.5 498.9h0M846.7 504h0M715 509.2h0M529.1 518.3h0M792.8 524.2h0M480.3 525.1h0M577.9 528.5h0M828.5 534.4h0M837.6 534.4h0M431.1 536.4h0M361.3 540.6h0M749.1 544.4h0M811.5 544.4h0M399 551.2h0M293.2 569.9h0M489.3 572.8h0M353.3 585.8h0M518.9 587h0M833.1 587h0M221.7 590.4h0M301.1 595.5h0M483.7 597.2h0M843.7 602.3h0M388.5 605.7h0M854.6 607.4h0M500.7 611.4h0M281.8 618.7h0M325.5 624.4h0M283 633.5h0M325 638.9h0M369.2 648.8h0M526.8 659.6h0M340.9 661.9h0M273.9 671.5h0M273.3 675.7h0M599.5 682.9h0"/>
<path stroke="#ff4c00" d="M680.4 148.4h0M235.3 150h0M255.2 150h0M579 152.9h0M584.7 152.9h0M675.3 155.2h0M601.2 161.7h0M780.9 169.1h0M388.8 170.2h0M301.1 181h0M608.5 181.6h0M681.5 196.1h0M504.1 200.3h0M476.9 206.3h0M419.2 236.6h0M655.1 246.5h0M640.3 246.8h0M439.4 255.9h0M640.3 265.5h0M660 265.5h0M672.5 265.5h0M281.5 269.5h0M640.3 271.8h0M650.5 271.8h0M425.4 274.4h0M804.7 277.8h0M403.9 279.7h0M409.5 279.7h0M604 283.7h0M635.8 283.7h0M615.6 289.4h0M636.3 289.6h0M356.9 296.4h0M631.2 295.6h0M662.8 296h0M830.5 295.6h0M846.7 295.6h0M493.9 300.2h0M521.1 301h0M547.8 301.3h0M631.8 301.9h0M715.3 301.9h0M231.3 304.1h0M290.2 306.4h0M489.9 305.8h0M767.4 308.1h0M233.4 310.4h0M292 312.7h0M326.7 313.8h0M235 316.1h0M475.7 317.8h0M350.5 320h0M356.2 320h0M253.5 324h0M402.5 327.8h0M503.5 329.2h0M313 330.9h0M347.1 331.5h0M602.9 330.7h0M639.2 330.7h0M649.4 330.7h0M671.3 330.9h0M227 334.3h0M262.6 334.3h0M808.1 336.6h0M462.7 340.6h0M286.9 341.7h0M792.2 342.3h0M276.6 346.8h0M603.4 348.2h0M306.2 353.8h0M680.4 354.2h0M740.6 354.7h0M848.4 354.7h0M593.2 359.1h0M301.6 359.8h0M644.9 359.8h0M730.3 359.8h0M786.5 360.2h0M406.1 361.6h0M401.9 367.2h0M352.6 372.3h0M343.8 377.4h0M720.1 376.5h0M740.6 376.5h0M659.4 387.7h0M866.6 387.7h0M367.5 389.4h0M415.8 389.9h0M685.5 393.3h0M700.6 393.3h0M478.6 396.7h0M725.8 399h0M805.8 399h0M416.5 401.1h0M725.8 404.1h0M412.9 406h0M423.7 406h0M438.3 407h0M317 410.7h0M377.7 415.5h0M476.3 418.3h0M258 418.9h0M425.2 422.3h0M259.7 424.5h0M325 425.1h0M276.2 425.7h0M314.2 425.7h0M277.3 431h0M750.5 430.8h0M863.7 430.8h0M244.4 434.8h0M685.5 435.9h0M750.6 436.2h0M364.4 437.4h0M250.1 440.8h0M255.7 440.8h0M652.8 441h0M686.8 441.2h0M331.9 442.7h0M358.7 442.7h0M364 442.7h0M369.4 442.7h0M262.1 446.1h0M690.8 446.5h0M627.8 446.9h0M364.2 448.4h0M374.9 448.4h0M385.6 448.4h0M613 452.4h0M651.7 452.4h0M660.9 452.1h0M665.8 452.1h0M705.9 452.1h0M711.1 452.1h0M407.8 454.6h0M699.3 456.9h0M723.3 462.6h0M732.8 462.6h0M737.6 462.6h0M742.4 462.6h0M751 468.2h0M765.8 473.4h0M770.8 473.4h0M761.3 479h0M766.5 479h0M771.6 479h0M579.6 483.9h0M675.3 484.1h0M695.3 484.1h0M776.3 483.9h0M791.3 483.9h0M811.5 483.9h0M570.5 488.7h0M779 498.7h0M784.3 498.7h0M235.3 503.4h0M738.9 504h0M538.2 509.2h0M777.5 509.2h0M817.2 509.2h0M859.7 509.2h0M436 514.3h0M730.5 514h0M749.1 514h0M754.2 514h0M793.3 514h0M844.4 514h0M753.6 519.1h0M797.9 519.1h0M812.6 519.1h0M859.9 519.1h0M802.4 524.5h0M801.3 529.3h0M450.8 529.6h0M455.3 529.6h0M495 529.6h0M485.9 534.7h0M465.5 538.7h0M515.5 539.3h0M864.9 538.7h0M346.5 540.4h0M465.5 543.8h0M838.7 544.4h0M849.5 544.4h0M447.4 548.4h0M838.7 548.9h0M864.9 548.9h0M296.2 550.4h0M497.3 553.5h0M270.5 554.6h0M368.9 560.8h0M276.7 564.8h0M349.9 566h0M267.1 569.7h0M272.8 569.7h0M356.7 570.5h0M367 570.8h0M335.2 575.6h0M386.3 580.1h0M424.4 586.4h0M425.7 591.5h0M431.7 591.5h0M441.1 590.9h0M858 591.5h0M292 595.5h0M318.2 600.6h0M481.4 605.1h0M393.6 605.7h0M244.4 618.2h0M287.5 618.7h0M340.9 624.4h0M264.8 633.5h0M264.8 638.6h0M295.5 639.2h0M385.7 639.7h0M351.6 643.7h0M386.6 644.3h0M643.7 646h0M363.6 652.8h0M821.7 664.7h0M353.9 667h0M251.2 671h0M374.9 676.6h0M625 677.8h0M839.9 682.9h0"/>
<path stroke="#ff3300" d="M222.2 150h0M681 155.2h0M788.2 154.9h0M555.8 161.1h0M624.2 161.7h0M742.3 168.8h0M494.5 173h0M590.9 175h0M608 174.7h0M747.4 175.3h0M402.5 177.2h0M484.2 179.8h0M468.3 185.9h0M229.9 191.2h0M698.6 196.1h0M259 204.8h0M527.4 207.1h0M589.2 214.2h0M655.1 227.3h0M656.6 227.5h0M420.9 243.4h0M435.6 243.4h0M437.7 243.8h0M646 246.8h0M427.7 250.2h0M476.9 250.8h0M672.8 253.6h0M445.6 263.1h0M661.7 271.8h0M286.4 276.3h0M715 278h0M420.9 279.7h0M438.3 286.5h0M530.2 288.8h0M699 289.4h0M293.8 295.1h0M236.4 299h0M260.3 300.2h0M637.5 301.9h0M237.6 304.1h0M325 307.5h0M653.9 308.1h0M746.2 313.8h0M850.4 313.8h0M217.1 316.1h0M501.8 317.8h0M623.3 324.6h0M808.7 325.1h0M401.4 326.3h0M661.1 330.9h0M705.4 330.9h0M603.2 342.3h0M265 346.8h0M848.4 348.5h0M526.8 353.4h0M695.3 354.2h0M782 354.2h0M720.1 365.5h0M491.9 375.2h0M659.4 376.3h0M846.7 376.3h0M365.8 377.4h0M745.4 376.5h0M451.3 386h0M735.5 393.3h0M427.1 395.6h0M411.2 401.1h0M407.5 406h0M418.3 406h0M275 419.4h0M236.4 424.2h0M849 425.3h0M710.5 436.2h0M745.7 436.2h0M348.4 437.4h0M359.1 437.4h0M385.7 437.4h0M289.2 441h0M685.5 446.5h0M369.6 448.4h0M380.2 448.4h0M390.9 448.4h0M700.8 452.1h0M716.2 452.1h0M704.5 456.9h0M709.7 456.9h0M714.9 456.9h0M728 462.6h0M747.2 462.6h0M752 462.6h0M756 468.2h0M761.1 468.2h0M766.1 468.2h0M740.4 473.4h0M751 479h0M756.1 479h0M584.7 483.9h0M781.3 483.9h0M786.3 483.9h0M796.3 483.9h0M841.4 498.9h0M782.6 509.2h0M759.3 514h0M758.9 519.1h0M792.8 519.1h0M805.8 519.1h0M583 524h0M592.6 524h0M797.9 524.2h0M455.3 524.5h0M523.4 529.1h0M843.3 534.4h0M514.3 534.7h0M411.8 536.4h0M435.1 536.4h0M837.6 539.3h0M436 539.8h0M366.7 540.6h0M372.1 540.6h0M441.7 543.3h0M816.6 544.4h0M854.9 544.4h0M860.3 544.4h0M844 548.9h0M849.2 548.9h0M302.3 550.4h0M433.9 552.3h0M448.5 553.5h0M482.5 553.5h0M264.8 554.6h0M497.3 558.6h0M271.6 559.9h0M853.5 564.5h0M405 566.5h0M351.1 570.5h0M504.1 573.3h0M246.6 574.5h0M268.2 575h0M411.2 576.2h0M838.2 579h0M268.2 579.6h0M342 580.1h0M331.8 585.8h0M348 585.8h0M413.7 586.4h0M419.1 586.4h0M436 585.8h0M855.8 587h0M306.8 590.4h0M808.1 597.7h0M393.1 601.1h0M808.1 602.8h0M303.4 609.7h0M234.2 613.6h0M363.6 614.8h0M374.2 614.8h0M461 615.9h0M789.9 617h0M263.7 629h0M381.3 644.3h0M523.4 669.8h0M529.6 669.8h0M523.4 675.5h0"/>
<path stroke="#ff1a00" d="M787.7 148.4h0M793.9 154.9h0M647.1 161.7h0M680.4 162h0M793.3 162h0M297 163.4h0M510.3 166.8h0M641.4 168.5h0M376.8 170.2h0M512 173h0M742.3 181.6h0M753.6 181.6h0M271.6 186.7h0M290.9 186.7h0M764.5 188.9h0M649.4 209h0M462.1 219h0M694 221.8h0M451.3 224.9h0M430 229.8h0M672.5 233.8h0M623.9 246.3h0M817.5 253.6h0M843.3 258.2h0M842.2 271.2h0M545.5 276.3h0M693.9 278h0M656 284.3h0M846.7 283.7h0M354.5 284.8h0M377.2 284.8h0M610.1 289.4h0M704.4 289.4h0M642 289.6h0M461.5 293.9h0M636.9 295.6h0M642.6 295.6h0M648.3 295.6h0M553.5 301.3h0M284.3 306.4h0M762.1 308.1h0M772.7 308.1h0M245.5 310.4h0M725.2 319.8h0M528.7 324h0M612.5 324.6h0M756.6 325.1h0M844.4 325.1h0M248.9 329.2h0M498.1 329.2h0M695.2 330.9h0M823.6 330.9h0M828.8 330.9h0M256.7 334.3h0M493.3 335.2h0M843.9 336.6h0M849 336.6h0M545.5 341.3h0M598.3 348.2h0M730.3 354.7h0M608.5 359.1h0M802.1 359.8h0M427.7 362.1h0M644.3 365.5h0M801.9 365.5h0M807 365.5h0M396.5 367.2h0M412.4 367.5h0M423.2 367.5h0M347.1 372.3h0M465.5 374h0M470.6 374h0M836.5 376.3h0M332.8 377.4h0M791.1 382h0M801.3 382h0M360.9 383.3h0M414.9 384.8h0M420.3 384.8h0M356.5 389.4h0M670.8 393.3h0M715.6 393.3h0M836.5 399h0M860.3 399h0M805.8 403.5h0M829.7 404.1h0M443.4 407h0M217.1 413.5h0M228.5 413.5h0M279.6 413.5h0M301.7 414.9h0M356.2 415.5h0M372.4 415.5h0M766.1 425.7h0M755.5 430.8h0M255.7 434.8h0M760.4 436.2h0M681.9 441.2h0M779.9 441.6h0M337.3 442.7h0M353.3 442.7h0M273.3 446.1h0M701.4 446.5h0M779.7 446.7h0M863.2 446.7h0M328.4 447.6h0M427.7 449.9h0M720.1 456.9h0M579.2 462.3h0M756.8 462.6h0M812.9 473.4h0M565.4 483.6h0M832.5 488.7h0M835.7 493.8h0M860 493.8h0M261.4 498.7h0M251.8 504h0M861.2 504h0M264.2 508.6h0M517.7 509.2h0M822.3 509.2h0M445.6 514.3h0M844.9 519.1h0M849.9 519.1h0M527.9 524h0M531.9 524h0M535.9 524h0M514.3 525.1h0M811.4 529.3h0M816.4 529.3h0M841.6 529.3h0M351.3 530.8h0M849 539.3h0M377.5 540.6h0M844.1 544.4h0M347.7 546.1h0M248.9 555.2h0M348.8 560.8h0M353.8 560.8h0M414.6 560.8h0M246.6 569.9h0M392.5 570.8h0M320.4 575.6h0M294.3 580.1h0M362.4 585.8h0M387.1 586.4h0M397.7 586.4h0M403.1 586.4h0M408.4 586.4h0M397.6 591.5h0M352.6 595.5h0M422.6 597.2h0M837.6 597.7h0M853.5 597.7h0M848.6 602.3h0M312.5 605.7h0M329.5 605.7h0M257.2 613.6h0M262.5 618.2h0M309.1 619.3h0M269.3 623.3h0M311.3 643.7h0M830.8 674.4h0M259.1 675.7h0M264.8 675.7h0M364.7 676.6h0"/>
<path stroke="#ff0000" d="M662.2 148.4h0M674.4 148.4h0M720.7 148.4h0M793.3 148.4h0M816.3 148.4h0M822.3 148.4h0M828.2 148.4h0M834.2 148.4h0M261.6 150h0M403.3 150h0M555.8 152.6h0M743.4 153.7h0M800.2 153.7h0M823.4 153.7h0M669.6 155.2h0M720.7 154.9h0M753.6 155.4h0M759.9 155.4h0M777.5 156h0M263.1 156.6h0M269.5 156.6h0M276 156.6h0M282.4 156.6h0M475.2 158.9h0M487.1 158.9h0M742.8 160.6h0M630.1 161.7h0M669.1 162h0M674.7 162h0M753.6 162h0M290.7 163.4h0M499 166.8h0M504.7 166.8h0M630.1 168.5h0M647.1 168.5h0M703.1 168.5h0M708.8 168.5h0M792.2 168.5h0M680.4 168.8h0M764.4 169.1h0M775.2 169.1h0M382.8 170.2h0M254.6 171.9h0M506.2 173h0M292.6 173.6h0M299 173.6h0M641.4 175.3h0M647.7 175.3h0M686.1 175.3h0M691.8 175.3h0M703.1 175.3h0M708.8 175.3h0M736.6 175.3h0M742 175.3h0M792.2 175.3h0M669.1 175.6h0M674.7 175.6h0M680.4 175.6h0M390.5 177.2h0M420.5 177.2h0M426.6 177.2h0M243.8 177.9h0M478.6 179.8h0M708.8 181.6h0M398 183.6h0M403.9 183.6h0M253.5 185.5h0M278.1 186.7h0M507.9 186.7h0M513.8 186.7h0M309.1 187.8h0M664.5 188.6h0M747.8 188.9h0M753.4 188.9h0M759 188.9h0M770.1 188.9h0M223.4 191.2h0M236.4 191.2h0M525.7 193.8h0M604 195.2h0M659.4 196.1h0M231.9 198h0M238.1 198h0M263.1 198h0M698.6 202.6h0M709.3 202.6h0M240 204.8h0M246.3 204.8h0M437.1 205.4h0M482.5 206.3h0M488.2 206.3h0M505.2 207.1h0M605.1 208.6h0M241.5 211.1h0M248.3 211.1h0M471.8 212.2h0M511.5 213.6h0M583.6 214.2h0M649.4 215.4h0M693.5 214.7h0M243.8 217.6h0M250.6 217.6h0M500.7 219.2h0M506.4 219.2h0M589.8 220.7h0M791.1 221.1h0M440 224.9h0M457 224.9h0M502.1 225.8h0M590.4 227.5h0M688.3 228.1h0M791.1 227.5h0M666.8 233.8h0M458.7 238.3h0M640.3 240.8h0M694 241.1h0M796.2 241.1h0M443.4 243.8h0M482 244.2h0M673 246.8h0M483.1 250.8h0M683.8 253.6h0M768.4 254h0M678.3 258.2h0M683.8 258.2h0M693.5 258.2h0M768.4 260.4h0M394.8 261h0M741.1 265h0M815.5 265h0M864.3 265h0M655.1 265.5h0M677.9 265.5h0M688.8 265.5h0M694.3 265.5h0M726 265.5h0M395.9 267.3h0M275.5 269.5h0M693.7 271.2h0M704.5 271.2h0M715.3 271.2h0M720.7 271.2h0M741.1 271.5h0M815.5 271.5h0M863.7 270.7h0M396.5 273.5h0M281.3 276.3h0M539.3 276.3h0M560.9 276.7h0M603.4 276.9h0M646 277.5h0M846.7 277.5h0M656 278h0M661.1 278h0M678.1 278h0M699.2 278h0M741.1 277.8h0M398.2 279.7h0M661.7 284.3h0M704.4 283.7h0M715 283.7h0M820.3 283.7h0M371.5 284.8h0M256.3 288.2h0M263.1 288.2h0M466.1 287.7h0M471.6 287.7h0M551.8 289.2h0M604.7 289.4h0M709.7 289.4h0M715 289.4h0M835.9 289.4h0M846.7 289.4h0M647.7 289.6h0M361.3 290.7h0M240.4 292.6h0M258 293.4h0M552.3 295.4h0M558 295.4h0M346 296.4h0M351.5 296.4h0M605.1 295.6h0M720.5 296h0M835.9 295.6h0M504.9 300.2h0M295.5 301.3h0M611.1 301.6h0M616.5 301.6h0M778 301.6h0M788.2 301.6h0M835.9 301.6h0M346.5 302.8h0M352.2 302.8h0M363.6 302.8h0M391.4 304.1h0M396.9 304.1h0M296.1 306.4h0M500.1 305.8h0M548.4 306.4h0M521.7 307h0M532.5 307h0M600.6 307.8h0M611.4 307.8h0M616.8 307.8h0M725.2 308.1h0M751.5 308.1h0M788.2 308.1h0M819.5 307.8h0M359 308.7h0M239.5 310.4h0M397.9 309.8h0M495.6 311.5h0M501 311.5h0M533 312.1h0M548.9 312.1h0M725.2 313.8h0M741.1 313.8h0M845 313.8h0M241 316.1h0M533.6 318.3h0M549.5 318.3h0M596 318.7h0M746 319.5h0M751.3 319.5h0M845 319.5h0M361.9 320h0M534.2 324h0M352.2 325.1h0M649.4 324.6h0M669.1 325.5h0M715 325.1h0M720.7 325.1h0M745.7 325.1h0M762.1 325.1h0M529.6 329.5h0M644.3 330.7h0M666.2 330.9h0M684.9 330.9h0M700.3 330.9h0M818.3 330.9h0M844.6 330.9h0M849.8 330.9h0M855.1 330.9h0M238.9 334.3h0M244.8 334.3h0M302.8 335.4h0M597.7 336h0M644.3 336h0M649.4 336h0M654.5 336h0M864.9 336h0M258.3 341.1h0M472.9 340.6h0M293.2 341.7h0M304 342.3h0M669.6 342.3h0M813.2 342.5h0M849 342.3h0M259.2 346.8h0M282.4 346.8h0M530.8 347h0M300 347.9h0M305.7 347.9h0M659.4 348.5h0M259.9 352.5h0M271.6 352.5h0M603.4 354.2h0M618.7 353.8h0M669.6 354.2h0M700.6 354.2h0M705.8 354.2h0M711.1 354.2h0M792.2 354.2h0M603.4 359.1h0M618.7 359.1h0M296 359.8h0M791.6 359.8h0M796.9 359.8h0M807.4 359.8h0M812.6 359.8h0M340.9 360.6h0M432.8 362.1h0M296.6 365h0M307.9 365h0M313.6 365h0M325 365h0M608.5 365h0M842.2 365h0M335.8 366.1h0M341.2 366.1h0M639.2 365.5h0M417.8 367.5h0M314.2 371.2h0M639.2 371.2h0M644.3 371.2h0M649.4 371.2h0M654.5 371.2h0M669.6 371.2h0M674.7 371.2h0M805.8 371.2h0M842.2 371.2h0M336.1 372.3h0M341.6 372.3h0M381.2 372.9h0M402.3 373.5h0M407.8 373.5h0M475.7 374h0M481.4 375.2h0M486.7 375.2h0M675.3 376.3h0M851.8 376.3h0M316.5 376.9h0M338.3 377.4h0M349.3 377.4h0M705.4 376.5h0M725.2 376.5h0M381.7 378h0M398.2 379.1h0M650.2 382h0M655.1 382h0M740.6 382.2h0M745.4 382.2h0M810.9 382h0M826.3 382h0M836.5 382h0M846.7 382h0M852.4 382h0M862.6 382h0M866.6 382h0M339 383.3h0M344.5 383.3h0M349.9 383.3h0M355.4 383.3h0M426 384.3h0M431.1 384.3h0M398.7 384.8h0M404.1 384.8h0M409.5 384.8h0M441.1 386h0M446.2 386h0M456.4 386h0M655.1 388.2h0M669.8 387.7h0M720.7 387.9h0M836.5 387.7h0M846.7 387.7h0M383.4 389.4h0M420.7 389.9h0M437.1 390.5h0M462.7 390.8h0M675.7 393.3h0M705.9 393.3h0M720.7 393.3h0M846.7 393.3h0M378.9 395.4h0M437.7 396.2h0M667.8 398.8h0M720.7 399h0M765.5 399h0M829.7 399h0M385.1 400.1h0M495 402.4h0M750.2 404.1h0M810.9 403.5h0M866.6 404.1h0M402.2 406h0M495 408.1h0M725.2 409.2h0M730.3 409.2h0M735.5 409.2h0M745.7 409.2h0M327.8 410.7h0M386.3 410.9h0M450 412.6h0M484.8 413.2h0M222.8 413.5h0M234.2 413.5h0M251.2 413.5h0M256.9 413.5h0M262.5 413.5h0M268.2 413.5h0M273.9 413.5h0M361.6 415.5h0M367 415.5h0M700.8 414.7h0M730.5 414.9h0M850.1 414.9h0M855.8 414.9h0M861.4 414.9h0M866.6 414.9h0M263.7 418.9h0M745.7 420.3h0M849 420h0M302.8 420.6h0M308.8 425.7h0M730.3 425.7h0M735.5 425.7h0M745.7 425.7h0M231.9 429.4h0M462.1 428.9h0M467.2 428.9h0M720.7 430.8h0M725.2 430.8h0M745.5 430.8h0M447 434.2h0M457.6 434.2h0M233 434.8h0M238.7 434.8h0M250.1 434.8h0M690.6 435.9h0M705.4 436.2h0M755.5 436.2h0M848.4 435.9h0M858.6 435.9h0M353.8 437.4h0M437.7 439.3h0M238.7 440.8h0M244.4 440.8h0M642.6 441h0M677 441.2h0M691.6 441.2h0M696.5 441.2h0M701.4 441.2h0M853.5 441h0M656 441.6h0M760.4 441.6h0M769.5 441.6h0M790.3 441.6h0M795.5 441.6h0M315.9 442.7h0M321.2 442.7h0M326.6 442.7h0M342.6 442.7h0M348 442.7h0M380.1 442.7h0M432.8 444.4h0M256.5 446.1h0M656 446.7h0M661.1 446.7h0M784.6 446.7h0M789.6 446.7h0M794.5 446.7h0M799.4 446.7h0M285.2 447.6h0M290.6 447.6h0M317.6 447.6h0M323 447.6h0M353.6 448.4h0M358.9 448.4h0M259.1 451.8h0M608 452.4h0M618 452.4h0M622.9 452.4h0M627.9 452.4h0M632.9 452.4h0M656 452.1h0M793.3 452.4h0M798.5 452.4h0M328.9 452.9h0M361.9 453.7h0M367.2 453.7h0M372.6 453.7h0M380.6 453.7h0M386 453.7h0M391.4 453.7h0M413.1 454.6h0M598.3 456.7h0M725.3 456.9h0M730.5 456.9h0M735.7 456.9h0M740.9 456.9h0M746.1 456.9h0M751.3 456.9h0M803.6 457.5h0M584.2 462.3h0M589.2 462.3h0M598.9 462.6h0M761.6 462.6h0M775.9 473.4h0M780.9 473.4h0M786 473.4h0M791.1 473.4h0M802.4 473.4h0M807.6 473.4h0M818.1 473.4h0M823.3 473.4h0M828.5 473.4h0M776.8 479h0M781.9 479h0M807 479h0M812.4 479h0M817.7 479h0M823.1 479h0M828.5 479h0M866.6 479h0M242.1 479.6h0M259.7 481.9h0M264.8 481.9h0M570.5 483.6h0M680.3 484.1h0M816.8 483.9h0M822.1 483.9h0M827.4 483.9h0M832.7 483.9h0M838 483.9h0M843.3 483.9h0M866.6 484.1h0M265.9 488.1h0M822 488.7h0M827.3 488.7h0M837.8 488.7h0M840.5 493.8h0M864.9 493.8h0M802.4 498.7h0M818.3 498.7h0M846.3 498.9h0M851.2 498.9h0M856.2 498.9h0M861.1 498.9h0M866 498.9h0M262.5 504h0M750.2 504h0M812.6 504h0M817.7 504h0M822.9 504h0M856.3 504h0M866 504h0M218.3 508.6h0M460.4 509.2h0M499.6 509.2h0M504.7 509.2h0M533 509.2h0M735.5 509.2h0M763.8 509.2h0M854.6 509.2h0M475.2 509.8h0M480 509.8h0M484.8 509.8h0M435.1 510.9h0M440.8 514.3h0M596.6 513.7h0M735.5 514h0M834.2 514h0M839.3 514h0M475.2 514.9h0M480.1 514.9h0M490.1 514.9h0M495 514.9h0M499.6 514.9h0M504.1 514.9h0M465.5 517.1h0M455.6 519.4h0M839.9 519.1h0M854.9 519.1h0M864.9 519.1h0M480.3 520h0M485.2 520h0M490.1 520h0M495 520h0M406.7 521.1h0M819.5 524.2h0M830.8 524.2h0M836.5 524.2h0M854.6 524.2h0M460.4 524.5h0M464.4 524.5h0M485.4 525.1h0M490.2 525.1h0M495 525.1h0M509.8 525.1h0M864.9 524.5h0M344.3 525.7h0M406.7 526.2h0M530.2 529.1h0M806.3 529.3h0M821.5 529.3h0M826.5 529.3h0M831.6 529.3h0M836.6 529.3h0M846.7 529.3h0M485.4 529.6h0M509.8 529.6h0M329.3 530.8h0M340.3 530.8h0M356.7 530.8h0M371.5 530.8h0M377.2 530.8h0M406.7 531.3h0M411.8 531.3h0M416.9 531.3h0M849 534.4h0M860.3 534.4h0M377.2 535.3h0M465.5 534.7h0M470.1 534.7h0M416.9 536.4h0M422 536.4h0M471.2 538.7h0M844.4 539.3h0M854.6 539.3h0M310.2 540.4h0M382.9 540.6h0M446.6 543.3h0M315.9 545.5h0M378.3 545.5h0M382.9 545.5h0M854.4 548.9h0M247.8 550.1h0M263.7 550.1h0M269.3 550.1h0M284.1 550.4h0M290.2 550.4h0M404.2 551.2h0M332.9 555.2h0M424.9 556.3h0M250.1 559.9h0M277.3 559.9h0M283 559.9h0M288.6 559.9h0M358.9 560.8h0M363.9 560.8h0M373.9 560.8h0M379 560.8h0M388.5 560.8h0M399 560.8h0M404.2 560.8h0M409.4 560.8h0M244.4 564.3h0M255.7 564.3h0M282.3 564.8h0M298.9 564.8h0M334 565.4h0M386.3 566h0M390.8 566h0M399.9 566.5h0M319.3 569.7h0M377.2 570.8h0M387.4 570.8h0M397.6 570.8h0M252.3 574.5h0M263.1 575h0M288.6 575.4h0M293.9 575.4h0M299.2 575.4h0M340.9 575.6h0M247.8 579.6h0M299.6 580.1h0M304.9 580.1h0M310.2 580.1h0M336.3 580.1h0M362.4 580.1h0M221.7 584.7h0M227.4 584.7h0M295.5 585.8h0M300.9 585.8h0M328.4 585.8h0M337.2 585.8h0M342.6 585.8h0M381.7 586.4h0M392.4 586.4h0M227.4 590.4h0M254.3 590.9h0M270.3 590.9h0M275.7 590.9h0M281 590.9h0M286.4 590.9h0M331.8 590.9h0M336.9 590.9h0M342 590.9h0M407.8 591.5h0M413.8 591.5h0M227.9 595.5h0M233 595.5h0M247.8 595.5h0M253.8 595.5h0M259.9 595.5h0M265.9 595.5h0M275 595.5h0M280.7 595.5h0M286.4 595.5h0M347.3 595.5h0M312.5 596h0M318.2 596h0M842.9 597.7h0M848.2 597.7h0M860.3 597.7h0M281.8 600h0M286.4 600h0M227.9 600.6h0M233 600.6h0M238.1 600.6h0M312.5 600.6h0M323.8 600.6h0M853.5 602.3h0M359 605.1h0M237.6 605.7h0M318.2 605.7h0M323.8 605.7h0M403.9 605.7h0M409 605.7h0M238.7 608.5h0M265.9 608.5h0M271.6 608.5h0M293.2 609.7h0M298.3 609.7h0M322.7 610.2h0M328.4 610.2h0M334 610.2h0M244.4 613.6h0M250.8 613.6h0M263.7 613.6h0M297.7 614.2h0M303.4 614.2h0M328.9 614.8h0M335.2 614.8h0M368.9 614.8h0M795 617h0M251.2 618.2h0M272.8 618.7h0M329.5 619.9h0M262.5 623.3h0M287.5 623.8h0M293.6 623.8h0M299.6 623.8h0M305.7 623.8h0M281.8 629h0M311.3 629.5h0M346.5 633.5h0M270.5 638.6h0M277.3 638.6h0M330.6 638.9h0M336.3 638.9h0M342 638.9h0M390.8 639.7h0M276.2 643.1h0M305.7 643.7h0M317 643.7h0M322.7 643.7h0M638 646h0M382.3 648.8h0M301.1 652.8h0M307.1 652.8h0M313.6 657.9h0M323.3 657.9h0M303.4 662.4h0M817.2 664.7h0M267.1 666.4h0M272.8 666.4h0M288.6 666.4h0M359 667h0M826.3 669.2h0M267.1 671.5h0M283 671.5h0M288.6 671.5h0M294.3 671.5h0M300 671.5h0M305.7 671.5h0M360.2 671.5h0M365.8 671.5h0M253.5 675.7h0M268.2 675.7h0M283 676.1h0M289.2 676.1h0M295.5 676.1h0M369.8 676.6h0M259.1 680.6h0M263.7 680.6h0M835.3 682.9h0"/>
<path stroke="#e60000" d="M668.3 148.4h0M777.5 148.4h0M810.4 148.4h0M818.3 153.7h0M504.1 158.9h0M759.9 162h0M251.2 177.9h0M506.9 179.8h0M736.6 181.6h0M747.9 181.6h0M759.3 181.6h0M514.3 193.8h0M675.9 196.1h0M446.8 198h0M435.6 205.4h0M505.2 213.6h0M433.4 217.6h0M467.8 219h0M688.3 221.8h0M252.3 224.1h0M418.6 229.8h0M688.3 234.3h0M688.3 241.1h0M678.3 253.6h0M565.4 257.8h0M699.1 258.2h0M843.3 265h0M683.4 265.5h0M699.7 265.5h0M731.5 265.5h0M269.5 269.5h0M291.5 276.3h0M301.7 276.3h0M841.6 277.5h0M555.8 283.1h0M609.7 283.7h0M360.2 284.8h0M365.8 284.8h0M558 289.2h0M809.2 289.4h0M362.4 296.4h0M605.7 301.6h0M720.5 301.9h0M725.8 301.9h0M357.9 302.8h0M392.5 309.8h0M850.3 319.5h0M346.2 325.1h0M550.1 324.6h0M751.2 325.1h0M301.7 330.3h0M690.1 330.9h0M233 334.3h0M250.7 334.3h0M498.4 335.2h0M478 340.6h0M598.3 342.3h0M623.3 342.3h0M808.1 342.5h0M669.6 348.5h0M265.8 352.5h0M593.2 354.2h0M675 354.2h0M735.5 354.7h0M588.1 359.1h0M598.3 359.1h0M302.3 365h0M330.6 372.3h0M396.9 373.5h0M650.5 376.5h0M659.4 381.4h0M675.3 382h0M796.2 382h0M715.6 382.6h0M664.6 387.7h0M362 389.4h0M457.6 390.8h0M680.6 393.3h0M690.1 393.3h0M673.7 398.8h0M810.9 399h0M735.5 404.1h0M338.6 410.7h0M444.7 412.6h0M239.8 413.5h0M245.5 413.5h0M710.9 420.6h0M281.6 425.7h0M405 428h0M237.6 429.4h0M695.7 435.9h0M774.7 441.6h0M250.9 446.1h0M267.7 446.1h0M253.5 451.8h0M803.6 452.4h0M866.6 473.4h0M787.1 479h0M792.2 479h0M685.3 484.1h0M690.3 484.1h0M260.3 488.1h0M817.2 493.8h0M812.6 498.7h0M744.5 504h0M851.5 504h0M527.9 509.2h0M547.2 509.2h0M827.4 509.2h0M826.3 514h0M485.1 514.9h0M825.1 524.2h0M411.2 526.2h0M465.5 529.6h0M334.8 530.8h0M854.6 534.4h0M860.3 539.3h0M315.9 540.4h0M441.1 539.8h0M409.4 551.2h0M414.6 551.2h0M334 560.8h0M384 560.8h0M393.8 560.8h0M250.1 564.3h0M298.9 569.9h0M372.1 570.8h0M382.3 570.8h0M306.4 585.8h0M233 590.4h0M248.9 590.9h0M265 590.9h0M244.4 601.7h0M286.4 605.1h0M343.1 605.1h0M233 605.7h0M271.6 614.2h0M322.7 614.8h0M293.2 618.7h0M315.9 619.3h0M346.5 624.4h0M275.8 629h0M305.7 629.5h0M830.8 678.9h0"/>
<path stroke="#cc0000" d="M268 150h0M374.2 156.6h0M488.2 165.9h0M370.7 170.2h0M311.9 173.6h0M378.4 177.2h0M313.6 181h0M430 198h0M288.6 200.3h0M313 200.8h0M785.4 214.5h0M796.7 215h0M416.3 217.6h0M227.4 224.1h0M417.5 224.7h0M785.4 227.5h0M796.2 247.2h0M812.1 247.2h0M284.7 257.4h0M822.9 258.2h0M576.2 265h0M603.4 265.3h0M305.7 269.5h0M793.9 271.2h0M793.9 277.8h0M598.3 283.7h0M233.6 292.6h0M564.3 307.3h0M560.3 324.6h0M679.8 337.1h0M843.9 342.3h0M593.2 348.2h0M701.4 348.5h0M495 351.9h0M468.9 357.6h0M836.5 359.8h0M842.2 359.8h0M858.6 371.2h0M538.2 375.7h0M645.4 376.5h0M816 382h0M821.2 382h0M425.7 389.9h0M430.7 389.9h0M656 393.3h0M665.8 393.3h0M656 398.8h0M849.7 399h0M685.9 404.1h0M278.4 408.3h0M505.8 408.1h0M700.8 408.7h0M740.6 409.2h0M844.4 414.9h0M705.6 420.6h0M761 425.7h0M671.9 430.8h0M740.6 430.8h0M227.4 434.8h0M785.4 435.3h0M661.1 435.9h0M800.6 441.6h0M348.2 448.4h0M236.4 451.2h0M276.2 451.8h0M356.5 453.7h0M387.4 459.7h0M564.3 462.3h0M256.9 472.2h0M526.8 483.2h0M848.3 488.7h0M853.5 488.7h0M538.2 502.9h0M435.1 506.3h0M441.7 507.1h0M538.2 507.1h0M450.6 509.2h0M455.5 509.2h0M509.8 509.2h0M409 511.5h0M414.6 511.5h0M277.9 534.7h0M241 544.4h0M246.6 544.4h0M317.4 585.8h0M318.2 590.9h0M245.5 608h0M269.3 633.5h0"/>
<path stroke="#b30000" d="M274.5 150h0M280.9 150h0M293.8 150h0M288.8 156.6h0M295.3 156.6h0M301.7 156.6h0M368.1 156.6h0M380.3 156.6h0M392.5 156.6h0M481.1 158.9h0M303.3 163.4h0M363 162.8h0M364.7 170.2h0M476.9 172.2h0M366.4 177.2h0M372.4 177.2h0M384.4 177.2h0M512.6 179.8h0M307.4 181h0M380.6 183.6h0M392.2 183.6h0M284.5 186.7h0M525.1 187h0M742.3 188.9h0M387.4 190.9h0M393.4 190.9h0M399.5 190.9h0M405.6 190.9h0M286.4 192.9h0M311.3 194h0M753.6 196.1h0M225.6 198h0M453 198h0M233.6 204.8h0M265.4 204.8h0M419.2 205.4h0M289.8 206h0M314.2 207.1h0M643.7 209h0M803 208.6h0M267.1 212.2h0M316.5 213.9h0M802.2 215h0M807.7 215h0M813.2 215h0M802.4 221.3h0M246.1 224.1h0M807.8 228.1h0M813.8 228.1h0M407.3 229.8h0M623.3 234h0M785.4 234h0M790.8 234h0M807 234.3h0M785.4 241.1h0M790.8 241.1h0M818.3 240.8h0M618.7 246.3h0M678.1 246.8h0M790.5 247.2h0M817.7 247.2h0M394.2 254.2h0M789.9 253.6h0M795.6 253.6h0M812.1 253.6h0M822.9 253.6h0M278.4 257.4h0M290.9 257.4h0M603.4 258.2h0M789.9 258.2h0M795.3 258.2h0M800.7 258.2h0M817.2 258.2h0M859.2 258.2h0M267.6 263.8h0M273.6 263.8h0M279.6 263.8h0M291.5 263.8h0M297.4 263.8h0M303.4 263.8h0M565.4 265h0M795 265h0M800.2 265h0M859.2 265h0M715 265.5h0M720.5 265.5h0M239.3 269.5h0M245.3 269.5h0M251.3 269.5h0M257.4 269.5h0M263.4 269.5h0M287.6 269.5h0M293.6 269.5h0M299.6 269.5h0M699.1 271.2h0M799.6 271.2h0M821.2 271.5h0M306.8 276.3h0M814.9 277.5h0M820.6 277.5h0M830.8 277.5h0M799.3 277.8h0M341.4 278.6h0M561.4 283.1h0M647.1 283.7h0M814.9 283.7h0M593.8 289.4h0M653.4 289.6h0M736.3 289.6h0M725.8 296h0M751.3 295.6h0M757 295.6h0M306.8 301.3h0M757 301.3h0M318.2 301.6h0M323.8 301.6h0M735.5 301.6h0M741.1 301.6h0M302 306.4h0M307.9 306.4h0M756.8 308.1h0M527.4 312.1h0M303.4 312.7h0M309.1 312.7h0M559.2 312.7h0M564.8 312.7h0M595.5 313.2h0M560.3 318.3h0M305.7 318.9h0M740.8 319.5h0M306.8 324h0M523.2 324h0M560.9 329.8h0M834.1 330.9h0M839.3 330.9h0M488.2 335.2h0M560.9 336h0M684.9 337.1h0M710.5 336.6h0M715.6 336.6h0M720.7 336.6h0M725.8 336.6h0M730.9 336.6h0M838.7 336.6h0M252.3 341.1h0M467.8 340.6h0M488.8 341.1h0M493.9 341.1h0M520 341.3h0M639.2 342.3h0M644.3 342.3h0M649.4 342.3h0M664.5 342.3h0M838.7 342.3h0M253.5 346.8h0M685.5 348.5h0M690.8 348.5h0M843.3 348.5h0M863.7 347.9h0M463.8 351.1h0M254 352.5h0M294.9 353.8h0M300.6 353.8h0M858.6 354.2h0M644.9 354.5h0M725.2 354.7h0M843.3 354.7h0M463.8 357.6h0M261.4 358.7h0M267.4 358.7h0M273.3 358.7h0M858 359.3h0M583.6 364.7h0M588.7 364.7h0M593.8 364.7h0M598.9 364.7h0M836.5 365h0M856.9 365h0M303.2 371.2h0M308.7 371.2h0M624.4 370.6h0M836.5 371.2h0M391.4 373.5h0M826.3 376.3h0M856.9 376.3h0M327.2 377.4h0M640.3 376.5h0M419.7 379.1h0M451.3 379.7h0M456.4 379.7h0M461.5 379.7h0M645.4 382h0M333.5 383.3h0M605.1 387.7h0M610.2 387.7h0M615.3 387.7h0M620.4 387.7h0M625.6 387.7h0M650.5 388.2h0M710.5 387.9h0M715.6 387.9h0M345.4 389.4h0M350.9 389.4h0M435.6 389.9h0M650.5 393.3h0M655.1 393.3h0M780.9 393.3h0M855.8 393.1h0M610.8 393.6h0M363 395.4h0M509.8 397.6h0M514.9 397.6h0M520 397.6h0M655.1 399h0M661.9 398.8h0M685.5 398.8h0M779.7 399h0M785.4 399h0M795.6 399h0M800.7 399h0M855 399h0M326.7 404.5h0M338 404.5h0M675.3 404.1h0M680.6 404.1h0M691.2 404.1h0M800.7 403.5h0M816 403.5h0M821.2 403.5h0M860.3 404.1h0M255.7 408.3h0M261.4 408.3h0M267.1 408.3h0M272.8 408.3h0M500.4 408.1h0M720.7 414.9h0M725.6 414.9h0M735.5 414.9h0M735.5 420.3h0M740.6 420.3h0M755.3 420h0M700.3 420.6h0M716.2 420.6h0M740.6 425.7h0M750.8 425.7h0M755.9 425.7h0M220.5 429.4h0M226.2 429.4h0M655.1 430.8h0M656 430.8h0M685.5 430.8h0M690.6 430.8h0M695.7 430.8h0M760.4 430.8h0M838.7 430.8h0M779.7 435.3h0M838.7 435.9h0M647.7 436.7h0M227.4 440.8h0M233 440.8h0M627.8 441h0M838.7 441h0M843.7 441h0M785.1 441.6h0M805.8 441.6h0M234.2 446.1h0M239.8 446.1h0M245.3 446.1h0M598.3 446.5h0M603.4 446.5h0M833.1 446.5h0M804.3 446.7h0M809.2 446.7h0M848.4 446.7h0M853.5 446.7h0M858.6 446.7h0M296 447.6h0M306.8 447.6h0M312.2 447.6h0M242.1 451.2h0M247.8 451.2h0M270.5 451.8h0M833.1 452.4h0M847.8 452.4h0M853.5 452.4h0M323.5 452.9h0M351.1 453.7h0M418.4 454.6h0M423.7 454.6h0M438.8 455.5h0M253.5 456.9h0M259.1 456.9h0M270.5 456.9h0M276.2 456.9h0M856.9 456.9h0M356.2 459.2h0M372.6 459.2h0M392.7 459.7h0M398 459.7h0M403.3 459.7h0M569.3 462.3h0M574.3 462.3h0M832.5 462.6h0M388.5 465.4h0M393.9 465.4h0M399.3 465.4h0M554.6 467.3h0M856.9 467.1h0M837.6 467.7h0M228.5 470.7h0M234.2 470.7h0M239.8 470.7h0M245.5 470.7h0M251.2 470.7h0M550.1 472.6h0M856.9 473.4h0M861.4 473.4h0M230.8 475.6h0M236.4 475.6h0M242.1 475.6h0M247.8 475.6h0M253.5 475.6h0M535.9 477.6h0M541 477.6h0M861.4 478.5h0M521.7 483.2h0M843 488.7h0M845.4 493.8h0M850.3 493.8h0M855.1 493.8h0M433.9 501.7h0M438.8 501.7h0M443.9 501.7h0M533 502.9h0M436 507.1h0M458.7 507.1h0M508.6 507.1h0M517.7 507.1h0M522.8 507.1h0M527.9 507.1h0M533 507.1h0M252.3 509.2h0M436 509.2h0M440.9 509.2h0M522.8 509.2h0M420.3 511.5h0M426 511.5h0M390.2 516h0M460.4 519.4h0M348.8 520h0M356.7 520h0M509.8 520h0M318.2 525.1h0M350.5 525.7h0M356.7 525.7h0M369.2 525.7h0M375.5 525.7h0M381.7 525.7h0M323.8 530.8h0M386.3 531.3h0M391.4 531.3h0M283 534.7h0M293.2 535.3h0M298.9 535.3h0M310.2 535.3h0M315.9 535.3h0M288.6 540.2h0M304.5 540.4h0M252.3 544.4h0M258 544.4h0M263.7 544.4h0M269.3 544.4h0M275 544.4h0M329.5 550.6h0M285.2 555.7h0M290.7 555.7h0M296.2 555.7h0M301.7 555.7h0M307.2 555.7h0M312.7 555.7h0M318.2 555.7h0M382.9 556.3h0M388.1 556.3h0M393.4 556.3h0M398.6 556.3h0M403.9 556.3h0M409.1 556.3h0M414.4 556.3h0M419.6 556.3h0M335.2 570.5h0M304.5 575.4h0M248.9 585.8h0M254.6 585.8h0M322.9 585.8h0M342 595.5h0M329.5 600.6h0M346.5 600.6h0M352.2 600.6h0M357.9 600.6h0M363.6 600.6h0M369.2 600.6h0M343.1 610.2h0M348.8 610.2h0M357.9 610.2h0M364.7 610.2h0M334 619.9h0M269.7 629h0M330.6 633.5h0M335.9 633.5h0M341.2 633.5h0M327.8 648.2h0M313 652.8h0M319 652.8h0M325 652.8h0"/>
<path stroke="#990000" d="M287.3 150h0M386.4 156.6h0M309.6 163.4h0M305.5 173.6h0M386.4 183.6h0M292 192.9h0M294.3 200.3h0M704 202.6h0M430.5 205.4h0M699.1 214.7h0M785.4 221.1h0M807.8 221.3h0M813.2 221.3h0M813.2 234.3h0M408.4 236.6h0M812.6 240.8h0M285.5 263.8h0M652.8 283.7h0M599.2 289.4h0M730.9 289.6h0M741.7 289.6h0M517.7 318.3h0M529.1 318.3h0M735.5 319.5h0M517.7 324h0M629 336.6h0M644.9 348.5h0M674.9 348.5h0M680.2 348.5h0M696.1 348.5h0M802.4 354.2h0M297.7 371.2h0M862 376.3h0M414.1 379.1h0M660.9 393.3h0M679.6 398.8h0M844.4 399h0M854.6 404.1h0M250.1 408.3h0M505.8 414h0M843.3 430.8h0M452.3 434.2h0M656 435.9h0M843.3 435.9h0M652.8 436.7h0M848.6 441h0M818.3 446.5h0M843.3 446.7h0M301.4 447.6h0M318.2 452.9h0M361.7 459.2h0M367.2 459.2h0M559.7 467.3h0M262.5 472.2h0M531.9 483.2h0M547.8 502.9h0M447.4 507.1h0M453 507.1h0M445.8 509.2h0M396.5 531.3h0M304.5 535.3h0M320.4 550.6h0M311.9 585.8h0M259.6 590.9h0M311.3 590.9h0"/></g>
<use href="#grid"/><use href="#coast" clip-path="url(#ax)"/>
<text class="s" transform="translate(114.6 146.7) scale(0.985 1.045)" text-anchor="end">35</text>
<text class="o" x="114.1" y="126.8">°</text>
<text class="s" transform="translate(148.3 146.7) scale(0.985 1.045)">N</text>
<text class="s" transform="translate(114.6 259.7) scale(0.985 1.045)" text-anchor="end">30</text>
<text class="o" x="114.1" y="239.8">°</text>
<text class="s" transform="translate(148.3 259.7) scale(0.985 1.045)">N</text>
<text class="s" transform="translate(114.6 370) scale(0.985 1.045)" text-anchor="end">25</text>
<text class="o" x="114.1" y="350.1">°</text>
<text class="s" transform="translate(148.3 370) scale(0.985 1.045)">N</text>
<text class="s" transform="translate(114.6 476.8) scale(0.985 1.045)" text-anchor="end">20</text>
<text class="o" x="114.1" y="456.9">°</text>
<text class="s" transform="translate(148.3 476.8) scale(0.985 1.045)">N</text>
<text class="s" transform="translate(114.6 581.8) scale(0.985 1.045)" text-anchor="end">15</text>
<text class="o" x="114.1" y="561.9">°</text>
<text class="s" transform="translate(148.3 581.8) scale(0.985 1.045)">N</text>
<text class="s" transform="translate(114.6 685.8) scale(0.985 1.045)" text-anchor="end">10</text>
<text class="o" x="114.1" y="665.9">°</text>
<text class="s" transform="translate(148.3 685.8) scale(0.985 1.045)">N</text>
<text class="s" transform="translate(273.5 767.5) scale(0.985 1.045)" text-anchor="end">110</text>
<text class="o" x="273.1" y="747.6">°</text>
<text class="s" transform="translate(306.6 767.5) scale(0.985 1.045)">E</text>
<text class="s" transform="translate(477.3 767.5) scale(0.985 1.045)" text-anchor="end">120</text>
<text class="o" x="476.9" y="747.6">°</text>
<text class="s" transform="translate(510.4 767.5) scale(0.985 1.045)">E</text>
<text class="s" transform="translate(681.1 767.5) scale(0.985 1.045)" text-anchor="end">130</text>
<text class="o" x="680.7" y="747.6">°</text>
<text class="s" transform="translate(714.2 767.5) scale(0.985 1.045)">E</text>
<text class="s" transform="translate(884.9 767.5) scale(0.985 1.045)" text-anchor="end">140</text>
<text class="o" x="884.5" y="747.6">°</text>
<text class="s" transform="translate(918 767.5) scale(0.985 1.045)">E</text>
</g>
<text class="p" x="1205.9" y="858.8">(d)</text>
<text class="t" x="1737.2" y="931.7" text-anchor="middle">1755 cm<tspan class="u" dy="-26.8" dx="1.2" style="font-size:57px">−</tspan><tspan class="u" dy="-2.3" dx="-2.6">1</tspan></text>
<rect x="2098.2" y="941.5" width="65.8" height="542.4" fill="url(#jet)" stroke="#262626" stroke-width="2.8"/>
<path d="M2164 1036.7h-7M2164 1137.3h-7M2164 1238h-7M2164 1339.1h-7M2164 1439.6h-7" stroke="#262626" stroke-width="2.6" fill="none"/>
<text class="c" x="2184.5" y="1054.1">280</text>
<text class="c" x="2184.5" y="1154.7">260</text>
<text class="c" x="2184.5" y="1255.4">240</text>
<text class="c" x="2184.5" y="1356.5">220</text>
<text class="c" x="2184.5" y="1457">200</text>
<text class="k" x="2132.7" y="914.9" text-anchor="middle">K</text>
</svg></body></html>
